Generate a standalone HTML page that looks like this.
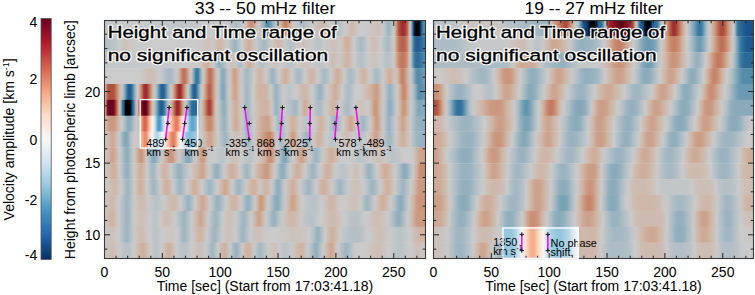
<!DOCTYPE html><html><head><meta charset="utf-8"><style>html,body{margin:0;padding:0;background:#fff;overflow:hidden}svg{display:block}</style></head><body><svg width="755" height="295" viewBox="0 0 755 295"><defs><linearGradient id="L0" gradientUnits="userSpaceOnUse" x1="104.5" y1="0" x2="425.5" y2="0"><stop offset="0.0000" stop-color="#bcc4c8"/><stop offset="0.0031" stop-color="#bdc4c8"/><stop offset="0.0078" stop-color="#bec4c8"/><stop offset="0.0125" stop-color="#bfc5c8"/><stop offset="0.0171" stop-color="#c0c5c9"/><stop offset="0.0218" stop-color="#c1c6c9"/><stop offset="0.0265" stop-color="#c2c6c9"/><stop offset="0.0312" stop-color="#c3c7c9"/><stop offset="0.0358" stop-color="#c4c7c9"/><stop offset="0.0405" stop-color="#c5c8c9"/><stop offset="0.0452" stop-color="#c6c8ca"/><stop offset="0.0499" stop-color="#c6c9ca"/><stop offset="0.0545" stop-color="#c7c9ca"/><stop offset="0.0592" stop-color="#c8c9ca"/><stop offset="0.0639" stop-color="#c8c9ca"/><stop offset="0.0686" stop-color="#c9caca"/><stop offset="0.0732" stop-color="#cacaca"/><stop offset="0.0779" stop-color="#cacaca"/><stop offset="0.0826" stop-color="#cacaca"/><stop offset="0.0873" stop-color="#cacaca"/><stop offset="0.0919" stop-color="#cacaca"/><stop offset="0.0966" stop-color="#c9caca"/><stop offset="0.1013" stop-color="#c9caca"/><stop offset="0.1060" stop-color="#c9caca"/><stop offset="0.1106" stop-color="#c8c9ca"/><stop offset="0.1153" stop-color="#c8c9ca"/><stop offset="0.1200" stop-color="#c8c9ca"/><stop offset="0.1246" stop-color="#c7c9ca"/><stop offset="0.1293" stop-color="#c7c9ca"/><stop offset="0.1340" stop-color="#c6c9ca"/><stop offset="0.1387" stop-color="#c6c8ca"/><stop offset="0.1433" stop-color="#c6c8ca"/><stop offset="0.1480" stop-color="#c5c8ca"/><stop offset="0.1527" stop-color="#c5c8ca"/><stop offset="0.1574" stop-color="#c5c8c9"/><stop offset="0.1620" stop-color="#c4c8c9"/><stop offset="0.1667" stop-color="#c4c7c9"/><stop offset="0.1714" stop-color="#c4c7c9"/><stop offset="0.1761" stop-color="#c3c7c9"/><stop offset="0.1807" stop-color="#c3c7c9"/><stop offset="0.1854" stop-color="#c3c7c9"/><stop offset="0.1901" stop-color="#c2c7c9"/><stop offset="0.1948" stop-color="#c2c6c9"/><stop offset="0.1994" stop-color="#c2c6c9"/><stop offset="0.2041" stop-color="#c1c6c9"/><stop offset="0.2088" stop-color="#c1c6c9"/><stop offset="0.2135" stop-color="#c1c6c9"/><stop offset="0.2181" stop-color="#c0c6c9"/><stop offset="0.2228" stop-color="#c0c6c9"/><stop offset="0.2275" stop-color="#c0c5c9"/><stop offset="0.2322" stop-color="#bfc5c8"/><stop offset="0.2368" stop-color="#bfc5c8"/><stop offset="0.2415" stop-color="#bfc5c8"/><stop offset="0.2462" stop-color="#bec5c8"/><stop offset="0.2509" stop-color="#bfc5c8"/><stop offset="0.2555" stop-color="#bfc5c9"/><stop offset="0.2602" stop-color="#c0c6c9"/><stop offset="0.2649" stop-color="#c1c6c9"/><stop offset="0.2696" stop-color="#c2c6c9"/><stop offset="0.2742" stop-color="#c3c7c9"/><stop offset="0.2789" stop-color="#c4c7c9"/><stop offset="0.2836" stop-color="#c4c8c9"/><stop offset="0.2883" stop-color="#c5c8ca"/><stop offset="0.2929" stop-color="#c6c8ca"/><stop offset="0.2976" stop-color="#c6c8ca"/><stop offset="0.3023" stop-color="#c6c8ca"/><stop offset="0.3069" stop-color="#c6c9ca"/><stop offset="0.3116" stop-color="#c7c9ca"/><stop offset="0.3163" stop-color="#c7c9ca"/><stop offset="0.3210" stop-color="#c7c9ca"/><stop offset="0.3256" stop-color="#c8c9ca"/><stop offset="0.3303" stop-color="#c8c9ca"/><stop offset="0.3350" stop-color="#c8c9ca"/><stop offset="0.3397" stop-color="#c8caca"/><stop offset="0.3443" stop-color="#c9caca"/><stop offset="0.3490" stop-color="#c9caca"/><stop offset="0.3537" stop-color="#c9caca"/><stop offset="0.3584" stop-color="#cacaca"/><stop offset="0.3630" stop-color="#cacaca"/><stop offset="0.3677" stop-color="#cacaca"/><stop offset="0.3724" stop-color="#cacaca"/><stop offset="0.3771" stop-color="#c9caca"/><stop offset="0.3817" stop-color="#c5c8ca"/><stop offset="0.3864" stop-color="#c2c6c9"/><stop offset="0.3911" stop-color="#bec4c8"/><stop offset="0.3958" stop-color="#bac3c7"/><stop offset="0.4004" stop-color="#b6c1c7"/><stop offset="0.4051" stop-color="#b2bfc6"/><stop offset="0.4098" stop-color="#afbdc5"/><stop offset="0.4145" stop-color="#afbec5"/><stop offset="0.4191" stop-color="#b5c0c7"/><stop offset="0.4238" stop-color="#bbc3c8"/><stop offset="0.4285" stop-color="#c2c6c9"/><stop offset="0.4332" stop-color="#c9caca"/><stop offset="0.4378" stop-color="#ccc3bd"/><stop offset="0.4425" stop-color="#cfb8ab"/><stop offset="0.4472" stop-color="#cda793"/><stop offset="0.4519" stop-color="#ca957c"/><stop offset="0.4565" stop-color="#c98f74"/><stop offset="0.4612" stop-color="#ca947b"/><stop offset="0.4659" stop-color="#cda490"/><stop offset="0.4706" stop-color="#cfb5a6"/><stop offset="0.4752" stop-color="#cdbeb6"/><stop offset="0.4799" stop-color="#cbc8c6"/><stop offset="0.4846" stop-color="#c0c5c9"/><stop offset="0.4892" stop-color="#b1bec6"/><stop offset="0.4939" stop-color="#9bb3c0"/><stop offset="0.4986" stop-color="#82a7b9"/><stop offset="0.5033" stop-color="#6696b0"/><stop offset="0.5079" stop-color="#5289a9"/><stop offset="0.5126" stop-color="#578dab"/><stop offset="0.5173" stop-color="#709cb3"/><stop offset="0.5220" stop-color="#89aabb"/><stop offset="0.5266" stop-color="#a1b6c2"/><stop offset="0.5313" stop-color="#b3bfc6"/><stop offset="0.5360" stop-color="#c2c6c9"/><stop offset="0.5407" stop-color="#cbc7c4"/><stop offset="0.5453" stop-color="#cebcb2"/><stop offset="0.5500" stop-color="#cfb1a0"/><stop offset="0.5547" stop-color="#cc9d86"/><stop offset="0.5594" stop-color="#c98a6e"/><stop offset="0.5640" stop-color="#c47f64"/><stop offset="0.5687" stop-color="#c8886b"/><stop offset="0.5734" stop-color="#cb9b83"/><stop offset="0.5781" stop-color="#cfb09e"/><stop offset="0.5827" stop-color="#cebcb2"/><stop offset="0.5874" stop-color="#cbc7c4"/><stop offset="0.5921" stop-color="#c7c9ca"/><stop offset="0.5968" stop-color="#c2c7c9"/><stop offset="0.6014" stop-color="#bdc4c8"/><stop offset="0.6061" stop-color="#b9c2c7"/><stop offset="0.6108" stop-color="#b4c0c6"/><stop offset="0.6155" stop-color="#afbec6"/><stop offset="0.6201" stop-color="#aebdc5"/><stop offset="0.6248" stop-color="#b2bfc6"/><stop offset="0.6295" stop-color="#b7c1c7"/><stop offset="0.6342" stop-color="#bbc3c8"/><stop offset="0.6388" stop-color="#c0c6c9"/><stop offset="0.6435" stop-color="#c5c8c9"/><stop offset="0.6482" stop-color="#c9caca"/><stop offset="0.6529" stop-color="#cbc8c7"/><stop offset="0.6575" stop-color="#ccc5c1"/><stop offset="0.6622" stop-color="#ccc2bb"/><stop offset="0.6669" stop-color="#cdbfb6"/><stop offset="0.6715" stop-color="#cebbb0"/><stop offset="0.6762" stop-color="#cebaad"/><stop offset="0.6809" stop-color="#cebcb1"/><stop offset="0.6856" stop-color="#cdbfb6"/><stop offset="0.6902" stop-color="#ccc2bc"/><stop offset="0.6949" stop-color="#ccc5c2"/><stop offset="0.6996" stop-color="#cbc9c7"/><stop offset="0.7043" stop-color="#c9caca"/><stop offset="0.7089" stop-color="#c4c8c9"/><stop offset="0.7136" stop-color="#c0c5c9"/><stop offset="0.7183" stop-color="#bbc3c8"/><stop offset="0.7230" stop-color="#b7c1c7"/><stop offset="0.7276" stop-color="#b5c0c6"/><stop offset="0.7323" stop-color="#b8c2c7"/><stop offset="0.7370" stop-color="#bdc4c8"/><stop offset="0.7417" stop-color="#c2c7c9"/><stop offset="0.7463" stop-color="#c7c9ca"/><stop offset="0.7510" stop-color="#cbc9c8"/><stop offset="0.7557" stop-color="#ccc5c1"/><stop offset="0.7604" stop-color="#cdc1ba"/><stop offset="0.7650" stop-color="#cdbdb4"/><stop offset="0.7697" stop-color="#cebaaf"/><stop offset="0.7744" stop-color="#cebcb1"/><stop offset="0.7791" stop-color="#cdc0b8"/><stop offset="0.7837" stop-color="#ccc3be"/><stop offset="0.7884" stop-color="#cbc7c4"/><stop offset="0.7931" stop-color="#cbcac9"/><stop offset="0.7978" stop-color="#cbcbcb"/><stop offset="0.8024" stop-color="#cbcbcb"/><stop offset="0.8071" stop-color="#cbcbcb"/><stop offset="0.8118" stop-color="#cbcbcb"/><stop offset="0.8165" stop-color="#cbcaca"/><stop offset="0.8211" stop-color="#cbc9c8"/><stop offset="0.8258" stop-color="#cbc8c6"/><stop offset="0.8305" stop-color="#cbc6c3"/><stop offset="0.8352" stop-color="#ccc4c0"/><stop offset="0.8398" stop-color="#ccc3bd"/><stop offset="0.8445" stop-color="#cdc1bb"/><stop offset="0.8492" stop-color="#cdc0b8"/><stop offset="0.8538" stop-color="#cdc0b9"/><stop offset="0.8585" stop-color="#ccc4bf"/><stop offset="0.8632" stop-color="#cbc7c5"/><stop offset="0.8679" stop-color="#c8caca"/><stop offset="0.8725" stop-color="#bec4c8"/><stop offset="0.8772" stop-color="#b1bfc6"/><stop offset="0.8819" stop-color="#a2b7c2"/><stop offset="0.8866" stop-color="#9cb4c0"/><stop offset="0.8912" stop-color="#adbcc5"/><stop offset="0.8959" stop-color="#bac3c7"/><stop offset="0.9006" stop-color="#c9caca"/><stop offset="0.9053" stop-color="#ceb9ad"/><stop offset="0.9099" stop-color="#ca9278"/><stop offset="0.9146" stop-color="#b9644f"/><stop offset="0.9193" stop-color="#ad4a3d"/><stop offset="0.9240" stop-color="#a43734"/><stop offset="0.9286" stop-color="#9e2b2e"/><stop offset="0.9333" stop-color="#a13131"/><stop offset="0.9380" stop-color="#a84139"/><stop offset="0.9427" stop-color="#b75f4c"/><stop offset="0.9473" stop-color="#cb9b84"/><stop offset="0.9520" stop-color="#cbc9c8"/><stop offset="0.9567" stop-color="#81a6b9"/><stop offset="0.9614" stop-color="#245f93"/><stop offset="0.9660" stop-color="#031b37"/><stop offset="0.9707" stop-color="#000000"/><stop offset="0.9754" stop-color="#000000"/><stop offset="0.9801" stop-color="#000000"/><stop offset="0.9847" stop-color="#0d3867"/><stop offset="0.9894" stop-color="#30709b"/><stop offset="0.9941" stop-color="#4c86a7"/><stop offset="0.9988" stop-color="#6696b0"/><stop offset="1.0000" stop-color="#6b9ab2"/></linearGradient><linearGradient id="L1" gradientUnits="userSpaceOnUse" x1="104.5" y1="0" x2="425.5" y2="0"><stop offset="0.0000" stop-color="#b3c0c6"/><stop offset="0.0031" stop-color="#b4c0c6"/><stop offset="0.0078" stop-color="#b5c0c7"/><stop offset="0.0125" stop-color="#b6c1c7"/><stop offset="0.0171" stop-color="#b7c1c7"/><stop offset="0.0218" stop-color="#b8c2c7"/><stop offset="0.0265" stop-color="#b9c2c7"/><stop offset="0.0312" stop-color="#bbc3c8"/><stop offset="0.0358" stop-color="#bec5c8"/><stop offset="0.0405" stop-color="#c3c7c9"/><stop offset="0.0452" stop-color="#c7c9ca"/><stop offset="0.0499" stop-color="#cbcac9"/><stop offset="0.0545" stop-color="#cbc6c3"/><stop offset="0.0592" stop-color="#ccc3be"/><stop offset="0.0639" stop-color="#cdc1bb"/><stop offset="0.0686" stop-color="#ccc2bb"/><stop offset="0.0732" stop-color="#ccc3be"/><stop offset="0.0779" stop-color="#ccc6c2"/><stop offset="0.0826" stop-color="#cbc8c5"/><stop offset="0.0873" stop-color="#cbc9c8"/><stop offset="0.0919" stop-color="#cbcaca"/><stop offset="0.0966" stop-color="#cbcbca"/><stop offset="0.1013" stop-color="#cbcbcb"/><stop offset="0.1060" stop-color="#cbcbcb"/><stop offset="0.1106" stop-color="#cbcbcb"/><stop offset="0.1153" stop-color="#cbcbcb"/><stop offset="0.1200" stop-color="#cbcbcb"/><stop offset="0.1246" stop-color="#cbcbcb"/><stop offset="0.1293" stop-color="#cbcbcb"/><stop offset="0.1340" stop-color="#cbcbcb"/><stop offset="0.1387" stop-color="#cbcbcb"/><stop offset="0.1433" stop-color="#cbcbcb"/><stop offset="0.1480" stop-color="#cbcbcb"/><stop offset="0.1527" stop-color="#cbcbcb"/><stop offset="0.1574" stop-color="#cbcbcb"/><stop offset="0.1620" stop-color="#cbcbcb"/><stop offset="0.1667" stop-color="#cbcbcb"/><stop offset="0.1714" stop-color="#cbcbcb"/><stop offset="0.1761" stop-color="#cbcbcb"/><stop offset="0.1807" stop-color="#cbcbcb"/><stop offset="0.1854" stop-color="#cbcbcb"/><stop offset="0.1901" stop-color="#cbcbcb"/><stop offset="0.1948" stop-color="#cbcbcb"/><stop offset="0.1994" stop-color="#cbcbcb"/><stop offset="0.2041" stop-color="#cbcbcb"/><stop offset="0.2088" stop-color="#cbcbcb"/><stop offset="0.2135" stop-color="#cbcbcb"/><stop offset="0.2181" stop-color="#cbcbcb"/><stop offset="0.2228" stop-color="#cbcbcb"/><stop offset="0.2275" stop-color="#cbcbcb"/><stop offset="0.2322" stop-color="#cbcbcb"/><stop offset="0.2368" stop-color="#cbcbcb"/><stop offset="0.2415" stop-color="#cbcbcb"/><stop offset="0.2462" stop-color="#cbcbcb"/><stop offset="0.2509" stop-color="#cbcbcb"/><stop offset="0.2555" stop-color="#cbcbcb"/><stop offset="0.2602" stop-color="#cbcbcb"/><stop offset="0.2649" stop-color="#cbcbcb"/><stop offset="0.2696" stop-color="#cbcbcb"/><stop offset="0.2742" stop-color="#cbcbcb"/><stop offset="0.2789" stop-color="#cbcbcb"/><stop offset="0.2836" stop-color="#cbcbcb"/><stop offset="0.2883" stop-color="#cbcbcb"/><stop offset="0.2929" stop-color="#cbcaca"/><stop offset="0.2976" stop-color="#cbc9c9"/><stop offset="0.3023" stop-color="#cbc8c6"/><stop offset="0.3069" stop-color="#ccc5c2"/><stop offset="0.3116" stop-color="#ccc3bd"/><stop offset="0.3163" stop-color="#cdc1ba"/><stop offset="0.3210" stop-color="#cdc1ba"/><stop offset="0.3256" stop-color="#ccc3bd"/><stop offset="0.3303" stop-color="#ccc5c2"/><stop offset="0.3350" stop-color="#cbc7c5"/><stop offset="0.3397" stop-color="#cbc6c3"/><stop offset="0.3443" stop-color="#ccc2bc"/><stop offset="0.3490" stop-color="#cebcb2"/><stop offset="0.3537" stop-color="#cfb7aa"/><stop offset="0.3584" stop-color="#cfb6a7"/><stop offset="0.3630" stop-color="#ceb8ac"/><stop offset="0.3677" stop-color="#cdbdb3"/><stop offset="0.3724" stop-color="#cdc1bb"/><stop offset="0.3771" stop-color="#cbc6c3"/><stop offset="0.3817" stop-color="#c9caca"/><stop offset="0.3864" stop-color="#c1c6c9"/><stop offset="0.3911" stop-color="#b8c2c7"/><stop offset="0.3958" stop-color="#afbec5"/><stop offset="0.4004" stop-color="#a4b8c3"/><stop offset="0.4051" stop-color="#9cb4c0"/><stop offset="0.4098" stop-color="#9fb6c1"/><stop offset="0.4145" stop-color="#acbcc5"/><stop offset="0.4191" stop-color="#b6c1c7"/><stop offset="0.4238" stop-color="#c0c6c9"/><stop offset="0.4285" stop-color="#cacacb"/><stop offset="0.4332" stop-color="#ccc4bf"/><stop offset="0.4378" stop-color="#cdbdb3"/><stop offset="0.4425" stop-color="#cfb6a8"/><stop offset="0.4472" stop-color="#cfaf9e"/><stop offset="0.4519" stop-color="#cfae9c"/><stop offset="0.4565" stop-color="#cfb5a5"/><stop offset="0.4612" stop-color="#cebbb0"/><stop offset="0.4659" stop-color="#ccc2bb"/><stop offset="0.4706" stop-color="#cbc8c7"/><stop offset="0.4752" stop-color="#c5c8ca"/><stop offset="0.4799" stop-color="#bdc4c8"/><stop offset="0.4846" stop-color="#b6c1c7"/><stop offset="0.4892" stop-color="#aebdc5"/><stop offset="0.4939" stop-color="#a7bac4"/><stop offset="0.4986" stop-color="#a7b9c3"/><stop offset="0.5033" stop-color="#aebdc5"/><stop offset="0.5079" stop-color="#b6c1c7"/><stop offset="0.5126" stop-color="#bfc5c8"/><stop offset="0.5173" stop-color="#c7c9ca"/><stop offset="0.5220" stop-color="#cbc7c5"/><stop offset="0.5266" stop-color="#ccc2bb"/><stop offset="0.5313" stop-color="#cebdb3"/><stop offset="0.5360" stop-color="#ceb8ab"/><stop offset="0.5407" stop-color="#cfb6a8"/><stop offset="0.5453" stop-color="#ceb9ac"/><stop offset="0.5500" stop-color="#cdbdb3"/><stop offset="0.5547" stop-color="#ccc2bc"/><stop offset="0.5594" stop-color="#cbc7c5"/><stop offset="0.5640" stop-color="#c8c9ca"/><stop offset="0.5687" stop-color="#c2c6c9"/><stop offset="0.5734" stop-color="#bbc3c8"/><stop offset="0.5781" stop-color="#b6c1c7"/><stop offset="0.5827" stop-color="#b5c1c7"/><stop offset="0.5874" stop-color="#b9c2c7"/><stop offset="0.5921" stop-color="#bec4c8"/><stop offset="0.5968" stop-color="#c3c7c9"/><stop offset="0.6014" stop-color="#c8caca"/><stop offset="0.6061" stop-color="#cbc9c7"/><stop offset="0.6108" stop-color="#ccc6c2"/><stop offset="0.6155" stop-color="#ccc3bd"/><stop offset="0.6201" stop-color="#cdc1ba"/><stop offset="0.6248" stop-color="#cdc1bb"/><stop offset="0.6295" stop-color="#ccc3be"/><stop offset="0.6342" stop-color="#ccc6c2"/><stop offset="0.6388" stop-color="#cbc8c6"/><stop offset="0.6435" stop-color="#cacaca"/><stop offset="0.6482" stop-color="#c6c8ca"/><stop offset="0.6529" stop-color="#c2c6c9"/><stop offset="0.6575" stop-color="#bec5c8"/><stop offset="0.6622" stop-color="#bbc3c8"/><stop offset="0.6669" stop-color="#bac3c8"/><stop offset="0.6715" stop-color="#bdc4c8"/><stop offset="0.6762" stop-color="#c1c6c9"/><stop offset="0.6809" stop-color="#c5c8ca"/><stop offset="0.6856" stop-color="#c9caca"/><stop offset="0.6902" stop-color="#cbc9c8"/><stop offset="0.6949" stop-color="#cbc7c4"/><stop offset="0.6996" stop-color="#ccc5c0"/><stop offset="0.7043" stop-color="#ccc2bd"/><stop offset="0.7089" stop-color="#cdc1ba"/><stop offset="0.7136" stop-color="#cdc1ba"/><stop offset="0.7183" stop-color="#ccc2bd"/><stop offset="0.7230" stop-color="#ccc5c1"/><stop offset="0.7276" stop-color="#cbc7c4"/><stop offset="0.7323" stop-color="#cbc7c5"/><stop offset="0.7370" stop-color="#ccc5c1"/><stop offset="0.7417" stop-color="#cdc0b8"/><stop offset="0.7463" stop-color="#ceb9ad"/><stop offset="0.7510" stop-color="#cfb4a3"/><stop offset="0.7557" stop-color="#ceae9c"/><stop offset="0.7604" stop-color="#cfb1a0"/><stop offset="0.7650" stop-color="#cfb8aa"/><stop offset="0.7697" stop-color="#cdbfb6"/><stop offset="0.7744" stop-color="#ccc6c3"/><stop offset="0.7791" stop-color="#c7c9ca"/><stop offset="0.7837" stop-color="#bec5c8"/><stop offset="0.7884" stop-color="#b6c1c7"/><stop offset="0.7931" stop-color="#adbdc5"/><stop offset="0.7978" stop-color="#a7b9c3"/><stop offset="0.8024" stop-color="#a9bbc4"/><stop offset="0.8071" stop-color="#b1bec6"/><stop offset="0.8118" stop-color="#b9c2c7"/><stop offset="0.8165" stop-color="#c2c6c9"/><stop offset="0.8211" stop-color="#cacaca"/><stop offset="0.8258" stop-color="#cbc6c4"/><stop offset="0.8305" stop-color="#ccc2bc"/><stop offset="0.8352" stop-color="#cdbfb7"/><stop offset="0.8398" stop-color="#cdbdb4"/><stop offset="0.8445" stop-color="#cdbfb6"/><stop offset="0.8492" stop-color="#ccc2bb"/><stop offset="0.8538" stop-color="#ccc5c1"/><stop offset="0.8585" stop-color="#cbc9c8"/><stop offset="0.8632" stop-color="#c6c8ca"/><stop offset="0.8679" stop-color="#bec5c8"/><stop offset="0.8725" stop-color="#b5c1c7"/><stop offset="0.8772" stop-color="#adbdc5"/><stop offset="0.8819" stop-color="#a7bac4"/><stop offset="0.8866" stop-color="#abbcc5"/><stop offset="0.8912" stop-color="#b3c0c6"/><stop offset="0.8959" stop-color="#bec5c8"/><stop offset="0.9006" stop-color="#cbc9c8"/><stop offset="0.9053" stop-color="#cebaad"/><stop offset="0.9099" stop-color="#cc9d86"/><stop offset="0.9146" stop-color="#c47f64"/><stop offset="0.9193" stop-color="#bc6d56"/><stop offset="0.9240" stop-color="#b96651"/><stop offset="0.9286" stop-color="#b8634f"/><stop offset="0.9333" stop-color="#b96551"/><stop offset="0.9380" stop-color="#bd6e57"/><stop offset="0.9427" stop-color="#c78569"/><stop offset="0.9473" stop-color="#cea996"/><stop offset="0.9520" stop-color="#cbc9c8"/><stop offset="0.9567" stop-color="#9bb3c0"/><stop offset="0.9614" stop-color="#558baa"/><stop offset="0.9660" stop-color="#2e6d9a"/><stop offset="0.9707" stop-color="#235f93"/><stop offset="0.9754" stop-color="#215b91"/><stop offset="0.9801" stop-color="#245f93"/><stop offset="0.9847" stop-color="#2a6797"/><stop offset="0.9894" stop-color="#306f9b"/><stop offset="0.9941" stop-color="#3678a0"/><stop offset="0.9988" stop-color="#427fa4"/><stop offset="1.0000" stop-color="#4481a5"/></linearGradient><linearGradient id="L2" gradientUnits="userSpaceOnUse" x1="104.5" y1="0" x2="425.5" y2="0"><stop offset="0.0000" stop-color="#c3c7c9"/><stop offset="0.0031" stop-color="#c4c7c9"/><stop offset="0.0078" stop-color="#c4c7c9"/><stop offset="0.0125" stop-color="#c4c7c9"/><stop offset="0.0171" stop-color="#c4c7c9"/><stop offset="0.0218" stop-color="#c4c7c9"/><stop offset="0.0265" stop-color="#c4c7c9"/><stop offset="0.0312" stop-color="#c4c8c9"/><stop offset="0.0358" stop-color="#c4c8c9"/><stop offset="0.0405" stop-color="#c4c8c9"/><stop offset="0.0452" stop-color="#c5c8c9"/><stop offset="0.0499" stop-color="#c5c8c9"/><stop offset="0.0545" stop-color="#c5c8c9"/><stop offset="0.0592" stop-color="#c5c8c9"/><stop offset="0.0639" stop-color="#c5c8ca"/><stop offset="0.0686" stop-color="#c5c8ca"/><stop offset="0.0732" stop-color="#c5c8ca"/><stop offset="0.0779" stop-color="#c5c8ca"/><stop offset="0.0826" stop-color="#c5c8ca"/><stop offset="0.0873" stop-color="#c6c8ca"/><stop offset="0.0919" stop-color="#c6c8ca"/><stop offset="0.0966" stop-color="#c6c8ca"/><stop offset="0.1013" stop-color="#c6c8ca"/><stop offset="0.1060" stop-color="#c6c8ca"/><stop offset="0.1106" stop-color="#c6c8ca"/><stop offset="0.1153" stop-color="#c6c8ca"/><stop offset="0.1200" stop-color="#c6c9ca"/><stop offset="0.1246" stop-color="#c6c9ca"/><stop offset="0.1293" stop-color="#c7c9ca"/><stop offset="0.1340" stop-color="#c7c9ca"/><stop offset="0.1387" stop-color="#c7c9ca"/><stop offset="0.1433" stop-color="#c7c9ca"/><stop offset="0.1480" stop-color="#c7c9ca"/><stop offset="0.1527" stop-color="#c7c9ca"/><stop offset="0.1574" stop-color="#c7c9ca"/><stop offset="0.1620" stop-color="#c7c9ca"/><stop offset="0.1667" stop-color="#c7c9ca"/><stop offset="0.1714" stop-color="#c8c9ca"/><stop offset="0.1761" stop-color="#c8c9ca"/><stop offset="0.1807" stop-color="#c8c9ca"/><stop offset="0.1854" stop-color="#c8c9ca"/><stop offset="0.1901" stop-color="#c8c9ca"/><stop offset="0.1948" stop-color="#c8c9ca"/><stop offset="0.1994" stop-color="#c8c9ca"/><stop offset="0.2041" stop-color="#c8c9ca"/><stop offset="0.2088" stop-color="#c8caca"/><stop offset="0.2135" stop-color="#c9caca"/><stop offset="0.2181" stop-color="#c9caca"/><stop offset="0.2228" stop-color="#c9caca"/><stop offset="0.2275" stop-color="#c9caca"/><stop offset="0.2322" stop-color="#c9caca"/><stop offset="0.2368" stop-color="#c9caca"/><stop offset="0.2415" stop-color="#c9caca"/><stop offset="0.2462" stop-color="#c9caca"/><stop offset="0.2509" stop-color="#c9caca"/><stop offset="0.2555" stop-color="#cacaca"/><stop offset="0.2602" stop-color="#cacaca"/><stop offset="0.2649" stop-color="#cacaca"/><stop offset="0.2696" stop-color="#cacaca"/><stop offset="0.2742" stop-color="#cacaca"/><stop offset="0.2789" stop-color="#cacaca"/><stop offset="0.2836" stop-color="#cacaca"/><stop offset="0.2883" stop-color="#cacacb"/><stop offset="0.2929" stop-color="#cbcaca"/><stop offset="0.2976" stop-color="#cbc8c6"/><stop offset="0.3023" stop-color="#ccc3bd"/><stop offset="0.3069" stop-color="#cebcb1"/><stop offset="0.3116" stop-color="#cfb5a6"/><stop offset="0.3163" stop-color="#cfaf9d"/><stop offset="0.3210" stop-color="#cfb1a0"/><stop offset="0.3256" stop-color="#cfb8aa"/><stop offset="0.3303" stop-color="#cdbfb6"/><stop offset="0.3350" stop-color="#cbc6c3"/><stop offset="0.3397" stop-color="#c6c8ca"/><stop offset="0.3443" stop-color="#bac3c8"/><stop offset="0.3490" stop-color="#aebdc5"/><stop offset="0.3537" stop-color="#9eb5c1"/><stop offset="0.3584" stop-color="#92afbe"/><stop offset="0.3630" stop-color="#93b0be"/><stop offset="0.3677" stop-color="#a0b6c2"/><stop offset="0.3724" stop-color="#afbdc5"/><stop offset="0.3771" stop-color="#b9c2c7"/><stop offset="0.3817" stop-color="#c3c7c9"/><stop offset="0.3864" stop-color="#cbcac9"/><stop offset="0.3911" stop-color="#ccc4c0"/><stop offset="0.3958" stop-color="#cdc0b9"/><stop offset="0.4004" stop-color="#cdc0b9"/><stop offset="0.4051" stop-color="#ccc6c2"/><stop offset="0.4098" stop-color="#c5c8c9"/><stop offset="0.4145" stop-color="#b8c2c7"/><stop offset="0.4191" stop-color="#aebdc5"/><stop offset="0.4238" stop-color="#aebdc5"/><stop offset="0.4285" stop-color="#b7c1c7"/><stop offset="0.4332" stop-color="#c5c8ca"/><stop offset="0.4378" stop-color="#ccc4bf"/><stop offset="0.4425" stop-color="#cebaae"/><stop offset="0.4472" stop-color="#cfb1a0"/><stop offset="0.4519" stop-color="#ceac9a"/><stop offset="0.4565" stop-color="#cfb3a3"/><stop offset="0.4612" stop-color="#cebaae"/><stop offset="0.4659" stop-color="#cdc1ba"/><stop offset="0.4706" stop-color="#cbc8c6"/><stop offset="0.4752" stop-color="#c6c9ca"/><stop offset="0.4799" stop-color="#c0c5c9"/><stop offset="0.4846" stop-color="#b9c2c7"/><stop offset="0.4892" stop-color="#b6c1c7"/><stop offset="0.4939" stop-color="#b6c1c7"/><stop offset="0.4986" stop-color="#bac3c8"/><stop offset="0.5033" stop-color="#c0c5c9"/><stop offset="0.5079" stop-color="#c5c8ca"/><stop offset="0.5126" stop-color="#cacaca"/><stop offset="0.5173" stop-color="#cbc8c5"/><stop offset="0.5220" stop-color="#ccc5c0"/><stop offset="0.5266" stop-color="#ccc2bc"/><stop offset="0.5313" stop-color="#cdc1ba"/><stop offset="0.5360" stop-color="#ccc2bc"/><stop offset="0.5407" stop-color="#ccc4bf"/><stop offset="0.5453" stop-color="#cbc6c3"/><stop offset="0.5500" stop-color="#cbc9c8"/><stop offset="0.5547" stop-color="#c9caca"/><stop offset="0.5594" stop-color="#c5c8ca"/><stop offset="0.5640" stop-color="#c2c6c9"/><stop offset="0.5687" stop-color="#bec5c8"/><stop offset="0.5734" stop-color="#bbc3c8"/><stop offset="0.5781" stop-color="#bac3c7"/><stop offset="0.5827" stop-color="#bcc4c8"/><stop offset="0.5874" stop-color="#bfc5c8"/><stop offset="0.5921" stop-color="#c4c7c9"/><stop offset="0.5968" stop-color="#c8c9ca"/><stop offset="0.6014" stop-color="#cbcac9"/><stop offset="0.6061" stop-color="#cbc8c5"/><stop offset="0.6108" stop-color="#ccc5c2"/><stop offset="0.6155" stop-color="#ccc3be"/><stop offset="0.6201" stop-color="#cdc1bb"/><stop offset="0.6248" stop-color="#cdc1ba"/><stop offset="0.6295" stop-color="#ccc2bb"/><stop offset="0.6342" stop-color="#ccc4bf"/><stop offset="0.6388" stop-color="#cbc6c4"/><stop offset="0.6435" stop-color="#cbc9c8"/><stop offset="0.6482" stop-color="#c9caca"/><stop offset="0.6529" stop-color="#c5c8ca"/><stop offset="0.6575" stop-color="#c2c6c9"/><stop offset="0.6622" stop-color="#bec5c8"/><stop offset="0.6669" stop-color="#bbc3c8"/><stop offset="0.6715" stop-color="#bac3c7"/><stop offset="0.6762" stop-color="#bcc4c8"/><stop offset="0.6809" stop-color="#bfc5c9"/><stop offset="0.6856" stop-color="#c4c7c9"/><stop offset="0.6902" stop-color="#c8c9ca"/><stop offset="0.6949" stop-color="#cbc9c8"/><stop offset="0.6996" stop-color="#ccc5c1"/><stop offset="0.7043" stop-color="#cdc1ba"/><stop offset="0.7089" stop-color="#cdbeb5"/><stop offset="0.7136" stop-color="#cdbdb4"/><stop offset="0.7183" stop-color="#cdbfb8"/><stop offset="0.7230" stop-color="#ccc3bd"/><stop offset="0.7276" stop-color="#ccc6c2"/><stop offset="0.7323" stop-color="#cbc7c5"/><stop offset="0.7370" stop-color="#ccc5c1"/><stop offset="0.7417" stop-color="#cdc0b9"/><stop offset="0.7463" stop-color="#cebbaf"/><stop offset="0.7510" stop-color="#cfb6a7"/><stop offset="0.7557" stop-color="#cfb4a4"/><stop offset="0.7604" stop-color="#cfb6a8"/><stop offset="0.7650" stop-color="#cebbb0"/><stop offset="0.7697" stop-color="#cdc1ba"/><stop offset="0.7744" stop-color="#cbc7c4"/><stop offset="0.7791" stop-color="#c9caca"/><stop offset="0.7837" stop-color="#c3c7c9"/><stop offset="0.7884" stop-color="#bdc4c8"/><stop offset="0.7931" stop-color="#b8c2c7"/><stop offset="0.7978" stop-color="#b5c0c7"/><stop offset="0.8024" stop-color="#b6c1c7"/><stop offset="0.8071" stop-color="#bac3c8"/><stop offset="0.8118" stop-color="#c0c5c9"/><stop offset="0.8165" stop-color="#c5c8ca"/><stop offset="0.8211" stop-color="#cacaca"/><stop offset="0.8258" stop-color="#cbc8c5"/><stop offset="0.8305" stop-color="#ccc5c0"/><stop offset="0.8352" stop-color="#ccc2bc"/><stop offset="0.8398" stop-color="#cdc1ba"/><stop offset="0.8445" stop-color="#ccc2bc"/><stop offset="0.8492" stop-color="#ccc4bf"/><stop offset="0.8538" stop-color="#cbc7c4"/><stop offset="0.8585" stop-color="#cbc9c8"/><stop offset="0.8632" stop-color="#c8c9ca"/><stop offset="0.8679" stop-color="#c3c7c9"/><stop offset="0.8725" stop-color="#bdc4c8"/><stop offset="0.8772" stop-color="#b8c2c7"/><stop offset="0.8819" stop-color="#b5c0c7"/><stop offset="0.8866" stop-color="#b7c1c7"/><stop offset="0.8912" stop-color="#bcc4c8"/><stop offset="0.8959" stop-color="#c3c7c9"/><stop offset="0.9006" stop-color="#cbc9c7"/><stop offset="0.9053" stop-color="#cebdb3"/><stop offset="0.9099" stop-color="#cea996"/><stop offset="0.9146" stop-color="#ca9278"/><stop offset="0.9193" stop-color="#c68367"/><stop offset="0.9240" stop-color="#c27a60"/><stop offset="0.9286" stop-color="#c1765e"/><stop offset="0.9333" stop-color="#c27a60"/><stop offset="0.9380" stop-color="#c78468"/><stop offset="0.9427" stop-color="#cb967e"/><stop offset="0.9473" stop-color="#cfb4a5"/><stop offset="0.9520" stop-color="#c9caca"/><stop offset="0.9567" stop-color="#9fb6c1"/><stop offset="0.9614" stop-color="#6596b0"/><stop offset="0.9660" stop-color="#3a7ba1"/><stop offset="0.9707" stop-color="#306f9b"/><stop offset="0.9754" stop-color="#2d6c99"/><stop offset="0.9801" stop-color="#306f9b"/><stop offset="0.9847" stop-color="#35769f"/><stop offset="0.9894" stop-color="#407ea3"/><stop offset="0.9941" stop-color="#4d87a8"/><stop offset="0.9988" stop-color="#598eac"/><stop offset="1.0000" stop-color="#5c90ad"/></linearGradient><linearGradient id="L3" gradientUnits="userSpaceOnUse" x1="104.5" y1="0" x2="425.5" y2="0"><stop offset="0.0000" stop-color="#cbcbcb"/><stop offset="0.0031" stop-color="#cbcbcb"/><stop offset="0.0078" stop-color="#cbcbcb"/><stop offset="0.0125" stop-color="#cbcbcb"/><stop offset="0.0171" stop-color="#cbcbcb"/><stop offset="0.0218" stop-color="#cbcbcb"/><stop offset="0.0265" stop-color="#cbcbcb"/><stop offset="0.0312" stop-color="#cbcbcb"/><stop offset="0.0358" stop-color="#cbcbcb"/><stop offset="0.0405" stop-color="#cbcbcb"/><stop offset="0.0452" stop-color="#cbcbcb"/><stop offset="0.0499" stop-color="#cbcbcb"/><stop offset="0.0545" stop-color="#cbcbcb"/><stop offset="0.0592" stop-color="#cbcbcb"/><stop offset="0.0639" stop-color="#cbcbcb"/><stop offset="0.0686" stop-color="#cbcbcb"/><stop offset="0.0732" stop-color="#cbcbcb"/><stop offset="0.0779" stop-color="#cbcbcb"/><stop offset="0.0826" stop-color="#cbcbcb"/><stop offset="0.0873" stop-color="#cbcbcb"/><stop offset="0.0919" stop-color="#cbcbcb"/><stop offset="0.0966" stop-color="#cbcbcb"/><stop offset="0.1013" stop-color="#cbcbcb"/><stop offset="0.1060" stop-color="#cbcaca"/><stop offset="0.1106" stop-color="#cbcac9"/><stop offset="0.1153" stop-color="#cbc8c7"/><stop offset="0.1200" stop-color="#cbc6c3"/><stop offset="0.1246" stop-color="#ccc4c0"/><stop offset="0.1293" stop-color="#ccc2bc"/><stop offset="0.1340" stop-color="#cdc0b8"/><stop offset="0.1387" stop-color="#cdbeb6"/><stop offset="0.1433" stop-color="#cdbeb5"/><stop offset="0.1480" stop-color="#cdbfb7"/><stop offset="0.1527" stop-color="#cdc1bb"/><stop offset="0.1574" stop-color="#ccc3be"/><stop offset="0.1620" stop-color="#ccc6c2"/><stop offset="0.1667" stop-color="#cbc8c6"/><stop offset="0.1714" stop-color="#cbcaca"/><stop offset="0.1761" stop-color="#c6c8ca"/><stop offset="0.1807" stop-color="#c0c6c9"/><stop offset="0.1854" stop-color="#bac3c7"/><stop offset="0.1901" stop-color="#b4c0c6"/><stop offset="0.1948" stop-color="#aebdc5"/><stop offset="0.1994" stop-color="#a7b9c4"/><stop offset="0.2041" stop-color="#a5b8c3"/><stop offset="0.2088" stop-color="#abbcc5"/><stop offset="0.2135" stop-color="#b3bfc6"/><stop offset="0.2181" stop-color="#bcc4c8"/><stop offset="0.2228" stop-color="#c6c9ca"/><stop offset="0.2275" stop-color="#ccc3be"/><stop offset="0.2322" stop-color="#cfb6a8"/><stop offset="0.2368" stop-color="#cc9d87"/><stop offset="0.2415" stop-color="#c68367"/><stop offset="0.2462" stop-color="#be7058"/><stop offset="0.2509" stop-color="#bf735b"/><stop offset="0.2555" stop-color="#c8896d"/><stop offset="0.2602" stop-color="#cda28d"/><stop offset="0.2649" stop-color="#cebaae"/><stop offset="0.2696" stop-color="#c8c9ca"/><stop offset="0.2742" stop-color="#aabbc4"/><stop offset="0.2789" stop-color="#79a2b6"/><stop offset="0.2836" stop-color="#4682a5"/><stop offset="0.2883" stop-color="#34759e"/><stop offset="0.2929" stop-color="#4783a6"/><stop offset="0.2976" stop-color="#7ba3b7"/><stop offset="0.3023" stop-color="#abbcc5"/><stop offset="0.3069" stop-color="#c7c9ca"/><stop offset="0.3116" stop-color="#cebcb2"/><stop offset="0.3163" stop-color="#cda793"/><stop offset="0.3210" stop-color="#c98c70"/><stop offset="0.3256" stop-color="#c0745c"/><stop offset="0.3303" stop-color="#be6f58"/><stop offset="0.3350" stop-color="#c58065"/><stop offset="0.3397" stop-color="#cb9880"/><stop offset="0.3443" stop-color="#cfb1a0"/><stop offset="0.3490" stop-color="#cdc0b8"/><stop offset="0.3537" stop-color="#c6c9ca"/><stop offset="0.3584" stop-color="#b3bfc6"/><stop offset="0.3630" stop-color="#9cb4c0"/><stop offset="0.3677" stop-color="#8bacbc"/><stop offset="0.3724" stop-color="#8eadbc"/><stop offset="0.3771" stop-color="#a1b6c2"/><stop offset="0.3817" stop-color="#b5c0c6"/><stop offset="0.3864" stop-color="#c5c8c9"/><stop offset="0.3911" stop-color="#ccc3be"/><stop offset="0.3958" stop-color="#ceb8ab"/><stop offset="0.4004" stop-color="#ceaa97"/><stop offset="0.4051" stop-color="#cc9f89"/><stop offset="0.4098" stop-color="#cda28d"/><stop offset="0.4145" stop-color="#cfb09f"/><stop offset="0.4191" stop-color="#cebcb2"/><stop offset="0.4238" stop-color="#cbc6c3"/><stop offset="0.4285" stop-color="#c4c7c9"/><stop offset="0.4332" stop-color="#b9c2c7"/><stop offset="0.4378" stop-color="#afbdc5"/><stop offset="0.4425" stop-color="#a7b9c4"/><stop offset="0.4472" stop-color="#a8bac4"/><stop offset="0.4519" stop-color="#b0bec6"/><stop offset="0.4565" stop-color="#b9c2c7"/><stop offset="0.4612" stop-color="#c2c6c9"/><stop offset="0.4659" stop-color="#cbcaca"/><stop offset="0.4706" stop-color="#ccc4bf"/><stop offset="0.4752" stop-color="#cdbdb3"/><stop offset="0.4799" stop-color="#cfb7a9"/><stop offset="0.4846" stop-color="#cfb5a5"/><stop offset="0.4892" stop-color="#cfb8aa"/><stop offset="0.4939" stop-color="#cdbdb4"/><stop offset="0.4986" stop-color="#ccc4c0"/><stop offset="0.5033" stop-color="#c9caca"/><stop offset="0.5079" stop-color="#bfc5c8"/><stop offset="0.5126" stop-color="#b4c0c6"/><stop offset="0.5173" stop-color="#a8bac4"/><stop offset="0.5220" stop-color="#9eb5c1"/><stop offset="0.5266" stop-color="#a1b6c2"/><stop offset="0.5313" stop-color="#aebdc5"/><stop offset="0.5360" stop-color="#b8c2c7"/><stop offset="0.5407" stop-color="#c3c7c9"/><stop offset="0.5453" stop-color="#cbc8c6"/><stop offset="0.5500" stop-color="#cdc1ba"/><stop offset="0.5547" stop-color="#ceb9ad"/><stop offset="0.5594" stop-color="#cfb3a2"/><stop offset="0.5640" stop-color="#cfae9c"/><stop offset="0.5687" stop-color="#cfb4a3"/><stop offset="0.5734" stop-color="#cebaae"/><stop offset="0.5781" stop-color="#cdc1ba"/><stop offset="0.5827" stop-color="#cbc8c7"/><stop offset="0.5874" stop-color="#c4c7c9"/><stop offset="0.5921" stop-color="#bac3c8"/><stop offset="0.5968" stop-color="#b1bfc6"/><stop offset="0.6014" stop-color="#aabbc4"/><stop offset="0.6061" stop-color="#a8bac4"/><stop offset="0.6108" stop-color="#afbec5"/><stop offset="0.6155" stop-color="#b8c2c7"/><stop offset="0.6201" stop-color="#c1c6c9"/><stop offset="0.6248" stop-color="#cbcbcb"/><stop offset="0.6295" stop-color="#ccc4bf"/><stop offset="0.6342" stop-color="#cdbeb5"/><stop offset="0.6388" stop-color="#cfb8ab"/><stop offset="0.6435" stop-color="#cfb4a5"/><stop offset="0.6482" stop-color="#cfb5a6"/><stop offset="0.6529" stop-color="#cebaaf"/><stop offset="0.6575" stop-color="#cdc0b9"/><stop offset="0.6622" stop-color="#cbc7c4"/><stop offset="0.6669" stop-color="#c7c9ca"/><stop offset="0.6715" stop-color="#bdc4c8"/><stop offset="0.6762" stop-color="#b4c0c6"/><stop offset="0.6809" stop-color="#acbcc5"/><stop offset="0.6856" stop-color="#a7bac4"/><stop offset="0.6902" stop-color="#adbcc5"/><stop offset="0.6949" stop-color="#b5c0c7"/><stop offset="0.6996" stop-color="#bec5c8"/><stop offset="0.7043" stop-color="#c8c9ca"/><stop offset="0.7089" stop-color="#ccc5c1"/><stop offset="0.7136" stop-color="#cdbeb5"/><stop offset="0.7183" stop-color="#cfb7a9"/><stop offset="0.7230" stop-color="#cfaf9d"/><stop offset="0.7276" stop-color="#cead9b"/><stop offset="0.7323" stop-color="#cfb5a5"/><stop offset="0.7370" stop-color="#cebcb1"/><stop offset="0.7417" stop-color="#ccc3be"/><stop offset="0.7463" stop-color="#cacacb"/><stop offset="0.7510" stop-color="#c1c6c9"/><stop offset="0.7557" stop-color="#b7c1c7"/><stop offset="0.7604" stop-color="#aebdc5"/><stop offset="0.7650" stop-color="#a8bac4"/><stop offset="0.7697" stop-color="#aabbc4"/><stop offset="0.7744" stop-color="#b2bfc6"/><stop offset="0.7791" stop-color="#bbc3c8"/><stop offset="0.7837" stop-color="#c5c8c9"/><stop offset="0.7884" stop-color="#cbc8c7"/><stop offset="0.7931" stop-color="#ccc2bc"/><stop offset="0.7978" stop-color="#cebcb1"/><stop offset="0.8024" stop-color="#cfb6a8"/><stop offset="0.8071" stop-color="#cfb4a4"/><stop offset="0.8118" stop-color="#cfb7a9"/><stop offset="0.8165" stop-color="#cebcb2"/><stop offset="0.8211" stop-color="#ccc3bd"/><stop offset="0.8258" stop-color="#cbc9c8"/><stop offset="0.8305" stop-color="#c4c7c9"/><stop offset="0.8352" stop-color="#bac3c8"/><stop offset="0.8398" stop-color="#b1bec6"/><stop offset="0.8445" stop-color="#a9bbc4"/><stop offset="0.8492" stop-color="#a8bac4"/><stop offset="0.8538" stop-color="#afbec6"/><stop offset="0.8585" stop-color="#b8c2c7"/><stop offset="0.8632" stop-color="#c2c6c9"/><stop offset="0.8679" stop-color="#cbcaca"/><stop offset="0.8725" stop-color="#ccc3bd"/><stop offset="0.8772" stop-color="#cebcb1"/><stop offset="0.8819" stop-color="#cfb5a6"/><stop offset="0.8866" stop-color="#cfaf9d"/><stop offset="0.8912" stop-color="#cfb1a0"/><stop offset="0.8959" stop-color="#cfb8aa"/><stop offset="0.9006" stop-color="#cdbeb6"/><stop offset="0.9053" stop-color="#ccc2bd"/><stop offset="0.9099" stop-color="#cdc0b8"/><stop offset="0.9146" stop-color="#cfb5a6"/><stop offset="0.9193" stop-color="#cc9e87"/><stop offset="0.9240" stop-color="#c98a6e"/><stop offset="0.9286" stop-color="#c68266"/><stop offset="0.9333" stop-color="#c8896d"/><stop offset="0.9380" stop-color="#cb9981"/><stop offset="0.9427" stop-color="#ceac9a"/><stop offset="0.9473" stop-color="#cebbaf"/><stop offset="0.9520" stop-color="#cbc7c5"/><stop offset="0.9567" stop-color="#bbc3c8"/><stop offset="0.9614" stop-color="#a2b7c2"/><stop offset="0.9660" stop-color="#80a6b8"/><stop offset="0.9707" stop-color="#6294ae"/><stop offset="0.9754" stop-color="#538baa"/><stop offset="0.9801" stop-color="#558baa"/><stop offset="0.9847" stop-color="#5c90ad"/><stop offset="0.9894" stop-color="#6596b0"/><stop offset="0.9941" stop-color="#6d9bb2"/><stop offset="0.9988" stop-color="#749fb5"/><stop offset="1.0000" stop-color="#76a0b5"/></linearGradient><linearGradient id="L4" gradientUnits="userSpaceOnUse" x1="104.5" y1="0" x2="425.5" y2="0"><stop offset="0.0000" stop-color="#ccc2bc"/><stop offset="0.0047" stop-color="#cb9981"/><stop offset="0.0093" stop-color="#b8634f"/><stop offset="0.0140" stop-color="#b05040"/><stop offset="0.0187" stop-color="#af4f3f"/><stop offset="0.0234" stop-color="#af4f3f"/><stop offset="0.0280" stop-color="#b15141"/><stop offset="0.0327" stop-color="#b9644f"/><stop offset="0.0374" stop-color="#c68267"/><stop offset="0.0421" stop-color="#cb9c85"/><stop offset="0.0467" stop-color="#cfb4a4"/><stop offset="0.0514" stop-color="#ccc2bc"/><stop offset="0.0561" stop-color="#bdc4c8"/><stop offset="0.0608" stop-color="#9bb4c0"/><stop offset="0.0654" stop-color="#6c9ab2"/><stop offset="0.0701" stop-color="#36779f"/><stop offset="0.0748" stop-color="#256093"/><stop offset="0.0795" stop-color="#225d92"/><stop offset="0.0841" stop-color="#2e6d9a"/><stop offset="0.0888" stop-color="#578dab"/><stop offset="0.0935" stop-color="#89aabb"/><stop offset="0.0982" stop-color="#b1bec6"/><stop offset="0.1028" stop-color="#cbcbcb"/><stop offset="0.1075" stop-color="#cfb8aa"/><stop offset="0.1122" stop-color="#cb9880"/><stop offset="0.1169" stop-color="#bd6f58"/><stop offset="0.1215" stop-color="#a94239"/><stop offset="0.1262" stop-color="#9d2a2e"/><stop offset="0.1309" stop-color="#9f2e30"/><stop offset="0.1356" stop-color="#ae4b3d"/><stop offset="0.1402" stop-color="#be715a"/><stop offset="0.1449" stop-color="#ca947b"/><stop offset="0.1496" stop-color="#cfb2a2"/><stop offset="0.1543" stop-color="#ccc3be"/><stop offset="0.1589" stop-color="#bbc3c8"/><stop offset="0.1636" stop-color="#9ab3c0"/><stop offset="0.1683" stop-color="#6c9ab2"/><stop offset="0.1730" stop-color="#3778a0"/><stop offset="0.1776" stop-color="#266294"/><stop offset="0.1823" stop-color="#245f93"/><stop offset="0.1870" stop-color="#2f6e9a"/><stop offset="0.1916" stop-color="#548baa"/><stop offset="0.1963" stop-color="#83a7b9"/><stop offset="0.2010" stop-color="#abbbc5"/><stop offset="0.2057" stop-color="#c3c7c9"/><stop offset="0.2103" stop-color="#cdbfb6"/><stop offset="0.2150" stop-color="#cda894"/><stop offset="0.2197" stop-color="#c8866a"/><stop offset="0.2244" stop-color="#b55b49"/><stop offset="0.2290" stop-color="#a33633"/><stop offset="0.2337" stop-color="#9d292d"/><stop offset="0.2384" stop-color="#a33633"/><stop offset="0.2431" stop-color="#b55b49"/><stop offset="0.2477" stop-color="#c78569"/><stop offset="0.2524" stop-color="#cda691"/><stop offset="0.2571" stop-color="#cdbeb5"/><stop offset="0.2618" stop-color="#bfc5c8"/><stop offset="0.2664" stop-color="#96b1bf"/><stop offset="0.2711" stop-color="#5a8fac"/><stop offset="0.2758" stop-color="#2c6a98"/><stop offset="0.2805" stop-color="#225d92"/><stop offset="0.2851" stop-color="#2b6998"/><stop offset="0.2898" stop-color="#5189a9"/><stop offset="0.2945" stop-color="#87aabb"/><stop offset="0.2992" stop-color="#b2bfc6"/><stop offset="0.3038" stop-color="#cbc9c8"/><stop offset="0.3085" stop-color="#cebaae"/><stop offset="0.3132" stop-color="#cda490"/><stop offset="0.3179" stop-color="#c8896d"/><stop offset="0.3225" stop-color="#bc6b55"/><stop offset="0.3272" stop-color="#b75f4c"/><stop offset="0.3319" stop-color="#bc6b55"/><stop offset="0.3366" stop-color="#c8896d"/><stop offset="0.3412" stop-color="#cda38e"/><stop offset="0.3459" stop-color="#ceb8ab"/><stop offset="0.3506" stop-color="#cbc6c3"/><stop offset="0.3553" stop-color="#bdc4c8"/><stop offset="0.3599" stop-color="#a8bac4"/><stop offset="0.3646" stop-color="#8bacbc"/><stop offset="0.3693" stop-color="#82a7b9"/><stop offset="0.3739" stop-color="#8babbc"/><stop offset="0.3786" stop-color="#a4b8c3"/><stop offset="0.3833" stop-color="#b8c2c7"/><stop offset="0.3880" stop-color="#c9caca"/><stop offset="0.3926" stop-color="#cdc0b9"/><stop offset="0.3973" stop-color="#cfb6a8"/><stop offset="0.4020" stop-color="#cea895"/><stop offset="0.4067" stop-color="#cda38e"/><stop offset="0.4113" stop-color="#cea895"/><stop offset="0.4160" stop-color="#cfb6a7"/><stop offset="0.4207" stop-color="#cdbeb6"/><stop offset="0.4254" stop-color="#cbc7c5"/><stop offset="0.4300" stop-color="#c2c6c9"/><stop offset="0.4347" stop-color="#b5c0c7"/><stop offset="0.4394" stop-color="#a9bbc4"/><stop offset="0.4441" stop-color="#a3b8c2"/><stop offset="0.4487" stop-color="#a9bac4"/><stop offset="0.4534" stop-color="#b3bfc6"/><stop offset="0.4581" stop-color="#bec5c8"/><stop offset="0.4628" stop-color="#c8caca"/><stop offset="0.4674" stop-color="#ccc5c1"/><stop offset="0.4721" stop-color="#cdbeb6"/><stop offset="0.4768" stop-color="#ceb8ab"/><stop offset="0.4815" stop-color="#cfb4a3"/><stop offset="0.4861" stop-color="#cfb2a1"/><stop offset="0.4908" stop-color="#cfb2a2"/><stop offset="0.4955" stop-color="#cfb3a3"/><stop offset="0.5002" stop-color="#cfb4a4"/><stop offset="0.5048" stop-color="#cfb7a9"/><stop offset="0.5095" stop-color="#cdbdb4"/><stop offset="0.5142" stop-color="#ccc4bf"/><stop offset="0.5189" stop-color="#c8caca"/><stop offset="0.5235" stop-color="#b9c2c7"/><stop offset="0.5282" stop-color="#a8bac4"/><stop offset="0.5329" stop-color="#9ab3c0"/><stop offset="0.5376" stop-color="#9bb4c0"/><stop offset="0.5422" stop-color="#a9bbc4"/><stop offset="0.5469" stop-color="#b5c0c7"/><stop offset="0.5516" stop-color="#c0c5c9"/><stop offset="0.5562" stop-color="#c8c9ca"/><stop offset="0.5609" stop-color="#c7c9ca"/><stop offset="0.5656" stop-color="#c3c7c9"/><stop offset="0.5703" stop-color="#bfc5c8"/><stop offset="0.5749" stop-color="#bdc4c8"/><stop offset="0.5796" stop-color="#bfc5c8"/><stop offset="0.5843" stop-color="#c2c7c9"/><stop offset="0.5890" stop-color="#c5c8ca"/><stop offset="0.5936" stop-color="#c9caca"/><stop offset="0.5983" stop-color="#cbc9c8"/><stop offset="0.6030" stop-color="#ccc5c1"/><stop offset="0.6077" stop-color="#cdc1bb"/><stop offset="0.6123" stop-color="#cdbdb4"/><stop offset="0.6170" stop-color="#cebaad"/><stop offset="0.6217" stop-color="#cfb7a9"/><stop offset="0.6264" stop-color="#cfb7a9"/><stop offset="0.6310" stop-color="#cebaad"/><stop offset="0.6357" stop-color="#cdbfb6"/><stop offset="0.6404" stop-color="#ccc4bf"/><stop offset="0.6451" stop-color="#cbc9c8"/><stop offset="0.6497" stop-color="#c4c7c9"/><stop offset="0.6544" stop-color="#bac3c8"/><stop offset="0.6591" stop-color="#b1bec6"/><stop offset="0.6638" stop-color="#a5b9c3"/><stop offset="0.6684" stop-color="#9ab3c0"/><stop offset="0.6731" stop-color="#9ab3c0"/><stop offset="0.6778" stop-color="#a4b8c3"/><stop offset="0.6825" stop-color="#b1bfc6"/><stop offset="0.6871" stop-color="#bcc4c8"/><stop offset="0.6918" stop-color="#c7c9ca"/><stop offset="0.6965" stop-color="#cbc7c4"/><stop offset="0.7012" stop-color="#cdc1ba"/><stop offset="0.7058" stop-color="#cebcb1"/><stop offset="0.7105" stop-color="#cfb6a7"/><stop offset="0.7152" stop-color="#cfaf9d"/><stop offset="0.7199" stop-color="#ceac99"/><stop offset="0.7245" stop-color="#cfb09f"/><stop offset="0.7292" stop-color="#ceb9ac"/><stop offset="0.7339" stop-color="#cdc0b9"/><stop offset="0.7385" stop-color="#cbc8c6"/><stop offset="0.7432" stop-color="#c5c8c9"/><stop offset="0.7479" stop-color="#bcc4c8"/><stop offset="0.7526" stop-color="#b4c0c6"/><stop offset="0.7572" stop-color="#adbdc5"/><stop offset="0.7619" stop-color="#adbcc5"/><stop offset="0.7666" stop-color="#b1bec6"/><stop offset="0.7713" stop-color="#b9c2c7"/><stop offset="0.7759" stop-color="#c2c7c9"/><stop offset="0.7806" stop-color="#c9caca"/><stop offset="0.7853" stop-color="#cbcbcb"/><stop offset="0.7900" stop-color="#cbcbcb"/><stop offset="0.7946" stop-color="#cbcaca"/><stop offset="0.7993" stop-color="#cbc8c7"/><stop offset="0.8040" stop-color="#ccc5c2"/><stop offset="0.8087" stop-color="#ccc2bd"/><stop offset="0.8133" stop-color="#cdbfb7"/><stop offset="0.8180" stop-color="#cebcb2"/><stop offset="0.8227" stop-color="#ceb8ac"/><stop offset="0.8274" stop-color="#cfb5a6"/><stop offset="0.8320" stop-color="#cfaf9e"/><stop offset="0.8367" stop-color="#cea895"/><stop offset="0.8414" stop-color="#cca28c"/><stop offset="0.8461" stop-color="#cc9e87"/><stop offset="0.8507" stop-color="#cc9f89"/><stop offset="0.8554" stop-color="#ceac99"/><stop offset="0.8601" stop-color="#cebaae"/><stop offset="0.8648" stop-color="#ccc4c0"/><stop offset="0.8694" stop-color="#c6c9ca"/><stop offset="0.8741" stop-color="#bbc3c8"/><stop offset="0.8788" stop-color="#afbec6"/><stop offset="0.8835" stop-color="#a0b6c2"/><stop offset="0.8881" stop-color="#99b2c0"/><stop offset="0.8928" stop-color="#9db4c1"/><stop offset="0.8975" stop-color="#abbcc5"/><stop offset="0.9022" stop-color="#b6c1c7"/><stop offset="0.9068" stop-color="#c1c6c9"/><stop offset="0.9115" stop-color="#cbc9c8"/><stop offset="0.9162" stop-color="#cdbeb5"/><stop offset="0.9208" stop-color="#cfb09f"/><stop offset="0.9255" stop-color="#cb9a82"/><stop offset="0.9302" stop-color="#c98b6f"/><stop offset="0.9349" stop-color="#c98a6e"/><stop offset="0.9395" stop-color="#cb977f"/><stop offset="0.9442" stop-color="#cead9b"/><stop offset="0.9489" stop-color="#cebcb1"/><stop offset="0.9536" stop-color="#cbc7c5"/><stop offset="0.9582" stop-color="#bfc5c8"/><stop offset="0.9629" stop-color="#aebdc5"/><stop offset="0.9676" stop-color="#95b0be"/><stop offset="0.9723" stop-color="#7aa3b7"/><stop offset="0.9769" stop-color="#5e91ad"/><stop offset="0.9816" stop-color="#568caa"/><stop offset="0.9863" stop-color="#5b8fac"/><stop offset="0.9910" stop-color="#6294af"/><stop offset="0.9956" stop-color="#6a99b1"/><stop offset="1.0000" stop-color="#709cb3"/></linearGradient><linearGradient id="L5" gradientUnits="userSpaceOnUse" x1="104.5" y1="0" x2="425.5" y2="0"><stop offset="0.0000" stop-color="#ccc4bf"/><stop offset="0.0047" stop-color="#c58065"/><stop offset="0.0094" stop-color="#840f21"/><stop offset="0.0140" stop-color="#67061c"/><stop offset="0.0187" stop-color="#67061c"/><stop offset="0.0234" stop-color="#67061c"/><stop offset="0.0281" stop-color="#6d081d"/><stop offset="0.0327" stop-color="#971e28"/><stop offset="0.0374" stop-color="#b55a48"/><stop offset="0.0421" stop-color="#ca9278"/><stop offset="0.0468" stop-color="#cebbb1"/><stop offset="0.0515" stop-color="#9bb3c0"/><stop offset="0.0561" stop-color="#35769f"/><stop offset="0.0608" stop-color="#205b91"/><stop offset="0.0655" stop-color="#000000"/><stop offset="0.0702" stop-color="#000000"/><stop offset="0.0748" stop-color="#000000"/><stop offset="0.0795" stop-color="#000000"/><stop offset="0.0842" stop-color="#0c3765"/><stop offset="0.0889" stop-color="#2e6d9a"/><stop offset="0.0935" stop-color="#6395af"/><stop offset="0.0982" stop-color="#b8c2c7"/><stop offset="0.1029" stop-color="#cfb4a3"/><stop offset="0.1076" stop-color="#be7059"/><stop offset="0.1123" stop-color="#a43734"/><stop offset="0.1169" stop-color="#8a1122"/><stop offset="0.1216" stop-color="#62041c"/><stop offset="0.1263" stop-color="#57011a"/><stop offset="0.1310" stop-color="#69071d"/><stop offset="0.1356" stop-color="#9c272c"/><stop offset="0.1403" stop-color="#b96651"/><stop offset="0.1450" stop-color="#cc9d86"/><stop offset="0.1497" stop-color="#cdc0b8"/><stop offset="0.1544" stop-color="#bdc4c8"/><stop offset="0.1590" stop-color="#9fb6c1"/><stop offset="0.1637" stop-color="#76a0b5"/><stop offset="0.1684" stop-color="#4280a4"/><stop offset="0.1731" stop-color="#286596"/><stop offset="0.1777" stop-color="#225d92"/><stop offset="0.1824" stop-color="#296697"/><stop offset="0.1871" stop-color="#4883a6"/><stop offset="0.1918" stop-color="#7ca4b7"/><stop offset="0.1965" stop-color="#a6b9c3"/><stop offset="0.2011" stop-color="#c2c6c9"/><stop offset="0.2058" stop-color="#cdbfb6"/><stop offset="0.2105" stop-color="#cda591"/><stop offset="0.2152" stop-color="#c58065"/><stop offset="0.2198" stop-color="#b15342"/><stop offset="0.2245" stop-color="#9e2d2f"/><stop offset="0.2292" stop-color="#9c272d"/><stop offset="0.2339" stop-color="#a73e37"/><stop offset="0.2385" stop-color="#be6f58"/><stop offset="0.2432" stop-color="#cb9c85"/><stop offset="0.2479" stop-color="#cebbb0"/><stop offset="0.2526" stop-color="#c5c8ca"/><stop offset="0.2573" stop-color="#adbdc5"/><stop offset="0.2619" stop-color="#87a9ba"/><stop offset="0.2666" stop-color="#598eac"/><stop offset="0.2713" stop-color="#32729c"/><stop offset="0.2760" stop-color="#2b6998"/><stop offset="0.2806" stop-color="#2b6998"/><stop offset="0.2853" stop-color="#2b6998"/><stop offset="0.2900" stop-color="#2b6998"/><stop offset="0.2901" stop-color="#6f9cb3"/><stop offset="0.2947" stop-color="#a8bac4"/><stop offset="0.2994" stop-color="#cbc9c8"/><stop offset="0.3041" stop-color="#ceb9ad"/><stop offset="0.3088" stop-color="#cda48f"/><stop offset="0.3134" stop-color="#c8896d"/><stop offset="0.3181" stop-color="#ba6752"/><stop offset="0.3228" stop-color="#ac473c"/><stop offset="0.3274" stop-color="#a73d37"/><stop offset="0.3321" stop-color="#b05141"/><stop offset="0.3368" stop-color="#c57f64"/><stop offset="0.3415" stop-color="#cda793"/><stop offset="0.3461" stop-color="#cdc0b8"/><stop offset="0.3508" stop-color="#c9caca"/><stop offset="0.3555" stop-color="#bdc4c8"/><stop offset="0.3602" stop-color="#b1bfc6"/><stop offset="0.3648" stop-color="#a2b7c2"/><stop offset="0.3695" stop-color="#94b0be"/><stop offset="0.3742" stop-color="#93afbe"/><stop offset="0.3788" stop-color="#a2b7c2"/><stop offset="0.3835" stop-color="#b6c1c7"/><stop offset="0.3882" stop-color="#c5c8ca"/><stop offset="0.3929" stop-color="#ccc5c0"/><stop offset="0.3975" stop-color="#cdbdb4"/><stop offset="0.4022" stop-color="#cfb6a7"/><stop offset="0.4069" stop-color="#cfaf9d"/><stop offset="0.4116" stop-color="#cfae9c"/><stop offset="0.4162" stop-color="#cfb6a7"/><stop offset="0.4209" stop-color="#cdbfb6"/><stop offset="0.4256" stop-color="#cbc8c6"/><stop offset="0.4302" stop-color="#c1c6c9"/><stop offset="0.4349" stop-color="#b5c0c6"/><stop offset="0.4396" stop-color="#a8bac4"/><stop offset="0.4443" stop-color="#a3b7c2"/><stop offset="0.4489" stop-color="#a8bac4"/><stop offset="0.4536" stop-color="#b4c0c6"/><stop offset="0.4583" stop-color="#bec5c8"/><stop offset="0.4630" stop-color="#c9caca"/><stop offset="0.4676" stop-color="#ccc6c2"/><stop offset="0.4723" stop-color="#cdc1bb"/><stop offset="0.4770" stop-color="#cdbdb4"/><stop offset="0.4816" stop-color="#ceb9ad"/><stop offset="0.4863" stop-color="#cfb6a8"/><stop offset="0.4910" stop-color="#cfb5a6"/><stop offset="0.4957" stop-color="#cfb4a4"/><stop offset="0.5003" stop-color="#cfb3a2"/><stop offset="0.5050" stop-color="#cfb2a1"/><stop offset="0.5097" stop-color="#cfb4a4"/><stop offset="0.5144" stop-color="#cebcb1"/><stop offset="0.5190" stop-color="#ccc5c1"/><stop offset="0.5237" stop-color="#c2c6c9"/><stop offset="0.5284" stop-color="#aebdc5"/><stop offset="0.5330" stop-color="#9ab3c0"/><stop offset="0.5377" stop-color="#9cb4c0"/><stop offset="0.5424" stop-color="#a9bbc4"/><stop offset="0.5471" stop-color="#b3bfc6"/><stop offset="0.5517" stop-color="#bcc4c8"/><stop offset="0.5564" stop-color="#c5c8ca"/><stop offset="0.5611" stop-color="#c8c9ca"/><stop offset="0.5658" stop-color="#c3c7c9"/><stop offset="0.5704" stop-color="#bec4c8"/><stop offset="0.5751" stop-color="#b8c2c7"/><stop offset="0.5798" stop-color="#b3bfc6"/><stop offset="0.5844" stop-color="#aebdc5"/><stop offset="0.5891" stop-color="#a7bac4"/><stop offset="0.5938" stop-color="#a3b7c2"/><stop offset="0.5985" stop-color="#a6b9c3"/><stop offset="0.6031" stop-color="#b5c0c7"/><stop offset="0.6078" stop-color="#c4c8c9"/><stop offset="0.6125" stop-color="#ccc4bf"/><stop offset="0.6172" stop-color="#ceb8ab"/><stop offset="0.6218" stop-color="#cead9b"/><stop offset="0.6265" stop-color="#ceac99"/><stop offset="0.6312" stop-color="#cfb4a3"/><stop offset="0.6358" stop-color="#cebbaf"/><stop offset="0.6405" stop-color="#ccc2bb"/><stop offset="0.6452" stop-color="#cbc9c7"/><stop offset="0.6499" stop-color="#c5c8c9"/><stop offset="0.6545" stop-color="#bdc4c8"/><stop offset="0.6592" stop-color="#b5c0c7"/><stop offset="0.6639" stop-color="#aebdc5"/><stop offset="0.6686" stop-color="#acbcc5"/><stop offset="0.6732" stop-color="#afbdc5"/><stop offset="0.6779" stop-color="#b6c1c7"/><stop offset="0.6826" stop-color="#bec5c8"/><stop offset="0.6872" stop-color="#c6c8ca"/><stop offset="0.6919" stop-color="#cbc8c6"/><stop offset="0.6966" stop-color="#ccc2bc"/><stop offset="0.7013" stop-color="#cebcb1"/><stop offset="0.7059" stop-color="#cfb6a7"/><stop offset="0.7106" stop-color="#cfb2a1"/><stop offset="0.7153" stop-color="#cfb3a3"/><stop offset="0.7199" stop-color="#ceb8ac"/><stop offset="0.7246" stop-color="#cdbfb6"/><stop offset="0.7293" stop-color="#ccc5c1"/><stop offset="0.7340" stop-color="#cacaca"/><stop offset="0.7386" stop-color="#c3c7c9"/><stop offset="0.7433" stop-color="#bbc3c8"/><stop offset="0.7480" stop-color="#b4c0c6"/><stop offset="0.7527" stop-color="#aebdc5"/><stop offset="0.7573" stop-color="#acbcc5"/><stop offset="0.7620" stop-color="#afbdc5"/><stop offset="0.7667" stop-color="#b7c1c7"/><stop offset="0.7713" stop-color="#c0c5c9"/><stop offset="0.7760" stop-color="#c8c9ca"/><stop offset="0.7807" stop-color="#cbc9c8"/><stop offset="0.7854" stop-color="#cbc7c4"/><stop offset="0.7900" stop-color="#ccc5c1"/><stop offset="0.7947" stop-color="#ccc3bd"/><stop offset="0.7994" stop-color="#ccc2bb"/><stop offset="0.8041" stop-color="#ccc3be"/><stop offset="0.8087" stop-color="#ccc5c1"/><stop offset="0.8134" stop-color="#cbc7c5"/><stop offset="0.8181" stop-color="#cbc9c8"/><stop offset="0.8227" stop-color="#cbc7c4"/><stop offset="0.8274" stop-color="#cdbeb5"/><stop offset="0.8321" stop-color="#cfb5a6"/><stop offset="0.8368" stop-color="#cda692"/><stop offset="0.8414" stop-color="#cb9880"/><stop offset="0.8461" stop-color="#cb967e"/><stop offset="0.8508" stop-color="#cc9f89"/><stop offset="0.8555" stop-color="#cfb19f"/><stop offset="0.8601" stop-color="#cebbb1"/><stop offset="0.8648" stop-color="#ccc5c1"/><stop offset="0.8695" stop-color="#c5c8ca"/><stop offset="0.8741" stop-color="#b8c2c7"/><stop offset="0.8788" stop-color="#abbcc5"/><stop offset="0.8835" stop-color="#96b1bf"/><stop offset="0.8882" stop-color="#8eadbc"/><stop offset="0.8928" stop-color="#92afbe"/><stop offset="0.8975" stop-color="#a4b8c3"/><stop offset="0.9022" stop-color="#b3bfc6"/><stop offset="0.9069" stop-color="#bfc5c8"/><stop offset="0.9115" stop-color="#cbcac9"/><stop offset="0.9162" stop-color="#cdc0b8"/><stop offset="0.9209" stop-color="#cfb6a7"/><stop offset="0.9255" stop-color="#cda591"/><stop offset="0.9302" stop-color="#cb977f"/><stop offset="0.9349" stop-color="#cb977e"/><stop offset="0.9396" stop-color="#cca28c"/><stop offset="0.9442" stop-color="#cfb4a4"/><stop offset="0.9489" stop-color="#cdbeb5"/><stop offset="0.9536" stop-color="#cbc8c6"/><stop offset="0.9583" stop-color="#c1c6c9"/><stop offset="0.9629" stop-color="#b5c0c7"/><stop offset="0.9676" stop-color="#a6b9c3"/><stop offset="0.9723" stop-color="#92afbd"/><stop offset="0.9769" stop-color="#83a7b9"/><stop offset="0.9816" stop-color="#81a6b9"/><stop offset="0.9863" stop-color="#83a7b9"/><stop offset="0.9910" stop-color="#87a9ba"/><stop offset="0.9956" stop-color="#8aabbb"/><stop offset="1.0000" stop-color="#8dadbc"/></linearGradient><linearGradient id="L6" gradientUnits="userSpaceOnUse" x1="104.5" y1="0" x2="425.5" y2="0"><stop offset="0.0009" stop-color="#ccc2bc"/><stop offset="0.0056" stop-color="#cfb6a8"/><stop offset="0.0103" stop-color="#cda692"/><stop offset="0.0149" stop-color="#cc9d87"/><stop offset="0.0196" stop-color="#cb9a83"/><stop offset="0.0242" stop-color="#cb9981"/><stop offset="0.0289" stop-color="#cb9982"/><stop offset="0.0335" stop-color="#cc9f88"/><stop offset="0.0382" stop-color="#ceaa97"/><stop offset="0.0429" stop-color="#cfb7a9"/><stop offset="0.0475" stop-color="#cdbfb8"/><stop offset="0.0522" stop-color="#cbc9c7"/><stop offset="0.0568" stop-color="#c0c6c9"/><stop offset="0.0615" stop-color="#b3bfc6"/><stop offset="0.0662" stop-color="#a2b7c2"/><stop offset="0.0708" stop-color="#90aebd"/><stop offset="0.0755" stop-color="#87aabb"/><stop offset="0.0801" stop-color="#8babbc"/><stop offset="0.0848" stop-color="#9ab3c0"/><stop offset="0.0894" stop-color="#adbdc5"/><stop offset="0.0941" stop-color="#bac3c8"/><stop offset="0.0988" stop-color="#c7c9ca"/><stop offset="0.1034" stop-color="#ccc4bf"/><stop offset="0.1081" stop-color="#cebcb2"/><stop offset="0.1112" stop-color="#ceb8ab"/><stop offset="0.1112" stop-color="#f8bb9e"/><stop offset="0.1159" stop-color="#f19f7e"/><stop offset="0.1206" stop-color="#e0775f"/><stop offset="0.1252" stop-color="#d7624f"/><stop offset="0.1299" stop-color="#db6b56"/><stop offset="0.1346" stop-color="#eb9173"/><stop offset="0.1392" stop-color="#f7b89b"/><stop offset="0.1439" stop-color="#fddbc7"/><stop offset="0.1486" stop-color="#f9ede7"/><stop offset="0.1532" stop-color="#e7eff4"/><stop offset="0.1579" stop-color="#bedbeb"/><stop offset="0.1625" stop-color="#83bcd9"/><stop offset="0.1672" stop-color="#509bc7"/><stop offset="0.1719" stop-color="#4c98c6"/><stop offset="0.1765" stop-color="#6fafd2"/><stop offset="0.1812" stop-color="#a1cde2"/><stop offset="0.1859" stop-color="#cce3ef"/><stop offset="0.1905" stop-color="#e8f0f4"/><stop offset="0.1952" stop-color="#f8f2ee"/><stop offset="0.1998" stop-color="#fbe5d8"/><stop offset="0.2045" stop-color="#fcd6c0"/><stop offset="0.2092" stop-color="#f8bda1"/><stop offset="0.2138" stop-color="#f4a582"/><stop offset="0.2185" stop-color="#e7876b"/><stop offset="0.2232" stop-color="#e17860"/><stop offset="0.2278" stop-color="#e37d63"/><stop offset="0.2325" stop-color="#f19e7d"/><stop offset="0.2372" stop-color="#f9c2a7"/><stop offset="0.2418" stop-color="#fce0d0"/><stop offset="0.2465" stop-color="#f8f2ef"/><stop offset="0.2511" stop-color="#e7eff4"/><stop offset="0.2558" stop-color="#d1e5f0"/><stop offset="0.2605" stop-color="#acd2e5"/><stop offset="0.2651" stop-color="#86bdda"/><stop offset="0.2698" stop-color="#63a7ce"/><stop offset="0.2745" stop-color="#5ea4cc"/><stop offset="0.2791" stop-color="#6aabd0"/><stop offset="0.2838" stop-color="#7cb7d6"/><stop offset="0.2884" stop-color="#8dc2dc"/><stop offset="0.2900" stop-color="#91c4de"/><stop offset="0.2901" stop-color="#b6c1c7"/><stop offset="0.2947" stop-color="#c0c5c9"/><stop offset="0.2994" stop-color="#cbc9c8"/><stop offset="0.3041" stop-color="#cdbfb8"/><stop offset="0.3088" stop-color="#cfb6a7"/><stop offset="0.3134" stop-color="#cda691"/><stop offset="0.3181" stop-color="#ca957c"/><stop offset="0.3228" stop-color="#c98b6f"/><stop offset="0.3274" stop-color="#c8886b"/><stop offset="0.3321" stop-color="#c98d72"/><stop offset="0.3368" stop-color="#cb9a83"/><stop offset="0.3415" stop-color="#cfae9c"/><stop offset="0.3461" stop-color="#cebcb1"/><stop offset="0.3508" stop-color="#cbc6c3"/><stop offset="0.3555" stop-color="#c2c7c9"/><stop offset="0.3602" stop-color="#b5c1c7"/><stop offset="0.3648" stop-color="#a8bac4"/><stop offset="0.3695" stop-color="#9cb4c0"/><stop offset="0.3742" stop-color="#9bb3c0"/><stop offset="0.3788" stop-color="#a7b9c3"/><stop offset="0.3835" stop-color="#b4c0c6"/><stop offset="0.3882" stop-color="#c2c6c9"/><stop offset="0.3929" stop-color="#cbc7c5"/><stop offset="0.3975" stop-color="#cdbeb5"/><stop offset="0.4022" stop-color="#cfb6a7"/><stop offset="0.4069" stop-color="#cead9b"/><stop offset="0.4116" stop-color="#ceac99"/><stop offset="0.4162" stop-color="#cfb4a5"/><stop offset="0.4209" stop-color="#cebcb2"/><stop offset="0.4256" stop-color="#ccc6c2"/><stop offset="0.4302" stop-color="#c3c7c9"/><stop offset="0.4349" stop-color="#b5c0c6"/><stop offset="0.4396" stop-color="#a8bac4"/><stop offset="0.4443" stop-color="#a0b6c2"/><stop offset="0.4489" stop-color="#a5b8c3"/><stop offset="0.4536" stop-color="#afbec6"/><stop offset="0.4583" stop-color="#bac2c7"/><stop offset="0.4630" stop-color="#c4c7c9"/><stop offset="0.4676" stop-color="#cbc8c6"/><stop offset="0.4723" stop-color="#cdc1ba"/><stop offset="0.4770" stop-color="#cebaaf"/><stop offset="0.4816" stop-color="#cfb4a5"/><stop offset="0.4863" stop-color="#cead9b"/><stop offset="0.4910" stop-color="#cea895"/><stop offset="0.4957" stop-color="#cda591"/><stop offset="0.5003" stop-color="#cda38d"/><stop offset="0.5050" stop-color="#cca18b"/><stop offset="0.5097" stop-color="#cda28d"/><stop offset="0.5144" stop-color="#ceaa97"/><stop offset="0.5190" stop-color="#cfb7a9"/><stop offset="0.5237" stop-color="#cdc1ba"/><stop offset="0.5284" stop-color="#cacacb"/><stop offset="0.5330" stop-color="#bec4c8"/><stop offset="0.5377" stop-color="#b2bfc6"/><stop offset="0.5424" stop-color="#a7b9c4"/><stop offset="0.5471" stop-color="#a1b7c2"/><stop offset="0.5517" stop-color="#a7bac4"/><stop offset="0.5564" stop-color="#b2bfc6"/><stop offset="0.5611" stop-color="#bdc4c8"/><stop offset="0.5658" stop-color="#c7c9ca"/><stop offset="0.5704" stop-color="#ccc5c1"/><stop offset="0.5751" stop-color="#cdbeb5"/><stop offset="0.5798" stop-color="#cfb7a9"/><stop offset="0.5844" stop-color="#cfb1a1"/><stop offset="0.5891" stop-color="#cfb09f"/><stop offset="0.5938" stop-color="#cfb6a6"/><stop offset="0.5985" stop-color="#cebbb1"/><stop offset="0.6031" stop-color="#ccc2bc"/><stop offset="0.6078" stop-color="#cbc8c6"/><stop offset="0.6125" stop-color="#c8c9ca"/><stop offset="0.6172" stop-color="#c3c7c9"/><stop offset="0.6218" stop-color="#bfc5c8"/><stop offset="0.6265" stop-color="#bcc3c8"/><stop offset="0.6312" stop-color="#bac3c8"/><stop offset="0.6358" stop-color="#bcc4c8"/><stop offset="0.6405" stop-color="#c0c5c9"/><stop offset="0.6452" stop-color="#c4c7c9"/><stop offset="0.6499" stop-color="#c9caca"/><stop offset="0.6545" stop-color="#cbc8c5"/><stop offset="0.6592" stop-color="#ccc2bc"/><stop offset="0.6639" stop-color="#cebcb2"/><stop offset="0.6686" stop-color="#cfb7a9"/><stop offset="0.6732" stop-color="#cfb4a5"/><stop offset="0.6779" stop-color="#cfb5a6"/><stop offset="0.6826" stop-color="#cebaad"/><stop offset="0.6872" stop-color="#cdbfb7"/><stop offset="0.6919" stop-color="#ccc5c1"/><stop offset="0.6966" stop-color="#c9caca"/><stop offset="0.7013" stop-color="#bfc5c8"/><stop offset="0.7059" stop-color="#b5c0c6"/><stop offset="0.7106" stop-color="#abbcc5"/><stop offset="0.7153" stop-color="#a1b6c2"/><stop offset="0.7199" stop-color="#9fb6c1"/><stop offset="0.7246" stop-color="#a6b9c3"/><stop offset="0.7293" stop-color="#b0bec6"/><stop offset="0.7340" stop-color="#b9c2c7"/><stop offset="0.7386" stop-color="#c2c7c9"/><stop offset="0.7433" stop-color="#cbcac9"/><stop offset="0.7480" stop-color="#ccc3bd"/><stop offset="0.7527" stop-color="#cebcb1"/><stop offset="0.7573" stop-color="#cfb5a5"/><stop offset="0.7620" stop-color="#ceab98"/><stop offset="0.7667" stop-color="#cda793"/><stop offset="0.7713" stop-color="#ceac99"/><stop offset="0.7760" stop-color="#cfb6a8"/><stop offset="0.7807" stop-color="#cdbfb7"/><stop offset="0.7854" stop-color="#cbc8c6"/><stop offset="0.7900" stop-color="#c2c6c9"/><stop offset="0.7947" stop-color="#b6c1c7"/><stop offset="0.7994" stop-color="#abbcc5"/><stop offset="0.8041" stop-color="#a1b7c2"/><stop offset="0.8087" stop-color="#a3b8c3"/><stop offset="0.8134" stop-color="#adbdc5"/><stop offset="0.8181" stop-color="#b7c1c7"/><stop offset="0.8227" stop-color="#c1c6c9"/><stop offset="0.8274" stop-color="#cbc9c8"/><stop offset="0.8321" stop-color="#cdc0b8"/><stop offset="0.8368" stop-color="#cfb6a7"/><stop offset="0.8414" stop-color="#cda794"/><stop offset="0.8461" stop-color="#cc9d87"/><stop offset="0.8508" stop-color="#cc9e88"/><stop offset="0.8555" stop-color="#ceaa98"/><stop offset="0.8601" stop-color="#ceb9ac"/><stop offset="0.8648" stop-color="#ccc4bf"/><stop offset="0.8695" stop-color="#c5c8c9"/><stop offset="0.8741" stop-color="#b6c1c7"/><stop offset="0.8788" stop-color="#a8bac4"/><stop offset="0.8835" stop-color="#9bb4c0"/><stop offset="0.8882" stop-color="#9bb3c0"/><stop offset="0.8928" stop-color="#a5b9c3"/><stop offset="0.8975" stop-color="#b2bfc6"/><stop offset="0.9022" stop-color="#bdc4c8"/><stop offset="0.9069" stop-color="#c8c9ca"/><stop offset="0.9115" stop-color="#ccc4bf"/><stop offset="0.9162" stop-color="#cebbb0"/><stop offset="0.9209" stop-color="#cfb2a1"/><stop offset="0.9255" stop-color="#cda692"/><stop offset="0.9302" stop-color="#cda38e"/><stop offset="0.9349" stop-color="#cea996"/><stop offset="0.9396" stop-color="#cfb5a6"/><stop offset="0.9442" stop-color="#cdbdb4"/><stop offset="0.9489" stop-color="#ccc5c2"/><stop offset="0.9536" stop-color="#c6c9ca"/><stop offset="0.9583" stop-color="#bbc3c8"/><stop offset="0.9629" stop-color="#b1bec6"/><stop offset="0.9676" stop-color="#a4b8c3"/><stop offset="0.9723" stop-color="#99b3c0"/><stop offset="0.9769" stop-color="#95b1be"/><stop offset="0.9816" stop-color="#95b0be"/><stop offset="0.9863" stop-color="#94b0be"/><stop offset="0.9910" stop-color="#94b0be"/><stop offset="0.9956" stop-color="#94b0be"/><stop offset="1.0000" stop-color="#94b0be"/></linearGradient><linearGradient id="L7" gradientUnits="userSpaceOnUse" x1="104.5" y1="0" x2="425.5" y2="0"><stop offset="0.0009" stop-color="#cbc8c6"/><stop offset="0.0056" stop-color="#ccc3be"/><stop offset="0.0103" stop-color="#cebcb2"/><stop offset="0.0149" stop-color="#cfb6a7"/><stop offset="0.0196" stop-color="#ceac9a"/><stop offset="0.0242" stop-color="#cda793"/><stop offset="0.0289" stop-color="#ceaa97"/><stop offset="0.0335" stop-color="#cfb4a5"/><stop offset="0.0382" stop-color="#cdbdb3"/><stop offset="0.0429" stop-color="#cbc7c4"/><stop offset="0.0475" stop-color="#c1c6c9"/><stop offset="0.0522" stop-color="#b0bec6"/><stop offset="0.0568" stop-color="#99b3c0"/><stop offset="0.0615" stop-color="#86a9ba"/><stop offset="0.0662" stop-color="#7fa5b8"/><stop offset="0.0708" stop-color="#85a9ba"/><stop offset="0.0755" stop-color="#97b2bf"/><stop offset="0.0801" stop-color="#aebdc5"/><stop offset="0.0848" stop-color="#bcc3c8"/><stop offset="0.0894" stop-color="#c6c8ca"/><stop offset="0.0941" stop-color="#cbcaca"/><stop offset="0.0988" stop-color="#cbc9c7"/><stop offset="0.1034" stop-color="#cbc8c5"/><stop offset="0.1081" stop-color="#cbc7c4"/><stop offset="0.1112" stop-color="#cbc6c3"/><stop offset="0.1112" stop-color="#fac6ad"/><stop offset="0.1159" stop-color="#f7b597"/><stop offset="0.1206" stop-color="#f2a07e"/><stop offset="0.1252" stop-color="#ea8d70"/><stop offset="0.1299" stop-color="#ea8e71"/><stop offset="0.1346" stop-color="#f5ac8b"/><stop offset="0.1392" stop-color="#fbd1ba"/><stop offset="0.1439" stop-color="#fae9df"/><stop offset="0.1486" stop-color="#f3f5f6"/><stop offset="0.1532" stop-color="#deebf2"/><stop offset="0.1579" stop-color="#c3deec"/><stop offset="0.1625" stop-color="#aed3e6"/><stop offset="0.1672" stop-color="#b5d7e8"/><stop offset="0.1719" stop-color="#cfe4ef"/><stop offset="0.1765" stop-color="#e1edf3"/><stop offset="0.1812" stop-color="#f3f5f6"/><stop offset="0.1859" stop-color="#f9eee7"/><stop offset="0.1905" stop-color="#fce2d2"/><stop offset="0.1952" stop-color="#fbd0ba"/><stop offset="0.1998" stop-color="#f7b99c"/><stop offset="0.2045" stop-color="#f2a17f"/><stop offset="0.2092" stop-color="#e6856a"/><stop offset="0.2138" stop-color="#e17a61"/><stop offset="0.2185" stop-color="#e58267"/><stop offset="0.2232" stop-color="#f4a785"/><stop offset="0.2278" stop-color="#facbb3"/><stop offset="0.2325" stop-color="#fbe6d9"/><stop offset="0.2372" stop-color="#f7f7f7"/><stop offset="0.2418" stop-color="#e3eef3"/><stop offset="0.2465" stop-color="#d0e5f0"/><stop offset="0.2511" stop-color="#b2d5e7"/><stop offset="0.2558" stop-color="#95c6df"/><stop offset="0.2605" stop-color="#84bcd9"/><stop offset="0.2651" stop-color="#83bcd9"/><stop offset="0.2698" stop-color="#88bfdb"/><stop offset="0.2745" stop-color="#8fc3dd"/><stop offset="0.2791" stop-color="#95c7df"/><stop offset="0.2838" stop-color="#9bc9e0"/><stop offset="0.2884" stop-color="#a0cce2"/><stop offset="0.2900" stop-color="#a1cce2"/><stop offset="0.2901" stop-color="#c4c7c9"/><stop offset="0.2947" stop-color="#c6c9ca"/><stop offset="0.2994" stop-color="#cbcaca"/><stop offset="0.3041" stop-color="#ccc5c2"/><stop offset="0.3088" stop-color="#cdbfb7"/><stop offset="0.3134" stop-color="#ceb9ac"/><stop offset="0.3181" stop-color="#cfb2a1"/><stop offset="0.3228" stop-color="#cda894"/><stop offset="0.3274" stop-color="#cda38d"/><stop offset="0.3321" stop-color="#cda590"/><stop offset="0.3368" stop-color="#cfae9c"/><stop offset="0.3415" stop-color="#cfb7aa"/><stop offset="0.3461" stop-color="#cdbfb6"/><stop offset="0.3508" stop-color="#cbc6c3"/><stop offset="0.3555" stop-color="#c7c9ca"/><stop offset="0.3602" stop-color="#bdc4c8"/><stop offset="0.3648" stop-color="#b3bfc6"/><stop offset="0.3695" stop-color="#a9bbc4"/><stop offset="0.3742" stop-color="#a0b6c2"/><stop offset="0.3788" stop-color="#a1b7c2"/><stop offset="0.3835" stop-color="#adbcc5"/><stop offset="0.3882" stop-color="#b9c2c7"/><stop offset="0.3929" stop-color="#c4c8c9"/><stop offset="0.3975" stop-color="#cbc9c7"/><stop offset="0.4022" stop-color="#ccc4bf"/><stop offset="0.4069" stop-color="#cdc1ba"/><stop offset="0.4116" stop-color="#cdbfb7"/><stop offset="0.4162" stop-color="#cdc0b8"/><stop offset="0.4209" stop-color="#ccc3be"/><stop offset="0.4256" stop-color="#cbc8c7"/><stop offset="0.4302" stop-color="#c4c8c9"/><stop offset="0.4349" stop-color="#b9c2c7"/><stop offset="0.4396" stop-color="#aebdc5"/><stop offset="0.4443" stop-color="#a4b8c3"/><stop offset="0.4489" stop-color="#a2b7c2"/><stop offset="0.4536" stop-color="#adbcc5"/><stop offset="0.4583" stop-color="#b7c1c7"/><stop offset="0.4630" stop-color="#c3c7c9"/><stop offset="0.4676" stop-color="#cbc7c5"/><stop offset="0.4723" stop-color="#cdbfb7"/><stop offset="0.4770" stop-color="#cfb8ab"/><stop offset="0.4816" stop-color="#cfb1a0"/><stop offset="0.4863" stop-color="#ceaa97"/><stop offset="0.4910" stop-color="#cda48f"/><stop offset="0.4957" stop-color="#cc9c85"/><stop offset="0.5003" stop-color="#ca947a"/><stop offset="0.5050" stop-color="#c98c71"/><stop offset="0.5097" stop-color="#c8886b"/><stop offset="0.5144" stop-color="#c8876b"/><stop offset="0.5190" stop-color="#c98e73"/><stop offset="0.5237" stop-color="#cc9d87"/><stop offset="0.5284" stop-color="#cfb3a2"/><stop offset="0.5330" stop-color="#cdbfb7"/><stop offset="0.5377" stop-color="#cacaca"/><stop offset="0.5424" stop-color="#bbc3c8"/><stop offset="0.5471" stop-color="#afbdc5"/><stop offset="0.5517" stop-color="#abbcc5"/><stop offset="0.5564" stop-color="#b1bec6"/><stop offset="0.5611" stop-color="#bac3c8"/><stop offset="0.5658" stop-color="#c5c8ca"/><stop offset="0.5704" stop-color="#ccc5c1"/><stop offset="0.5751" stop-color="#cebaae"/><stop offset="0.5798" stop-color="#ceac9a"/><stop offset="0.5844" stop-color="#cc9f89"/><stop offset="0.5891" stop-color="#cc9e88"/><stop offset="0.5938" stop-color="#cea996"/><stop offset="0.5985" stop-color="#cfb8ab"/><stop offset="0.6031" stop-color="#ccc3bd"/><stop offset="0.6078" stop-color="#c8caca"/><stop offset="0.6125" stop-color="#bec5c8"/><stop offset="0.6172" stop-color="#b5c0c7"/><stop offset="0.6218" stop-color="#acbcc5"/><stop offset="0.6265" stop-color="#a2b7c2"/><stop offset="0.6312" stop-color="#9fb6c1"/><stop offset="0.6358" stop-color="#a7b9c3"/><stop offset="0.6405" stop-color="#b2bfc6"/><stop offset="0.6452" stop-color="#bec5c8"/><stop offset="0.6499" stop-color="#cacaca"/><stop offset="0.6545" stop-color="#ccc3bd"/><stop offset="0.6592" stop-color="#cebbb1"/><stop offset="0.6639" stop-color="#cfb6a7"/><stop offset="0.6686" stop-color="#cfb4a4"/><stop offset="0.6732" stop-color="#cfb6a7"/><stop offset="0.6779" stop-color="#cebbaf"/><stop offset="0.6826" stop-color="#cdc1b9"/><stop offset="0.6872" stop-color="#cbc6c3"/><stop offset="0.6919" stop-color="#cacaca"/><stop offset="0.6966" stop-color="#c5c8c9"/><stop offset="0.7013" stop-color="#c0c6c9"/><stop offset="0.7059" stop-color="#bdc4c8"/><stop offset="0.7106" stop-color="#bac3c8"/><stop offset="0.7153" stop-color="#bbc3c8"/><stop offset="0.7199" stop-color="#bec5c8"/><stop offset="0.7246" stop-color="#c2c7c9"/><stop offset="0.7293" stop-color="#c7c9ca"/><stop offset="0.7340" stop-color="#cbcaca"/><stop offset="0.7386" stop-color="#cbc8c5"/><stop offset="0.7433" stop-color="#ccc5c1"/><stop offset="0.7480" stop-color="#ccc2bc"/><stop offset="0.7527" stop-color="#cdc0b9"/><stop offset="0.7573" stop-color="#cdc0b8"/><stop offset="0.7620" stop-color="#ccc2bb"/><stop offset="0.7667" stop-color="#ccc4c0"/><stop offset="0.7713" stop-color="#cbc7c5"/><stop offset="0.7760" stop-color="#cbcac9"/><stop offset="0.7807" stop-color="#c7c9ca"/><stop offset="0.7854" stop-color="#c3c7c9"/><stop offset="0.7900" stop-color="#bfc5c8"/><stop offset="0.7947" stop-color="#bcc3c8"/><stop offset="0.7994" stop-color="#bac3c8"/><stop offset="0.8041" stop-color="#bcc4c8"/><stop offset="0.8087" stop-color="#c0c5c9"/><stop offset="0.8134" stop-color="#c4c7c9"/><stop offset="0.8181" stop-color="#c9caca"/><stop offset="0.8227" stop-color="#cbc7c4"/><stop offset="0.8274" stop-color="#cdc0b9"/><stop offset="0.8321" stop-color="#ceb9ac"/><stop offset="0.8368" stop-color="#cfb09f"/><stop offset="0.8414" stop-color="#cda692"/><stop offset="0.8461" stop-color="#cda38e"/><stop offset="0.8508" stop-color="#cea895"/><stop offset="0.8555" stop-color="#cfb4a5"/><stop offset="0.8601" stop-color="#cebdb3"/><stop offset="0.8648" stop-color="#ccc5c2"/><stop offset="0.8695" stop-color="#c5c8ca"/><stop offset="0.8741" stop-color="#b9c2c7"/><stop offset="0.8788" stop-color="#adbdc5"/><stop offset="0.8835" stop-color="#a2b7c2"/><stop offset="0.8882" stop-color="#a0b6c2"/><stop offset="0.8928" stop-color="#a8bac4"/><stop offset="0.8975" stop-color="#b3bfc6"/><stop offset="0.9022" stop-color="#bdc4c8"/><stop offset="0.9069" stop-color="#c7c9ca"/><stop offset="0.9115" stop-color="#ccc5c2"/><stop offset="0.9162" stop-color="#cdbeb6"/><stop offset="0.9209" stop-color="#cfb8aa"/><stop offset="0.9255" stop-color="#cfb2a1"/><stop offset="0.9302" stop-color="#cfaf9d"/><stop offset="0.9349" stop-color="#cfb3a2"/><stop offset="0.9396" stop-color="#ceb9ac"/><stop offset="0.9442" stop-color="#cdbfb7"/><stop offset="0.9489" stop-color="#cbc6c3"/><stop offset="0.9536" stop-color="#c6c9ca"/><stop offset="0.9583" stop-color="#bdc4c8"/><stop offset="0.9629" stop-color="#b3bfc6"/><stop offset="0.9676" stop-color="#a9bbc4"/><stop offset="0.9723" stop-color="#9fb6c1"/><stop offset="0.9769" stop-color="#9bb4c0"/><stop offset="0.9816" stop-color="#9bb3c0"/><stop offset="0.9863" stop-color="#9bb3c0"/><stop offset="0.9910" stop-color="#9bb3c0"/><stop offset="0.9956" stop-color="#9bb3c0"/><stop offset="1.0000" stop-color="#9bb3c0"/></linearGradient><linearGradient id="L8" gradientUnits="userSpaceOnUse" x1="104.5" y1="0" x2="425.5" y2="0"><stop offset="0.0009" stop-color="#cbc8c5"/><stop offset="0.0056" stop-color="#ccc2bd"/><stop offset="0.0103" stop-color="#cebbb1"/><stop offset="0.0149" stop-color="#cfb4a4"/><stop offset="0.0196" stop-color="#cea996"/><stop offset="0.0243" stop-color="#cda38e"/><stop offset="0.0290" stop-color="#cda591"/><stop offset="0.0336" stop-color="#cfaf9e"/><stop offset="0.0383" stop-color="#ceb9ac"/><stop offset="0.0430" stop-color="#cdc1bb"/><stop offset="0.0476" stop-color="#cbcaca"/><stop offset="0.0523" stop-color="#bec5c8"/><stop offset="0.0570" stop-color="#b1bec6"/><stop offset="0.0616" stop-color="#a0b6c1"/><stop offset="0.0663" stop-color="#92afbd"/><stop offset="0.0710" stop-color="#8fadbd"/><stop offset="0.0757" stop-color="#99b2bf"/><stop offset="0.0803" stop-color="#aabbc5"/><stop offset="0.0850" stop-color="#b7c1c7"/><stop offset="0.0897" stop-color="#c5c8c9"/><stop offset="0.0943" stop-color="#ccc5c0"/><stop offset="0.0990" stop-color="#cebaae"/><stop offset="0.1037" stop-color="#ceac9a"/><stop offset="0.1083" stop-color="#cc9c85"/><stop offset="0.1130" stop-color="#ca957c"/><stop offset="0.1177" stop-color="#cb9a83"/><stop offset="0.1224" stop-color="#ceac99"/><stop offset="0.1270" stop-color="#cebcb1"/><stop offset="0.1317" stop-color="#cbc8c6"/><stop offset="0.1364" stop-color="#bec5c8"/><stop offset="0.1410" stop-color="#afbdc5"/><stop offset="0.1457" stop-color="#9ab3c0"/><stop offset="0.1504" stop-color="#89aabb"/><stop offset="0.1550" stop-color="#85a8ba"/><stop offset="0.1597" stop-color="#8eadbc"/><stop offset="0.1644" stop-color="#a2b7c2"/><stop offset="0.1691" stop-color="#b4c0c6"/><stop offset="0.1737" stop-color="#c2c7c9"/><stop offset="0.1784" stop-color="#cbc8c6"/><stop offset="0.1831" stop-color="#cdc0b8"/><stop offset="0.1877" stop-color="#ceb8ac"/><stop offset="0.1924" stop-color="#cfaf9e"/><stop offset="0.1971" stop-color="#cda28d"/><stop offset="0.2017" stop-color="#cb9981"/><stop offset="0.2064" stop-color="#ca957d"/><stop offset="0.2111" stop-color="#cb9880"/><stop offset="0.2158" stop-color="#cda28d"/><stop offset="0.2204" stop-color="#cfb2a1"/><stop offset="0.2251" stop-color="#cebcb2"/><stop offset="0.2298" stop-color="#ccc5c2"/><stop offset="0.2344" stop-color="#c6c8ca"/><stop offset="0.2391" stop-color="#bbc3c8"/><stop offset="0.2438" stop-color="#b1bec6"/><stop offset="0.2484" stop-color="#a3b8c2"/><stop offset="0.2531" stop-color="#93afbe"/><stop offset="0.2578" stop-color="#88aabb"/><stop offset="0.2625" stop-color="#86a9ba"/><stop offset="0.2671" stop-color="#90aebd"/><stop offset="0.2718" stop-color="#a6b9c3"/><stop offset="0.2765" stop-color="#b7c1c7"/><stop offset="0.2811" stop-color="#c6c9ca"/><stop offset="0.2858" stop-color="#ccc4bf"/><stop offset="0.2905" stop-color="#cebbaf"/><stop offset="0.2951" stop-color="#cfb19f"/><stop offset="0.2998" stop-color="#cda28d"/><stop offset="0.3045" stop-color="#cb9a82"/><stop offset="0.3092" stop-color="#cc9c85"/><stop offset="0.3138" stop-color="#ceac9a"/><stop offset="0.3185" stop-color="#cebcb2"/><stop offset="0.3232" stop-color="#ccc5c2"/><stop offset="0.3278" stop-color="#cbcac9"/><stop offset="0.3325" stop-color="#cbcaca"/><stop offset="0.3372" stop-color="#cacacb"/><stop offset="0.3418" stop-color="#cacaca"/><stop offset="0.3465" stop-color="#c8c9ca"/><stop offset="0.3512" stop-color="#c4c7c9"/><stop offset="0.3559" stop-color="#c0c6c9"/><stop offset="0.3605" stop-color="#bcc4c8"/><stop offset="0.3652" stop-color="#bac3c8"/><stop offset="0.3699" stop-color="#bcc4c8"/><stop offset="0.3745" stop-color="#c0c5c9"/><stop offset="0.3792" stop-color="#c5c8c9"/><stop offset="0.3839" stop-color="#c9caca"/><stop offset="0.3885" stop-color="#cbc8c6"/><stop offset="0.3932" stop-color="#ccc5c0"/><stop offset="0.3979" stop-color="#ccc2bb"/><stop offset="0.4026" stop-color="#cdc0b8"/><stop offset="0.4072" stop-color="#cdc0b9"/><stop offset="0.4119" stop-color="#ccc3bd"/><stop offset="0.4166" stop-color="#ccc5c2"/><stop offset="0.4212" stop-color="#cbc8c6"/><stop offset="0.4259" stop-color="#cacaca"/><stop offset="0.4306" stop-color="#c7c9ca"/><stop offset="0.4352" stop-color="#c3c7c9"/><stop offset="0.4399" stop-color="#c0c5c9"/><stop offset="0.4446" stop-color="#bcc4c8"/><stop offset="0.4493" stop-color="#bac3c8"/><stop offset="0.4539" stop-color="#bbc3c8"/><stop offset="0.4586" stop-color="#bec4c8"/><stop offset="0.4633" stop-color="#c2c7c9"/><stop offset="0.4679" stop-color="#c7c9ca"/><stop offset="0.4726" stop-color="#cbcaca"/><stop offset="0.4773" stop-color="#cbc7c4"/><stop offset="0.4819" stop-color="#ccc4bf"/><stop offset="0.4866" stop-color="#cdc0b8"/><stop offset="0.4913" stop-color="#cebcb1"/><stop offset="0.4960" stop-color="#cfb6a7"/><stop offset="0.5006" stop-color="#cead9a"/><stop offset="0.5053" stop-color="#cca18b"/><stop offset="0.5100" stop-color="#cb977f"/><stop offset="0.5146" stop-color="#ca9278"/><stop offset="0.5193" stop-color="#ca937a"/><stop offset="0.5240" stop-color="#cc9c86"/><stop offset="0.5286" stop-color="#cfae9c"/><stop offset="0.5333" stop-color="#cebcb2"/><stop offset="0.5380" stop-color="#cbc8c6"/><stop offset="0.5427" stop-color="#bec5c8"/><stop offset="0.5473" stop-color="#afbdc5"/><stop offset="0.5520" stop-color="#99b3c0"/><stop offset="0.5567" stop-color="#88aabb"/><stop offset="0.5613" stop-color="#82a7b9"/><stop offset="0.5660" stop-color="#88aabb"/><stop offset="0.5707" stop-color="#96b1bf"/><stop offset="0.5753" stop-color="#aabbc4"/><stop offset="0.5800" stop-color="#b7c1c7"/><stop offset="0.5847" stop-color="#c3c7c9"/><stop offset="0.5894" stop-color="#cbc8c6"/><stop offset="0.5940" stop-color="#cdc1ba"/><stop offset="0.5987" stop-color="#cebaae"/><stop offset="0.6034" stop-color="#cfb4a3"/><stop offset="0.6080" stop-color="#cea995"/><stop offset="0.6127" stop-color="#cda28d"/><stop offset="0.6174" stop-color="#cda38e"/><stop offset="0.6220" stop-color="#ceab98"/><stop offset="0.6267" stop-color="#cfb7a8"/><stop offset="0.6314" stop-color="#cdbfb7"/><stop offset="0.6361" stop-color="#cbc8c6"/><stop offset="0.6407" stop-color="#c2c7c9"/><stop offset="0.6454" stop-color="#b8c2c7"/><stop offset="0.6501" stop-color="#aebdc5"/><stop offset="0.6547" stop-color="#a3b7c2"/><stop offset="0.6594" stop-color="#9fb5c1"/><stop offset="0.6641" stop-color="#a5b9c3"/><stop offset="0.6687" stop-color="#b0bec6"/><stop offset="0.6734" stop-color="#bac3c7"/><stop offset="0.6781" stop-color="#c4c8c9"/><stop offset="0.6828" stop-color="#cbc8c7"/><stop offset="0.6874" stop-color="#ccc2bc"/><stop offset="0.6921" stop-color="#cebcb1"/><stop offset="0.6968" stop-color="#cfb6a8"/><stop offset="0.7014" stop-color="#cfb19f"/><stop offset="0.7061" stop-color="#ceae9c"/><stop offset="0.7108" stop-color="#cfb1a0"/><stop offset="0.7154" stop-color="#cfb6a8"/><stop offset="0.7201" stop-color="#cebbb1"/><stop offset="0.7248" stop-color="#cdc1b9"/><stop offset="0.7295" stop-color="#ccc5c2"/><stop offset="0.7341" stop-color="#cbc9c7"/><stop offset="0.7388" stop-color="#cbcaca"/><stop offset="0.7435" stop-color="#cbcbca"/><stop offset="0.7481" stop-color="#cbcbcb"/><stop offset="0.7528" stop-color="#cbcbcb"/><stop offset="0.7575" stop-color="#cbcbcb"/><stop offset="0.7621" stop-color="#cbcbcb"/><stop offset="0.7668" stop-color="#cacaca"/><stop offset="0.7715" stop-color="#c9caca"/><stop offset="0.7762" stop-color="#c6c8ca"/><stop offset="0.7808" stop-color="#c3c7c9"/><stop offset="0.7855" stop-color="#bfc5c8"/><stop offset="0.7902" stop-color="#bcc4c8"/><stop offset="0.7948" stop-color="#bac3c7"/><stop offset="0.7995" stop-color="#bac3c7"/><stop offset="0.8042" stop-color="#bcc4c8"/><stop offset="0.8088" stop-color="#bfc5c8"/><stop offset="0.8135" stop-color="#c2c6c9"/><stop offset="0.8182" stop-color="#c5c8c9"/><stop offset="0.8229" stop-color="#c8c9ca"/><stop offset="0.8275" stop-color="#cbcaca"/><stop offset="0.8322" stop-color="#cbc8c7"/><stop offset="0.8369" stop-color="#cbc6c4"/><stop offset="0.8415" stop-color="#ccc5c0"/><stop offset="0.8462" stop-color="#ccc3bd"/><stop offset="0.8509" stop-color="#cdc1ba"/><stop offset="0.8555" stop-color="#cdc0b8"/><stop offset="0.8602" stop-color="#cdc0b9"/><stop offset="0.8649" stop-color="#ccc3bd"/><stop offset="0.8696" stop-color="#ccc6c3"/><stop offset="0.8742" stop-color="#cbc9c8"/><stop offset="0.8789" stop-color="#c8c9ca"/><stop offset="0.8836" stop-color="#c3c7c9"/><stop offset="0.8882" stop-color="#bec5c8"/><stop offset="0.8929" stop-color="#bbc3c8"/><stop offset="0.8976" stop-color="#b9c2c7"/><stop offset="0.9022" stop-color="#bbc3c8"/><stop offset="0.9069" stop-color="#bdc4c8"/><stop offset="0.9116" stop-color="#bfc5c8"/><stop offset="0.9163" stop-color="#c2c6c9"/><stop offset="0.9209" stop-color="#c4c8c9"/><stop offset="0.9256" stop-color="#c7c9ca"/><stop offset="0.9303" stop-color="#c9caca"/><stop offset="0.9349" stop-color="#cacaca"/><stop offset="0.9396" stop-color="#cacacb"/><stop offset="0.9443" stop-color="#cbcbcb"/><stop offset="0.9489" stop-color="#cbcbcb"/><stop offset="0.9536" stop-color="#cbcaca"/><stop offset="0.9583" stop-color="#cbc9c8"/><stop offset="0.9630" stop-color="#ccc5c1"/><stop offset="0.9676" stop-color="#cdbeb4"/><stop offset="0.9723" stop-color="#cfb5a6"/><stop offset="0.9770" stop-color="#ceab98"/><stop offset="0.9816" stop-color="#cda590"/><stop offset="0.9863" stop-color="#cda38e"/><stop offset="0.9910" stop-color="#cda38e"/><stop offset="0.9956" stop-color="#cda38e"/><stop offset="1.0000" stop-color="#cda38e"/></linearGradient><linearGradient id="L9" gradientUnits="userSpaceOnUse" x1="104.5" y1="0" x2="425.5" y2="0"><stop offset="0.0009" stop-color="#cbc8c7"/><stop offset="0.0056" stop-color="#ccc5c1"/><stop offset="0.0103" stop-color="#cdc0b9"/><stop offset="0.0149" stop-color="#cebbb0"/><stop offset="0.0196" stop-color="#cfb6a7"/><stop offset="0.0243" stop-color="#cfb19f"/><stop offset="0.0290" stop-color="#cfae9c"/><stop offset="0.0336" stop-color="#cfb3a3"/><stop offset="0.0383" stop-color="#cebaad"/><stop offset="0.0430" stop-color="#cdc1bb"/><stop offset="0.0476" stop-color="#cbcac9"/><stop offset="0.0523" stop-color="#bfc5c8"/><stop offset="0.0570" stop-color="#b3bfc6"/><stop offset="0.0616" stop-color="#a4b8c3"/><stop offset="0.0663" stop-color="#97b1bf"/><stop offset="0.0710" stop-color="#94b0be"/><stop offset="0.0757" stop-color="#9db5c1"/><stop offset="0.0803" stop-color="#adbcc5"/><stop offset="0.0850" stop-color="#b9c2c7"/><stop offset="0.0897" stop-color="#c4c8c9"/><stop offset="0.0943" stop-color="#cbc7c5"/><stop offset="0.0990" stop-color="#cdc0b8"/><stop offset="0.1037" stop-color="#ceb9ac"/><stop offset="0.1083" stop-color="#cfb3a3"/><stop offset="0.1130" stop-color="#cfaf9d"/><stop offset="0.1177" stop-color="#cfb3a2"/><stop offset="0.1224" stop-color="#ceb9ad"/><stop offset="0.1270" stop-color="#cdc1ba"/><stop offset="0.1317" stop-color="#cbcac9"/><stop offset="0.1364" stop-color="#c0c5c9"/><stop offset="0.1410" stop-color="#b4c0c6"/><stop offset="0.1457" stop-color="#a9bac4"/><stop offset="0.1504" stop-color="#a2b7c2"/><stop offset="0.1550" stop-color="#a8bac4"/><stop offset="0.1597" stop-color="#b4c0c6"/><stop offset="0.1644" stop-color="#c0c5c9"/><stop offset="0.1691" stop-color="#cbcaca"/><stop offset="0.1737" stop-color="#ccc3bd"/><stop offset="0.1784" stop-color="#cebcb1"/><stop offset="0.1831" stop-color="#cfb7a8"/><stop offset="0.1877" stop-color="#cfb5a5"/><stop offset="0.1924" stop-color="#cfb7a9"/><stop offset="0.1971" stop-color="#cebcb2"/><stop offset="0.2017" stop-color="#ccc3bd"/><stop offset="0.2064" stop-color="#cbcac9"/><stop offset="0.2111" stop-color="#c2c6c9"/><stop offset="0.2158" stop-color="#b7c1c7"/><stop offset="0.2204" stop-color="#adbdc5"/><stop offset="0.2251" stop-color="#9fb6c1"/><stop offset="0.2298" stop-color="#97b1bf"/><stop offset="0.2344" stop-color="#97b1bf"/><stop offset="0.2391" stop-color="#9db5c1"/><stop offset="0.2438" stop-color="#a8bac4"/><stop offset="0.2484" stop-color="#b0bec6"/><stop offset="0.2531" stop-color="#b7c1c7"/><stop offset="0.2578" stop-color="#bec5c8"/><stop offset="0.2625" stop-color="#c5c8c9"/><stop offset="0.2671" stop-color="#cbcaca"/><stop offset="0.2718" stop-color="#ccc6c2"/><stop offset="0.2765" stop-color="#cdc1bb"/><stop offset="0.2811" stop-color="#cdbdb3"/><stop offset="0.2858" stop-color="#ceb9ac"/><stop offset="0.2905" stop-color="#cfb4a5"/><stop offset="0.2951" stop-color="#cead9b"/><stop offset="0.2998" stop-color="#cda793"/><stop offset="0.3045" stop-color="#cda48f"/><stop offset="0.3092" stop-color="#cea895"/><stop offset="0.3138" stop-color="#cfb4a4"/><stop offset="0.3185" stop-color="#cebcb2"/><stop offset="0.3232" stop-color="#ccc6c2"/><stop offset="0.3278" stop-color="#c5c8ca"/><stop offset="0.3325" stop-color="#bac3c7"/><stop offset="0.3372" stop-color="#afbdc5"/><stop offset="0.3418" stop-color="#a1b6c2"/><stop offset="0.3465" stop-color="#95b1bf"/><stop offset="0.3512" stop-color="#94b0be"/><stop offset="0.3559" stop-color="#9db5c1"/><stop offset="0.3605" stop-color="#adbdc5"/><stop offset="0.3652" stop-color="#b8c2c7"/><stop offset="0.3699" stop-color="#c4c7c9"/><stop offset="0.3745" stop-color="#cbc8c7"/><stop offset="0.3792" stop-color="#ccc2bb"/><stop offset="0.3839" stop-color="#cebcb1"/><stop offset="0.3885" stop-color="#cfb6a7"/><stop offset="0.3932" stop-color="#cfb09f"/><stop offset="0.3979" stop-color="#cfae9c"/><stop offset="0.4026" stop-color="#cfb2a1"/><stop offset="0.4072" stop-color="#cfb8aa"/><stop offset="0.4119" stop-color="#cdbdb4"/><stop offset="0.4166" stop-color="#ccc3be"/><stop offset="0.4212" stop-color="#cbcac9"/><stop offset="0.4259" stop-color="#c2c7c9"/><stop offset="0.4306" stop-color="#b8c2c7"/><stop offset="0.4352" stop-color="#afbdc5"/><stop offset="0.4399" stop-color="#a4b8c3"/><stop offset="0.4446" stop-color="#a1b7c2"/><stop offset="0.4493" stop-color="#aabbc4"/><stop offset="0.4539" stop-color="#b4c0c6"/><stop offset="0.4586" stop-color="#c0c5c9"/><stop offset="0.4633" stop-color="#cbcaca"/><stop offset="0.4679" stop-color="#ccc3be"/><stop offset="0.4726" stop-color="#cebcb2"/><stop offset="0.4773" stop-color="#cfb6a8"/><stop offset="0.4819" stop-color="#cfb09e"/><stop offset="0.4866" stop-color="#ceaa97"/><stop offset="0.4913" stop-color="#cda691"/><stop offset="0.4960" stop-color="#cca08a"/><stop offset="0.5006" stop-color="#cb9c84"/><stop offset="0.5053" stop-color="#cb9a82"/><stop offset="0.5100" stop-color="#cc9e88"/><stop offset="0.5146" stop-color="#cea995"/><stop offset="0.5193" stop-color="#cfb6a7"/><stop offset="0.5240" stop-color="#cdbeb5"/><stop offset="0.5286" stop-color="#cbc6c3"/><stop offset="0.5333" stop-color="#c4c7c9"/><stop offset="0.5380" stop-color="#b7c1c7"/><stop offset="0.5427" stop-color="#aabbc4"/><stop offset="0.5473" stop-color="#98b2bf"/><stop offset="0.5520" stop-color="#8eadbc"/><stop offset="0.5567" stop-color="#8eadbc"/><stop offset="0.5613" stop-color="#98b2bf"/><stop offset="0.5660" stop-color="#aabbc4"/><stop offset="0.5707" stop-color="#b7c1c7"/><stop offset="0.5753" stop-color="#c3c7c9"/><stop offset="0.5800" stop-color="#cbc8c7"/><stop offset="0.5847" stop-color="#cdc1bb"/><stop offset="0.5894" stop-color="#cebbb0"/><stop offset="0.5940" stop-color="#cfb5a6"/><stop offset="0.5987" stop-color="#cfb09e"/><stop offset="0.6034" stop-color="#cfaf9d"/><stop offset="0.6080" stop-color="#cfb4a4"/><stop offset="0.6127" stop-color="#cebaae"/><stop offset="0.6174" stop-color="#cdc0b9"/><stop offset="0.6220" stop-color="#cbc7c4"/><stop offset="0.6267" stop-color="#c6c9ca"/><stop offset="0.6314" stop-color="#bdc4c8"/><stop offset="0.6361" stop-color="#b4c0c6"/><stop offset="0.6407" stop-color="#abbcc5"/><stop offset="0.6454" stop-color="#a1b6c2"/><stop offset="0.6501" stop-color="#9fb5c1"/><stop offset="0.6547" stop-color="#a6b9c3"/><stop offset="0.6594" stop-color="#b1bec6"/><stop offset="0.6641" stop-color="#bac3c8"/><stop offset="0.6687" stop-color="#c4c8c9"/><stop offset="0.6734" stop-color="#cbc8c7"/><stop offset="0.6781" stop-color="#ccc2bc"/><stop offset="0.6828" stop-color="#cebcb2"/><stop offset="0.6874" stop-color="#cfb6a8"/><stop offset="0.6921" stop-color="#cfb1a0"/><stop offset="0.6968" stop-color="#cfaf9d"/><stop offset="0.7014" stop-color="#cfb4a3"/><stop offset="0.7061" stop-color="#ceb9ac"/><stop offset="0.7108" stop-color="#cdc0b8"/><stop offset="0.7154" stop-color="#ccc6c3"/><stop offset="0.7201" stop-color="#cacaca"/><stop offset="0.7248" stop-color="#c5c8ca"/><stop offset="0.7295" stop-color="#c2c6c9"/><stop offset="0.7341" stop-color="#bec5c8"/><stop offset="0.7388" stop-color="#bbc3c8"/><stop offset="0.7435" stop-color="#bac3c7"/><stop offset="0.7481" stop-color="#bcc4c8"/><stop offset="0.7528" stop-color="#c0c5c9"/><stop offset="0.7575" stop-color="#c4c7c9"/><stop offset="0.7621" stop-color="#c8c9ca"/><stop offset="0.7668" stop-color="#cbc9c8"/><stop offset="0.7715" stop-color="#ccc6c3"/><stop offset="0.7762" stop-color="#ccc3bd"/><stop offset="0.7808" stop-color="#cdc1b9"/><stop offset="0.7855" stop-color="#cdc0b9"/><stop offset="0.7902" stop-color="#ccc2bd"/><stop offset="0.7948" stop-color="#ccc6c2"/><stop offset="0.7995" stop-color="#cbcac9"/><stop offset="0.8042" stop-color="#c4c7c9"/><stop offset="0.8088" stop-color="#bac3c7"/><stop offset="0.8135" stop-color="#afbdc5"/><stop offset="0.8182" stop-color="#a1b7c2"/><stop offset="0.8229" stop-color="#99b3c0"/><stop offset="0.8275" stop-color="#9bb4c0"/><stop offset="0.8322" stop-color="#a6b9c3"/><stop offset="0.8369" stop-color="#b1bec6"/><stop offset="0.8415" stop-color="#bbc3c8"/><stop offset="0.8462" stop-color="#c5c8c9"/><stop offset="0.8509" stop-color="#cbc8c7"/><stop offset="0.8555" stop-color="#ccc2bc"/><stop offset="0.8602" stop-color="#cebcb1"/><stop offset="0.8649" stop-color="#cfb6a7"/><stop offset="0.8696" stop-color="#cfb09e"/><stop offset="0.8742" stop-color="#cead9a"/><stop offset="0.8789" stop-color="#ceae9c"/><stop offset="0.8836" stop-color="#cfb3a3"/><stop offset="0.8882" stop-color="#cfb8aa"/><stop offset="0.8929" stop-color="#cdbdb3"/><stop offset="0.8976" stop-color="#ccc2bc"/><stop offset="0.9022" stop-color="#cbc8c6"/><stop offset="0.9069" stop-color="#c6c8ca"/><stop offset="0.9116" stop-color="#bdc4c8"/><stop offset="0.9163" stop-color="#b4c0c6"/><stop offset="0.9209" stop-color="#aabbc4"/><stop offset="0.9256" stop-color="#9bb3c0"/><stop offset="0.9303" stop-color="#90aebd"/><stop offset="0.9349" stop-color="#8babbc"/><stop offset="0.9396" stop-color="#8eadbc"/><stop offset="0.9443" stop-color="#98b2bf"/><stop offset="0.9489" stop-color="#aabbc4"/><stop offset="0.9536" stop-color="#b7c1c7"/><stop offset="0.9583" stop-color="#c3c7c9"/><stop offset="0.9630" stop-color="#ccc6c3"/><stop offset="0.9676" stop-color="#cebcb1"/><stop offset="0.9723" stop-color="#cfb09e"/><stop offset="0.9770" stop-color="#cc9e87"/><stop offset="0.9816" stop-color="#ca9278"/><stop offset="0.9863" stop-color="#c98d72"/><stop offset="0.9910" stop-color="#c98c71"/><stop offset="0.9956" stop-color="#c98c71"/><stop offset="1.0000" stop-color="#c98c71"/></linearGradient><linearGradient id="L10" gradientUnits="userSpaceOnUse" x1="104.5" y1="0" x2="425.5" y2="0"><stop offset="0.0009" stop-color="#cbc9c8"/><stop offset="0.0056" stop-color="#cbc7c5"/><stop offset="0.0103" stop-color="#ccc4bf"/><stop offset="0.0149" stop-color="#cdc1ba"/><stop offset="0.0196" stop-color="#cdbeb5"/><stop offset="0.0243" stop-color="#cebbb0"/><stop offset="0.0290" stop-color="#ceb9ac"/><stop offset="0.0336" stop-color="#ceb9ac"/><stop offset="0.0383" stop-color="#cebcb1"/><stop offset="0.0430" stop-color="#cdc0b9"/><stop offset="0.0476" stop-color="#cbc6c3"/><stop offset="0.0523" stop-color="#c7c9ca"/><stop offset="0.0570" stop-color="#bdc4c8"/><stop offset="0.0616" stop-color="#b3bfc6"/><stop offset="0.0663" stop-color="#a8bac4"/><stop offset="0.0710" stop-color="#a0b6c1"/><stop offset="0.0757" stop-color="#a2b7c2"/><stop offset="0.0803" stop-color="#adbdc5"/><stop offset="0.0850" stop-color="#b8c2c7"/><stop offset="0.0897" stop-color="#c4c7c9"/><stop offset="0.0943" stop-color="#cbc7c5"/><stop offset="0.0990" stop-color="#cdc0b8"/><stop offset="0.1037" stop-color="#ceb9ac"/><stop offset="0.1083" stop-color="#cfb3a3"/><stop offset="0.1130" stop-color="#cfaf9d"/><stop offset="0.1177" stop-color="#cfb3a2"/><stop offset="0.1224" stop-color="#ceb9ad"/><stop offset="0.1270" stop-color="#cdc1ba"/><stop offset="0.1317" stop-color="#cbc9c8"/><stop offset="0.1364" stop-color="#c1c6c9"/><stop offset="0.1410" stop-color="#b7c1c7"/><stop offset="0.1457" stop-color="#adbcc5"/><stop offset="0.1504" stop-color="#a2b7c2"/><stop offset="0.1550" stop-color="#a0b6c1"/><stop offset="0.1597" stop-color="#a9bac4"/><stop offset="0.1644" stop-color="#b4c0c6"/><stop offset="0.1691" stop-color="#c0c5c9"/><stop offset="0.1737" stop-color="#cbcaca"/><stop offset="0.1784" stop-color="#ccc2bc"/><stop offset="0.1831" stop-color="#cebbb0"/><stop offset="0.1877" stop-color="#cfb5a5"/><stop offset="0.1924" stop-color="#cfaf9e"/><stop offset="0.1971" stop-color="#cfb19f"/><stop offset="0.2017" stop-color="#cfb7a9"/><stop offset="0.2064" stop-color="#cdbeb5"/><stop offset="0.2111" stop-color="#cbc6c3"/><stop offset="0.2158" stop-color="#c5c8ca"/><stop offset="0.2204" stop-color="#bac3c8"/><stop offset="0.2251" stop-color="#b0bec6"/><stop offset="0.2298" stop-color="#a5b9c3"/><stop offset="0.2344" stop-color="#9fb5c1"/><stop offset="0.2391" stop-color="#a3b7c2"/><stop offset="0.2438" stop-color="#aebdc5"/><stop offset="0.2484" stop-color="#b7c1c7"/><stop offset="0.2531" stop-color="#c2c6c9"/><stop offset="0.2578" stop-color="#cbcaca"/><stop offset="0.2625" stop-color="#ccc4bf"/><stop offset="0.2671" stop-color="#cdbeb4"/><stop offset="0.2718" stop-color="#cfb8aa"/><stop offset="0.2765" stop-color="#cfb2a2"/><stop offset="0.2811" stop-color="#cfae9c"/><stop offset="0.2858" stop-color="#cfb1a0"/><stop offset="0.2905" stop-color="#cfb7a9"/><stop offset="0.2951" stop-color="#cdbeb4"/><stop offset="0.2998" stop-color="#ccc5c0"/><stop offset="0.3045" stop-color="#c9caca"/><stop offset="0.3092" stop-color="#c0c6c9"/><stop offset="0.3138" stop-color="#b7c1c7"/><stop offset="0.3185" stop-color="#aebdc5"/><stop offset="0.3232" stop-color="#a4b8c3"/><stop offset="0.3278" stop-color="#9fb5c1"/><stop offset="0.3325" stop-color="#a2b7c2"/><stop offset="0.3372" stop-color="#adbdc5"/><stop offset="0.3418" stop-color="#b7c1c7"/><stop offset="0.3465" stop-color="#c1c6c9"/><stop offset="0.3512" stop-color="#cbcaca"/><stop offset="0.3559" stop-color="#ccc3be"/><stop offset="0.3605" stop-color="#cebcb2"/><stop offset="0.3652" stop-color="#cfb6a7"/><stop offset="0.3699" stop-color="#cead9b"/><stop offset="0.3745" stop-color="#cda793"/><stop offset="0.3792" stop-color="#cea895"/><stop offset="0.3839" stop-color="#cfb2a1"/><stop offset="0.3885" stop-color="#cebaaf"/><stop offset="0.3932" stop-color="#ccc3be"/><stop offset="0.3979" stop-color="#c9caca"/><stop offset="0.4026" stop-color="#bdc4c8"/><stop offset="0.4072" stop-color="#b2bfc6"/><stop offset="0.4119" stop-color="#a6b9c3"/><stop offset="0.4166" stop-color="#9fb6c1"/><stop offset="0.4212" stop-color="#a2b7c2"/><stop offset="0.4259" stop-color="#acbcc5"/><stop offset="0.4306" stop-color="#b5c1c7"/><stop offset="0.4352" stop-color="#bfc5c8"/><stop offset="0.4399" stop-color="#c8caca"/><stop offset="0.4446" stop-color="#ccc5c2"/><stop offset="0.4493" stop-color="#cdbfb7"/><stop offset="0.4539" stop-color="#ceb9ac"/><stop offset="0.4586" stop-color="#cfb4a3"/><stop offset="0.4633" stop-color="#cfaf9d"/><stop offset="0.4679" stop-color="#cfb1a0"/><stop offset="0.4726" stop-color="#cfb7aa"/><stop offset="0.4773" stop-color="#cdbeb5"/><stop offset="0.4819" stop-color="#ccc4bf"/><stop offset="0.4866" stop-color="#ccc4c0"/><stop offset="0.4913" stop-color="#cdc0b9"/><stop offset="0.4960" stop-color="#cebaae"/><stop offset="0.5006" stop-color="#cfb5a6"/><stop offset="0.5053" stop-color="#cfb5a6"/><stop offset="0.5100" stop-color="#cebaae"/><stop offset="0.5146" stop-color="#cdc0b9"/><stop offset="0.5193" stop-color="#cbc8c6"/><stop offset="0.5240" stop-color="#c2c6c9"/><stop offset="0.5286" stop-color="#b3bfc6"/><stop offset="0.5333" stop-color="#a0b6c2"/><stop offset="0.5380" stop-color="#91afbd"/><stop offset="0.5427" stop-color="#90aebd"/><stop offset="0.5473" stop-color="#9bb4c0"/><stop offset="0.5520" stop-color="#adbdc5"/><stop offset="0.5567" stop-color="#bac3c8"/><stop offset="0.5613" stop-color="#c6c8ca"/><stop offset="0.5660" stop-color="#cbc6c3"/><stop offset="0.5707" stop-color="#cdc0b8"/><stop offset="0.5753" stop-color="#cebaae"/><stop offset="0.5800" stop-color="#cfb5a5"/><stop offset="0.5847" stop-color="#cfaf9d"/><stop offset="0.5894" stop-color="#cfaf9e"/><stop offset="0.5940" stop-color="#cfb5a6"/><stop offset="0.5987" stop-color="#cebbb0"/><stop offset="0.6034" stop-color="#ccc2bc"/><stop offset="0.6080" stop-color="#cbc9c8"/><stop offset="0.6127" stop-color="#c4c7c9"/><stop offset="0.6174" stop-color="#bbc3c8"/><stop offset="0.6220" stop-color="#b3bfc6"/><stop offset="0.6267" stop-color="#abbcc5"/><stop offset="0.6314" stop-color="#a1b7c2"/><stop offset="0.6361" stop-color="#9eb5c1"/><stop offset="0.6407" stop-color="#a4b8c3"/><stop offset="0.6454" stop-color="#afbdc5"/><stop offset="0.6501" stop-color="#b8c2c7"/><stop offset="0.6547" stop-color="#c2c6c9"/><stop offset="0.6594" stop-color="#cbcaca"/><stop offset="0.6641" stop-color="#ccc3be"/><stop offset="0.6687" stop-color="#cdbdb3"/><stop offset="0.6734" stop-color="#cfb7a9"/><stop offset="0.6781" stop-color="#cfb1a0"/><stop offset="0.6828" stop-color="#cfae9c"/><stop offset="0.6874" stop-color="#cfb1a0"/><stop offset="0.6921" stop-color="#cfb7a8"/><stop offset="0.6968" stop-color="#cebcb2"/><stop offset="0.7014" stop-color="#ccc2bb"/><stop offset="0.7061" stop-color="#cbc8c5"/><stop offset="0.7108" stop-color="#c6c9ca"/><stop offset="0.7154" stop-color="#bdc4c8"/><stop offset="0.7201" stop-color="#b4c0c6"/><stop offset="0.7248" stop-color="#acbcc5"/><stop offset="0.7295" stop-color="#a2b7c2"/><stop offset="0.7341" stop-color="#9eb5c1"/><stop offset="0.7388" stop-color="#a3b8c3"/><stop offset="0.7435" stop-color="#aebdc5"/><stop offset="0.7481" stop-color="#b6c1c7"/><stop offset="0.7528" stop-color="#bfc5c8"/><stop offset="0.7575" stop-color="#c7c9ca"/><stop offset="0.7621" stop-color="#cbc9c8"/><stop offset="0.7668" stop-color="#cbc6c3"/><stop offset="0.7715" stop-color="#ccc4bf"/><stop offset="0.7762" stop-color="#ccc1bb"/><stop offset="0.7808" stop-color="#cdc0b8"/><stop offset="0.7855" stop-color="#cdc0b8"/><stop offset="0.7902" stop-color="#cdc1ba"/><stop offset="0.7948" stop-color="#ccc3be"/><stop offset="0.7995" stop-color="#ccc6c3"/><stop offset="0.8042" stop-color="#cbc9c7"/><stop offset="0.8088" stop-color="#c8c9ca"/><stop offset="0.8135" stop-color="#c1c6c9"/><stop offset="0.8182" stop-color="#b9c2c7"/><stop offset="0.8229" stop-color="#b0bec6"/><stop offset="0.8275" stop-color="#a7b9c3"/><stop offset="0.8322" stop-color="#9fb6c1"/><stop offset="0.8369" stop-color="#9fb6c1"/><stop offset="0.8415" stop-color="#a8bac4"/><stop offset="0.8462" stop-color="#b2bfc6"/><stop offset="0.8509" stop-color="#bbc3c8"/><stop offset="0.8555" stop-color="#c5c8c9"/><stop offset="0.8602" stop-color="#cbc8c6"/><stop offset="0.8649" stop-color="#ccc2bb"/><stop offset="0.8696" stop-color="#cebbb0"/><stop offset="0.8742" stop-color="#cfb5a6"/><stop offset="0.8789" stop-color="#cfb09e"/><stop offset="0.8836" stop-color="#cfaf9d"/><stop offset="0.8882" stop-color="#cfb4a4"/><stop offset="0.8929" stop-color="#cebaae"/><stop offset="0.8976" stop-color="#cdc0b9"/><stop offset="0.9022" stop-color="#cbc7c4"/><stop offset="0.9069" stop-color="#c7c9ca"/><stop offset="0.9116" stop-color="#bdc4c8"/><stop offset="0.9163" stop-color="#b4c0c6"/><stop offset="0.9209" stop-color="#abbcc5"/><stop offset="0.9256" stop-color="#a1b7c2"/><stop offset="0.9303" stop-color="#9eb5c1"/><stop offset="0.9349" stop-color="#a4b8c3"/><stop offset="0.9396" stop-color="#aebdc5"/><stop offset="0.9443" stop-color="#b7c1c7"/><stop offset="0.9489" stop-color="#bfc5c9"/><stop offset="0.9536" stop-color="#c9caca"/><stop offset="0.9583" stop-color="#ccc5c0"/><stop offset="0.9630" stop-color="#cdbdb3"/><stop offset="0.9676" stop-color="#cfb5a6"/><stop offset="0.9723" stop-color="#cea995"/><stop offset="0.9770" stop-color="#cc9e88"/><stop offset="0.9816" stop-color="#cb9981"/><stop offset="0.9863" stop-color="#cb9880"/><stop offset="0.9910" stop-color="#cb9880"/><stop offset="0.9956" stop-color="#cb9880"/><stop offset="1.0000" stop-color="#cb9880"/></linearGradient><linearGradient id="L11" gradientUnits="userSpaceOnUse" x1="104.5" y1="0" x2="425.5" y2="0"><stop offset="0.0009" stop-color="#cbc9c7"/><stop offset="0.0056" stop-color="#ccc5c1"/><stop offset="0.0103" stop-color="#cdc0b9"/><stop offset="0.0149" stop-color="#cebcb2"/><stop offset="0.0196" stop-color="#ceb9ad"/><stop offset="0.0243" stop-color="#ceb9ac"/><stop offset="0.0290" stop-color="#cebbb1"/><stop offset="0.0336" stop-color="#cdbfb7"/><stop offset="0.0383" stop-color="#ccc4bf"/><stop offset="0.0430" stop-color="#cbc9c8"/><stop offset="0.0476" stop-color="#c5c8ca"/><stop offset="0.0523" stop-color="#bcc4c8"/><stop offset="0.0570" stop-color="#b3bfc6"/><stop offset="0.0616" stop-color="#aabbc4"/><stop offset="0.0663" stop-color="#a0b6c2"/><stop offset="0.0710" stop-color="#9fb6c1"/><stop offset="0.0757" stop-color="#a7bac4"/><stop offset="0.0803" stop-color="#b1bfc6"/><stop offset="0.0850" stop-color="#bbc3c8"/><stop offset="0.0897" stop-color="#c4c8c9"/><stop offset="0.0943" stop-color="#cbc9c9"/><stop offset="0.0990" stop-color="#ccc5c1"/><stop offset="0.1037" stop-color="#ccc2bb"/><stop offset="0.1083" stop-color="#cdbeb6"/><stop offset="0.1130" stop-color="#cebcb2"/><stop offset="0.1177" stop-color="#cebbb1"/><stop offset="0.1224" stop-color="#cdbdb3"/><stop offset="0.1270" stop-color="#cdc0b9"/><stop offset="0.1317" stop-color="#ccc4c0"/><stop offset="0.1364" stop-color="#cbc8c7"/><stop offset="0.1410" stop-color="#c8c9ca"/><stop offset="0.1457" stop-color="#c3c7c9"/><stop offset="0.1504" stop-color="#bec5c8"/><stop offset="0.1550" stop-color="#bac3c7"/><stop offset="0.1597" stop-color="#b8c2c7"/><stop offset="0.1644" stop-color="#b9c2c7"/><stop offset="0.1691" stop-color="#bcc3c8"/><stop offset="0.1737" stop-color="#c0c5c9"/><stop offset="0.1784" stop-color="#c4c7c9"/><stop offset="0.1831" stop-color="#c8caca"/><stop offset="0.1877" stop-color="#cbc9c8"/><stop offset="0.1924" stop-color="#ccc5c2"/><stop offset="0.1971" stop-color="#ccc2bc"/><stop offset="0.2017" stop-color="#cdbfb6"/><stop offset="0.2064" stop-color="#cebcb1"/><stop offset="0.2111" stop-color="#ceb9ad"/><stop offset="0.2158" stop-color="#ceb9ac"/><stop offset="0.2204" stop-color="#cebbb0"/><stop offset="0.2251" stop-color="#cdbeb6"/><stop offset="0.2298" stop-color="#ccc3bd"/><stop offset="0.2344" stop-color="#cbc7c5"/><stop offset="0.2391" stop-color="#c7c9ca"/><stop offset="0.2438" stop-color="#bec4c8"/><stop offset="0.2484" stop-color="#b3c0c6"/><stop offset="0.2531" stop-color="#a8bac4"/><stop offset="0.2578" stop-color="#9cb4c0"/><stop offset="0.2625" stop-color="#99b3c0"/><stop offset="0.2671" stop-color="#a1b7c2"/><stop offset="0.2718" stop-color="#afbec6"/><stop offset="0.2765" stop-color="#bcc3c8"/><stop offset="0.2811" stop-color="#c8c9ca"/><stop offset="0.2858" stop-color="#ccc5c0"/><stop offset="0.2905" stop-color="#cdbdb3"/><stop offset="0.2951" stop-color="#cfb6a7"/><stop offset="0.2998" stop-color="#cead9a"/><stop offset="0.3045" stop-color="#cda793"/><stop offset="0.3092" stop-color="#cea996"/><stop offset="0.3138" stop-color="#cfb2a2"/><stop offset="0.3185" stop-color="#cebaae"/><stop offset="0.3232" stop-color="#ccc2bb"/><stop offset="0.3278" stop-color="#cbc9c8"/><stop offset="0.3325" stop-color="#c2c7c9"/><stop offset="0.3372" stop-color="#b8c2c7"/><stop offset="0.3418" stop-color="#aebdc5"/><stop offset="0.3465" stop-color="#a1b7c2"/><stop offset="0.3512" stop-color="#99b3c0"/><stop offset="0.3559" stop-color="#9ab3c0"/><stop offset="0.3605" stop-color="#a3b8c3"/><stop offset="0.3652" stop-color="#afbec6"/><stop offset="0.3699" stop-color="#b9c2c7"/><stop offset="0.3745" stop-color="#c2c7c9"/><stop offset="0.3792" stop-color="#cbcaca"/><stop offset="0.3839" stop-color="#ccc5c0"/><stop offset="0.3885" stop-color="#cdbfb7"/><stop offset="0.3932" stop-color="#cebaae"/><stop offset="0.3979" stop-color="#cfb6a7"/><stop offset="0.4026" stop-color="#cfb4a3"/><stop offset="0.4072" stop-color="#cfb5a6"/><stop offset="0.4119" stop-color="#ceb9ad"/><stop offset="0.4166" stop-color="#cdbfb7"/><stop offset="0.4212" stop-color="#ccc6c2"/><stop offset="0.4259" stop-color="#c7c9ca"/><stop offset="0.4306" stop-color="#bcc4c8"/><stop offset="0.4352" stop-color="#b0bec6"/><stop offset="0.4399" stop-color="#a1b6c2"/><stop offset="0.4446" stop-color="#95b1be"/><stop offset="0.4493" stop-color="#95b0be"/><stop offset="0.4539" stop-color="#a0b6c1"/><stop offset="0.4586" stop-color="#afbec6"/><stop offset="0.4633" stop-color="#bcc4c8"/><stop offset="0.4679" stop-color="#c9caca"/><stop offset="0.4726" stop-color="#cdc0b9"/><stop offset="0.4773" stop-color="#cfb5a5"/><stop offset="0.4819" stop-color="#cda38e"/><stop offset="0.4866" stop-color="#cb9982"/><stop offset="0.4913" stop-color="#cc9c85"/><stop offset="0.4960" stop-color="#cea996"/><stop offset="0.5006" stop-color="#cfb8aa"/><stop offset="0.5053" stop-color="#ccc1bb"/><stop offset="0.5100" stop-color="#cacaca"/><stop offset="0.5146" stop-color="#bfc5c8"/><stop offset="0.5193" stop-color="#b4c0c6"/><stop offset="0.5240" stop-color="#a7bac4"/><stop offset="0.5286" stop-color="#97b1bf"/><stop offset="0.5333" stop-color="#8cacbc"/><stop offset="0.5380" stop-color="#89aabb"/><stop offset="0.5427" stop-color="#8faebd"/><stop offset="0.5473" stop-color="#9eb5c1"/><stop offset="0.5520" stop-color="#afbec5"/><stop offset="0.5567" stop-color="#bbc3c8"/><stop offset="0.5613" stop-color="#c7c9ca"/><stop offset="0.5660" stop-color="#ccc5c0"/><stop offset="0.5707" stop-color="#cebdb3"/><stop offset="0.5753" stop-color="#cfb5a6"/><stop offset="0.5800" stop-color="#ceaa97"/><stop offset="0.5847" stop-color="#cda38e"/><stop offset="0.5894" stop-color="#cda28d"/><stop offset="0.5940" stop-color="#cea996"/><stop offset="0.5987" stop-color="#cfb5a5"/><stop offset="0.6034" stop-color="#cebcb2"/><stop offset="0.6080" stop-color="#ccc3be"/><stop offset="0.6127" stop-color="#cbc9c8"/><stop offset="0.6174" stop-color="#c8c9ca"/><stop offset="0.6220" stop-color="#c5c8c9"/><stop offset="0.6267" stop-color="#c2c6c9"/><stop offset="0.6314" stop-color="#bfc5c8"/><stop offset="0.6361" stop-color="#bdc4c8"/><stop offset="0.6407" stop-color="#bac3c7"/><stop offset="0.6454" stop-color="#b8c2c7"/><stop offset="0.6501" stop-color="#b8c2c7"/><stop offset="0.6547" stop-color="#b9c2c7"/><stop offset="0.6594" stop-color="#bcc4c8"/><stop offset="0.6641" stop-color="#c0c5c9"/><stop offset="0.6687" stop-color="#c3c7c9"/><stop offset="0.6734" stop-color="#c7c9ca"/><stop offset="0.6781" stop-color="#cbcac9"/><stop offset="0.6828" stop-color="#cbc6c4"/><stop offset="0.6874" stop-color="#ccc3bd"/><stop offset="0.6921" stop-color="#cdbfb7"/><stop offset="0.6968" stop-color="#cebcb1"/><stop offset="0.7014" stop-color="#ceb8ab"/><stop offset="0.7061" stop-color="#cfb6a8"/><stop offset="0.7108" stop-color="#cfb6a8"/><stop offset="0.7154" stop-color="#ceb9ac"/><stop offset="0.7201" stop-color="#cdbdb3"/><stop offset="0.7248" stop-color="#ccc2bb"/><stop offset="0.7295" stop-color="#ccc6c2"/><stop offset="0.7341" stop-color="#cbc9c8"/><stop offset="0.7388" stop-color="#cbcaca"/><stop offset="0.7435" stop-color="#cbcaca"/><stop offset="0.7481" stop-color="#cbcaca"/><stop offset="0.7528" stop-color="#cbc9c8"/><stop offset="0.7575" stop-color="#cbc7c5"/><stop offset="0.7621" stop-color="#ccc5c1"/><stop offset="0.7668" stop-color="#ccc3be"/><stop offset="0.7715" stop-color="#cdc1bb"/><stop offset="0.7762" stop-color="#cdc0b8"/><stop offset="0.7808" stop-color="#cdc0b8"/><stop offset="0.7855" stop-color="#ccc1bb"/><stop offset="0.7902" stop-color="#ccc4c0"/><stop offset="0.7948" stop-color="#cbc8c7"/><stop offset="0.7995" stop-color="#c6c9ca"/><stop offset="0.8042" stop-color="#bcc4c8"/><stop offset="0.8088" stop-color="#b0bec6"/><stop offset="0.8135" stop-color="#a5b8c3"/><stop offset="0.8182" stop-color="#9fb5c1"/><stop offset="0.8229" stop-color="#a3b8c2"/><stop offset="0.8275" stop-color="#adbdc5"/><stop offset="0.8322" stop-color="#b6c1c7"/><stop offset="0.8369" stop-color="#bfc5c8"/><stop offset="0.8415" stop-color="#c8c9ca"/><stop offset="0.8462" stop-color="#cbc6c3"/><stop offset="0.8509" stop-color="#cdc0b8"/><stop offset="0.8555" stop-color="#cebaae"/><stop offset="0.8602" stop-color="#cfb5a5"/><stop offset="0.8649" stop-color="#cfaf9e"/><stop offset="0.8696" stop-color="#cfaf9d"/><stop offset="0.8742" stop-color="#cfb4a4"/><stop offset="0.8789" stop-color="#ceb9ad"/><stop offset="0.8836" stop-color="#cdbfb7"/><stop offset="0.8882" stop-color="#ccc5c1"/><stop offset="0.8929" stop-color="#c9caca"/><stop offset="0.8976" stop-color="#c0c5c9"/><stop offset="0.9022" stop-color="#b6c1c7"/><stop offset="0.9069" stop-color="#acbcc5"/><stop offset="0.9116" stop-color="#9db4c1"/><stop offset="0.9163" stop-color="#91aebd"/><stop offset="0.9209" stop-color="#8bacbc"/><stop offset="0.9256" stop-color="#8dacbc"/><stop offset="0.9303" stop-color="#96b1bf"/><stop offset="0.9349" stop-color="#a7b9c3"/><stop offset="0.9396" stop-color="#b4c0c6"/><stop offset="0.9443" stop-color="#bfc5c8"/><stop offset="0.9489" stop-color="#cbcbcb"/><stop offset="0.9536" stop-color="#ccc3bd"/><stop offset="0.9583" stop-color="#cebcb1"/><stop offset="0.9630" stop-color="#cfb4a5"/><stop offset="0.9676" stop-color="#cda894"/><stop offset="0.9723" stop-color="#cc9c86"/><stop offset="0.9770" stop-color="#cb967d"/><stop offset="0.9816" stop-color="#ca947b"/><stop offset="0.9863" stop-color="#ca947b"/><stop offset="0.9910" stop-color="#ca947b"/><stop offset="0.9956" stop-color="#ca947b"/><stop offset="1.0000" stop-color="#ca947b"/></linearGradient><linearGradient id="L12" gradientUnits="userSpaceOnUse" x1="104.5" y1="0" x2="425.5" y2="0"><stop offset="0.0009" stop-color="#cbc8c6"/><stop offset="0.0056" stop-color="#ccc4bf"/><stop offset="0.0103" stop-color="#cdbeb4"/><stop offset="0.0149" stop-color="#cfb8ab"/><stop offset="0.0196" stop-color="#cfb4a5"/><stop offset="0.0243" stop-color="#cfb4a4"/><stop offset="0.0290" stop-color="#cfb7a9"/><stop offset="0.0336" stop-color="#cebcb2"/><stop offset="0.0383" stop-color="#ccc2bc"/><stop offset="0.0430" stop-color="#cbc8c6"/><stop offset="0.0476" stop-color="#c5c8ca"/><stop offset="0.0523" stop-color="#bcc4c8"/><stop offset="0.0570" stop-color="#b3bfc6"/><stop offset="0.0616" stop-color="#aabbc4"/><stop offset="0.0663" stop-color="#a0b6c2"/><stop offset="0.0710" stop-color="#9fb6c1"/><stop offset="0.0757" stop-color="#a7bac4"/><stop offset="0.0803" stop-color="#b1bfc6"/><stop offset="0.0850" stop-color="#bbc3c8"/><stop offset="0.0897" stop-color="#c4c8c9"/><stop offset="0.0943" stop-color="#cbcaca"/><stop offset="0.0990" stop-color="#cbc7c4"/><stop offset="0.1037" stop-color="#ccc4c0"/><stop offset="0.1083" stop-color="#ccc2bc"/><stop offset="0.1130" stop-color="#cdc0b9"/><stop offset="0.1177" stop-color="#cdc0b8"/><stop offset="0.1224" stop-color="#cdc1ba"/><stop offset="0.1270" stop-color="#ccc3bd"/><stop offset="0.1317" stop-color="#ccc5c2"/><stop offset="0.1364" stop-color="#cbc8c6"/><stop offset="0.1410" stop-color="#cbcbcb"/><stop offset="0.1457" stop-color="#c6c8ca"/><stop offset="0.1504" stop-color="#c1c6c9"/><stop offset="0.1550" stop-color="#bdc4c8"/><stop offset="0.1597" stop-color="#bcc3c8"/><stop offset="0.1644" stop-color="#bec5c8"/><stop offset="0.1691" stop-color="#c5c8c9"/><stop offset="0.1737" stop-color="#cbcac9"/><stop offset="0.1784" stop-color="#ccc5c0"/><stop offset="0.1831" stop-color="#cdc0b8"/><stop offset="0.1877" stop-color="#cebdb3"/><stop offset="0.1924" stop-color="#cebcb1"/><stop offset="0.1971" stop-color="#cdbdb3"/><stop offset="0.2017" stop-color="#cdbfb7"/><stop offset="0.2064" stop-color="#ccc2bc"/><stop offset="0.2111" stop-color="#ccc5c1"/><stop offset="0.2158" stop-color="#cbc8c7"/><stop offset="0.2204" stop-color="#c8c9ca"/><stop offset="0.2251" stop-color="#c1c6c9"/><stop offset="0.2298" stop-color="#b9c2c7"/><stop offset="0.2344" stop-color="#b1bfc6"/><stop offset="0.2391" stop-color="#a9bbc4"/><stop offset="0.2438" stop-color="#a0b6c2"/><stop offset="0.2484" stop-color="#9eb5c1"/><stop offset="0.2531" stop-color="#a4b8c3"/><stop offset="0.2578" stop-color="#aebdc5"/><stop offset="0.2625" stop-color="#b7c1c7"/><stop offset="0.2671" stop-color="#c0c5c9"/><stop offset="0.2718" stop-color="#c9caca"/><stop offset="0.2765" stop-color="#ccc5c1"/><stop offset="0.2811" stop-color="#cdbfb6"/><stop offset="0.2858" stop-color="#ceb8ab"/><stop offset="0.2905" stop-color="#cfb1a0"/><stop offset="0.2951" stop-color="#cea995"/><stop offset="0.2998" stop-color="#cda692"/><stop offset="0.3045" stop-color="#ceac99"/><stop offset="0.3092" stop-color="#cfb6a6"/><stop offset="0.3138" stop-color="#cdbdb3"/><stop offset="0.3185" stop-color="#ccc4c0"/><stop offset="0.3232" stop-color="#c9caca"/><stop offset="0.3278" stop-color="#c0c5c9"/><stop offset="0.3325" stop-color="#b6c1c7"/><stop offset="0.3372" stop-color="#adbdc5"/><stop offset="0.3418" stop-color="#a3b7c2"/><stop offset="0.3465" stop-color="#9fb5c1"/><stop offset="0.3512" stop-color="#a4b8c3"/><stop offset="0.3559" stop-color="#aebdc5"/><stop offset="0.3605" stop-color="#b8c2c7"/><stop offset="0.3652" stop-color="#c1c6c9"/><stop offset="0.3699" stop-color="#c9caca"/><stop offset="0.3745" stop-color="#cbc7c4"/><stop offset="0.3792" stop-color="#ccc3be"/><stop offset="0.3839" stop-color="#cdc0b9"/><stop offset="0.3885" stop-color="#cdbfb6"/><stop offset="0.3932" stop-color="#cdbfb7"/><stop offset="0.3979" stop-color="#ccc2bb"/><stop offset="0.4026" stop-color="#ccc5c1"/><stop offset="0.4072" stop-color="#cbc9c8"/><stop offset="0.4119" stop-color="#c5c8ca"/><stop offset="0.4166" stop-color="#bdc4c8"/><stop offset="0.4212" stop-color="#b3c0c6"/><stop offset="0.4259" stop-color="#abbbc5"/><stop offset="0.4306" stop-color="#a1b6c2"/><stop offset="0.4352" stop-color="#9fb6c1"/><stop offset="0.4399" stop-color="#a6b9c3"/><stop offset="0.4446" stop-color="#b1bec6"/><stop offset="0.4493" stop-color="#bbc3c8"/><stop offset="0.4539" stop-color="#c5c8ca"/><stop offset="0.4586" stop-color="#cbc7c5"/><stop offset="0.4633" stop-color="#cdc0b8"/><stop offset="0.4679" stop-color="#ceb8ab"/><stop offset="0.4726" stop-color="#cfaf9e"/><stop offset="0.4773" stop-color="#cda691"/><stop offset="0.4819" stop-color="#cda38e"/><stop offset="0.4866" stop-color="#cea996"/><stop offset="0.4913" stop-color="#cfb5a5"/><stop offset="0.4960" stop-color="#cdbdb4"/><stop offset="0.5006" stop-color="#ccc6c2"/><stop offset="0.5053" stop-color="#c6c8ca"/><stop offset="0.5100" stop-color="#bcc3c8"/><stop offset="0.5146" stop-color="#b1bfc6"/><stop offset="0.5193" stop-color="#a6b9c3"/><stop offset="0.5240" stop-color="#9bb4c0"/><stop offset="0.5286" stop-color="#99b2bf"/><stop offset="0.5333" stop-color="#9fb6c1"/><stop offset="0.5380" stop-color="#acbcc5"/><stop offset="0.5427" stop-color="#b5c0c7"/><stop offset="0.5473" stop-color="#bfc5c8"/><stop offset="0.5520" stop-color="#c7c9ca"/><stop offset="0.5567" stop-color="#cbc8c6"/><stop offset="0.5613" stop-color="#ccc4bf"/><stop offset="0.5660" stop-color="#cdc0b8"/><stop offset="0.5707" stop-color="#cebcb1"/><stop offset="0.5753" stop-color="#ceb8ab"/><stop offset="0.5800" stop-color="#cfb6a8"/><stop offset="0.5847" stop-color="#cfb6a7"/><stop offset="0.5894" stop-color="#cfb7a9"/><stop offset="0.5940" stop-color="#cebaae"/><stop offset="0.5987" stop-color="#cdbeb5"/><stop offset="0.6034" stop-color="#ccc2bc"/><stop offset="0.6080" stop-color="#cbc6c4"/><stop offset="0.6127" stop-color="#cbcaca"/><stop offset="0.6174" stop-color="#c6c8ca"/><stop offset="0.6220" stop-color="#c2c6c9"/><stop offset="0.6267" stop-color="#bec4c8"/><stop offset="0.6314" stop-color="#bac3c8"/><stop offset="0.6361" stop-color="#b8c2c7"/><stop offset="0.6407" stop-color="#b7c1c7"/><stop offset="0.6454" stop-color="#b8c2c7"/><stop offset="0.6501" stop-color="#bac3c7"/><stop offset="0.6547" stop-color="#bdc4c8"/><stop offset="0.6594" stop-color="#c0c6c9"/><stop offset="0.6641" stop-color="#c3c7c9"/><stop offset="0.6687" stop-color="#c7c9ca"/><stop offset="0.6734" stop-color="#cacaca"/><stop offset="0.6781" stop-color="#cbc9c7"/><stop offset="0.6828" stop-color="#cbc6c3"/><stop offset="0.6874" stop-color="#ccc4bf"/><stop offset="0.6921" stop-color="#ccc2bb"/><stop offset="0.6968" stop-color="#cdbfb8"/><stop offset="0.7014" stop-color="#cdbdb4"/><stop offset="0.7061" stop-color="#cebcb1"/><stop offset="0.7108" stop-color="#cebbb0"/><stop offset="0.7154" stop-color="#cebbb0"/><stop offset="0.7201" stop-color="#cebdb3"/><stop offset="0.7248" stop-color="#cdbfb6"/><stop offset="0.7295" stop-color="#cdc1bb"/><stop offset="0.7341" stop-color="#ccc4bf"/><stop offset="0.7388" stop-color="#cbc7c4"/><stop offset="0.7435" stop-color="#cbc9c8"/><stop offset="0.7481" stop-color="#c9caca"/><stop offset="0.7528" stop-color="#c6c8ca"/><stop offset="0.7575" stop-color="#c3c7c9"/><stop offset="0.7621" stop-color="#bfc5c9"/><stop offset="0.7668" stop-color="#bcc4c8"/><stop offset="0.7715" stop-color="#b9c2c7"/><stop offset="0.7762" stop-color="#b8c2c7"/><stop offset="0.7808" stop-color="#b7c1c7"/><stop offset="0.7855" stop-color="#b8c2c7"/><stop offset="0.7902" stop-color="#bac3c7"/><stop offset="0.7948" stop-color="#bdc4c8"/><stop offset="0.7995" stop-color="#c0c6c9"/><stop offset="0.8042" stop-color="#c3c7c9"/><stop offset="0.8088" stop-color="#c7c9ca"/><stop offset="0.8135" stop-color="#cacaca"/><stop offset="0.8182" stop-color="#cbc9c8"/><stop offset="0.8229" stop-color="#cbc7c4"/><stop offset="0.8275" stop-color="#ccc5c0"/><stop offset="0.8322" stop-color="#ccc2bd"/><stop offset="0.8369" stop-color="#cdc0b9"/><stop offset="0.8415" stop-color="#cdbfb6"/><stop offset="0.8462" stop-color="#cdbeb5"/><stop offset="0.8509" stop-color="#cdbeb5"/><stop offset="0.8555" stop-color="#cdbfb6"/><stop offset="0.8602" stop-color="#cdc0b9"/><stop offset="0.8649" stop-color="#ccc2bd"/><stop offset="0.8696" stop-color="#ccc4c0"/><stop offset="0.8742" stop-color="#cbc7c4"/><stop offset="0.8789" stop-color="#cbc9c8"/><stop offset="0.8836" stop-color="#c8c9ca"/><stop offset="0.8882" stop-color="#c1c6c9"/><stop offset="0.8929" stop-color="#b9c2c7"/><stop offset="0.8976" stop-color="#b1bec6"/><stop offset="0.9022" stop-color="#a7b9c3"/><stop offset="0.9069" stop-color="#9bb3c0"/><stop offset="0.9116" stop-color="#93afbe"/><stop offset="0.9163" stop-color="#90aebd"/><stop offset="0.9209" stop-color="#94b0be"/><stop offset="0.9256" stop-color="#9eb5c1"/><stop offset="0.9303" stop-color="#acbcc5"/><stop offset="0.9349" stop-color="#b5c0c7"/><stop offset="0.9396" stop-color="#bfc5c8"/><stop offset="0.9443" stop-color="#c8c9ca"/><stop offset="0.9489" stop-color="#ccc5c2"/><stop offset="0.9536" stop-color="#cdbfb6"/><stop offset="0.9583" stop-color="#cfb8aa"/><stop offset="0.9630" stop-color="#cfaf9d"/><stop offset="0.9676" stop-color="#cda38e"/><stop offset="0.9723" stop-color="#cb9b84"/><stop offset="0.9770" stop-color="#cb9880"/><stop offset="0.9816" stop-color="#cb9880"/><stop offset="0.9863" stop-color="#cb9880"/><stop offset="0.9910" stop-color="#cb9880"/><stop offset="0.9956" stop-color="#cb9880"/><stop offset="1.0000" stop-color="#cb9880"/></linearGradient><linearGradient id="L13" gradientUnits="userSpaceOnUse" x1="104.5" y1="0" x2="425.5" y2="0"><stop offset="0.0009" stop-color="#cbc9c9"/><stop offset="0.0056" stop-color="#cbc7c5"/><stop offset="0.0103" stop-color="#ccc5c1"/><stop offset="0.0149" stop-color="#ccc2bd"/><stop offset="0.0196" stop-color="#cdc1ba"/><stop offset="0.0243" stop-color="#cdc1ba"/><stop offset="0.0290" stop-color="#ccc2bc"/><stop offset="0.0336" stop-color="#ccc4c0"/><stop offset="0.0383" stop-color="#cbc7c4"/><stop offset="0.0430" stop-color="#cbcaca"/><stop offset="0.0476" stop-color="#c4c8c9"/><stop offset="0.0523" stop-color="#bcc4c8"/><stop offset="0.0570" stop-color="#b3bfc6"/><stop offset="0.0616" stop-color="#aabbc4"/><stop offset="0.0663" stop-color="#a0b6c2"/><stop offset="0.0710" stop-color="#9fb6c1"/><stop offset="0.0757" stop-color="#a7bac4"/><stop offset="0.0803" stop-color="#b1bfc6"/><stop offset="0.0850" stop-color="#bbc3c8"/><stop offset="0.0897" stop-color="#c5c8c9"/><stop offset="0.0943" stop-color="#cbc9c8"/><stop offset="0.0990" stop-color="#ccc4c0"/><stop offset="0.1037" stop-color="#cdc0b9"/><stop offset="0.1083" stop-color="#cdbdb4"/><stop offset="0.1130" stop-color="#cebcb1"/><stop offset="0.1177" stop-color="#cebcb2"/><stop offset="0.1224" stop-color="#cdbfb6"/><stop offset="0.1270" stop-color="#ccc2bc"/><stop offset="0.1317" stop-color="#ccc5c2"/><stop offset="0.1364" stop-color="#cbc9c8"/><stop offset="0.1410" stop-color="#c8caca"/><stop offset="0.1457" stop-color="#c4c8c9"/><stop offset="0.1504" stop-color="#c0c6c9"/><stop offset="0.1550" stop-color="#bcc4c8"/><stop offset="0.1597" stop-color="#bac3c8"/><stop offset="0.1644" stop-color="#bcc4c8"/><stop offset="0.1691" stop-color="#c0c6c9"/><stop offset="0.1737" stop-color="#c5c8c9"/><stop offset="0.1784" stop-color="#c9caca"/><stop offset="0.1831" stop-color="#cbcac9"/><stop offset="0.1877" stop-color="#cbc8c6"/><stop offset="0.1924" stop-color="#cbc7c4"/><stop offset="0.1971" stop-color="#ccc5c2"/><stop offset="0.2017" stop-color="#ccc5c0"/><stop offset="0.2064" stop-color="#ccc5c0"/><stop offset="0.2111" stop-color="#ccc5c2"/><stop offset="0.2158" stop-color="#cbc7c4"/><stop offset="0.2204" stop-color="#cbc8c7"/><stop offset="0.2251" stop-color="#cbcaca"/><stop offset="0.2298" stop-color="#c5c8c9"/><stop offset="0.2344" stop-color="#bbc3c8"/><stop offset="0.2391" stop-color="#b0bec6"/><stop offset="0.2438" stop-color="#a4b8c3"/><stop offset="0.2484" stop-color="#9fb5c1"/><stop offset="0.2531" stop-color="#a4b8c3"/><stop offset="0.2578" stop-color="#aebdc5"/><stop offset="0.2625" stop-color="#b7c1c7"/><stop offset="0.2671" stop-color="#c0c5c9"/><stop offset="0.2718" stop-color="#c8c9ca"/><stop offset="0.2765" stop-color="#cbc7c4"/><stop offset="0.2811" stop-color="#ccc1bb"/><stop offset="0.2858" stop-color="#cebdb3"/><stop offset="0.2905" stop-color="#cfb8ab"/><stop offset="0.2951" stop-color="#cfb5a5"/><stop offset="0.2998" stop-color="#cfb4a4"/><stop offset="0.3045" stop-color="#cfb7a8"/><stop offset="0.3092" stop-color="#cebcb1"/><stop offset="0.3138" stop-color="#ccc3bd"/><stop offset="0.3185" stop-color="#cbc9c9"/><stop offset="0.3232" stop-color="#c3c7c9"/><stop offset="0.3278" stop-color="#b9c2c7"/><stop offset="0.3325" stop-color="#b0bec6"/><stop offset="0.3372" stop-color="#a5b9c3"/><stop offset="0.3418" stop-color="#9fb5c1"/><stop offset="0.3465" stop-color="#a1b7c2"/><stop offset="0.3512" stop-color="#acbcc5"/><stop offset="0.3559" stop-color="#b5c0c7"/><stop offset="0.3605" stop-color="#bec5c8"/><stop offset="0.3652" stop-color="#c7c9ca"/><stop offset="0.3699" stop-color="#cbc9c8"/><stop offset="0.3745" stop-color="#ccc6c3"/><stop offset="0.3792" stop-color="#ccc3be"/><stop offset="0.3839" stop-color="#cdc1ba"/><stop offset="0.3885" stop-color="#cdc0b8"/><stop offset="0.3932" stop-color="#cdc0b9"/><stop offset="0.3979" stop-color="#ccc3bd"/><stop offset="0.4026" stop-color="#ccc6c3"/><stop offset="0.4072" stop-color="#cbcac9"/><stop offset="0.4119" stop-color="#c4c7c9"/><stop offset="0.4166" stop-color="#bac3c8"/><stop offset="0.4212" stop-color="#b0bec6"/><stop offset="0.4259" stop-color="#a5b8c3"/><stop offset="0.4306" stop-color="#9fb5c1"/><stop offset="0.4352" stop-color="#a3b8c2"/><stop offset="0.4399" stop-color="#aebdc5"/><stop offset="0.4446" stop-color="#b7c1c7"/><stop offset="0.4493" stop-color="#c1c6c9"/><stop offset="0.4539" stop-color="#c9caca"/><stop offset="0.4586" stop-color="#cbc8c5"/><stop offset="0.4633" stop-color="#ccc4c0"/><stop offset="0.4679" stop-color="#ccc2bb"/><stop offset="0.4726" stop-color="#cdc0b8"/><stop offset="0.4773" stop-color="#cdc0b8"/><stop offset="0.4819" stop-color="#cdc1ba"/><stop offset="0.4866" stop-color="#ccc3be"/><stop offset="0.4913" stop-color="#ccc5c1"/><stop offset="0.4960" stop-color="#cbc7c5"/><stop offset="0.5006" stop-color="#cbc9c8"/><stop offset="0.5053" stop-color="#cbcaca"/><stop offset="0.5100" stop-color="#cbcaca"/><stop offset="0.5146" stop-color="#cbcbcb"/><stop offset="0.5193" stop-color="#cbcbcb"/><stop offset="0.5240" stop-color="#cbcbcb"/><stop offset="0.5286" stop-color="#cbcbcb"/><stop offset="0.5333" stop-color="#cbcbcb"/><stop offset="0.5380" stop-color="#cbcbcb"/><stop offset="0.5427" stop-color="#cbcaca"/><stop offset="0.5473" stop-color="#cbcaca"/><stop offset="0.5520" stop-color="#cbc9c8"/><stop offset="0.5567" stop-color="#cbc8c6"/><stop offset="0.5613" stop-color="#cbc7c4"/><stop offset="0.5660" stop-color="#ccc6c2"/><stop offset="0.5707" stop-color="#ccc5c0"/><stop offset="0.5753" stop-color="#ccc4bf"/><stop offset="0.5800" stop-color="#ccc3be"/><stop offset="0.5847" stop-color="#ccc3bd"/><stop offset="0.5894" stop-color="#ccc3bd"/><stop offset="0.5940" stop-color="#ccc3bd"/><stop offset="0.5987" stop-color="#ccc3bd"/><stop offset="0.6034" stop-color="#ccc3bd"/><stop offset="0.6080" stop-color="#ccc3be"/><stop offset="0.6127" stop-color="#ccc4bf"/><stop offset="0.6174" stop-color="#ccc5c1"/><stop offset="0.6220" stop-color="#ccc6c3"/><stop offset="0.6267" stop-color="#cbc7c5"/><stop offset="0.6314" stop-color="#cbc8c7"/><stop offset="0.6361" stop-color="#cbcaca"/><stop offset="0.6407" stop-color="#c7c9ca"/><stop offset="0.6454" stop-color="#bfc5c8"/><stop offset="0.6501" stop-color="#b6c1c7"/><stop offset="0.6547" stop-color="#acbcc5"/><stop offset="0.6594" stop-color="#9fb6c1"/><stop offset="0.6641" stop-color="#99b2bf"/><stop offset="0.6687" stop-color="#9cb4c0"/><stop offset="0.6734" stop-color="#a9bbc4"/><stop offset="0.6781" stop-color="#b5c0c7"/><stop offset="0.6828" stop-color="#c0c6c9"/><stop offset="0.6874" stop-color="#cbcaca"/><stop offset="0.6921" stop-color="#ccc3bd"/><stop offset="0.6968" stop-color="#cebcb1"/><stop offset="0.7014" stop-color="#cfb6a7"/><stop offset="0.7061" stop-color="#cfb09e"/><stop offset="0.7108" stop-color="#cfaf9d"/><stop offset="0.7154" stop-color="#cfb4a4"/><stop offset="0.7201" stop-color="#ceb9ad"/><stop offset="0.7248" stop-color="#cdbfb7"/><stop offset="0.7295" stop-color="#ccc5c1"/><stop offset="0.7341" stop-color="#cbcac9"/><stop offset="0.7388" stop-color="#c7c9ca"/><stop offset="0.7435" stop-color="#c4c7c9"/><stop offset="0.7481" stop-color="#c0c6c9"/><stop offset="0.7528" stop-color="#bdc4c8"/><stop offset="0.7575" stop-color="#bac3c7"/><stop offset="0.7621" stop-color="#b7c1c7"/><stop offset="0.7668" stop-color="#b5c0c7"/><stop offset="0.7715" stop-color="#b4c0c6"/><stop offset="0.7762" stop-color="#b4c0c6"/><stop offset="0.7808" stop-color="#b4c0c6"/><stop offset="0.7855" stop-color="#b4c0c6"/><stop offset="0.7902" stop-color="#b4c0c6"/><stop offset="0.7948" stop-color="#b5c1c7"/><stop offset="0.7995" stop-color="#b8c2c7"/><stop offset="0.8042" stop-color="#bcc3c8"/><stop offset="0.8088" stop-color="#c0c5c9"/><stop offset="0.8135" stop-color="#c4c7c9"/><stop offset="0.8182" stop-color="#c8c9ca"/><stop offset="0.8229" stop-color="#cbcaca"/><stop offset="0.8275" stop-color="#cbc8c7"/><stop offset="0.8322" stop-color="#cbc7c4"/><stop offset="0.8369" stop-color="#ccc5c1"/><stop offset="0.8415" stop-color="#ccc3be"/><stop offset="0.8462" stop-color="#ccc2bb"/><stop offset="0.8509" stop-color="#cdc0b8"/><stop offset="0.8555" stop-color="#cdbfb6"/><stop offset="0.8602" stop-color="#cdbfb7"/><stop offset="0.8649" stop-color="#cdc0b9"/><stop offset="0.8696" stop-color="#ccc2bc"/><stop offset="0.8742" stop-color="#ccc4bf"/><stop offset="0.8789" stop-color="#ccc6c3"/><stop offset="0.8836" stop-color="#cbc8c6"/><stop offset="0.8882" stop-color="#cbcaca"/><stop offset="0.8929" stop-color="#c8c9ca"/><stop offset="0.8976" stop-color="#c5c8ca"/><stop offset="0.9022" stop-color="#c2c7c9"/><stop offset="0.9069" stop-color="#bfc5c8"/><stop offset="0.9116" stop-color="#bdc4c8"/><stop offset="0.9163" stop-color="#bac3c8"/><stop offset="0.9209" stop-color="#b9c2c7"/><stop offset="0.9256" stop-color="#bac3c8"/><stop offset="0.9303" stop-color="#bdc4c8"/><stop offset="0.9349" stop-color="#c0c5c9"/><stop offset="0.9396" stop-color="#c3c7c9"/><stop offset="0.9443" stop-color="#c6c8ca"/><stop offset="0.9489" stop-color="#c9caca"/><stop offset="0.9536" stop-color="#cbc9c7"/><stop offset="0.9583" stop-color="#ccc5c1"/><stop offset="0.9630" stop-color="#cdc1ba"/><stop offset="0.9676" stop-color="#cdbdb4"/><stop offset="0.9723" stop-color="#cebaad"/><stop offset="0.9770" stop-color="#cfb7a9"/><stop offset="0.9816" stop-color="#cfb6a6"/><stop offset="0.9863" stop-color="#cfb5a6"/><stop offset="0.9910" stop-color="#cfb5a6"/><stop offset="0.9956" stop-color="#cfb5a6"/><stop offset="1.0000" stop-color="#cfb5a6"/></linearGradient><linearGradient id="L14" gradientUnits="userSpaceOnUse" x1="104.5" y1="0" x2="425.5" y2="0"><stop offset="0.0009" stop-color="#cbc9c8"/><stop offset="0.0056" stop-color="#cbc7c4"/><stop offset="0.0103" stop-color="#ccc4bf"/><stop offset="0.0149" stop-color="#cdc1b9"/><stop offset="0.0196" stop-color="#cdbfb6"/><stop offset="0.0243" stop-color="#cdbeb6"/><stop offset="0.0290" stop-color="#cdc0b9"/><stop offset="0.0336" stop-color="#ccc3bd"/><stop offset="0.0383" stop-color="#ccc6c3"/><stop offset="0.0430" stop-color="#cbc9c8"/><stop offset="0.0476" stop-color="#c8c9ca"/><stop offset="0.0523" stop-color="#c4c7c9"/><stop offset="0.0570" stop-color="#bfc5c8"/><stop offset="0.0616" stop-color="#bbc3c8"/><stop offset="0.0663" stop-color="#b8c2c7"/><stop offset="0.0710" stop-color="#b8c2c7"/><stop offset="0.0757" stop-color="#bac3c8"/><stop offset="0.0803" stop-color="#bec5c8"/><stop offset="0.0850" stop-color="#c3c7c9"/><stop offset="0.0897" stop-color="#c9caca"/><stop offset="0.0943" stop-color="#cbc8c5"/><stop offset="0.0990" stop-color="#ccc3bd"/><stop offset="0.1037" stop-color="#cdbdb4"/><stop offset="0.1083" stop-color="#ceb8ab"/><stop offset="0.1130" stop-color="#cfb4a3"/><stop offset="0.1177" stop-color="#cfae9d"/><stop offset="0.1224" stop-color="#cfaf9e"/><stop offset="0.1270" stop-color="#cfb5a6"/><stop offset="0.1317" stop-color="#cebbb1"/><stop offset="0.1364" stop-color="#ccc2bc"/><stop offset="0.1410" stop-color="#cbc8c7"/><stop offset="0.1457" stop-color="#c7c9ca"/><stop offset="0.1504" stop-color="#c2c6c9"/><stop offset="0.1550" stop-color="#bdc4c8"/><stop offset="0.1597" stop-color="#bbc3c8"/><stop offset="0.1644" stop-color="#bcc4c8"/><stop offset="0.1691" stop-color="#c0c6c9"/><stop offset="0.1737" stop-color="#c5c8ca"/><stop offset="0.1784" stop-color="#cbcaca"/><stop offset="0.1831" stop-color="#ccc4c0"/><stop offset="0.1877" stop-color="#cdbeb4"/><stop offset="0.1924" stop-color="#cfb7a9"/><stop offset="0.1971" stop-color="#cfb1a0"/><stop offset="0.2017" stop-color="#cfaf9d"/><stop offset="0.2064" stop-color="#cfb4a3"/><stop offset="0.2111" stop-color="#ceb9ad"/><stop offset="0.2158" stop-color="#cdc0b8"/><stop offset="0.2204" stop-color="#cbc6c3"/><stop offset="0.2251" stop-color="#c9caca"/><stop offset="0.2298" stop-color="#c4c8c9"/><stop offset="0.2344" stop-color="#c0c5c9"/><stop offset="0.2391" stop-color="#bcc3c8"/><stop offset="0.2438" stop-color="#b9c2c7"/><stop offset="0.2484" stop-color="#b8c2c7"/><stop offset="0.2531" stop-color="#b9c2c7"/><stop offset="0.2578" stop-color="#bdc4c8"/><stop offset="0.2625" stop-color="#c1c6c9"/><stop offset="0.2671" stop-color="#c5c8ca"/><stop offset="0.2718" stop-color="#c9caca"/><stop offset="0.2765" stop-color="#cbc9c7"/><stop offset="0.2811" stop-color="#cbc6c3"/><stop offset="0.2858" stop-color="#ccc4bf"/><stop offset="0.2905" stop-color="#ccc2bc"/><stop offset="0.2951" stop-color="#cdc0b9"/><stop offset="0.2998" stop-color="#cdc0b8"/><stop offset="0.3045" stop-color="#ccc2bc"/><stop offset="0.3092" stop-color="#ccc5c2"/><stop offset="0.3138" stop-color="#cbcac9"/><stop offset="0.3185" stop-color="#c4c7c9"/><stop offset="0.3232" stop-color="#bac3c7"/><stop offset="0.3278" stop-color="#afbec6"/><stop offset="0.3325" stop-color="#a5b8c3"/><stop offset="0.3372" stop-color="#a2b7c2"/><stop offset="0.3418" stop-color="#acbcc5"/><stop offset="0.3465" stop-color="#b7c1c7"/><stop offset="0.3512" stop-color="#c3c7c9"/><stop offset="0.3559" stop-color="#cbc7c5"/><stop offset="0.3605" stop-color="#cdbfb7"/><stop offset="0.3652" stop-color="#ceb8ab"/><stop offset="0.3699" stop-color="#cfb3a2"/><stop offset="0.3745" stop-color="#cfb1a0"/><stop offset="0.3792" stop-color="#cfb6a8"/><stop offset="0.3839" stop-color="#cdbeb5"/><stop offset="0.3885" stop-color="#cbc6c3"/><stop offset="0.3932" stop-color="#c4c7c9"/><stop offset="0.3979" stop-color="#b6c1c7"/><stop offset="0.4026" stop-color="#a8bac4"/><stop offset="0.4072" stop-color="#9ab3c0"/><stop offset="0.4119" stop-color="#98b2bf"/><stop offset="0.4166" stop-color="#a4b8c3"/><stop offset="0.4212" stop-color="#b4c0c6"/><stop offset="0.4259" stop-color="#c2c7c9"/><stop offset="0.4306" stop-color="#cbc7c5"/><stop offset="0.4352" stop-color="#cdbfb7"/><stop offset="0.4399" stop-color="#cfb7aa"/><stop offset="0.4446" stop-color="#cfb2a1"/><stop offset="0.4493" stop-color="#cfb2a1"/><stop offset="0.4539" stop-color="#cfb7a9"/><stop offset="0.4586" stop-color="#cdbeb6"/><stop offset="0.4633" stop-color="#cbc6c3"/><stop offset="0.4679" stop-color="#c6c8ca"/><stop offset="0.4726" stop-color="#bbc3c8"/><stop offset="0.4773" stop-color="#b2bfc6"/><stop offset="0.4819" stop-color="#a9bbc4"/><stop offset="0.4866" stop-color="#a7b9c4"/><stop offset="0.4913" stop-color="#adbdc5"/><stop offset="0.4960" stop-color="#b4c0c6"/><stop offset="0.5006" stop-color="#bcc4c8"/><stop offset="0.5053" stop-color="#c3c7c9"/><stop offset="0.5100" stop-color="#cacaca"/><stop offset="0.5146" stop-color="#cbc8c5"/><stop offset="0.5193" stop-color="#ccc5c0"/><stop offset="0.5240" stop-color="#ccc2bc"/><stop offset="0.5286" stop-color="#cdc0b9"/><stop offset="0.5333" stop-color="#cdc1ba"/><stop offset="0.5380" stop-color="#ccc3be"/><stop offset="0.5427" stop-color="#cbc7c5"/><stop offset="0.5473" stop-color="#c9caca"/><stop offset="0.5520" stop-color="#c3c7c9"/><stop offset="0.5567" stop-color="#bec4c8"/><stop offset="0.5613" stop-color="#bbc3c8"/><stop offset="0.5660" stop-color="#bcc4c8"/><stop offset="0.5707" stop-color="#bfc5c8"/><stop offset="0.5753" stop-color="#c3c7c9"/><stop offset="0.5800" stop-color="#c7c9ca"/><stop offset="0.5847" stop-color="#cbc9c9"/><stop offset="0.5894" stop-color="#ccc5c1"/><stop offset="0.5940" stop-color="#cdc1ba"/><stop offset="0.5987" stop-color="#cebcb2"/><stop offset="0.6034" stop-color="#cfb8aa"/><stop offset="0.6080" stop-color="#cfb5a5"/><stop offset="0.6127" stop-color="#cfb4a3"/><stop offset="0.6174" stop-color="#cfb6a7"/><stop offset="0.6220" stop-color="#cebbb0"/><stop offset="0.6267" stop-color="#cdc1ba"/><stop offset="0.6314" stop-color="#cbc7c5"/><stop offset="0.6361" stop-color="#c5c8ca"/><stop offset="0.6407" stop-color="#bbc3c8"/><stop offset="0.6454" stop-color="#b0bec6"/><stop offset="0.6501" stop-color="#a3b8c2"/><stop offset="0.6547" stop-color="#97b1bf"/><stop offset="0.6594" stop-color="#93b0be"/><stop offset="0.6641" stop-color="#9bb3c0"/><stop offset="0.6687" stop-color="#abbcc5"/><stop offset="0.6734" stop-color="#b7c1c7"/><stop offset="0.6781" stop-color="#c3c7c9"/><stop offset="0.6828" stop-color="#cbc8c6"/><stop offset="0.6874" stop-color="#cdc1b9"/><stop offset="0.6921" stop-color="#cebaae"/><stop offset="0.6968" stop-color="#cfb3a2"/><stop offset="0.7014" stop-color="#cea996"/><stop offset="0.7061" stop-color="#cda793"/><stop offset="0.7108" stop-color="#ceac9a"/><stop offset="0.7154" stop-color="#cfb6a7"/><stop offset="0.7201" stop-color="#cdbeb5"/><stop offset="0.7248" stop-color="#ccc6c2"/><stop offset="0.7295" stop-color="#c7c9ca"/><stop offset="0.7341" stop-color="#bec4c8"/><stop offset="0.7388" stop-color="#b4c0c6"/><stop offset="0.7435" stop-color="#acbcc5"/><stop offset="0.7481" stop-color="#a2b7c2"/><stop offset="0.7528" stop-color="#9eb5c1"/><stop offset="0.7575" stop-color="#a2b7c2"/><stop offset="0.7621" stop-color="#acbcc5"/><stop offset="0.7668" stop-color="#b4c0c6"/><stop offset="0.7715" stop-color="#bbc3c8"/><stop offset="0.7762" stop-color="#c3c7c9"/><stop offset="0.7808" stop-color="#c8c9ca"/><stop offset="0.7855" stop-color="#cacaca"/><stop offset="0.7902" stop-color="#cacbcb"/><stop offset="0.7948" stop-color="#cbcbcb"/><stop offset="0.7995" stop-color="#cbcbcb"/><stop offset="0.8042" stop-color="#cbcbca"/><stop offset="0.8088" stop-color="#cbcaca"/><stop offset="0.8135" stop-color="#cbcac9"/><stop offset="0.8182" stop-color="#cbc8c7"/><stop offset="0.8229" stop-color="#cbc7c4"/><stop offset="0.8275" stop-color="#ccc5c2"/><stop offset="0.8322" stop-color="#ccc4bf"/><stop offset="0.8369" stop-color="#ccc2bd"/><stop offset="0.8415" stop-color="#cdc1ba"/><stop offset="0.8462" stop-color="#cdc0b8"/><stop offset="0.8509" stop-color="#cdbfb6"/><stop offset="0.8555" stop-color="#cdbfb7"/><stop offset="0.8602" stop-color="#cdc0b9"/><stop offset="0.8649" stop-color="#ccc2bc"/><stop offset="0.8696" stop-color="#ccc4bf"/><stop offset="0.8742" stop-color="#ccc5c1"/><stop offset="0.8789" stop-color="#cbc7c4"/><stop offset="0.8836" stop-color="#cbc9c7"/><stop offset="0.8882" stop-color="#cbcaca"/><stop offset="0.8929" stop-color="#c8c9ca"/><stop offset="0.8976" stop-color="#c5c8ca"/><stop offset="0.9022" stop-color="#c2c7c9"/><stop offset="0.9069" stop-color="#bfc5c8"/><stop offset="0.9116" stop-color="#bdc4c8"/><stop offset="0.9163" stop-color="#bac3c8"/><stop offset="0.9209" stop-color="#b9c2c7"/><stop offset="0.9256" stop-color="#bac3c8"/><stop offset="0.9303" stop-color="#bdc4c8"/><stop offset="0.9349" stop-color="#c0c5c9"/><stop offset="0.9396" stop-color="#c3c7c9"/><stop offset="0.9443" stop-color="#c6c8ca"/><stop offset="0.9489" stop-color="#c9caca"/><stop offset="0.9536" stop-color="#cbc9c9"/><stop offset="0.9583" stop-color="#cbc7c5"/><stop offset="0.9630" stop-color="#ccc5c0"/><stop offset="0.9676" stop-color="#ccc2bc"/><stop offset="0.9723" stop-color="#cdc0b9"/><stop offset="0.9770" stop-color="#cdc0b8"/><stop offset="0.9816" stop-color="#cdc1ba"/><stop offset="0.9863" stop-color="#ccc3bd"/><stop offset="0.9910" stop-color="#ccc5c2"/><stop offset="0.9956" stop-color="#cbc8c6"/><stop offset="1.0000" stop-color="#cbcac9"/></linearGradient><linearGradient id="R0" gradientUnits="userSpaceOnUse" x1="433.5" y1="0" x2="753.5" y2="0"><stop offset="0.0003" stop-color="#bac3c8"/><stop offset="0.0050" stop-color="#bac3c8"/><stop offset="0.0097" stop-color="#bbc3c8"/><stop offset="0.0144" stop-color="#bbc3c8"/><stop offset="0.0191" stop-color="#bbc3c8"/><stop offset="0.0237" stop-color="#bbc3c8"/><stop offset="0.0284" stop-color="#bcc3c8"/><stop offset="0.0331" stop-color="#bcc4c8"/><stop offset="0.0378" stop-color="#bcc4c8"/><stop offset="0.0425" stop-color="#bcc4c8"/><stop offset="0.0472" stop-color="#bdc4c8"/><stop offset="0.0519" stop-color="#bdc4c8"/><stop offset="0.0566" stop-color="#bdc4c8"/><stop offset="0.0612" stop-color="#bec4c8"/><stop offset="0.0659" stop-color="#bec5c8"/><stop offset="0.0706" stop-color="#bfc5c8"/><stop offset="0.0753" stop-color="#c4c7c9"/><stop offset="0.0800" stop-color="#c9caca"/><stop offset="0.0847" stop-color="#cbc8c6"/><stop offset="0.0894" stop-color="#ccc5c1"/><stop offset="0.0940" stop-color="#ccc5c0"/><stop offset="0.0987" stop-color="#ccc5c0"/><stop offset="0.1034" stop-color="#ccc5c0"/><stop offset="0.1081" stop-color="#ccc5c0"/><stop offset="0.1128" stop-color="#ccc5c0"/><stop offset="0.1175" stop-color="#ccc5c0"/><stop offset="0.1222" stop-color="#ccc5c0"/><stop offset="0.1269" stop-color="#ccc5c0"/><stop offset="0.1315" stop-color="#ccc5c0"/><stop offset="0.1362" stop-color="#ccc5c0"/><stop offset="0.1409" stop-color="#ccc5c0"/><stop offset="0.1456" stop-color="#ccc5c0"/><stop offset="0.1503" stop-color="#ccc5c0"/><stop offset="0.1550" stop-color="#ccc5c0"/><stop offset="0.1597" stop-color="#ccc5c0"/><stop offset="0.1643" stop-color="#ccc5c0"/><stop offset="0.1690" stop-color="#ccc5c0"/><stop offset="0.1737" stop-color="#ccc5c0"/><stop offset="0.1784" stop-color="#ccc5c0"/><stop offset="0.1831" stop-color="#ccc5c0"/><stop offset="0.1878" stop-color="#ccc5c0"/><stop offset="0.1925" stop-color="#ccc5c0"/><stop offset="0.1972" stop-color="#ccc5c0"/><stop offset="0.2018" stop-color="#ccc6c2"/><stop offset="0.2065" stop-color="#cbc9c7"/><stop offset="0.2112" stop-color="#c8c9ca"/><stop offset="0.2159" stop-color="#c3c7c9"/><stop offset="0.2206" stop-color="#bdc4c8"/><stop offset="0.2253" stop-color="#bac3c7"/><stop offset="0.2300" stop-color="#b9c2c7"/><stop offset="0.2347" stop-color="#b7c2c7"/><stop offset="0.2393" stop-color="#b6c1c7"/><stop offset="0.2440" stop-color="#b5c0c7"/><stop offset="0.2487" stop-color="#b4c0c6"/><stop offset="0.2534" stop-color="#b3bfc6"/><stop offset="0.2581" stop-color="#b2bfc6"/><stop offset="0.2628" stop-color="#b1bec6"/><stop offset="0.2675" stop-color="#b0bec6"/><stop offset="0.2721" stop-color="#afbdc5"/><stop offset="0.2768" stop-color="#aebdc5"/><stop offset="0.2815" stop-color="#adbcc5"/><stop offset="0.2862" stop-color="#acbcc5"/><stop offset="0.2909" stop-color="#aabbc4"/><stop offset="0.2956" stop-color="#a8bac4"/><stop offset="0.3003" stop-color="#a7b9c3"/><stop offset="0.3050" stop-color="#a5b8c3"/><stop offset="0.3096" stop-color="#a3b8c2"/><stop offset="0.3143" stop-color="#a3b7c2"/><stop offset="0.3190" stop-color="#a3b7c2"/><stop offset="0.3237" stop-color="#a3b7c2"/><stop offset="0.3284" stop-color="#a3b7c2"/><stop offset="0.3331" stop-color="#a3b7c2"/><stop offset="0.3378" stop-color="#a3b7c2"/><stop offset="0.3424" stop-color="#a3b7c2"/><stop offset="0.3471" stop-color="#a3b7c2"/><stop offset="0.3518" stop-color="#a3b7c2"/><stop offset="0.3565" stop-color="#a3b8c2"/><stop offset="0.3612" stop-color="#adbcc5"/><stop offset="0.3659" stop-color="#c3c7c9"/><stop offset="0.3706" stop-color="#cebcb2"/><stop offset="0.3753" stop-color="#cea995"/><stop offset="0.3799" stop-color="#cc9c85"/><stop offset="0.3846" stop-color="#ca9177"/><stop offset="0.3893" stop-color="#c8876a"/><stop offset="0.3940" stop-color="#c27960"/><stop offset="0.3987" stop-color="#bc6b55"/><stop offset="0.4034" stop-color="#b65e4b"/><stop offset="0.4081" stop-color="#b05141"/><stop offset="0.4127" stop-color="#ad493d"/><stop offset="0.4174" stop-color="#b04f40"/><stop offset="0.4221" stop-color="#bb6853"/><stop offset="0.4268" stop-color="#c8886b"/><stop offset="0.4315" stop-color="#cca08a"/><stop offset="0.4362" stop-color="#cfb6a7"/><stop offset="0.4409" stop-color="#ccc3bd"/><stop offset="0.4456" stop-color="#c4c8c9"/><stop offset="0.4502" stop-color="#b4c0c6"/><stop offset="0.4549" stop-color="#98b2bf"/><stop offset="0.4596" stop-color="#6797b0"/><stop offset="0.4643" stop-color="#33739d"/><stop offset="0.4690" stop-color="#1f5990"/><stop offset="0.4737" stop-color="#15487d"/><stop offset="0.4784" stop-color="#0f3d6d"/><stop offset="0.4830" stop-color="#082e59"/><stop offset="0.4877" stop-color="#021121"/><stop offset="0.4924" stop-color="#000000"/><stop offset="0.4971" stop-color="#000000"/><stop offset="0.5018" stop-color="#000000"/><stop offset="0.5065" stop-color="#000000"/><stop offset="0.5112" stop-color="#072c56"/><stop offset="0.5159" stop-color="#225d92"/><stop offset="0.5205" stop-color="#2b6998"/><stop offset="0.5252" stop-color="#32729d"/><stop offset="0.5299" stop-color="#528aa9"/><stop offset="0.5346" stop-color="#a7bac4"/><stop offset="0.5393" stop-color="#cfb7a9"/><stop offset="0.5440" stop-color="#b55c49"/><stop offset="0.5487" stop-color="#9d2a2e"/><stop offset="0.5533" stop-color="#981f29"/><stop offset="0.5580" stop-color="#931725"/><stop offset="0.5627" stop-color="#8c1222"/><stop offset="0.5674" stop-color="#840f21"/><stop offset="0.5721" stop-color="#7b0c20"/><stop offset="0.5768" stop-color="#720a1e"/><stop offset="0.5815" stop-color="#6a071d"/><stop offset="0.5862" stop-color="#65051c"/><stop offset="0.5908" stop-color="#64051c"/><stop offset="0.5955" stop-color="#6b071d"/><stop offset="0.6002" stop-color="#790c1f"/><stop offset="0.6049" stop-color="#871022"/><stop offset="0.6096" stop-color="#941725"/><stop offset="0.6143" stop-color="#9b252b"/><stop offset="0.6190" stop-color="#a23332"/><stop offset="0.6237" stop-color="#b05041"/><stop offset="0.6283" stop-color="#ca9177"/><stop offset="0.6330" stop-color="#ccc3bd"/><stop offset="0.6377" stop-color="#98b2bf"/><stop offset="0.6424" stop-color="#3c7ca2"/><stop offset="0.6471" stop-color="#296596"/><stop offset="0.6518" stop-color="#205a90"/><stop offset="0.6565" stop-color="#14467a"/><stop offset="0.6611" stop-color="#021427"/><stop offset="0.6658" stop-color="#000000"/><stop offset="0.6705" stop-color="#000000"/><stop offset="0.6752" stop-color="#000000"/><stop offset="0.6799" stop-color="#032042"/><stop offset="0.6846" stop-color="#205b91"/><stop offset="0.6893" stop-color="#2a6897"/><stop offset="0.6940" stop-color="#2f6f9b"/><stop offset="0.6986" stop-color="#36779f"/><stop offset="0.7033" stop-color="#598eac"/><stop offset="0.7080" stop-color="#95b0be"/><stop offset="0.7127" stop-color="#bfc5c8"/><stop offset="0.7174" stop-color="#ccc3bd"/><stop offset="0.7221" stop-color="#cfb7a9"/><stop offset="0.7268" stop-color="#cda48f"/><stop offset="0.7314" stop-color="#c98e73"/><stop offset="0.7361" stop-color="#bf735b"/><stop offset="0.7408" stop-color="#b35745"/><stop offset="0.7455" stop-color="#a63c36"/><stop offset="0.7502" stop-color="#a03030"/><stop offset="0.7549" stop-color="#a13232"/><stop offset="0.7596" stop-color="#aa443a"/><stop offset="0.7643" stop-color="#b65e4b"/><stop offset="0.7689" stop-color="#c1785f"/><stop offset="0.7736" stop-color="#c99075"/><stop offset="0.7783" stop-color="#cda48f"/><stop offset="0.7830" stop-color="#cfb6a7"/><stop offset="0.7877" stop-color="#cdc0b9"/><stop offset="0.7924" stop-color="#cacaca"/><stop offset="0.7971" stop-color="#bbc3c8"/><stop offset="0.8017" stop-color="#adbdc5"/><stop offset="0.8064" stop-color="#98b2bf"/><stop offset="0.8111" stop-color="#86a9ba"/><stop offset="0.8158" stop-color="#729eb4"/><stop offset="0.8205" stop-color="#5b8fac"/><stop offset="0.8252" stop-color="#4581a5"/><stop offset="0.8299" stop-color="#3a7aa1"/><stop offset="0.8346" stop-color="#3a7aa1"/><stop offset="0.8392" stop-color="#4682a5"/><stop offset="0.8439" stop-color="#6998b1"/><stop offset="0.8486" stop-color="#8cacbc"/><stop offset="0.8533" stop-color="#abbcc5"/><stop offset="0.8580" stop-color="#bec5c8"/><stop offset="0.8627" stop-color="#cbc7c5"/><stop offset="0.8674" stop-color="#cdbeb4"/><stop offset="0.8720" stop-color="#cfb4a4"/><stop offset="0.8767" stop-color="#cda38e"/><stop offset="0.8814" stop-color="#ca9177"/><stop offset="0.8861" stop-color="#c37c62"/><stop offset="0.8908" stop-color="#b96550"/><stop offset="0.8955" stop-color="#b15141"/><stop offset="0.9002" stop-color="#ae4b3d"/><stop offset="0.9049" stop-color="#ae4c3e"/><stop offset="0.9095" stop-color="#b45a47"/><stop offset="0.9142" stop-color="#bf725a"/><stop offset="0.9189" stop-color="#c98a6f"/><stop offset="0.9236" stop-color="#cc9e88"/><stop offset="0.9283" stop-color="#cfb2a1"/><stop offset="0.9330" stop-color="#cdbdb4"/><stop offset="0.9377" stop-color="#cbcac9"/><stop offset="0.9423" stop-color="#a8bac4"/><stop offset="0.9470" stop-color="#5e91ad"/><stop offset="0.9517" stop-color="#35769f"/><stop offset="0.9564" stop-color="#2f6e9b"/><stop offset="0.9611" stop-color="#2a6897"/><stop offset="0.9658" stop-color="#256194"/><stop offset="0.9705" stop-color="#205a90"/><stop offset="0.9752" stop-color="#1c558e"/><stop offset="0.9798" stop-color="#1b548d"/><stop offset="0.9814" stop-color="#1b548d"/></linearGradient><linearGradient id="R1" gradientUnits="userSpaceOnUse" x1="433.5" y1="0" x2="753.5" y2="0"><stop offset="0.0003" stop-color="#adbcc5"/><stop offset="0.0050" stop-color="#adbcc5"/><stop offset="0.0097" stop-color="#adbcc5"/><stop offset="0.0144" stop-color="#adbcc5"/><stop offset="0.0191" stop-color="#adbcc5"/><stop offset="0.0237" stop-color="#adbcc5"/><stop offset="0.0284" stop-color="#adbcc5"/><stop offset="0.0331" stop-color="#adbcc5"/><stop offset="0.0378" stop-color="#adbcc5"/><stop offset="0.0425" stop-color="#adbcc5"/><stop offset="0.0472" stop-color="#adbcc5"/><stop offset="0.0519" stop-color="#adbcc5"/><stop offset="0.0566" stop-color="#adbcc5"/><stop offset="0.0612" stop-color="#adbdc5"/><stop offset="0.0659" stop-color="#adbdc5"/><stop offset="0.0706" stop-color="#aebdc5"/><stop offset="0.0753" stop-color="#afbdc5"/><stop offset="0.0800" stop-color="#b1bec6"/><stop offset="0.0847" stop-color="#b3bfc6"/><stop offset="0.0894" stop-color="#b5c1c7"/><stop offset="0.0940" stop-color="#b8c2c7"/><stop offset="0.0987" stop-color="#bbc3c8"/><stop offset="0.1034" stop-color="#bec5c8"/><stop offset="0.1081" stop-color="#c1c6c9"/><stop offset="0.1128" stop-color="#c3c7c9"/><stop offset="0.1175" stop-color="#c4c7c9"/><stop offset="0.1222" stop-color="#c5c8c9"/><stop offset="0.1269" stop-color="#c5c8ca"/><stop offset="0.1315" stop-color="#c5c8ca"/><stop offset="0.1362" stop-color="#c6c8ca"/><stop offset="0.1409" stop-color="#c6c8ca"/><stop offset="0.1456" stop-color="#c6c8ca"/><stop offset="0.1503" stop-color="#c6c8ca"/><stop offset="0.1550" stop-color="#c6c8ca"/><stop offset="0.1597" stop-color="#c6c8ca"/><stop offset="0.1643" stop-color="#c6c8ca"/><stop offset="0.1690" stop-color="#c6c8ca"/><stop offset="0.1737" stop-color="#c6c8ca"/><stop offset="0.1784" stop-color="#c6c8ca"/><stop offset="0.1831" stop-color="#c6c8ca"/><stop offset="0.1878" stop-color="#c6c8ca"/><stop offset="0.1925" stop-color="#c6c8ca"/><stop offset="0.1972" stop-color="#c6c8ca"/><stop offset="0.2018" stop-color="#c6c8ca"/><stop offset="0.2065" stop-color="#c6c8ca"/><stop offset="0.2112" stop-color="#c6c8ca"/><stop offset="0.2159" stop-color="#c6c8ca"/><stop offset="0.2206" stop-color="#c7c9ca"/><stop offset="0.2253" stop-color="#c8c9ca"/><stop offset="0.2300" stop-color="#cacaca"/><stop offset="0.2347" stop-color="#cbc9c8"/><stop offset="0.2393" stop-color="#cbc7c5"/><stop offset="0.2440" stop-color="#ccc6c2"/><stop offset="0.2487" stop-color="#ccc4bf"/><stop offset="0.2534" stop-color="#ccc2bb"/><stop offset="0.2581" stop-color="#cdc0b8"/><stop offset="0.2628" stop-color="#cdbeb6"/><stop offset="0.2675" stop-color="#cdbeb4"/><stop offset="0.2721" stop-color="#cdbdb4"/><stop offset="0.2768" stop-color="#cdbeb5"/><stop offset="0.2815" stop-color="#cdbfb7"/><stop offset="0.2862" stop-color="#cdc1b9"/><stop offset="0.2909" stop-color="#ccc2bd"/><stop offset="0.2956" stop-color="#ccc5c0"/><stop offset="0.3003" stop-color="#cbc7c5"/><stop offset="0.3050" stop-color="#cbcaca"/><stop offset="0.3096" stop-color="#c6c9ca"/><stop offset="0.3143" stop-color="#c2c6c9"/><stop offset="0.3190" stop-color="#bec5c8"/><stop offset="0.3237" stop-color="#bdc4c8"/><stop offset="0.3284" stop-color="#bdc4c8"/><stop offset="0.3331" stop-color="#c1c6c9"/><stop offset="0.3378" stop-color="#c6c8ca"/><stop offset="0.3424" stop-color="#cbc9c8"/><stop offset="0.3471" stop-color="#ccc3be"/><stop offset="0.3518" stop-color="#cdbeb5"/><stop offset="0.3565" stop-color="#ceb9ac"/><stop offset="0.3612" stop-color="#cfb4a4"/><stop offset="0.3659" stop-color="#cead9b"/><stop offset="0.3706" stop-color="#cea895"/><stop offset="0.3753" stop-color="#cda692"/><stop offset="0.3799" stop-color="#cda591"/><stop offset="0.3846" stop-color="#cda793"/><stop offset="0.3893" stop-color="#cea996"/><stop offset="0.3940" stop-color="#cead9b"/><stop offset="0.3987" stop-color="#cfb2a1"/><stop offset="0.4034" stop-color="#cfb5a6"/><stop offset="0.4081" stop-color="#ceb9ac"/><stop offset="0.4127" stop-color="#cebcb2"/><stop offset="0.4174" stop-color="#cdc1ba"/><stop offset="0.4221" stop-color="#cbc7c4"/><stop offset="0.4268" stop-color="#c8c9ca"/><stop offset="0.4315" stop-color="#bfc5c8"/><stop offset="0.4362" stop-color="#b6c1c7"/><stop offset="0.4409" stop-color="#aebdc5"/><stop offset="0.4456" stop-color="#a5b9c3"/><stop offset="0.4502" stop-color="#9eb5c1"/><stop offset="0.4549" stop-color="#99b3c0"/><stop offset="0.4596" stop-color="#97b2bf"/><stop offset="0.4643" stop-color="#97b1bf"/><stop offset="0.4690" stop-color="#97b2bf"/><stop offset="0.4737" stop-color="#98b2bf"/><stop offset="0.4784" stop-color="#9ab3c0"/><stop offset="0.4830" stop-color="#9bb3c0"/><stop offset="0.4877" stop-color="#9db4c1"/><stop offset="0.4924" stop-color="#9eb5c1"/><stop offset="0.4971" stop-color="#a1b6c2"/><stop offset="0.5018" stop-color="#a3b8c2"/><stop offset="0.5065" stop-color="#a7bac4"/><stop offset="0.5112" stop-color="#acbcc5"/><stop offset="0.5159" stop-color="#b1bfc6"/><stop offset="0.5205" stop-color="#b7c1c7"/><stop offset="0.5252" stop-color="#bec5c8"/><stop offset="0.5299" stop-color="#c6c8ca"/><stop offset="0.5346" stop-color="#cbc8c6"/><stop offset="0.5393" stop-color="#ccc2bc"/><stop offset="0.5440" stop-color="#cebbb1"/><stop offset="0.5487" stop-color="#cfb5a6"/><stop offset="0.5533" stop-color="#ceaa97"/><stop offset="0.5580" stop-color="#cc9e88"/><stop offset="0.5627" stop-color="#ca947a"/><stop offset="0.5674" stop-color="#c98b6f"/><stop offset="0.5721" stop-color="#c78468"/><stop offset="0.5768" stop-color="#c57f65"/><stop offset="0.5815" stop-color="#c47f64"/><stop offset="0.5862" stop-color="#c68267"/><stop offset="0.5908" stop-color="#c8896d"/><stop offset="0.5955" stop-color="#ca9177"/><stop offset="0.6002" stop-color="#cb9c85"/><stop offset="0.6049" stop-color="#cda793"/><stop offset="0.6096" stop-color="#cfb4a3"/><stop offset="0.6143" stop-color="#cebaaf"/><stop offset="0.6190" stop-color="#cdc1bb"/><stop offset="0.6237" stop-color="#cbc8c7"/><stop offset="0.6283" stop-color="#c3c7c9"/><stop offset="0.6330" stop-color="#b9c2c7"/><stop offset="0.6377" stop-color="#aebdc5"/><stop offset="0.6424" stop-color="#9fb6c1"/><stop offset="0.6471" stop-color="#90aebd"/><stop offset="0.6518" stop-color="#82a7b9"/><stop offset="0.6565" stop-color="#79a2b6"/><stop offset="0.6611" stop-color="#719db4"/><stop offset="0.6658" stop-color="#6c9ab2"/><stop offset="0.6705" stop-color="#6b99b2"/><stop offset="0.6752" stop-color="#6a99b1"/><stop offset="0.6799" stop-color="#6b9ab2"/><stop offset="0.6846" stop-color="#6f9cb3"/><stop offset="0.6893" stop-color="#77a1b6"/><stop offset="0.6940" stop-color="#83a7b9"/><stop offset="0.6986" stop-color="#94b0be"/><stop offset="0.7033" stop-color="#abbbc5"/><stop offset="0.7080" stop-color="#bac3c7"/><stop offset="0.7127" stop-color="#c9caca"/><stop offset="0.7174" stop-color="#ccc2bc"/><stop offset="0.7221" stop-color="#ceb9ad"/><stop offset="0.7268" stop-color="#cfaf9d"/><stop offset="0.7314" stop-color="#cca18b"/><stop offset="0.7361" stop-color="#ca947b"/><stop offset="0.7408" stop-color="#c98b6f"/><stop offset="0.7455" stop-color="#c68468"/><stop offset="0.7502" stop-color="#c58065"/><stop offset="0.7549" stop-color="#c58166"/><stop offset="0.7596" stop-color="#c8866a"/><stop offset="0.7643" stop-color="#c98e74"/><stop offset="0.7689" stop-color="#cb9981"/><stop offset="0.7736" stop-color="#cda692"/><stop offset="0.7783" stop-color="#cfb4a4"/><stop offset="0.7830" stop-color="#cebbb1"/><stop offset="0.7877" stop-color="#ccc3be"/><stop offset="0.7924" stop-color="#cacacb"/><stop offset="0.7971" stop-color="#c0c6c9"/><stop offset="0.8017" stop-color="#b6c1c7"/><stop offset="0.8064" stop-color="#acbcc5"/><stop offset="0.8111" stop-color="#9bb4c0"/><stop offset="0.8158" stop-color="#8cacbc"/><stop offset="0.8205" stop-color="#7ea5b8"/><stop offset="0.8252" stop-color="#739fb4"/><stop offset="0.8299" stop-color="#6d9bb2"/><stop offset="0.8346" stop-color="#6f9cb3"/><stop offset="0.8392" stop-color="#7aa3b7"/><stop offset="0.8439" stop-color="#89aabb"/><stop offset="0.8486" stop-color="#9db5c1"/><stop offset="0.8533" stop-color="#b0bec6"/><stop offset="0.8580" stop-color="#bec5c8"/><stop offset="0.8627" stop-color="#cbcac9"/><stop offset="0.8674" stop-color="#cdc0b9"/><stop offset="0.8720" stop-color="#cfb7aa"/><stop offset="0.8767" stop-color="#ceab98"/><stop offset="0.8814" stop-color="#cb9b84"/><stop offset="0.8861" stop-color="#c98d72"/><stop offset="0.8908" stop-color="#c57f64"/><stop offset="0.8955" stop-color="#c0745c"/><stop offset="0.9002" stop-color="#be6f58"/><stop offset="0.9049" stop-color="#bf715a"/><stop offset="0.9095" stop-color="#c27a60"/><stop offset="0.9142" stop-color="#c8886c"/><stop offset="0.9189" stop-color="#cb977f"/><stop offset="0.9236" stop-color="#cea895"/><stop offset="0.9283" stop-color="#cfb8ab"/><stop offset="0.9330" stop-color="#ccc4bf"/><stop offset="0.9377" stop-color="#c1c6c9"/><stop offset="0.9424" stop-color="#acbcc5"/><stop offset="0.9470" stop-color="#8babbc"/><stop offset="0.9517" stop-color="#6a99b1"/><stop offset="0.9564" stop-color="#4c86a7"/><stop offset="0.9611" stop-color="#36779f"/><stop offset="0.9658" stop-color="#2e6d9a"/><stop offset="0.9705" stop-color="#286596"/><stop offset="0.9752" stop-color="#235f93"/><stop offset="0.9798" stop-color="#205b91"/><stop offset="0.9830" stop-color="#1f5990"/></linearGradient><linearGradient id="R2" gradientUnits="userSpaceOnUse" x1="433.5" y1="0" x2="753.5" y2="0"><stop offset="0.0003" stop-color="#adbcc5"/><stop offset="0.0050" stop-color="#adbcc5"/><stop offset="0.0097" stop-color="#adbcc5"/><stop offset="0.0144" stop-color="#adbcc5"/><stop offset="0.0191" stop-color="#adbcc5"/><stop offset="0.0238" stop-color="#adbcc5"/><stop offset="0.0284" stop-color="#adbcc5"/><stop offset="0.0331" stop-color="#adbcc5"/><stop offset="0.0378" stop-color="#adbcc5"/><stop offset="0.0425" stop-color="#adbcc5"/><stop offset="0.0472" stop-color="#adbcc5"/><stop offset="0.0519" stop-color="#adbcc5"/><stop offset="0.0566" stop-color="#adbcc5"/><stop offset="0.0613" stop-color="#adbcc5"/><stop offset="0.0659" stop-color="#adbcc5"/><stop offset="0.0706" stop-color="#adbcc5"/><stop offset="0.0753" stop-color="#adbcc5"/><stop offset="0.0800" stop-color="#adbcc5"/><stop offset="0.0847" stop-color="#adbcc5"/><stop offset="0.0894" stop-color="#adbcc5"/><stop offset="0.0941" stop-color="#adbcc5"/><stop offset="0.0988" stop-color="#adbcc5"/><stop offset="0.1034" stop-color="#adbcc5"/><stop offset="0.1081" stop-color="#adbcc5"/><stop offset="0.1128" stop-color="#adbcc5"/><stop offset="0.1175" stop-color="#adbcc5"/><stop offset="0.1222" stop-color="#adbcc5"/><stop offset="0.1269" stop-color="#adbcc5"/><stop offset="0.1316" stop-color="#adbcc5"/><stop offset="0.1363" stop-color="#adbcc5"/><stop offset="0.1409" stop-color="#adbcc5"/><stop offset="0.1456" stop-color="#adbcc5"/><stop offset="0.1503" stop-color="#adbcc5"/><stop offset="0.1550" stop-color="#adbcc5"/><stop offset="0.1597" stop-color="#adbcc5"/><stop offset="0.1644" stop-color="#adbcc5"/><stop offset="0.1691" stop-color="#adbcc5"/><stop offset="0.1738" stop-color="#adbcc5"/><stop offset="0.1784" stop-color="#adbcc5"/><stop offset="0.1831" stop-color="#adbcc5"/><stop offset="0.1878" stop-color="#adbcc5"/><stop offset="0.1925" stop-color="#adbcc5"/><stop offset="0.1972" stop-color="#adbcc5"/><stop offset="0.2019" stop-color="#adbcc5"/><stop offset="0.2066" stop-color="#adbcc5"/><stop offset="0.2113" stop-color="#adbcc5"/><stop offset="0.2159" stop-color="#adbcc5"/><stop offset="0.2206" stop-color="#adbdc5"/><stop offset="0.2253" stop-color="#aebdc5"/><stop offset="0.2300" stop-color="#afbec6"/><stop offset="0.2347" stop-color="#b3bfc6"/><stop offset="0.2394" stop-color="#b9c2c7"/><stop offset="0.2441" stop-color="#c2c6c9"/><stop offset="0.2488" stop-color="#cbc9c8"/><stop offset="0.2534" stop-color="#cdc1ba"/><stop offset="0.2581" stop-color="#cebaae"/><stop offset="0.2628" stop-color="#cfb4a5"/><stop offset="0.2675" stop-color="#cfaf9d"/><stop offset="0.2722" stop-color="#ceac99"/><stop offset="0.2769" stop-color="#ceab98"/><stop offset="0.2816" stop-color="#ceab98"/><stop offset="0.2863" stop-color="#ceac99"/><stop offset="0.2909" stop-color="#ceac9a"/><stop offset="0.2956" stop-color="#ceac9a"/><stop offset="0.3003" stop-color="#ceab99"/><stop offset="0.3050" stop-color="#ceab98"/><stop offset="0.3097" stop-color="#ceab98"/><stop offset="0.3144" stop-color="#cead9a"/><stop offset="0.3191" stop-color="#cfb3a3"/><stop offset="0.3238" stop-color="#ceb9ad"/><stop offset="0.3284" stop-color="#cdc1ba"/><stop offset="0.3331" stop-color="#cbcac9"/><stop offset="0.3378" stop-color="#c1c6c9"/><stop offset="0.3425" stop-color="#b8c2c7"/><stop offset="0.3472" stop-color="#b2bfc6"/><stop offset="0.3519" stop-color="#aebdc5"/><stop offset="0.3566" stop-color="#acbcc5"/><stop offset="0.3613" stop-color="#a9bac4"/><stop offset="0.3659" stop-color="#a6b9c3"/><stop offset="0.3706" stop-color="#a3b7c2"/><stop offset="0.3753" stop-color="#a0b6c1"/><stop offset="0.3800" stop-color="#9db4c1"/><stop offset="0.3847" stop-color="#9bb3c0"/><stop offset="0.3894" stop-color="#99b2bf"/><stop offset="0.3941" stop-color="#97b2bf"/><stop offset="0.3988" stop-color="#97b1bf"/><stop offset="0.4034" stop-color="#97b2bf"/><stop offset="0.4081" stop-color="#99b2bf"/><stop offset="0.4128" stop-color="#9bb4c0"/><stop offset="0.4175" stop-color="#9fb6c1"/><stop offset="0.4222" stop-color="#a5b8c3"/><stop offset="0.4269" stop-color="#abbbc5"/><stop offset="0.4316" stop-color="#afbdc5"/><stop offset="0.4363" stop-color="#b3bfc6"/><stop offset="0.4409" stop-color="#b7c1c7"/><stop offset="0.4456" stop-color="#bbc3c8"/><stop offset="0.4503" stop-color="#bec5c8"/><stop offset="0.4550" stop-color="#c1c6c9"/><stop offset="0.4597" stop-color="#c3c7c9"/><stop offset="0.4644" stop-color="#c4c8c9"/><stop offset="0.4691" stop-color="#c5c8ca"/><stop offset="0.4738" stop-color="#c5c8ca"/><stop offset="0.4784" stop-color="#c5c8ca"/><stop offset="0.4831" stop-color="#c6c8ca"/><stop offset="0.4878" stop-color="#c6c8ca"/><stop offset="0.4925" stop-color="#c6c8ca"/><stop offset="0.4972" stop-color="#c6c9ca"/><stop offset="0.5019" stop-color="#c7c9ca"/><stop offset="0.5066" stop-color="#c9caca"/><stop offset="0.5113" stop-color="#cbcaca"/><stop offset="0.5159" stop-color="#cbc8c7"/><stop offset="0.5206" stop-color="#cbc6c3"/><stop offset="0.5253" stop-color="#ccc4bf"/><stop offset="0.5300" stop-color="#cdc1ba"/><stop offset="0.5347" stop-color="#cdbeb5"/><stop offset="0.5394" stop-color="#cebbaf"/><stop offset="0.5441" stop-color="#cfb7a9"/><stop offset="0.5488" stop-color="#cfb4a3"/><stop offset="0.5534" stop-color="#cead9b"/><stop offset="0.5581" stop-color="#cda692"/><stop offset="0.5628" stop-color="#cca08b"/><stop offset="0.5675" stop-color="#cb9b84"/><stop offset="0.5722" stop-color="#cb977f"/><stop offset="0.5769" stop-color="#ca957c"/><stop offset="0.5816" stop-color="#ca947b"/><stop offset="0.5863" stop-color="#ca957c"/><stop offset="0.5909" stop-color="#cb987f"/><stop offset="0.5956" stop-color="#cc9c85"/><stop offset="0.6003" stop-color="#cda38e"/><stop offset="0.6050" stop-color="#ceab99"/><stop offset="0.6097" stop-color="#cfb4a4"/><stop offset="0.6144" stop-color="#ceb9ad"/><stop offset="0.6191" stop-color="#cdbfb7"/><stop offset="0.6238" stop-color="#ccc5c1"/><stop offset="0.6284" stop-color="#cacaca"/><stop offset="0.6331" stop-color="#c1c6c9"/><stop offset="0.6378" stop-color="#b7c1c7"/><stop offset="0.6425" stop-color="#adbcc5"/><stop offset="0.6472" stop-color="#9db4c1"/><stop offset="0.6519" stop-color="#8dadbc"/><stop offset="0.6566" stop-color="#81a6b9"/><stop offset="0.6613" stop-color="#78a2b6"/><stop offset="0.6659" stop-color="#719db4"/><stop offset="0.6706" stop-color="#6f9cb3"/><stop offset="0.6753" stop-color="#729eb4"/><stop offset="0.6800" stop-color="#79a2b6"/><stop offset="0.6847" stop-color="#83a7b9"/><stop offset="0.6894" stop-color="#91aebd"/><stop offset="0.6941" stop-color="#a2b7c2"/><stop offset="0.6988" stop-color="#b0bec6"/><stop offset="0.7034" stop-color="#bbc3c8"/><stop offset="0.7081" stop-color="#c5c8ca"/><stop offset="0.7128" stop-color="#cbc7c5"/><stop offset="0.7175" stop-color="#cdc0b9"/><stop offset="0.7222" stop-color="#cebaae"/><stop offset="0.7269" stop-color="#cfb4a4"/><stop offset="0.7316" stop-color="#ceaa97"/><stop offset="0.7363" stop-color="#cca18b"/><stop offset="0.7409" stop-color="#cb9a82"/><stop offset="0.7456" stop-color="#ca957c"/><stop offset="0.7503" stop-color="#ca947a"/><stop offset="0.7550" stop-color="#ca957c"/><stop offset="0.7597" stop-color="#cb9981"/><stop offset="0.7644" stop-color="#cc9f89"/><stop offset="0.7691" stop-color="#cda793"/><stop offset="0.7738" stop-color="#cfb09f"/><stop offset="0.7784" stop-color="#cfb7a9"/><stop offset="0.7831" stop-color="#cebdb3"/><stop offset="0.7878" stop-color="#ccc2bc"/><stop offset="0.7925" stop-color="#cbc8c7"/><stop offset="0.7972" stop-color="#c5c8c9"/><stop offset="0.8019" stop-color="#bcc4c8"/><stop offset="0.8066" stop-color="#b3bfc6"/><stop offset="0.8113" stop-color="#abbbc5"/><stop offset="0.8159" stop-color="#a0b6c2"/><stop offset="0.8206" stop-color="#99b2c0"/><stop offset="0.8253" stop-color="#97b1bf"/><stop offset="0.8300" stop-color="#9ab3c0"/><stop offset="0.8347" stop-color="#a3b8c2"/><stop offset="0.8394" stop-color="#afbec5"/><stop offset="0.8441" stop-color="#bac3c8"/><stop offset="0.8488" stop-color="#c6c9ca"/><stop offset="0.8534" stop-color="#ccc5c1"/><stop offset="0.8581" stop-color="#cebdb3"/><stop offset="0.8628" stop-color="#cfb5a5"/><stop offset="0.8675" stop-color="#cea894"/><stop offset="0.8722" stop-color="#cb9b84"/><stop offset="0.8769" stop-color="#c98f74"/><stop offset="0.8816" stop-color="#c78468"/><stop offset="0.8863" stop-color="#c37c62"/><stop offset="0.8909" stop-color="#c2795f"/><stop offset="0.8956" stop-color="#c37b61"/><stop offset="0.9003" stop-color="#c68367"/><stop offset="0.9050" stop-color="#c98d72"/><stop offset="0.9097" stop-color="#cb9982"/><stop offset="0.9144" stop-color="#cda793"/><stop offset="0.9191" stop-color="#cfb5a5"/><stop offset="0.9238" stop-color="#cdbdb3"/><stop offset="0.9284" stop-color="#ccc6c2"/><stop offset="0.9331" stop-color="#c4c7c9"/><stop offset="0.9378" stop-color="#b6c1c7"/><stop offset="0.9425" stop-color="#a3b7c2"/><stop offset="0.9472" stop-color="#88aabb"/><stop offset="0.9519" stop-color="#6c9ab2"/><stop offset="0.9566" stop-color="#5088a8"/><stop offset="0.9613" stop-color="#397aa1"/><stop offset="0.9659" stop-color="#31719c"/><stop offset="0.9706" stop-color="#2d6b99"/><stop offset="0.9753" stop-color="#2b6998"/></linearGradient><linearGradient id="R3" gradientUnits="userSpaceOnUse" x1="433.5" y1="0" x2="753.5" y2="0"><stop offset="0.0003" stop-color="#cbc8c7"/><stop offset="0.0050" stop-color="#cbc8c7"/><stop offset="0.0097" stop-color="#cbc8c7"/><stop offset="0.0144" stop-color="#cbc8c7"/><stop offset="0.0191" stop-color="#cbc8c6"/><stop offset="0.0237" stop-color="#cbc8c5"/><stop offset="0.0284" stop-color="#cbc7c4"/><stop offset="0.0331" stop-color="#ccc5c2"/><stop offset="0.0378" stop-color="#ccc4bf"/><stop offset="0.0425" stop-color="#ccc2bd"/><stop offset="0.0472" stop-color="#cdc1ba"/><stop offset="0.0519" stop-color="#cdc0b8"/><stop offset="0.0566" stop-color="#cdbfb6"/><stop offset="0.0612" stop-color="#cdbeb5"/><stop offset="0.0659" stop-color="#cdbeb5"/><stop offset="0.0706" stop-color="#cdbeb5"/><stop offset="0.0753" stop-color="#cdbfb7"/><stop offset="0.0800" stop-color="#cdc0b9"/><stop offset="0.0847" stop-color="#ccc2bc"/><stop offset="0.0894" stop-color="#ccc4c0"/><stop offset="0.0940" stop-color="#cbc7c4"/><stop offset="0.0987" stop-color="#cbcac9"/><stop offset="0.1034" stop-color="#c8c9ca"/><stop offset="0.1081" stop-color="#c4c7c9"/><stop offset="0.1128" stop-color="#bfc5c8"/><stop offset="0.1175" stop-color="#bbc3c8"/><stop offset="0.1222" stop-color="#b6c1c7"/><stop offset="0.1269" stop-color="#b2bfc6"/><stop offset="0.1315" stop-color="#aebdc5"/><stop offset="0.1362" stop-color="#aabbc4"/><stop offset="0.1409" stop-color="#a5b8c3"/><stop offset="0.1456" stop-color="#a2b7c2"/><stop offset="0.1503" stop-color="#a0b6c2"/><stop offset="0.1550" stop-color="#a0b6c2"/><stop offset="0.1597" stop-color="#a1b7c2"/><stop offset="0.1643" stop-color="#a5b9c3"/><stop offset="0.1690" stop-color="#acbcc5"/><stop offset="0.1737" stop-color="#b1bec6"/><stop offset="0.1784" stop-color="#b8c2c7"/><stop offset="0.1831" stop-color="#c0c5c9"/><stop offset="0.1878" stop-color="#c8c9ca"/><stop offset="0.1925" stop-color="#cbc6c3"/><stop offset="0.1972" stop-color="#cdc0b9"/><stop offset="0.2018" stop-color="#cebaae"/><stop offset="0.2065" stop-color="#cfb4a4"/><stop offset="0.2112" stop-color="#ceaa97"/><stop offset="0.2159" stop-color="#cca18b"/><stop offset="0.2206" stop-color="#cb9a82"/><stop offset="0.2253" stop-color="#ca957c"/><stop offset="0.2300" stop-color="#ca937a"/><stop offset="0.2346" stop-color="#ca937a"/><stop offset="0.2393" stop-color="#cb967e"/><stop offset="0.2440" stop-color="#cc9c85"/><stop offset="0.2487" stop-color="#cda490"/><stop offset="0.2534" stop-color="#cfaf9e"/><stop offset="0.2581" stop-color="#cfb8aa"/><stop offset="0.2628" stop-color="#cdbeb6"/><stop offset="0.2675" stop-color="#ccc5c1"/><stop offset="0.2721" stop-color="#c9caca"/><stop offset="0.2768" stop-color="#c0c6c9"/><stop offset="0.2815" stop-color="#b8c2c7"/><stop offset="0.2862" stop-color="#b0bec6"/><stop offset="0.2909" stop-color="#a8bac4"/><stop offset="0.2956" stop-color="#9eb5c1"/><stop offset="0.3003" stop-color="#97b1bf"/><stop offset="0.3050" stop-color="#93afbe"/><stop offset="0.3096" stop-color="#91aebd"/><stop offset="0.3143" stop-color="#91afbd"/><stop offset="0.3190" stop-color="#94b0be"/><stop offset="0.3237" stop-color="#99b3c0"/><stop offset="0.3284" stop-color="#a1b6c2"/><stop offset="0.3331" stop-color="#a9bbc4"/><stop offset="0.3378" stop-color="#b0bec6"/><stop offset="0.3424" stop-color="#b6c1c7"/><stop offset="0.3471" stop-color="#bdc4c8"/><stop offset="0.3518" stop-color="#c3c7c9"/><stop offset="0.3565" stop-color="#cbcbcb"/><stop offset="0.3612" stop-color="#ccc5c1"/><stop offset="0.3659" stop-color="#cdbfb7"/><stop offset="0.3706" stop-color="#ceb9ad"/><stop offset="0.3753" stop-color="#cfb4a4"/><stop offset="0.3799" stop-color="#ceac9a"/><stop offset="0.3846" stop-color="#cda692"/><stop offset="0.3893" stop-color="#cda38e"/><stop offset="0.3940" stop-color="#cda38e"/><stop offset="0.3987" stop-color="#cda591"/><stop offset="0.4034" stop-color="#ceaa97"/><stop offset="0.4081" stop-color="#cfb19f"/><stop offset="0.4127" stop-color="#cfb6a8"/><stop offset="0.4174" stop-color="#cebbaf"/><stop offset="0.4221" stop-color="#cdc0b8"/><stop offset="0.4268" stop-color="#ccc4c0"/><stop offset="0.4315" stop-color="#cbc9c9"/><stop offset="0.4362" stop-color="#c5c8ca"/><stop offset="0.4409" stop-color="#bec5c8"/><stop offset="0.4456" stop-color="#b7c1c7"/><stop offset="0.4502" stop-color="#b1bec6"/><stop offset="0.4549" stop-color="#aabbc4"/><stop offset="0.4596" stop-color="#a1b6c2"/><stop offset="0.4643" stop-color="#9ab3c0"/><stop offset="0.4690" stop-color="#96b1bf"/><stop offset="0.4737" stop-color="#94b0be"/><stop offset="0.4784" stop-color="#93afbe"/><stop offset="0.4830" stop-color="#94b0be"/><stop offset="0.4877" stop-color="#94b0be"/><stop offset="0.4924" stop-color="#96b1bf"/><stop offset="0.4971" stop-color="#97b2bf"/><stop offset="0.5018" stop-color="#99b3c0"/><stop offset="0.5065" stop-color="#9cb4c0"/><stop offset="0.5112" stop-color="#a0b6c2"/><stop offset="0.5159" stop-color="#a8bac4"/><stop offset="0.5205" stop-color="#afbec6"/><stop offset="0.5252" stop-color="#b7c1c7"/><stop offset="0.5299" stop-color="#c0c6c9"/><stop offset="0.5346" stop-color="#c9caca"/><stop offset="0.5393" stop-color="#ccc5c2"/><stop offset="0.5440" stop-color="#cdc0b9"/><stop offset="0.5487" stop-color="#cebbb0"/><stop offset="0.5533" stop-color="#cfb7a8"/><stop offset="0.5580" stop-color="#cfb1a0"/><stop offset="0.5627" stop-color="#ceab98"/><stop offset="0.5674" stop-color="#cda691"/><stop offset="0.5721" stop-color="#cda28d"/><stop offset="0.5768" stop-color="#cca18b"/><stop offset="0.5815" stop-color="#cca18b"/><stop offset="0.5862" stop-color="#cda28d"/><stop offset="0.5908" stop-color="#cda590"/><stop offset="0.5955" stop-color="#cea996"/><stop offset="0.6002" stop-color="#cfb09e"/><stop offset="0.6049" stop-color="#cfb6a6"/><stop offset="0.6096" stop-color="#cebaae"/><stop offset="0.6143" stop-color="#cdbfb6"/><stop offset="0.6190" stop-color="#ccc4bf"/><stop offset="0.6236" stop-color="#cbc9c8"/><stop offset="0.6283" stop-color="#c4c8c9"/><stop offset="0.6330" stop-color="#bcc4c8"/><stop offset="0.6377" stop-color="#b3bfc6"/><stop offset="0.6424" stop-color="#aabbc4"/><stop offset="0.6471" stop-color="#9db5c1"/><stop offset="0.6518" stop-color="#94b0be"/><stop offset="0.6565" stop-color="#8eadbc"/><stop offset="0.6611" stop-color="#8babbb"/><stop offset="0.6658" stop-color="#8aabbb"/><stop offset="0.6705" stop-color="#8cacbc"/><stop offset="0.6752" stop-color="#90aebd"/><stop offset="0.6799" stop-color="#97b1bf"/><stop offset="0.6846" stop-color="#a0b6c2"/><stop offset="0.6893" stop-color="#abbcc5"/><stop offset="0.6940" stop-color="#b3bfc6"/><stop offset="0.6986" stop-color="#bbc3c8"/><stop offset="0.7033" stop-color="#c3c7c9"/><stop offset="0.7080" stop-color="#cbcac9"/><stop offset="0.7127" stop-color="#ccc3be"/><stop offset="0.7174" stop-color="#cdbdb3"/><stop offset="0.7221" stop-color="#cfb7a9"/><stop offset="0.7268" stop-color="#cfb19f"/><stop offset="0.7314" stop-color="#cea996"/><stop offset="0.7361" stop-color="#cda490"/><stop offset="0.7408" stop-color="#cda28d"/><stop offset="0.7455" stop-color="#cda38e"/><stop offset="0.7502" stop-color="#cda692"/><stop offset="0.7549" stop-color="#ceac99"/><stop offset="0.7596" stop-color="#cfb4a4"/><stop offset="0.7643" stop-color="#cebaae"/><stop offset="0.7689" stop-color="#cdc0b8"/><stop offset="0.7736" stop-color="#cbc7c4"/><stop offset="0.7783" stop-color="#c6c8ca"/><stop offset="0.7830" stop-color="#bcc4c8"/><stop offset="0.7877" stop-color="#b3bfc6"/><stop offset="0.7924" stop-color="#a9bbc4"/><stop offset="0.7971" stop-color="#9db4c1"/><stop offset="0.8017" stop-color="#94b0be"/><stop offset="0.8064" stop-color="#8fadbd"/><stop offset="0.8111" stop-color="#8eadbc"/><stop offset="0.8158" stop-color="#91aebd"/><stop offset="0.8205" stop-color="#97b2bf"/><stop offset="0.8252" stop-color="#a2b7c2"/><stop offset="0.8299" stop-color="#aebdc5"/><stop offset="0.8346" stop-color="#b7c1c7"/><stop offset="0.8392" stop-color="#c1c6c9"/><stop offset="0.8439" stop-color="#cbcac9"/><stop offset="0.8486" stop-color="#ccc2bc"/><stop offset="0.8533" stop-color="#cebaae"/><stop offset="0.8580" stop-color="#cfb09e"/><stop offset="0.8627" stop-color="#cca18b"/><stop offset="0.8674" stop-color="#ca947b"/><stop offset="0.8720" stop-color="#c98a6e"/><stop offset="0.8767" stop-color="#c78468"/><stop offset="0.8814" stop-color="#c78569"/><stop offset="0.8861" stop-color="#c98b70"/><stop offset="0.8908" stop-color="#ca957c"/><stop offset="0.8955" stop-color="#cca18c"/><stop offset="0.9002" stop-color="#cfae9c"/><stop offset="0.9049" stop-color="#cfb8aa"/><stop offset="0.9095" stop-color="#cdbfb6"/><stop offset="0.9142" stop-color="#ccc6c2"/><stop offset="0.9189" stop-color="#c8c9ca"/><stop offset="0.9236" stop-color="#bfc5c8"/><stop offset="0.9283" stop-color="#b6c1c7"/><stop offset="0.9330" stop-color="#adbdc5"/><stop offset="0.9377" stop-color="#a0b6c1"/><stop offset="0.9423" stop-color="#91afbd"/><stop offset="0.9470" stop-color="#84a8b9"/><stop offset="0.9517" stop-color="#76a1b6"/><stop offset="0.9564" stop-color="#6998b1"/><stop offset="0.9611" stop-color="#5e91ad"/><stop offset="0.9658" stop-color="#578dab"/><stop offset="0.9673" stop-color="#558caa"/></linearGradient><linearGradient id="R4" gradientUnits="userSpaceOnUse" x1="433.5" y1="0" x2="753.5" y2="0"><stop offset="0.0003" stop-color="#ca9176"/><stop offset="0.0050" stop-color="#ca9177"/><stop offset="0.0097" stop-color="#ca9379"/><stop offset="0.0144" stop-color="#cb967d"/><stop offset="0.0191" stop-color="#cb9c85"/><stop offset="0.0238" stop-color="#cda590"/><stop offset="0.0285" stop-color="#cfb1a0"/><stop offset="0.0331" stop-color="#cebaae"/><stop offset="0.0378" stop-color="#ccc3bd"/><stop offset="0.0425" stop-color="#cbcbca"/><stop offset="0.0472" stop-color="#c1c6c9"/><stop offset="0.0519" stop-color="#b9c2c7"/><stop offset="0.0566" stop-color="#b1bfc6"/><stop offset="0.0613" stop-color="#abbcc5"/><stop offset="0.0660" stop-color="#a3b7c2"/><stop offset="0.0707" stop-color="#9db4c1"/><stop offset="0.0754" stop-color="#99b3c0"/><stop offset="0.0801" stop-color="#98b2bf"/><stop offset="0.0847" stop-color="#99b2c0"/><stop offset="0.0894" stop-color="#9bb4c0"/><stop offset="0.0941" stop-color="#a0b6c2"/><stop offset="0.0988" stop-color="#a6b9c3"/><stop offset="0.1035" stop-color="#adbcc5"/><stop offset="0.1082" stop-color="#b2bfc6"/><stop offset="0.1129" stop-color="#b7c2c7"/><stop offset="0.1176" stop-color="#bdc4c8"/><stop offset="0.1223" stop-color="#c3c7c9"/><stop offset="0.1270" stop-color="#c8c9ca"/><stop offset="0.1316" stop-color="#cbcaca"/><stop offset="0.1363" stop-color="#cbc9c8"/><stop offset="0.1410" stop-color="#cbc9c9"/><stop offset="0.1457" stop-color="#cacaca"/><stop offset="0.1504" stop-color="#c6c8ca"/><stop offset="0.1551" stop-color="#c2c6c9"/><stop offset="0.1598" stop-color="#bdc4c8"/><stop offset="0.1645" stop-color="#b9c2c7"/><stop offset="0.1692" stop-color="#b6c1c7"/><stop offset="0.1739" stop-color="#b6c1c7"/><stop offset="0.1786" stop-color="#b7c1c7"/><stop offset="0.1832" stop-color="#bac3c8"/><stop offset="0.1879" stop-color="#c0c5c9"/><stop offset="0.1926" stop-color="#c7c9ca"/><stop offset="0.1973" stop-color="#cbc8c5"/><stop offset="0.2020" stop-color="#cdc1bb"/><stop offset="0.2067" stop-color="#cebbb0"/><stop offset="0.2114" stop-color="#cfb6a7"/><stop offset="0.2161" stop-color="#cfae9d"/><stop offset="0.2208" stop-color="#cda894"/><stop offset="0.2255" stop-color="#cda48f"/><stop offset="0.2301" stop-color="#cda38e"/><stop offset="0.2348" stop-color="#cda490"/><stop offset="0.2395" stop-color="#cea895"/><stop offset="0.2442" stop-color="#cfae9d"/><stop offset="0.2489" stop-color="#cfb5a5"/><stop offset="0.2536" stop-color="#ceb9ad"/><stop offset="0.2583" stop-color="#cdbeb6"/><stop offset="0.2630" stop-color="#ccc4bf"/><stop offset="0.2677" stop-color="#cbcaca"/><stop offset="0.2724" stop-color="#c2c7c9"/><stop offset="0.2771" stop-color="#b8c2c7"/><stop offset="0.2817" stop-color="#aebdc5"/><stop offset="0.2864" stop-color="#a1b6c2"/><stop offset="0.2911" stop-color="#95b0be"/><stop offset="0.2958" stop-color="#8cacbc"/><stop offset="0.3005" stop-color="#87a9ba"/><stop offset="0.3052" stop-color="#86a9ba"/><stop offset="0.3099" stop-color="#88aabb"/><stop offset="0.3146" stop-color="#8eadbc"/><stop offset="0.3193" stop-color="#96b1bf"/><stop offset="0.3240" stop-color="#a1b6c2"/><stop offset="0.3287" stop-color="#adbcc5"/><stop offset="0.3333" stop-color="#b5c0c7"/><stop offset="0.3380" stop-color="#bdc4c8"/><stop offset="0.3427" stop-color="#c6c8ca"/><stop offset="0.3474" stop-color="#cbc7c5"/><stop offset="0.3521" stop-color="#cdc1ba"/><stop offset="0.3568" stop-color="#cebbaf"/><stop offset="0.3615" stop-color="#cfb5a5"/><stop offset="0.3662" stop-color="#cead9b"/><stop offset="0.3709" stop-color="#cda793"/><stop offset="0.3756" stop-color="#cda48f"/><stop offset="0.3802" stop-color="#cda38e"/><stop offset="0.3849" stop-color="#cda691"/><stop offset="0.3896" stop-color="#ceaa97"/><stop offset="0.3943" stop-color="#cfb1a0"/><stop offset="0.3990" stop-color="#cfb7a9"/><stop offset="0.4037" stop-color="#cebcb1"/><stop offset="0.4084" stop-color="#cdc1ba"/><stop offset="0.4131" stop-color="#ccc6c3"/><stop offset="0.4178" stop-color="#cacaca"/><stop offset="0.4225" stop-color="#c3c7c9"/><stop offset="0.4272" stop-color="#bcc4c8"/><stop offset="0.4318" stop-color="#b5c0c7"/><stop offset="0.4365" stop-color="#afbdc5"/><stop offset="0.4412" stop-color="#a8bac4"/><stop offset="0.4459" stop-color="#a1b7c2"/><stop offset="0.4506" stop-color="#9db4c1"/><stop offset="0.4553" stop-color="#9ab3c0"/><stop offset="0.4600" stop-color="#9ab3c0"/><stop offset="0.4647" stop-color="#9bb3c0"/><stop offset="0.4694" stop-color="#9eb5c1"/><stop offset="0.4741" stop-color="#a3b7c2"/><stop offset="0.4787" stop-color="#aabbc4"/><stop offset="0.4834" stop-color="#b0bec6"/><stop offset="0.4881" stop-color="#b6c1c7"/><stop offset="0.4928" stop-color="#bcc4c8"/><stop offset="0.4975" stop-color="#c3c7c9"/><stop offset="0.5022" stop-color="#c9caca"/><stop offset="0.5069" stop-color="#cbc7c4"/><stop offset="0.5116" stop-color="#ccc2bc"/><stop offset="0.5163" stop-color="#cdbeb4"/><stop offset="0.5210" stop-color="#ceb9ad"/><stop offset="0.5257" stop-color="#cfb5a6"/><stop offset="0.5303" stop-color="#cfb1a0"/><stop offset="0.5350" stop-color="#ceac9a"/><stop offset="0.5397" stop-color="#ceaa97"/><stop offset="0.5444" stop-color="#cea995"/><stop offset="0.5491" stop-color="#cea996"/><stop offset="0.5538" stop-color="#ceaa97"/><stop offset="0.5585" stop-color="#cead9b"/><stop offset="0.5632" stop-color="#cfb1a0"/><stop offset="0.5679" stop-color="#cfb5a5"/><stop offset="0.5726" stop-color="#cfb8ab"/><stop offset="0.5773" stop-color="#cebbb0"/><stop offset="0.5819" stop-color="#cdbfb6"/><stop offset="0.5866" stop-color="#ccc2bc"/><stop offset="0.5913" stop-color="#cbc6c3"/><stop offset="0.5960" stop-color="#cbcaca"/><stop offset="0.6007" stop-color="#c4c8c9"/><stop offset="0.6054" stop-color="#bdc4c8"/><stop offset="0.6101" stop-color="#b6c1c7"/><stop offset="0.6148" stop-color="#b0bec6"/><stop offset="0.6195" stop-color="#aabbc4"/><stop offset="0.6242" stop-color="#a4b8c3"/><stop offset="0.6288" stop-color="#a1b6c2"/><stop offset="0.6335" stop-color="#a0b6c2"/><stop offset="0.6382" stop-color="#a0b6c2"/><stop offset="0.6429" stop-color="#a3b7c2"/><stop offset="0.6476" stop-color="#a6b9c3"/><stop offset="0.6523" stop-color="#acbcc5"/><stop offset="0.6570" stop-color="#b0bec6"/><stop offset="0.6617" stop-color="#b4c0c6"/><stop offset="0.6664" stop-color="#b9c2c7"/><stop offset="0.6711" stop-color="#bfc5c8"/><stop offset="0.6758" stop-color="#c4c8c9"/><stop offset="0.6804" stop-color="#cbcaca"/><stop offset="0.6851" stop-color="#ccc5c1"/><stop offset="0.6898" stop-color="#cdbfb7"/><stop offset="0.6945" stop-color="#ceb9ac"/><stop offset="0.6992" stop-color="#cfb3a3"/><stop offset="0.7039" stop-color="#ceab98"/><stop offset="0.7086" stop-color="#cda591"/><stop offset="0.7133" stop-color="#cda28d"/><stop offset="0.7180" stop-color="#cda28d"/><stop offset="0.7227" stop-color="#cda48f"/><stop offset="0.7273" stop-color="#cea894"/><stop offset="0.7320" stop-color="#cfae9c"/><stop offset="0.7367" stop-color="#cfb5a5"/><stop offset="0.7414" stop-color="#ceb9ad"/><stop offset="0.7461" stop-color="#cdbeb6"/><stop offset="0.7508" stop-color="#ccc4bf"/><stop offset="0.7555" stop-color="#cbcaca"/><stop offset="0.7602" stop-color="#c1c6c9"/><stop offset="0.7649" stop-color="#b8c2c7"/><stop offset="0.7696" stop-color="#aebdc5"/><stop offset="0.7743" stop-color="#a1b6c2"/><stop offset="0.7789" stop-color="#96b1bf"/><stop offset="0.7836" stop-color="#8fadbd"/><stop offset="0.7883" stop-color="#8cacbc"/><stop offset="0.7930" stop-color="#8cacbc"/><stop offset="0.7977" stop-color="#8fadbd"/><stop offset="0.8024" stop-color="#95b0be"/><stop offset="0.8071" stop-color="#9eb5c1"/><stop offset="0.8118" stop-color="#a8bac4"/><stop offset="0.8165" stop-color="#b0bec6"/><stop offset="0.8212" stop-color="#b8c2c7"/><stop offset="0.8258" stop-color="#c0c6c9"/><stop offset="0.8305" stop-color="#c8c9ca"/><stop offset="0.8352" stop-color="#ccc6c2"/><stop offset="0.8399" stop-color="#cdbfb7"/><stop offset="0.8446" stop-color="#cfb8ab"/><stop offset="0.8493" stop-color="#cfaf9d"/><stop offset="0.8540" stop-color="#cda28d"/><stop offset="0.8587" stop-color="#cb9880"/><stop offset="0.8634" stop-color="#ca9177"/><stop offset="0.8681" stop-color="#c98e73"/><stop offset="0.8728" stop-color="#ca9076"/><stop offset="0.8774" stop-color="#cb967d"/><stop offset="0.8821" stop-color="#cc9e88"/><stop offset="0.8868" stop-color="#cea895"/><stop offset="0.8915" stop-color="#cfb3a2"/><stop offset="0.8962" stop-color="#ceb9ac"/><stop offset="0.9009" stop-color="#cdbfb6"/><stop offset="0.9056" stop-color="#ccc4c0"/><stop offset="0.9103" stop-color="#cbcaca"/><stop offset="0.9150" stop-color="#c3c7c9"/><stop offset="0.9197" stop-color="#bbc3c8"/><stop offset="0.9244" stop-color="#b2bfc6"/><stop offset="0.9290" stop-color="#a9bac4"/><stop offset="0.9337" stop-color="#9bb4c0"/><stop offset="0.9384" stop-color="#8eadbc"/><stop offset="0.9431" stop-color="#83a7b9"/><stop offset="0.9478" stop-color="#7aa3b7"/><stop offset="0.9525" stop-color="#729eb4"/><stop offset="0.9572" stop-color="#6d9bb2"/><stop offset="0.9603" stop-color="#6c9ab2"/></linearGradient><linearGradient id="R5" gradientUnits="userSpaceOnUse" x1="433.5" y1="0" x2="753.5" y2="0"><stop offset="0.0088" stop-color="#b25443"/><stop offset="0.0134" stop-color="#b8614d"/><stop offset="0.0181" stop-color="#c0755c"/><stop offset="0.0228" stop-color="#c98c71"/><stop offset="0.0275" stop-color="#cda38e"/><stop offset="0.0322" stop-color="#cfb7a9"/><stop offset="0.0369" stop-color="#ccc3be"/><stop offset="0.0416" stop-color="#c4c7c9"/><stop offset="0.0463" stop-color="#b4c0c6"/><stop offset="0.0509" stop-color="#a0b6c1"/><stop offset="0.0556" stop-color="#87a9ba"/><stop offset="0.0603" stop-color="#6c9ab2"/><stop offset="0.0650" stop-color="#5189a9"/><stop offset="0.0697" stop-color="#3b7ba1"/><stop offset="0.0744" stop-color="#32729d"/><stop offset="0.0791" stop-color="#2f6f9b"/><stop offset="0.0838" stop-color="#31719c"/><stop offset="0.0884" stop-color="#3678a0"/><stop offset="0.0931" stop-color="#4b85a7"/><stop offset="0.0978" stop-color="#6595b0"/><stop offset="0.1025" stop-color="#80a6b8"/><stop offset="0.1072" stop-color="#97b2bf"/><stop offset="0.1119" stop-color="#adbdc5"/><stop offset="0.1166" stop-color="#b9c2c7"/><stop offset="0.1213" stop-color="#c4c7c9"/><stop offset="0.1259" stop-color="#cbc9c9"/><stop offset="0.1306" stop-color="#ccc5c0"/><stop offset="0.1353" stop-color="#cdc1ba"/><stop offset="0.1400" stop-color="#cdbdb4"/><stop offset="0.1447" stop-color="#cebaae"/><stop offset="0.1494" stop-color="#cfb7a9"/><stop offset="0.1541" stop-color="#cfb4a4"/><stop offset="0.1588" stop-color="#cfae9c"/><stop offset="0.1634" stop-color="#cea895"/><stop offset="0.1681" stop-color="#cda38e"/><stop offset="0.1728" stop-color="#cc9f88"/><stop offset="0.1775" stop-color="#cb9b84"/><stop offset="0.1822" stop-color="#cb9981"/><stop offset="0.1869" stop-color="#cb9880"/><stop offset="0.1916" stop-color="#cb977f"/><stop offset="0.1963" stop-color="#cb977f"/><stop offset="0.2009" stop-color="#cb977f"/><stop offset="0.2056" stop-color="#cb9981"/><stop offset="0.2103" stop-color="#cb9b83"/><stop offset="0.2150" stop-color="#cc9e88"/><stop offset="0.2197" stop-color="#cda48f"/><stop offset="0.2244" stop-color="#ceab98"/><stop offset="0.2291" stop-color="#cfb2a1"/><stop offset="0.2338" stop-color="#cfb7a9"/><stop offset="0.2384" stop-color="#cebcb1"/><stop offset="0.2431" stop-color="#cdc0b9"/><stop offset="0.2478" stop-color="#ccc6c2"/><stop offset="0.2525" stop-color="#c9caca"/><stop offset="0.2572" stop-color="#bfc5c8"/><stop offset="0.2619" stop-color="#b4c0c6"/><stop offset="0.2666" stop-color="#a6b9c3"/><stop offset="0.2712" stop-color="#92afbe"/><stop offset="0.2759" stop-color="#80a6b8"/><stop offset="0.2806" stop-color="#709db4"/><stop offset="0.2853" stop-color="#6596b0"/><stop offset="0.2900" stop-color="#6193ae"/><stop offset="0.2947" stop-color="#6596b0"/><stop offset="0.2994" stop-color="#719db4"/><stop offset="0.3041" stop-color="#7fa5b8"/><stop offset="0.3087" stop-color="#8fadbd"/><stop offset="0.3134" stop-color="#a0b6c2"/><stop offset="0.3181" stop-color="#afbec6"/><stop offset="0.3228" stop-color="#bbc3c8"/><stop offset="0.3275" stop-color="#c6c8ca"/><stop offset="0.3322" stop-color="#ccc6c3"/><stop offset="0.3369" stop-color="#cdbeb4"/><stop offset="0.3416" stop-color="#cfb5a6"/><stop offset="0.3462" stop-color="#cda793"/><stop offset="0.3509" stop-color="#cb9880"/><stop offset="0.3556" stop-color="#c98b70"/><stop offset="0.3603" stop-color="#c58065"/><stop offset="0.3650" stop-color="#c27a60"/><stop offset="0.3697" stop-color="#c27a60"/><stop offset="0.3744" stop-color="#c58166"/><stop offset="0.3791" stop-color="#c98c71"/><stop offset="0.3837" stop-color="#cb9981"/><stop offset="0.3884" stop-color="#cea894"/><stop offset="0.3931" stop-color="#cfb6a6"/><stop offset="0.3978" stop-color="#cdbdb4"/><stop offset="0.4025" stop-color="#ccc5c1"/><stop offset="0.4072" stop-color="#c9caca"/><stop offset="0.4119" stop-color="#c1c6c9"/><stop offset="0.4166" stop-color="#b9c2c7"/><stop offset="0.4212" stop-color="#b2bfc6"/><stop offset="0.4259" stop-color="#abbcc5"/><stop offset="0.4306" stop-color="#a0b6c2"/><stop offset="0.4353" stop-color="#96b1bf"/><stop offset="0.4400" stop-color="#8fadbd"/><stop offset="0.4447" stop-color="#89aabb"/><stop offset="0.4494" stop-color="#85a8ba"/><stop offset="0.4541" stop-color="#84a8b9"/><stop offset="0.4587" stop-color="#83a7b9"/><stop offset="0.4634" stop-color="#84a8ba"/><stop offset="0.4681" stop-color="#88aabb"/><stop offset="0.4728" stop-color="#8eadbc"/><stop offset="0.4775" stop-color="#99b2c0"/><stop offset="0.4822" stop-color="#a8bac4"/><stop offset="0.4869" stop-color="#b5c0c7"/><stop offset="0.4916" stop-color="#c2c6c9"/><stop offset="0.4962" stop-color="#cbc7c5"/><stop offset="0.5009" stop-color="#cdbeb5"/><stop offset="0.5056" stop-color="#cfb6a7"/><stop offset="0.5103" stop-color="#ceac99"/><stop offset="0.5150" stop-color="#cda38e"/><stop offset="0.5197" stop-color="#cc9f88"/><stop offset="0.5244" stop-color="#cc9d86"/><stop offset="0.5291" stop-color="#cc9c86"/><stop offset="0.5337" stop-color="#cc9e87"/><stop offset="0.5384" stop-color="#cca08b"/><stop offset="0.5431" stop-color="#cda590"/><stop offset="0.5478" stop-color="#ceab98"/><stop offset="0.5525" stop-color="#cfb3a2"/><stop offset="0.5572" stop-color="#cfb7aa"/><stop offset="0.5619" stop-color="#cebcb2"/><stop offset="0.5666" stop-color="#cdc1ba"/><stop offset="0.5712" stop-color="#ccc5c2"/><stop offset="0.5759" stop-color="#cbcaca"/><stop offset="0.5806" stop-color="#c4c7c9"/><stop offset="0.5853" stop-color="#bdc4c8"/><stop offset="0.5900" stop-color="#b6c1c7"/><stop offset="0.5947" stop-color="#b0bec6"/><stop offset="0.5994" stop-color="#a8bac4"/><stop offset="0.6041" stop-color="#a0b6c1"/><stop offset="0.6087" stop-color="#99b3c0"/><stop offset="0.6134" stop-color="#96b1bf"/><stop offset="0.6181" stop-color="#94b0be"/><stop offset="0.6228" stop-color="#94b0be"/><stop offset="0.6275" stop-color="#96b1bf"/><stop offset="0.6322" stop-color="#9ab3c0"/><stop offset="0.6369" stop-color="#a0b6c2"/><stop offset="0.6416" stop-color="#a9bbc4"/><stop offset="0.6462" stop-color="#b0bec6"/><stop offset="0.6509" stop-color="#b7c1c7"/><stop offset="0.6556" stop-color="#bfc5c8"/><stop offset="0.6603" stop-color="#c7c9ca"/><stop offset="0.6650" stop-color="#cbc7c4"/><stop offset="0.6697" stop-color="#cdc0b8"/><stop offset="0.6744" stop-color="#ceb9ac"/><stop offset="0.6791" stop-color="#cfb2a1"/><stop offset="0.6837" stop-color="#ceaa96"/><stop offset="0.6884" stop-color="#cda490"/><stop offset="0.6931" stop-color="#cca28c"/><stop offset="0.6978" stop-color="#cca18c"/><stop offset="0.7025" stop-color="#cda28d"/><stop offset="0.7072" stop-color="#cda691"/><stop offset="0.7119" stop-color="#ceab98"/><stop offset="0.7166" stop-color="#cfb1a0"/><stop offset="0.7212" stop-color="#cfb6a8"/><stop offset="0.7259" stop-color="#cebbaf"/><stop offset="0.7306" stop-color="#cdbfb7"/><stop offset="0.7353" stop-color="#ccc4c0"/><stop offset="0.7400" stop-color="#cbcac9"/><stop offset="0.7447" stop-color="#c4c8c9"/><stop offset="0.7494" stop-color="#bcc4c8"/><stop offset="0.7541" stop-color="#b4c0c6"/><stop offset="0.7587" stop-color="#acbcc5"/><stop offset="0.7634" stop-color="#a0b6c2"/><stop offset="0.7681" stop-color="#96b1bf"/><stop offset="0.7728" stop-color="#90aebd"/><stop offset="0.7775" stop-color="#8cacbc"/><stop offset="0.7822" stop-color="#8aabbb"/><stop offset="0.7869" stop-color="#8babbb"/><stop offset="0.7916" stop-color="#8eadbc"/><stop offset="0.7962" stop-color="#93afbe"/><stop offset="0.8009" stop-color="#9bb4c0"/><stop offset="0.8056" stop-color="#a6b9c3"/><stop offset="0.8103" stop-color="#afbec6"/><stop offset="0.8150" stop-color="#b7c1c7"/><stop offset="0.8197" stop-color="#c0c6c9"/><stop offset="0.8244" stop-color="#cacaca"/><stop offset="0.8291" stop-color="#ccc3be"/><stop offset="0.8337" stop-color="#cebbb0"/><stop offset="0.8384" stop-color="#cfb3a2"/><stop offset="0.8431" stop-color="#cda692"/><stop offset="0.8478" stop-color="#cc9d86"/><stop offset="0.8525" stop-color="#cb977f"/><stop offset="0.8572" stop-color="#ca957c"/><stop offset="0.8619" stop-color="#ca957d"/><stop offset="0.8666" stop-color="#cb9880"/><stop offset="0.8712" stop-color="#cc9d86"/><stop offset="0.8759" stop-color="#cda48f"/><stop offset="0.8806" stop-color="#cead9b"/><stop offset="0.8853" stop-color="#cfb6a7"/><stop offset="0.8900" stop-color="#cebcb1"/><stop offset="0.8947" stop-color="#ccc2bb"/><stop offset="0.8994" stop-color="#cbc8c6"/><stop offset="0.9041" stop-color="#c6c8ca"/><stop offset="0.9087" stop-color="#bdc4c8"/><stop offset="0.9134" stop-color="#b5c0c7"/><stop offset="0.9181" stop-color="#adbdc5"/><stop offset="0.9228" stop-color="#a2b7c2"/><stop offset="0.9275" stop-color="#98b2bf"/><stop offset="0.9322" stop-color="#91aebd"/><stop offset="0.9369" stop-color="#8cacbc"/><stop offset="0.9416" stop-color="#8aabbb"/><stop offset="0.9462" stop-color="#89aabb"/><stop offset="0.9509" stop-color="#88aabb"/><stop offset="0.9556" stop-color="#88aabb"/><stop offset="0.9603" stop-color="#88aabb"/></linearGradient><linearGradient id="R6" gradientUnits="userSpaceOnUse" x1="433.5" y1="0" x2="753.5" y2="0"><stop offset="0.0003" stop-color="#cfb6a7"/><stop offset="0.0050" stop-color="#cfb6a7"/><stop offset="0.0097" stop-color="#cfb6a8"/><stop offset="0.0144" stop-color="#cfb7a9"/><stop offset="0.0191" stop-color="#ceb8ac"/><stop offset="0.0237" stop-color="#cebbb0"/><stop offset="0.0284" stop-color="#cdbeb6"/><stop offset="0.0331" stop-color="#ccc3bd"/><stop offset="0.0378" stop-color="#cbc7c5"/><stop offset="0.0425" stop-color="#c9caca"/><stop offset="0.0472" stop-color="#c4c7c9"/><stop offset="0.0519" stop-color="#bfc5c8"/><stop offset="0.0565" stop-color="#bac3c7"/><stop offset="0.0612" stop-color="#b5c1c7"/><stop offset="0.0659" stop-color="#b1bec6"/><stop offset="0.0706" stop-color="#adbdc5"/><stop offset="0.0753" stop-color="#a8bac4"/><stop offset="0.0800" stop-color="#a3b8c2"/><stop offset="0.0847" stop-color="#a0b6c1"/><stop offset="0.0893" stop-color="#9eb5c1"/><stop offset="0.0940" stop-color="#9db4c1"/><stop offset="0.0987" stop-color="#9cb4c1"/><stop offset="0.1034" stop-color="#9db4c1"/><stop offset="0.1081" stop-color="#9db5c1"/><stop offset="0.1128" stop-color="#9fb5c1"/><stop offset="0.1175" stop-color="#a1b7c2"/><stop offset="0.1221" stop-color="#a5b9c3"/><stop offset="0.1268" stop-color="#abbbc5"/><stop offset="0.1315" stop-color="#afbdc5"/><stop offset="0.1362" stop-color="#b3bfc6"/><stop offset="0.1409" stop-color="#b7c1c7"/><stop offset="0.1456" stop-color="#bcc4c8"/><stop offset="0.1503" stop-color="#c1c6c9"/><stop offset="0.1550" stop-color="#c5c8ca"/><stop offset="0.1596" stop-color="#cbcbcb"/><stop offset="0.1643" stop-color="#cbc6c4"/><stop offset="0.1690" stop-color="#ccc2bc"/><stop offset="0.1737" stop-color="#cdbeb5"/><stop offset="0.1784" stop-color="#ceb9ad"/><stop offset="0.1831" stop-color="#cfb5a5"/><stop offset="0.1878" stop-color="#ceae9c"/><stop offset="0.1924" stop-color="#cda793"/><stop offset="0.1971" stop-color="#cca28c"/><stop offset="0.2018" stop-color="#cc9f88"/><stop offset="0.2065" stop-color="#cc9d87"/><stop offset="0.2112" stop-color="#cc9e87"/><stop offset="0.2159" stop-color="#cca08a"/><stop offset="0.2206" stop-color="#cda48f"/><stop offset="0.2252" stop-color="#ceaa97"/><stop offset="0.2299" stop-color="#cfb1a0"/><stop offset="0.2346" stop-color="#cfb7a8"/><stop offset="0.2393" stop-color="#cebbb1"/><stop offset="0.2440" stop-color="#cdc0b9"/><stop offset="0.2487" stop-color="#ccc6c3"/><stop offset="0.2534" stop-color="#c8c9ca"/><stop offset="0.2580" stop-color="#bec5c8"/><stop offset="0.2627" stop-color="#b3bfc6"/><stop offset="0.2674" stop-color="#a6b9c3"/><stop offset="0.2721" stop-color="#95b1be"/><stop offset="0.2768" stop-color="#88aabb"/><stop offset="0.2815" stop-color="#7ea5b8"/><stop offset="0.2862" stop-color="#79a2b6"/><stop offset="0.2908" stop-color="#78a2b6"/><stop offset="0.2955" stop-color="#7ba3b7"/><stop offset="0.3002" stop-color="#81a6b9"/><stop offset="0.3049" stop-color="#8bacbc"/><stop offset="0.3096" stop-color="#99b2bf"/><stop offset="0.3143" stop-color="#a8bac4"/><stop offset="0.3190" stop-color="#b3bfc6"/><stop offset="0.3236" stop-color="#bec4c8"/><stop offset="0.3283" stop-color="#c8c9ca"/><stop offset="0.3330" stop-color="#ccc5c0"/><stop offset="0.3377" stop-color="#cdbdb3"/><stop offset="0.3424" stop-color="#cfb6a8"/><stop offset="0.3471" stop-color="#cfaf9d"/><stop offset="0.3518" stop-color="#cda894"/><stop offset="0.3565" stop-color="#cda48f"/><stop offset="0.3611" stop-color="#cda48f"/><stop offset="0.3658" stop-color="#cda793"/><stop offset="0.3705" stop-color="#ceac9a"/><stop offset="0.3752" stop-color="#cfb4a4"/><stop offset="0.3799" stop-color="#ceb9ac"/><stop offset="0.3846" stop-color="#cdbeb5"/><stop offset="0.3893" stop-color="#ccc3be"/><stop offset="0.3939" stop-color="#cbc9c7"/><stop offset="0.3986" stop-color="#c6c8ca"/><stop offset="0.4033" stop-color="#bfc5c8"/><stop offset="0.4080" stop-color="#b8c2c7"/><stop offset="0.4127" stop-color="#b1bec6"/><stop offset="0.4174" stop-color="#a9bbc4"/><stop offset="0.4221" stop-color="#9fb5c1"/><stop offset="0.4267" stop-color="#96b1bf"/><stop offset="0.4314" stop-color="#90aebd"/><stop offset="0.4361" stop-color="#8cacbc"/><stop offset="0.4408" stop-color="#8aabbb"/><stop offset="0.4455" stop-color="#89aabb"/><stop offset="0.4502" stop-color="#8aabbb"/><stop offset="0.4549" stop-color="#8eadbc"/><stop offset="0.4595" stop-color="#94b0be"/><stop offset="0.4642" stop-color="#9db5c1"/><stop offset="0.4689" stop-color="#aabbc4"/><stop offset="0.4736" stop-color="#b3bfc6"/><stop offset="0.4783" stop-color="#bdc4c8"/><stop offset="0.4830" stop-color="#c7c9ca"/><stop offset="0.4877" stop-color="#cbc6c3"/><stop offset="0.4923" stop-color="#cdbfb7"/><stop offset="0.4970" stop-color="#ceb8ab"/><stop offset="0.5017" stop-color="#cfb1a0"/><stop offset="0.5064" stop-color="#cea895"/><stop offset="0.5111" stop-color="#cda28d"/><stop offset="0.5158" stop-color="#cc9f88"/><stop offset="0.5205" stop-color="#cc9e87"/><stop offset="0.5251" stop-color="#cc9f89"/><stop offset="0.5298" stop-color="#cda38d"/><stop offset="0.5345" stop-color="#cea894"/><stop offset="0.5392" stop-color="#cfaf9e"/><stop offset="0.5439" stop-color="#cfb6a7"/><stop offset="0.5486" stop-color="#cebaaf"/><stop offset="0.5533" stop-color="#cdbfb7"/><stop offset="0.5580" stop-color="#ccc4c0"/><stop offset="0.5626" stop-color="#cbc9c9"/><stop offset="0.5673" stop-color="#c5c8ca"/><stop offset="0.5720" stop-color="#bec5c8"/><stop offset="0.5767" stop-color="#b7c1c7"/><stop offset="0.5814" stop-color="#b0bec6"/><stop offset="0.5861" stop-color="#a9bac4"/><stop offset="0.5908" stop-color="#a0b6c2"/><stop offset="0.5954" stop-color="#9ab3c0"/><stop offset="0.6001" stop-color="#96b1bf"/><stop offset="0.6048" stop-color="#94b0be"/><stop offset="0.6095" stop-color="#94b0be"/><stop offset="0.6142" stop-color="#96b1bf"/><stop offset="0.6189" stop-color="#9bb3c0"/><stop offset="0.6236" stop-color="#a2b7c2"/><stop offset="0.6282" stop-color="#abbcc5"/><stop offset="0.6329" stop-color="#b2bfc6"/><stop offset="0.6376" stop-color="#b9c2c7"/><stop offset="0.6423" stop-color="#c1c6c9"/><stop offset="0.6470" stop-color="#cacaca"/><stop offset="0.6517" stop-color="#ccc5c1"/><stop offset="0.6564" stop-color="#cdbeb6"/><stop offset="0.6610" stop-color="#ceb8ab"/><stop offset="0.6657" stop-color="#cfb2a1"/><stop offset="0.6704" stop-color="#ceaa97"/><stop offset="0.6751" stop-color="#cda590"/><stop offset="0.6798" stop-color="#cda28d"/><stop offset="0.6845" stop-color="#cda28d"/><stop offset="0.6892" stop-color="#cda48f"/><stop offset="0.6938" stop-color="#cda894"/><stop offset="0.6985" stop-color="#ceae9b"/><stop offset="0.7032" stop-color="#cfb4a4"/><stop offset="0.7079" stop-color="#ceb8ab"/><stop offset="0.7126" stop-color="#cdbdb3"/><stop offset="0.7173" stop-color="#ccc2bb"/><stop offset="0.7220" stop-color="#cbc7c4"/><stop offset="0.7266" stop-color="#c8caca"/><stop offset="0.7313" stop-color="#c1c6c9"/><stop offset="0.7360" stop-color="#b8c2c7"/><stop offset="0.7407" stop-color="#b0bec6"/><stop offset="0.7454" stop-color="#a7b9c3"/><stop offset="0.7501" stop-color="#9cb4c0"/><stop offset="0.7548" stop-color="#93afbe"/><stop offset="0.7594" stop-color="#8dadbc"/><stop offset="0.7641" stop-color="#8aabbb"/><stop offset="0.7688" stop-color="#89aabb"/><stop offset="0.7735" stop-color="#8aabbb"/><stop offset="0.7782" stop-color="#8cacbc"/><stop offset="0.7829" stop-color="#90aebd"/><stop offset="0.7876" stop-color="#97b1bf"/><stop offset="0.7923" stop-color="#a0b6c1"/><stop offset="0.7969" stop-color="#aabbc5"/><stop offset="0.8016" stop-color="#b2bfc6"/><stop offset="0.8063" stop-color="#b9c2c7"/><stop offset="0.8110" stop-color="#c1c6c9"/><stop offset="0.8157" stop-color="#cacaca"/><stop offset="0.8204" stop-color="#ccc5c0"/><stop offset="0.8251" stop-color="#cdbeb5"/><stop offset="0.8297" stop-color="#cfb7aa"/><stop offset="0.8344" stop-color="#cfb09e"/><stop offset="0.8391" stop-color="#cda793"/><stop offset="0.8438" stop-color="#cca18c"/><stop offset="0.8485" stop-color="#cc9e88"/><stop offset="0.8532" stop-color="#cc9e87"/><stop offset="0.8579" stop-color="#cca08a"/><stop offset="0.8625" stop-color="#cda48f"/><stop offset="0.8672" stop-color="#ceaa96"/><stop offset="0.8719" stop-color="#cfb1a0"/><stop offset="0.8766" stop-color="#cfb7a9"/><stop offset="0.8813" stop-color="#cebcb1"/><stop offset="0.8860" stop-color="#cdc1ba"/><stop offset="0.8907" stop-color="#cbc6c3"/><stop offset="0.8953" stop-color="#c9caca"/><stop offset="0.9000" stop-color="#c1c6c9"/><stop offset="0.9047" stop-color="#b9c2c7"/><stop offset="0.9094" stop-color="#b1bfc6"/><stop offset="0.9141" stop-color="#a8bac4"/><stop offset="0.9188" stop-color="#9db4c1"/><stop offset="0.9235" stop-color="#94b0be"/><stop offset="0.9281" stop-color="#8eadbc"/><stop offset="0.9328" stop-color="#8babbb"/><stop offset="0.9375" stop-color="#89aabb"/><stop offset="0.9422" stop-color="#89aabb"/><stop offset="0.9469" stop-color="#8babbc"/><stop offset="0.9516" stop-color="#8eadbd"/><stop offset="0.9563" stop-color="#94b0be"/><stop offset="0.9609" stop-color="#9cb4c0"/><stop offset="0.9656" stop-color="#a5b9c3"/><stop offset="0.9703" stop-color="#aebdc5"/><stop offset="0.9750" stop-color="#b5c0c7"/><stop offset="0.9797" stop-color="#bbc3c8"/><stop offset="0.9844" stop-color="#c2c6c9"/><stop offset="0.9891" stop-color="#c8c9ca"/><stop offset="0.9938" stop-color="#cbc9c7"/><stop offset="0.9984" stop-color="#ccc6c2"/></linearGradient><linearGradient id="R7" gradientUnits="userSpaceOnUse" x1="433.5" y1="0" x2="753.5" y2="0"><stop offset="0.0094" stop-color="#ceaa97"/><stop offset="0.0141" stop-color="#ceaa97"/><stop offset="0.0187" stop-color="#ceac99"/><stop offset="0.0234" stop-color="#cfaf9d"/><stop offset="0.0281" stop-color="#cfb4a3"/><stop offset="0.0328" stop-color="#cfb7aa"/><stop offset="0.0375" stop-color="#cebcb2"/><stop offset="0.0422" stop-color="#ccc1bb"/><stop offset="0.0469" stop-color="#cbc7c4"/><stop offset="0.0516" stop-color="#c9caca"/><stop offset="0.0563" stop-color="#c3c7c9"/><stop offset="0.0609" stop-color="#bdc4c8"/><stop offset="0.0656" stop-color="#b8c2c7"/><stop offset="0.0703" stop-color="#b3bfc6"/><stop offset="0.0750" stop-color="#aebdc5"/><stop offset="0.0797" stop-color="#a9bbc4"/><stop offset="0.0844" stop-color="#a3b7c2"/><stop offset="0.0891" stop-color="#9eb5c1"/><stop offset="0.0938" stop-color="#9bb3c0"/><stop offset="0.0984" stop-color="#99b3c0"/><stop offset="0.1031" stop-color="#99b2bf"/><stop offset="0.1078" stop-color="#98b2bf"/><stop offset="0.1125" stop-color="#99b2c0"/><stop offset="0.1172" stop-color="#9ab3c0"/><stop offset="0.1219" stop-color="#9db4c1"/><stop offset="0.1266" stop-color="#a1b7c2"/><stop offset="0.1313" stop-color="#a8bac4"/><stop offset="0.1359" stop-color="#aebdc5"/><stop offset="0.1406" stop-color="#b4c0c6"/><stop offset="0.1453" stop-color="#bac3c8"/><stop offset="0.1500" stop-color="#c1c6c9"/><stop offset="0.1547" stop-color="#c7c9ca"/><stop offset="0.1594" stop-color="#cbc8c5"/><stop offset="0.1641" stop-color="#ccc2bc"/><stop offset="0.1688" stop-color="#cebcb2"/><stop offset="0.1734" stop-color="#cfb6a8"/><stop offset="0.1781" stop-color="#cfae9d"/><stop offset="0.1828" stop-color="#cda590"/><stop offset="0.1875" stop-color="#cc9d87"/><stop offset="0.1922" stop-color="#cb9880"/><stop offset="0.1969" stop-color="#ca957d"/><stop offset="0.2016" stop-color="#ca957c"/><stop offset="0.2062" stop-color="#ca957d"/><stop offset="0.2109" stop-color="#cb9880"/><stop offset="0.2156" stop-color="#cc9d87"/><stop offset="0.2203" stop-color="#cda591"/><stop offset="0.2250" stop-color="#cfae9d"/><stop offset="0.2297" stop-color="#cfb6a8"/><stop offset="0.2344" stop-color="#cebcb2"/><stop offset="0.2391" stop-color="#ccc3bd"/><stop offset="0.2437" stop-color="#cbc9c8"/><stop offset="0.2484" stop-color="#c3c7c9"/><stop offset="0.2531" stop-color="#bac3c7"/><stop offset="0.2578" stop-color="#b0bec6"/><stop offset="0.2625" stop-color="#a5b9c3"/><stop offset="0.2672" stop-color="#99b2bf"/><stop offset="0.2719" stop-color="#8fadbd"/><stop offset="0.2766" stop-color="#89aabb"/><stop offset="0.2812" stop-color="#86a9ba"/><stop offset="0.2859" stop-color="#87a9ba"/><stop offset="0.2906" stop-color="#8babbb"/><stop offset="0.2953" stop-color="#92afbe"/><stop offset="0.3000" stop-color="#9db4c1"/><stop offset="0.3047" stop-color="#aabbc4"/><stop offset="0.3094" stop-color="#b3c0c6"/><stop offset="0.3141" stop-color="#bdc4c8"/><stop offset="0.3187" stop-color="#c6c8ca"/><stop offset="0.3234" stop-color="#cbc8c6"/><stop offset="0.3281" stop-color="#ccc2bb"/><stop offset="0.3328" stop-color="#cebcb2"/><stop offset="0.3375" stop-color="#cfb7a9"/><stop offset="0.3422" stop-color="#cfb1a0"/><stop offset="0.3469" stop-color="#ceaa97"/><stop offset="0.3516" stop-color="#cda591"/><stop offset="0.3563" stop-color="#cda38e"/><stop offset="0.3609" stop-color="#cda38f"/><stop offset="0.3656" stop-color="#cda692"/><stop offset="0.3703" stop-color="#ceac99"/><stop offset="0.3750" stop-color="#cfb4a3"/><stop offset="0.3797" stop-color="#ceb8ac"/><stop offset="0.3844" stop-color="#cdbeb5"/><stop offset="0.3891" stop-color="#ccc4bf"/><stop offset="0.3937" stop-color="#cbcac9"/><stop offset="0.3984" stop-color="#c3c7c9"/><stop offset="0.4031" stop-color="#bac3c8"/><stop offset="0.4078" stop-color="#b2bfc6"/><stop offset="0.4125" stop-color="#abbbc5"/><stop offset="0.4172" stop-color="#a2b7c2"/><stop offset="0.4219" stop-color="#9db4c1"/><stop offset="0.4266" stop-color="#9ab3c0"/><stop offset="0.4313" stop-color="#99b2c0"/><stop offset="0.4359" stop-color="#99b2c0"/><stop offset="0.4406" stop-color="#9ab3c0"/><stop offset="0.4453" stop-color="#9cb4c0"/><stop offset="0.4500" stop-color="#a0b6c2"/><stop offset="0.4547" stop-color="#a6b9c3"/><stop offset="0.4594" stop-color="#acbcc5"/><stop offset="0.4641" stop-color="#b1bfc6"/><stop offset="0.4688" stop-color="#b7c1c7"/><stop offset="0.4734" stop-color="#bdc4c8"/><stop offset="0.4781" stop-color="#c3c7c9"/><stop offset="0.4828" stop-color="#cacaca"/><stop offset="0.4875" stop-color="#ccc5c1"/><stop offset="0.4922" stop-color="#cdbeb6"/><stop offset="0.4969" stop-color="#cfb8aa"/><stop offset="0.5016" stop-color="#cfb09f"/><stop offset="0.5062" stop-color="#cda793"/><stop offset="0.5109" stop-color="#cca18b"/><stop offset="0.5156" stop-color="#cc9e87"/><stop offset="0.5203" stop-color="#cc9d86"/><stop offset="0.5250" stop-color="#cc9e88"/><stop offset="0.5297" stop-color="#cca18b"/><stop offset="0.5344" stop-color="#cda692"/><stop offset="0.5391" stop-color="#cead9b"/><stop offset="0.5437" stop-color="#cfb5a5"/><stop offset="0.5484" stop-color="#ceb9ad"/><stop offset="0.5531" stop-color="#cdbfb6"/><stop offset="0.5578" stop-color="#ccc4c0"/><stop offset="0.5625" stop-color="#cbcaca"/><stop offset="0.5672" stop-color="#c3c7c9"/><stop offset="0.5719" stop-color="#bac3c8"/><stop offset="0.5766" stop-color="#b2bfc6"/><stop offset="0.5813" stop-color="#aabbc4"/><stop offset="0.5859" stop-color="#a0b6c2"/><stop offset="0.5906" stop-color="#99b3c0"/><stop offset="0.5953" stop-color="#95b1be"/><stop offset="0.6000" stop-color="#94b0be"/><stop offset="0.6047" stop-color="#95b0be"/><stop offset="0.6094" stop-color="#98b2bf"/><stop offset="0.6141" stop-color="#9db5c1"/><stop offset="0.6188" stop-color="#a5b9c3"/><stop offset="0.6234" stop-color="#aebdc5"/><stop offset="0.6281" stop-color="#b5c0c6"/><stop offset="0.6328" stop-color="#bcc4c8"/><stop offset="0.6375" stop-color="#c4c8c9"/><stop offset="0.6422" stop-color="#cbc9c7"/><stop offset="0.6469" stop-color="#ccc2bc"/><stop offset="0.6516" stop-color="#cebbb0"/><stop offset="0.6562" stop-color="#cfb5a6"/><stop offset="0.6609" stop-color="#cead9a"/><stop offset="0.6656" stop-color="#cda692"/><stop offset="0.6703" stop-color="#cda28d"/><stop offset="0.6750" stop-color="#cca18c"/><stop offset="0.6797" stop-color="#cca28c"/><stop offset="0.6844" stop-color="#cda490"/><stop offset="0.6891" stop-color="#cea996"/><stop offset="0.6937" stop-color="#cfb09e"/><stop offset="0.6984" stop-color="#cfb6a7"/><stop offset="0.7031" stop-color="#cebbb0"/><stop offset="0.7078" stop-color="#cdc1b9"/><stop offset="0.7125" stop-color="#cbc7c4"/><stop offset="0.7172" stop-color="#c7c9ca"/><stop offset="0.7219" stop-color="#bdc4c8"/><stop offset="0.7266" stop-color="#b3bfc6"/><stop offset="0.7312" stop-color="#a9bbc4"/><stop offset="0.7359" stop-color="#9db5c1"/><stop offset="0.7406" stop-color="#96b1bf"/><stop offset="0.7453" stop-color="#92afbd"/><stop offset="0.7500" stop-color="#90aebd"/><stop offset="0.7547" stop-color="#92afbd"/><stop offset="0.7594" stop-color="#95b1bf"/><stop offset="0.7641" stop-color="#9cb4c0"/><stop offset="0.7688" stop-color="#a4b8c3"/><stop offset="0.7734" stop-color="#adbdc5"/><stop offset="0.7781" stop-color="#b4c0c6"/><stop offset="0.7828" stop-color="#bcc4c8"/><stop offset="0.7875" stop-color="#c4c7c9"/><stop offset="0.7922" stop-color="#cbc9c9"/><stop offset="0.7969" stop-color="#ccc3be"/><stop offset="0.8016" stop-color="#cdbdb3"/><stop offset="0.8063" stop-color="#cfb7a9"/><stop offset="0.8109" stop-color="#cfaf9e"/><stop offset="0.8156" stop-color="#cda793"/><stop offset="0.8203" stop-color="#cca18c"/><stop offset="0.8250" stop-color="#cc9e88"/><stop offset="0.8297" stop-color="#cc9d86"/><stop offset="0.8344" stop-color="#cc9d87"/><stop offset="0.8391" stop-color="#cca08a"/><stop offset="0.8438" stop-color="#cda48f"/><stop offset="0.8484" stop-color="#ceaa97"/><stop offset="0.8531" stop-color="#cfb1a0"/><stop offset="0.8578" stop-color="#cfb7a9"/><stop offset="0.8625" stop-color="#cebcb1"/><stop offset="0.8672" stop-color="#cdc1ba"/><stop offset="0.8719" stop-color="#cbc6c3"/><stop offset="0.8766" stop-color="#c9caca"/><stop offset="0.8812" stop-color="#c1c6c9"/><stop offset="0.8859" stop-color="#bac3c7"/><stop offset="0.8906" stop-color="#b3bfc6"/><stop offset="0.8953" stop-color="#adbcc5"/><stop offset="0.9000" stop-color="#a7b9c3"/><stop offset="0.9047" stop-color="#a2b7c2"/><stop offset="0.9094" stop-color="#a0b6c1"/><stop offset="0.9141" stop-color="#9fb5c1"/><stop offset="0.9187" stop-color="#9fb5c1"/><stop offset="0.9234" stop-color="#9fb5c1"/><stop offset="0.9281" stop-color="#9fb6c1"/><stop offset="0.9328" stop-color="#a1b6c2"/><stop offset="0.9375" stop-color="#a3b8c2"/><stop offset="0.9422" stop-color="#a7bac4"/><stop offset="0.9469" stop-color="#acbcc5"/><stop offset="0.9516" stop-color="#b0bec6"/><stop offset="0.9563" stop-color="#b4c0c6"/><stop offset="0.9609" stop-color="#b9c2c7"/><stop offset="0.9656" stop-color="#bdc4c8"/><stop offset="0.9703" stop-color="#c1c6c9"/><stop offset="0.9750" stop-color="#c5c8ca"/><stop offset="0.9797" stop-color="#c9caca"/><stop offset="0.9844" stop-color="#cbcac9"/><stop offset="0.9891" stop-color="#cbc8c6"/><stop offset="0.9938" stop-color="#cbc6c3"/><stop offset="0.9984" stop-color="#ccc5c2"/></linearGradient><linearGradient id="R8" gradientUnits="userSpaceOnUse" x1="433.5" y1="0" x2="753.5" y2="0"><stop offset="0.0053" stop-color="#cca18b"/><stop offset="0.0100" stop-color="#cda38e"/><stop offset="0.0147" stop-color="#cda894"/><stop offset="0.0194" stop-color="#cfae9d"/><stop offset="0.0241" stop-color="#cfb6a7"/><stop offset="0.0287" stop-color="#cebbb1"/><stop offset="0.0334" stop-color="#cdc1bb"/><stop offset="0.0381" stop-color="#cbc7c4"/><stop offset="0.0428" stop-color="#c8caca"/><stop offset="0.0475" stop-color="#c2c7c9"/><stop offset="0.0522" stop-color="#bcc4c8"/><stop offset="0.0568" stop-color="#b7c1c7"/><stop offset="0.0615" stop-color="#b2bfc6"/><stop offset="0.0662" stop-color="#adbcc5"/><stop offset="0.0709" stop-color="#a5b9c3"/><stop offset="0.0756" stop-color="#9eb5c1"/><stop offset="0.0803" stop-color="#98b2bf"/><stop offset="0.0849" stop-color="#94b0be"/><stop offset="0.0896" stop-color="#91aebd"/><stop offset="0.0943" stop-color="#8fadbd"/><stop offset="0.0990" stop-color="#8fadbd"/><stop offset="0.1037" stop-color="#8fadbd"/><stop offset="0.1084" stop-color="#90aebd"/><stop offset="0.1131" stop-color="#93afbe"/><stop offset="0.1177" stop-color="#98b2bf"/><stop offset="0.1224" stop-color="#9fb5c1"/><stop offset="0.1271" stop-color="#a8bac4"/><stop offset="0.1318" stop-color="#afbec5"/><stop offset="0.1365" stop-color="#b6c1c7"/><stop offset="0.1412" stop-color="#bcc4c8"/><stop offset="0.1458" stop-color="#c4c7c9"/><stop offset="0.1505" stop-color="#cbcac9"/><stop offset="0.1552" stop-color="#ccc3be"/><stop offset="0.1599" stop-color="#cdbdb3"/><stop offset="0.1646" stop-color="#cfb6a8"/><stop offset="0.1693" stop-color="#cead9b"/><stop offset="0.1740" stop-color="#cda48f"/><stop offset="0.1786" stop-color="#cc9e87"/><stop offset="0.1833" stop-color="#cb9a83"/><stop offset="0.1880" stop-color="#cb9981"/><stop offset="0.1927" stop-color="#cb9982"/><stop offset="0.1974" stop-color="#cb9c85"/><stop offset="0.2021" stop-color="#cca08b"/><stop offset="0.2067" stop-color="#cda793"/><stop offset="0.2114" stop-color="#cfb09e"/><stop offset="0.2161" stop-color="#cfb7a9"/><stop offset="0.2208" stop-color="#cebcb2"/><stop offset="0.2255" stop-color="#ccc2bb"/><stop offset="0.2302" stop-color="#cbc7c4"/><stop offset="0.2349" stop-color="#c9caca"/><stop offset="0.2395" stop-color="#c2c6c9"/><stop offset="0.2442" stop-color="#bbc3c8"/><stop offset="0.2489" stop-color="#b5c0c7"/><stop offset="0.2536" stop-color="#afbdc5"/><stop offset="0.2583" stop-color="#a9bac4"/><stop offset="0.2630" stop-color="#a1b7c2"/><stop offset="0.2676" stop-color="#9cb4c0"/><stop offset="0.2723" stop-color="#99b3c0"/><stop offset="0.2770" stop-color="#98b2bf"/><stop offset="0.2817" stop-color="#9ab3c0"/><stop offset="0.2864" stop-color="#9eb5c1"/><stop offset="0.2911" stop-color="#a4b8c3"/><stop offset="0.2958" stop-color="#acbcc5"/><stop offset="0.3004" stop-color="#b2bfc6"/><stop offset="0.3051" stop-color="#b9c2c7"/><stop offset="0.3098" stop-color="#bfc5c8"/><stop offset="0.3145" stop-color="#c6c8ca"/><stop offset="0.3192" stop-color="#cbc9c8"/><stop offset="0.3239" stop-color="#ccc4c0"/><stop offset="0.3285" stop-color="#cdc0b8"/><stop offset="0.3332" stop-color="#cebcb2"/><stop offset="0.3379" stop-color="#ceb9ac"/><stop offset="0.3426" stop-color="#cfb6a8"/><stop offset="0.3473" stop-color="#cfb5a6"/><stop offset="0.3520" stop-color="#cfb5a5"/><stop offset="0.3567" stop-color="#cfb6a6"/><stop offset="0.3613" stop-color="#cfb7aa"/><stop offset="0.3660" stop-color="#cebaae"/><stop offset="0.3707" stop-color="#cdbdb4"/><stop offset="0.3754" stop-color="#cdc1bb"/><stop offset="0.3801" stop-color="#ccc6c2"/><stop offset="0.3848" stop-color="#cbcac9"/><stop offset="0.3894" stop-color="#c5c8ca"/><stop offset="0.3941" stop-color="#bfc5c8"/><stop offset="0.3988" stop-color="#b9c2c7"/><stop offset="0.4035" stop-color="#b3bfc6"/><stop offset="0.4082" stop-color="#aebdc5"/><stop offset="0.4129" stop-color="#a8bac4"/><stop offset="0.4176" stop-color="#a4b8c3"/><stop offset="0.4222" stop-color="#a1b7c2"/><stop offset="0.4269" stop-color="#a1b6c2"/><stop offset="0.4316" stop-color="#a2b7c2"/><stop offset="0.4363" stop-color="#a6b9c3"/><stop offset="0.4410" stop-color="#acbcc5"/><stop offset="0.4457" stop-color="#b0bec6"/><stop offset="0.4503" stop-color="#b5c1c7"/><stop offset="0.4550" stop-color="#bbc3c8"/><stop offset="0.4597" stop-color="#c1c6c9"/><stop offset="0.4644" stop-color="#c7c9ca"/><stop offset="0.4691" stop-color="#cbc9c7"/><stop offset="0.4738" stop-color="#ccc4c0"/><stop offset="0.4785" stop-color="#cdc0b8"/><stop offset="0.4831" stop-color="#cebbb0"/><stop offset="0.4878" stop-color="#cfb7a9"/><stop offset="0.4925" stop-color="#cfb4a4"/><stop offset="0.4972" stop-color="#cfaf9e"/><stop offset="0.5019" stop-color="#cead9b"/><stop offset="0.5066" stop-color="#cfae9c"/><stop offset="0.5112" stop-color="#cfb2a2"/><stop offset="0.5159" stop-color="#cfb7a9"/><stop offset="0.5206" stop-color="#cebcb2"/><stop offset="0.5253" stop-color="#ccc2bc"/><stop offset="0.5300" stop-color="#cbc8c6"/><stop offset="0.5347" stop-color="#c7c9ca"/><stop offset="0.5394" stop-color="#c0c6c9"/><stop offset="0.5440" stop-color="#bac3c8"/><stop offset="0.5487" stop-color="#b5c0c7"/><stop offset="0.5534" stop-color="#afbec6"/><stop offset="0.5581" stop-color="#aabbc4"/><stop offset="0.5628" stop-color="#a4b8c3"/><stop offset="0.5675" stop-color="#9eb5c1"/><stop offset="0.5721" stop-color="#9bb4c0"/><stop offset="0.5768" stop-color="#9ab3c0"/><stop offset="0.5815" stop-color="#9ab3c0"/><stop offset="0.5862" stop-color="#9bb3c0"/><stop offset="0.5909" stop-color="#9eb5c1"/><stop offset="0.5956" stop-color="#a3b8c2"/><stop offset="0.6003" stop-color="#aabbc4"/><stop offset="0.6049" stop-color="#b0bec6"/><stop offset="0.6096" stop-color="#b5c0c7"/><stop offset="0.6143" stop-color="#bbc3c8"/><stop offset="0.6190" stop-color="#c1c6c9"/><stop offset="0.6237" stop-color="#c8c9ca"/><stop offset="0.6284" stop-color="#cbc7c5"/><stop offset="0.6330" stop-color="#ccc2bc"/><stop offset="0.6377" stop-color="#cdbdb3"/><stop offset="0.6424" stop-color="#cfb8ab"/><stop offset="0.6471" stop-color="#cfb4a4"/><stop offset="0.6518" stop-color="#cfae9d"/><stop offset="0.6565" stop-color="#ceab98"/><stop offset="0.6611" stop-color="#ceaa97"/><stop offset="0.6658" stop-color="#ceab98"/><stop offset="0.6705" stop-color="#cead9b"/><stop offset="0.6752" stop-color="#cfb2a1"/><stop offset="0.6799" stop-color="#cfb6a7"/><stop offset="0.6846" stop-color="#cebaae"/><stop offset="0.6893" stop-color="#cdbfb6"/><stop offset="0.6939" stop-color="#ccc3be"/><stop offset="0.6986" stop-color="#cbc8c7"/><stop offset="0.7033" stop-color="#c6c8ca"/><stop offset="0.7080" stop-color="#bec5c8"/><stop offset="0.7127" stop-color="#b7c1c7"/><stop offset="0.7174" stop-color="#b0bec6"/><stop offset="0.7220" stop-color="#abbcc5"/><stop offset="0.7267" stop-color="#a5b8c3"/><stop offset="0.7314" stop-color="#a1b7c2"/><stop offset="0.7361" stop-color="#a0b6c2"/><stop offset="0.7408" stop-color="#a0b6c2"/><stop offset="0.7455" stop-color="#a3b7c2"/><stop offset="0.7502" stop-color="#a7b9c3"/><stop offset="0.7548" stop-color="#acbcc5"/><stop offset="0.7595" stop-color="#b0bec6"/><stop offset="0.7642" stop-color="#b5c0c7"/><stop offset="0.7689" stop-color="#bbc3c8"/><stop offset="0.7736" stop-color="#c0c6c9"/><stop offset="0.7783" stop-color="#c7c9ca"/><stop offset="0.7829" stop-color="#cbc8c7"/><stop offset="0.7876" stop-color="#ccc3be"/><stop offset="0.7923" stop-color="#cdbeb5"/><stop offset="0.7970" stop-color="#ceb9ac"/><stop offset="0.8017" stop-color="#cfb4a4"/><stop offset="0.8064" stop-color="#cfaf9d"/><stop offset="0.8111" stop-color="#ceab98"/><stop offset="0.8157" stop-color="#cea996"/><stop offset="0.8204" stop-color="#cea996"/><stop offset="0.8251" stop-color="#ceaa98"/><stop offset="0.8298" stop-color="#cead9b"/><stop offset="0.8345" stop-color="#cfb2a1"/><stop offset="0.8392" stop-color="#cfb6a7"/><stop offset="0.8438" stop-color="#ceb9ad"/><stop offset="0.8485" stop-color="#cdbdb4"/><stop offset="0.8532" stop-color="#cdc1bb"/><stop offset="0.8579" stop-color="#ccc6c2"/><stop offset="0.8626" stop-color="#cbcaca"/><stop offset="0.8673" stop-color="#c4c7c9"/><stop offset="0.8720" stop-color="#bdc4c8"/><stop offset="0.8766" stop-color="#b6c1c7"/><stop offset="0.8813" stop-color="#afbec6"/><stop offset="0.8860" stop-color="#a8bac4"/><stop offset="0.8907" stop-color="#a1b7c2"/><stop offset="0.8954" stop-color="#9cb4c1"/><stop offset="0.9001" stop-color="#9ab3c0"/><stop offset="0.9047" stop-color="#99b2c0"/><stop offset="0.9094" stop-color="#99b3c0"/><stop offset="0.9141" stop-color="#9bb4c0"/><stop offset="0.9188" stop-color="#9eb5c1"/><stop offset="0.9235" stop-color="#a3b8c2"/><stop offset="0.9282" stop-color="#aabbc4"/><stop offset="0.9329" stop-color="#afbdc5"/><stop offset="0.9375" stop-color="#b4c0c6"/><stop offset="0.9422" stop-color="#b9c2c7"/><stop offset="0.9469" stop-color="#bfc5c8"/><stop offset="0.9516" stop-color="#c5c8ca"/><stop offset="0.9563" stop-color="#cbc9c8"/><stop offset="0.9610" stop-color="#ccc4bf"/><stop offset="0.9656" stop-color="#cdbeb5"/><stop offset="0.9703" stop-color="#ceb9ac"/><stop offset="0.9750" stop-color="#cfb5a5"/><stop offset="0.9797" stop-color="#cfb09f"/><stop offset="0.9844" stop-color="#ceae9c"/><stop offset="0.9891" stop-color="#ceac9a"/><stop offset="0.9938" stop-color="#ceac99"/><stop offset="0.9984" stop-color="#ceac99"/></linearGradient><linearGradient id="R9" gradientUnits="userSpaceOnUse" x1="433.5" y1="0" x2="753.5" y2="0"><stop offset="0.0094" stop-color="#cda894"/><stop offset="0.0141" stop-color="#cea895"/><stop offset="0.0188" stop-color="#ceaa97"/><stop offset="0.0234" stop-color="#cead9a"/><stop offset="0.0281" stop-color="#cfb2a1"/><stop offset="0.0328" stop-color="#cfb7a8"/><stop offset="0.0375" stop-color="#cebcb1"/><stop offset="0.0422" stop-color="#cdc1bb"/><stop offset="0.0469" stop-color="#cbc7c4"/><stop offset="0.0516" stop-color="#c8c9ca"/><stop offset="0.0563" stop-color="#c1c6c9"/><stop offset="0.0610" stop-color="#bbc3c8"/><stop offset="0.0656" stop-color="#b4c0c6"/><stop offset="0.0703" stop-color="#afbdc5"/><stop offset="0.0750" stop-color="#a9bac4"/><stop offset="0.0797" stop-color="#a2b7c2"/><stop offset="0.0844" stop-color="#9db5c1"/><stop offset="0.0891" stop-color="#9ab3c0"/><stop offset="0.0938" stop-color="#99b2c0"/><stop offset="0.0985" stop-color="#98b2bf"/><stop offset="0.1032" stop-color="#99b2bf"/><stop offset="0.1078" stop-color="#99b3c0"/><stop offset="0.1125" stop-color="#9bb3c0"/><stop offset="0.1172" stop-color="#9eb5c1"/><stop offset="0.1219" stop-color="#a2b7c2"/><stop offset="0.1266" stop-color="#a8bac4"/><stop offset="0.1313" stop-color="#aebdc5"/><stop offset="0.1360" stop-color="#b3bfc6"/><stop offset="0.1407" stop-color="#b8c2c7"/><stop offset="0.1454" stop-color="#bdc4c8"/><stop offset="0.1500" stop-color="#c3c7c9"/><stop offset="0.1547" stop-color="#cacaca"/><stop offset="0.1594" stop-color="#ccc5c1"/><stop offset="0.1641" stop-color="#cdbfb6"/><stop offset="0.1688" stop-color="#ceb8ac"/><stop offset="0.1735" stop-color="#cfb2a1"/><stop offset="0.1782" stop-color="#ceaa97"/><stop offset="0.1829" stop-color="#cda590"/><stop offset="0.1876" stop-color="#cda28d"/><stop offset="0.1922" stop-color="#cda28d"/><stop offset="0.1969" stop-color="#cda590"/><stop offset="0.2016" stop-color="#cea996"/><stop offset="0.2063" stop-color="#cfaf9e"/><stop offset="0.2110" stop-color="#cfb5a6"/><stop offset="0.2157" stop-color="#cebaae"/><stop offset="0.2204" stop-color="#cdbeb6"/><stop offset="0.2251" stop-color="#ccc3be"/><stop offset="0.2298" stop-color="#cbc9c8"/><stop offset="0.2344" stop-color="#c5c8ca"/><stop offset="0.2391" stop-color="#bdc4c8"/><stop offset="0.2438" stop-color="#b5c0c7"/><stop offset="0.2485" stop-color="#afbdc5"/><stop offset="0.2532" stop-color="#a8bac4"/><stop offset="0.2579" stop-color="#a3b8c2"/><stop offset="0.2626" stop-color="#a1b7c2"/><stop offset="0.2673" stop-color="#a2b7c2"/><stop offset="0.2720" stop-color="#a5b8c3"/><stop offset="0.2766" stop-color="#aabbc4"/><stop offset="0.2813" stop-color="#aebdc5"/><stop offset="0.2860" stop-color="#b4c0c6"/><stop offset="0.2907" stop-color="#b9c2c7"/><stop offset="0.2954" stop-color="#bfc5c8"/><stop offset="0.3001" stop-color="#c5c8c9"/><stop offset="0.3048" stop-color="#cacacb"/><stop offset="0.3095" stop-color="#cbc6c3"/><stop offset="0.3142" stop-color="#ccc2bd"/><stop offset="0.3188" stop-color="#cdbfb6"/><stop offset="0.3235" stop-color="#cebcb1"/><stop offset="0.3282" stop-color="#ceb9ad"/><stop offset="0.3329" stop-color="#cfb8aa"/><stop offset="0.3376" stop-color="#cfb7aa"/><stop offset="0.3423" stop-color="#cfb8ab"/><stop offset="0.3470" stop-color="#ceb9ad"/><stop offset="0.3517" stop-color="#cebcb1"/><stop offset="0.3564" stop-color="#cdbfb7"/><stop offset="0.3610" stop-color="#ccc3be"/><stop offset="0.3657" stop-color="#cbc8c6"/><stop offset="0.3704" stop-color="#c7c9ca"/><stop offset="0.3751" stop-color="#c0c5c9"/><stop offset="0.3798" stop-color="#b8c2c7"/><stop offset="0.3845" stop-color="#b0bec6"/><stop offset="0.3892" stop-color="#a9bac4"/><stop offset="0.3939" stop-color="#a1b7c2"/><stop offset="0.3986" stop-color="#9cb4c1"/><stop offset="0.4033" stop-color="#9ab3c0"/><stop offset="0.4079" stop-color="#9ab3c0"/><stop offset="0.4126" stop-color="#9cb4c0"/><stop offset="0.4173" stop-color="#a0b6c2"/><stop offset="0.4220" stop-color="#a6b9c3"/><stop offset="0.4267" stop-color="#adbdc5"/><stop offset="0.4314" stop-color="#b3bfc6"/><stop offset="0.4361" stop-color="#b9c2c7"/><stop offset="0.4408" stop-color="#c0c6c9"/><stop offset="0.4455" stop-color="#c7c9ca"/><stop offset="0.4501" stop-color="#cbc8c6"/><stop offset="0.4548" stop-color="#ccc3bd"/><stop offset="0.4595" stop-color="#cdbdb4"/><stop offset="0.4642" stop-color="#ceb8ab"/><stop offset="0.4689" stop-color="#cfb3a2"/><stop offset="0.4736" stop-color="#ceaa97"/><stop offset="0.4783" stop-color="#cda48f"/><stop offset="0.4830" stop-color="#cc9f89"/><stop offset="0.4877" stop-color="#cc9c85"/><stop offset="0.4923" stop-color="#cb9b83"/><stop offset="0.4970" stop-color="#cb9a83"/><stop offset="0.5017" stop-color="#cc9c85"/><stop offset="0.5064" stop-color="#cca18b"/><stop offset="0.5111" stop-color="#ceab98"/><stop offset="0.5158" stop-color="#cfb6a8"/><stop offset="0.5205" stop-color="#cdbfb7"/><stop offset="0.5252" stop-color="#cbc9c7"/><stop offset="0.5299" stop-color="#c1c6c9"/><stop offset="0.5345" stop-color="#b7c1c7"/><stop offset="0.5392" stop-color="#aebdc5"/><stop offset="0.5439" stop-color="#a3b7c2"/><stop offset="0.5486" stop-color="#98b2bf"/><stop offset="0.5533" stop-color="#91aebd"/><stop offset="0.5580" stop-color="#8cacbc"/><stop offset="0.5627" stop-color="#8aabbb"/><stop offset="0.5674" stop-color="#89aabb"/><stop offset="0.5721" stop-color="#8aabbb"/><stop offset="0.5767" stop-color="#8dacbc"/><stop offset="0.5814" stop-color="#91afbd"/><stop offset="0.5861" stop-color="#98b2bf"/><stop offset="0.5908" stop-color="#a1b6c2"/><stop offset="0.5955" stop-color="#abbcc5"/><stop offset="0.6002" stop-color="#b2bfc6"/><stop offset="0.6049" stop-color="#b9c2c7"/><stop offset="0.6096" stop-color="#c0c5c9"/><stop offset="0.6143" stop-color="#c7c9ca"/><stop offset="0.6189" stop-color="#cbc8c6"/><stop offset="0.6236" stop-color="#ccc3bd"/><stop offset="0.6283" stop-color="#cdbeb5"/><stop offset="0.6330" stop-color="#ceb9ad"/><stop offset="0.6377" stop-color="#cfb5a6"/><stop offset="0.6424" stop-color="#cfb2a1"/><stop offset="0.6471" stop-color="#cfaf9d"/><stop offset="0.6518" stop-color="#cead9b"/><stop offset="0.6565" stop-color="#cead9a"/><stop offset="0.6611" stop-color="#ceae9c"/><stop offset="0.6658" stop-color="#cfb09e"/><stop offset="0.6705" stop-color="#cfb3a3"/><stop offset="0.6752" stop-color="#cfb6a8"/><stop offset="0.6799" stop-color="#cebaae"/><stop offset="0.6846" stop-color="#cdbeb5"/><stop offset="0.6893" stop-color="#ccc2bc"/><stop offset="0.6940" stop-color="#cbc6c4"/><stop offset="0.6987" stop-color="#cacaca"/><stop offset="0.7033" stop-color="#c4c7c9"/><stop offset="0.7080" stop-color="#bec4c8"/><stop offset="0.7127" stop-color="#b8c2c7"/><stop offset="0.7174" stop-color="#b2bfc6"/><stop offset="0.7221" stop-color="#aebdc5"/><stop offset="0.7268" stop-color="#abbbc5"/><stop offset="0.7315" stop-color="#a7bac4"/><stop offset="0.7362" stop-color="#a6b9c3"/><stop offset="0.7409" stop-color="#a6b9c3"/><stop offset="0.7455" stop-color="#a7bac4"/><stop offset="0.7502" stop-color="#aabbc4"/><stop offset="0.7549" stop-color="#aebdc5"/><stop offset="0.7596" stop-color="#b2bfc6"/><stop offset="0.7643" stop-color="#b8c2c7"/><stop offset="0.7690" stop-color="#bec5c8"/><stop offset="0.7737" stop-color="#c5c8c9"/><stop offset="0.7784" stop-color="#cbcaca"/><stop offset="0.7831" stop-color="#cbc6c3"/><stop offset="0.7877" stop-color="#ccc3bd"/><stop offset="0.7924" stop-color="#cdc0b9"/><stop offset="0.7971" stop-color="#cdbeb5"/><stop offset="0.8018" stop-color="#cebdb2"/><stop offset="0.8065" stop-color="#cebcb1"/><stop offset="0.8112" stop-color="#cebbb0"/><stop offset="0.8159" stop-color="#cebbb0"/><stop offset="0.8206" stop-color="#cebbaf"/><stop offset="0.8253" stop-color="#cebbb0"/><stop offset="0.8299" stop-color="#cebbb0"/><stop offset="0.8346" stop-color="#cebcb1"/><stop offset="0.8393" stop-color="#cebcb2"/><stop offset="0.8440" stop-color="#cdbeb4"/><stop offset="0.8487" stop-color="#cdbfb7"/><stop offset="0.8534" stop-color="#ccc2bc"/><stop offset="0.8581" stop-color="#ccc5c1"/><stop offset="0.8628" stop-color="#cbc9c7"/><stop offset="0.8675" stop-color="#c7c9ca"/><stop offset="0.8721" stop-color="#c0c6c9"/><stop offset="0.8768" stop-color="#b9c2c7"/><stop offset="0.8815" stop-color="#b2bfc6"/><stop offset="0.8862" stop-color="#adbcc5"/><stop offset="0.8909" stop-color="#a6b9c3"/><stop offset="0.8956" stop-color="#a2b7c2"/><stop offset="0.9003" stop-color="#a0b6c1"/><stop offset="0.9050" stop-color="#9fb5c1"/><stop offset="0.9097" stop-color="#9fb5c1"/><stop offset="0.9144" stop-color="#9fb6c1"/><stop offset="0.9190" stop-color="#a1b7c2"/><stop offset="0.9237" stop-color="#a5b8c3"/><stop offset="0.9284" stop-color="#aabbc5"/><stop offset="0.9331" stop-color="#b0bec6"/><stop offset="0.9378" stop-color="#b6c1c7"/><stop offset="0.9425" stop-color="#bcc4c8"/><stop offset="0.9472" stop-color="#c3c7c9"/><stop offset="0.9519" stop-color="#cbcbcb"/><stop offset="0.9566" stop-color="#ccc5c2"/><stop offset="0.9612" stop-color="#cdc1b9"/><stop offset="0.9659" stop-color="#cebcb2"/><stop offset="0.9706" stop-color="#ceb9ad"/><stop offset="0.9753" stop-color="#cfb8aa"/><stop offset="0.9800" stop-color="#cfb7a8"/><stop offset="0.9847" stop-color="#cfb6a8"/><stop offset="0.9894" stop-color="#cfb6a7"/><stop offset="0.9909" stop-color="#cfb6a7"/></linearGradient><linearGradient id="R10" gradientUnits="userSpaceOnUse" x1="433.5" y1="0" x2="753.5" y2="0"><stop offset="0.0094" stop-color="#cda894"/><stop offset="0.0141" stop-color="#cea895"/><stop offset="0.0187" stop-color="#ceaa97"/><stop offset="0.0234" stop-color="#cead9a"/><stop offset="0.0281" stop-color="#cfb2a1"/><stop offset="0.0328" stop-color="#cfb7a8"/><stop offset="0.0375" stop-color="#cebcb1"/><stop offset="0.0422" stop-color="#cdc1bb"/><stop offset="0.0469" stop-color="#cbc7c5"/><stop offset="0.0516" stop-color="#c8c9ca"/><stop offset="0.0563" stop-color="#c1c6c9"/><stop offset="0.0609" stop-color="#bac3c8"/><stop offset="0.0656" stop-color="#b4c0c6"/><stop offset="0.0703" stop-color="#aebdc5"/><stop offset="0.0750" stop-color="#a6b9c3"/><stop offset="0.0797" stop-color="#9fb5c1"/><stop offset="0.0844" stop-color="#99b2c0"/><stop offset="0.0891" stop-color="#95b1be"/><stop offset="0.0938" stop-color="#93b0be"/><stop offset="0.0984" stop-color="#93afbe"/><stop offset="0.1031" stop-color="#93afbe"/><stop offset="0.1078" stop-color="#94b0be"/><stop offset="0.1125" stop-color="#96b1bf"/><stop offset="0.1172" stop-color="#9bb3c0"/><stop offset="0.1219" stop-color="#a1b6c2"/><stop offset="0.1266" stop-color="#a9bbc4"/><stop offset="0.1313" stop-color="#b0bec6"/><stop offset="0.1359" stop-color="#b6c1c7"/><stop offset="0.1406" stop-color="#bcc3c8"/><stop offset="0.1453" stop-color="#c1c6c9"/><stop offset="0.1500" stop-color="#c7c9ca"/><stop offset="0.1547" stop-color="#cbc9c9"/><stop offset="0.1594" stop-color="#ccc6c3"/><stop offset="0.1641" stop-color="#ccc3bd"/><stop offset="0.1688" stop-color="#cdc0b8"/><stop offset="0.1734" stop-color="#cdbdb3"/><stop offset="0.1781" stop-color="#cebbaf"/><stop offset="0.1828" stop-color="#ceb9ac"/><stop offset="0.1875" stop-color="#cfb7aa"/><stop offset="0.1922" stop-color="#cfb7a9"/><stop offset="0.1969" stop-color="#cfb7a9"/><stop offset="0.2016" stop-color="#cfb7aa"/><stop offset="0.2062" stop-color="#ceb9ac"/><stop offset="0.2109" stop-color="#cebbb0"/><stop offset="0.2156" stop-color="#cdbeb5"/><stop offset="0.2203" stop-color="#ccc1bb"/><stop offset="0.2250" stop-color="#ccc6c2"/><stop offset="0.2297" stop-color="#cacaca"/><stop offset="0.2344" stop-color="#c2c6c9"/><stop offset="0.2391" stop-color="#b9c2c7"/><stop offset="0.2437" stop-color="#b2bfc6"/><stop offset="0.2484" stop-color="#abbcc5"/><stop offset="0.2531" stop-color="#a5b9c3"/><stop offset="0.2578" stop-color="#a3b8c3"/><stop offset="0.2625" stop-color="#a5b9c3"/><stop offset="0.2672" stop-color="#aabbc4"/><stop offset="0.2719" stop-color="#afbec5"/><stop offset="0.2766" stop-color="#b5c0c7"/><stop offset="0.2812" stop-color="#bbc3c8"/><stop offset="0.2859" stop-color="#c3c7c9"/><stop offset="0.2906" stop-color="#cbcaca"/><stop offset="0.2953" stop-color="#ccc3be"/><stop offset="0.3000" stop-color="#cebcb2"/><stop offset="0.3047" stop-color="#cfb6a7"/><stop offset="0.3094" stop-color="#cfae9c"/><stop offset="0.3141" stop-color="#cda793"/><stop offset="0.3187" stop-color="#cda38e"/><stop offset="0.3234" stop-color="#cca18c"/><stop offset="0.3281" stop-color="#cca28c"/><stop offset="0.3328" stop-color="#cda48f"/><stop offset="0.3375" stop-color="#cea895"/><stop offset="0.3422" stop-color="#cfaf9d"/><stop offset="0.3469" stop-color="#cfb5a6"/><stop offset="0.3516" stop-color="#cebaae"/><stop offset="0.3563" stop-color="#cdbfb7"/><stop offset="0.3609" stop-color="#ccc4c0"/><stop offset="0.3656" stop-color="#cbcaca"/><stop offset="0.3703" stop-color="#c2c7c9"/><stop offset="0.3750" stop-color="#b9c2c7"/><stop offset="0.3797" stop-color="#b0bec6"/><stop offset="0.3844" stop-color="#a6b9c3"/><stop offset="0.3891" stop-color="#9ab3c0"/><stop offset="0.3937" stop-color="#92afbd"/><stop offset="0.3984" stop-color="#8dacbc"/><stop offset="0.4031" stop-color="#8aabbb"/><stop offset="0.4078" stop-color="#8aabbb"/><stop offset="0.4125" stop-color="#8dacbc"/><stop offset="0.4172" stop-color="#92afbd"/><stop offset="0.4219" stop-color="#99b3c0"/><stop offset="0.4266" stop-color="#a3b8c3"/><stop offset="0.4313" stop-color="#aebdc5"/><stop offset="0.4359" stop-color="#b5c0c7"/><stop offset="0.4406" stop-color="#bdc4c8"/><stop offset="0.4453" stop-color="#c5c8ca"/><stop offset="0.4500" stop-color="#cbc8c7"/><stop offset="0.4547" stop-color="#ccc2bc"/><stop offset="0.4594" stop-color="#cebcb2"/><stop offset="0.4641" stop-color="#cfb6a7"/><stop offset="0.4688" stop-color="#cead9b"/><stop offset="0.4734" stop-color="#cda48f"/><stop offset="0.4781" stop-color="#cb9c85"/><stop offset="0.4828" stop-color="#cb977e"/><stop offset="0.4875" stop-color="#ca947b"/><stop offset="0.4922" stop-color="#ca957c"/><stop offset="0.4969" stop-color="#cb9981"/><stop offset="0.5016" stop-color="#cca08a"/><stop offset="0.5062" stop-color="#cea996"/><stop offset="0.5109" stop-color="#cfb4a4"/><stop offset="0.5156" stop-color="#cebbb0"/><stop offset="0.5203" stop-color="#ccc2bc"/><stop offset="0.5250" stop-color="#cbcac9"/><stop offset="0.5297" stop-color="#c1c6c9"/><stop offset="0.5344" stop-color="#b6c1c7"/><stop offset="0.5391" stop-color="#acbcc5"/><stop offset="0.5437" stop-color="#9eb5c1"/><stop offset="0.5484" stop-color="#94b0be"/><stop offset="0.5531" stop-color="#8eadbc"/><stop offset="0.5578" stop-color="#8babbb"/><stop offset="0.5625" stop-color="#8aabbb"/><stop offset="0.5672" stop-color="#8cacbc"/><stop offset="0.5719" stop-color="#90aebd"/><stop offset="0.5766" stop-color="#97b1bf"/><stop offset="0.5813" stop-color="#a0b6c1"/><stop offset="0.5859" stop-color="#aabbc4"/><stop offset="0.5906" stop-color="#b1bec6"/><stop offset="0.5953" stop-color="#b8c2c7"/><stop offset="0.6000" stop-color="#bfc5c8"/><stop offset="0.6047" stop-color="#c6c8ca"/><stop offset="0.6094" stop-color="#cbc9c9"/><stop offset="0.6141" stop-color="#ccc5c1"/><stop offset="0.6188" stop-color="#ccc1bb"/><stop offset="0.6234" stop-color="#cdbfb6"/><stop offset="0.6281" stop-color="#cdbdb3"/><stop offset="0.6328" stop-color="#cebcb1"/><stop offset="0.6375" stop-color="#cebbb0"/><stop offset="0.6422" stop-color="#cebbb0"/><stop offset="0.6469" stop-color="#cebbaf"/><stop offset="0.6516" stop-color="#cebbaf"/><stop offset="0.6562" stop-color="#cebbb0"/><stop offset="0.6609" stop-color="#cebbb0"/><stop offset="0.6656" stop-color="#cebcb1"/><stop offset="0.6703" stop-color="#cebdb3"/><stop offset="0.6750" stop-color="#cdbeb5"/><stop offset="0.6797" stop-color="#cdc0b8"/><stop offset="0.6844" stop-color="#ccc2bc"/><stop offset="0.6891" stop-color="#ccc5c1"/><stop offset="0.6937" stop-color="#cbc8c5"/><stop offset="0.6984" stop-color="#cbcaca"/><stop offset="0.7031" stop-color="#c7c9ca"/><stop offset="0.7078" stop-color="#c5c8c9"/><stop offset="0.7125" stop-color="#c3c7c9"/><stop offset="0.7172" stop-color="#c2c6c9"/><stop offset="0.7219" stop-color="#c1c6c9"/><stop offset="0.7266" stop-color="#c1c6c9"/><stop offset="0.7312" stop-color="#c1c6c9"/><stop offset="0.7359" stop-color="#c1c6c9"/><stop offset="0.7406" stop-color="#c1c6c9"/><stop offset="0.7453" stop-color="#c1c6c9"/><stop offset="0.7500" stop-color="#c1c6c9"/><stop offset="0.7547" stop-color="#c1c6c9"/><stop offset="0.7594" stop-color="#c1c6c9"/><stop offset="0.7641" stop-color="#c1c6c9"/><stop offset="0.7688" stop-color="#c1c6c9"/><stop offset="0.7734" stop-color="#c1c6c9"/><stop offset="0.7781" stop-color="#c1c6c9"/><stop offset="0.7828" stop-color="#c1c6c9"/><stop offset="0.7875" stop-color="#c2c6c9"/><stop offset="0.7922" stop-color="#c2c7c9"/><stop offset="0.7969" stop-color="#c4c7c9"/><stop offset="0.8016" stop-color="#c6c8ca"/><stop offset="0.8063" stop-color="#cacaca"/><stop offset="0.8109" stop-color="#cbc8c6"/><stop offset="0.8156" stop-color="#ccc5c1"/><stop offset="0.8203" stop-color="#ccc2bc"/><stop offset="0.8250" stop-color="#cdc0b8"/><stop offset="0.8297" stop-color="#cdbeb6"/><stop offset="0.8344" stop-color="#cdbeb4"/><stop offset="0.8391" stop-color="#cdbdb4"/><stop offset="0.8438" stop-color="#cdbdb3"/><stop offset="0.8484" stop-color="#cdbdb3"/><stop offset="0.8531" stop-color="#cdbdb3"/><stop offset="0.8578" stop-color="#cdbeb4"/><stop offset="0.8625" stop-color="#cdbeb6"/><stop offset="0.8672" stop-color="#cdc0b8"/><stop offset="0.8719" stop-color="#ccc2bc"/><stop offset="0.8766" stop-color="#ccc6c2"/><stop offset="0.8812" stop-color="#cbcaca"/><stop offset="0.8859" stop-color="#c5c8ca"/><stop offset="0.8906" stop-color="#bfc5c8"/><stop offset="0.8953" stop-color="#bbc3c8"/><stop offset="0.9000" stop-color="#b8c2c7"/><stop offset="0.9047" stop-color="#b6c1c7"/><stop offset="0.9094" stop-color="#b5c0c7"/><stop offset="0.9141" stop-color="#b5c0c6"/><stop offset="0.9187" stop-color="#b5c0c7"/><stop offset="0.9234" stop-color="#b5c0c7"/><stop offset="0.9281" stop-color="#b6c1c7"/><stop offset="0.9328" stop-color="#b8c2c7"/><stop offset="0.9375" stop-color="#bac3c8"/><stop offset="0.9422" stop-color="#bec5c8"/><stop offset="0.9469" stop-color="#c2c7c9"/><stop offset="0.9516" stop-color="#c8c9ca"/><stop offset="0.9563" stop-color="#cbc9c7"/><stop offset="0.9609" stop-color="#ccc5c1"/><stop offset="0.9656" stop-color="#ccc2bc"/><stop offset="0.9703" stop-color="#cdc0b8"/><stop offset="0.9750" stop-color="#cdbeb6"/><stop offset="0.9797" stop-color="#cdbdb4"/><stop offset="0.9844" stop-color="#cebdb3"/><stop offset="0.9891" stop-color="#cebcb2"/><stop offset="0.9938" stop-color="#cebcb1"/><stop offset="0.9984" stop-color="#cebbb0"/></linearGradient><linearGradient id="R11" gradientUnits="userSpaceOnUse" x1="433.5" y1="0" x2="753.5" y2="0"><stop offset="0.0075" stop-color="#cc9f89"/><stop offset="0.0122" stop-color="#cca08a"/><stop offset="0.0169" stop-color="#cca08b"/><stop offset="0.0216" stop-color="#cda28d"/><stop offset="0.0263" stop-color="#cda692"/><stop offset="0.0309" stop-color="#ceac99"/><stop offset="0.0356" stop-color="#cfb4a4"/><stop offset="0.0403" stop-color="#cebaae"/><stop offset="0.0450" stop-color="#cdc1b9"/><stop offset="0.0497" stop-color="#cbc7c5"/><stop offset="0.0544" stop-color="#c5c8ca"/><stop offset="0.0591" stop-color="#bcc4c8"/><stop offset="0.0638" stop-color="#b3bfc6"/><stop offset="0.0685" stop-color="#abbbc5"/><stop offset="0.0731" stop-color="#9fb5c1"/><stop offset="0.0778" stop-color="#95b0be"/><stop offset="0.0825" stop-color="#8fadbd"/><stop offset="0.0872" stop-color="#8babbc"/><stop offset="0.0919" stop-color="#89abbb"/><stop offset="0.0966" stop-color="#8aabbb"/><stop offset="0.1013" stop-color="#8cacbc"/><stop offset="0.1060" stop-color="#90aebd"/><stop offset="0.1107" stop-color="#98b2bf"/><stop offset="0.1153" stop-color="#a2b7c2"/><stop offset="0.1200" stop-color="#adbdc5"/><stop offset="0.1247" stop-color="#b5c1c7"/><stop offset="0.1294" stop-color="#bec5c8"/><stop offset="0.1341" stop-color="#c7c9ca"/><stop offset="0.1388" stop-color="#cbc7c4"/><stop offset="0.1435" stop-color="#cdc0b9"/><stop offset="0.1482" stop-color="#cebbb0"/><stop offset="0.1529" stop-color="#cfb6a8"/><stop offset="0.1575" stop-color="#cfb3a2"/><stop offset="0.1622" stop-color="#cfaf9d"/><stop offset="0.1669" stop-color="#cead9b"/><stop offset="0.1716" stop-color="#ceae9b"/><stop offset="0.1763" stop-color="#cfaf9d"/><stop offset="0.1810" stop-color="#cfb2a2"/><stop offset="0.1857" stop-color="#cfb5a6"/><stop offset="0.1904" stop-color="#ceb9ac"/><stop offset="0.1951" stop-color="#cebdb3"/><stop offset="0.1997" stop-color="#cdc1ba"/><stop offset="0.2044" stop-color="#ccc5c1"/><stop offset="0.2091" stop-color="#cbcaca"/><stop offset="0.2138" stop-color="#c4c8c9"/><stop offset="0.2185" stop-color="#bdc4c8"/><stop offset="0.2232" stop-color="#b6c1c7"/><stop offset="0.2279" stop-color="#b0bec6"/><stop offset="0.2326" stop-color="#aabbc4"/><stop offset="0.2373" stop-color="#a4b8c3"/><stop offset="0.2419" stop-color="#a1b7c2"/><stop offset="0.2466" stop-color="#a0b6c1"/><stop offset="0.2513" stop-color="#a0b6c1"/><stop offset="0.2560" stop-color="#a1b6c2"/><stop offset="0.2607" stop-color="#a4b8c3"/><stop offset="0.2654" stop-color="#a9bbc4"/><stop offset="0.2701" stop-color="#aebdc5"/><stop offset="0.2748" stop-color="#b4c0c6"/><stop offset="0.2795" stop-color="#bac3c7"/><stop offset="0.2841" stop-color="#c1c6c9"/><stop offset="0.2888" stop-color="#c9caca"/><stop offset="0.2935" stop-color="#ccc6c2"/><stop offset="0.2982" stop-color="#cdbfb7"/><stop offset="0.3029" stop-color="#ceb8ab"/><stop offset="0.3076" stop-color="#cfb2a1"/><stop offset="0.3123" stop-color="#cea996"/><stop offset="0.3170" stop-color="#cda48f"/><stop offset="0.3217" stop-color="#cca28c"/><stop offset="0.3264" stop-color="#cca18c"/><stop offset="0.3310" stop-color="#cda38e"/><stop offset="0.3357" stop-color="#cda692"/><stop offset="0.3404" stop-color="#ceac99"/><stop offset="0.3451" stop-color="#cfb3a3"/><stop offset="0.3498" stop-color="#cfb8ab"/><stop offset="0.3545" stop-color="#cdbdb3"/><stop offset="0.3592" stop-color="#ccc3bd"/><stop offset="0.3639" stop-color="#cbc9c8"/><stop offset="0.3686" stop-color="#c3c7c9"/><stop offset="0.3732" stop-color="#b9c2c7"/><stop offset="0.3779" stop-color="#aebdc5"/><stop offset="0.3826" stop-color="#9fb5c1"/><stop offset="0.3873" stop-color="#8fadbd"/><stop offset="0.3920" stop-color="#83a7b9"/><stop offset="0.3967" stop-color="#7ca3b7"/><stop offset="0.4014" stop-color="#77a1b6"/><stop offset="0.4061" stop-color="#76a1b6"/><stop offset="0.4108" stop-color="#79a2b6"/><stop offset="0.4154" stop-color="#7ea5b8"/><stop offset="0.4201" stop-color="#87aabb"/><stop offset="0.4248" stop-color="#94b0be"/><stop offset="0.4295" stop-color="#a3b8c2"/><stop offset="0.4342" stop-color="#b1bec6"/><stop offset="0.4389" stop-color="#bbc3c8"/><stop offset="0.4436" stop-color="#c6c8ca"/><stop offset="0.4483" stop-color="#ccc6c3"/><stop offset="0.4530" stop-color="#cdbeb5"/><stop offset="0.4576" stop-color="#cfb7a8"/><stop offset="0.4623" stop-color="#ceab99"/><stop offset="0.4670" stop-color="#cc9f88"/><stop offset="0.4717" stop-color="#ca947b"/><stop offset="0.4764" stop-color="#c98c71"/><stop offset="0.4811" stop-color="#c8886b"/><stop offset="0.4858" stop-color="#c8866a"/><stop offset="0.4905" stop-color="#c8886b"/><stop offset="0.4952" stop-color="#c98d72"/><stop offset="0.4998" stop-color="#ca957d"/><stop offset="0.5045" stop-color="#cca18b"/><stop offset="0.5092" stop-color="#cfaf9d"/><stop offset="0.5139" stop-color="#ceb9ad"/><stop offset="0.5186" stop-color="#ccc2bb"/><stop offset="0.5233" stop-color="#cbcaca"/><stop offset="0.5280" stop-color="#c0c5c9"/><stop offset="0.5327" stop-color="#b5c0c7"/><stop offset="0.5374" stop-color="#aabbc4"/><stop offset="0.5420" stop-color="#9cb4c0"/><stop offset="0.5467" stop-color="#91aebd"/><stop offset="0.5514" stop-color="#89abbb"/><stop offset="0.5561" stop-color="#86a9ba"/><stop offset="0.5608" stop-color="#85a8ba"/><stop offset="0.5655" stop-color="#87a9ba"/><stop offset="0.5702" stop-color="#8babbc"/><stop offset="0.5749" stop-color="#92afbe"/><stop offset="0.5796" stop-color="#9db4c1"/><stop offset="0.5842" stop-color="#a9bbc4"/><stop offset="0.5889" stop-color="#b2bfc6"/><stop offset="0.5936" stop-color="#bac3c8"/><stop offset="0.5983" stop-color="#c1c6c9"/><stop offset="0.6030" stop-color="#c8c9ca"/><stop offset="0.6077" stop-color="#cbc9c7"/><stop offset="0.6124" stop-color="#ccc5c2"/><stop offset="0.6171" stop-color="#ccc3bd"/><stop offset="0.6218" stop-color="#cdc0b9"/><stop offset="0.6264" stop-color="#cdbeb4"/><stop offset="0.6311" stop-color="#cebbb1"/><stop offset="0.6358" stop-color="#cebaad"/><stop offset="0.6405" stop-color="#cfb8ab"/><stop offset="0.6452" stop-color="#cfb7a9"/><stop offset="0.6499" stop-color="#cfb6a8"/><stop offset="0.6546" stop-color="#cfb6a7"/><stop offset="0.6593" stop-color="#cfb6a7"/><stop offset="0.6640" stop-color="#cfb6a7"/><stop offset="0.6686" stop-color="#cfb6a7"/><stop offset="0.6733" stop-color="#cfb6a7"/><stop offset="0.6780" stop-color="#cfb6a7"/><stop offset="0.6827" stop-color="#cfb6a8"/><stop offset="0.6874" stop-color="#cfb7a9"/><stop offset="0.6921" stop-color="#cfb8aa"/><stop offset="0.6968" stop-color="#ceb9ad"/><stop offset="0.7015" stop-color="#cebbb0"/><stop offset="0.7062" stop-color="#cdbdb4"/><stop offset="0.7108" stop-color="#cdc0b8"/><stop offset="0.7155" stop-color="#ccc3bd"/><stop offset="0.7202" stop-color="#ccc6c2"/><stop offset="0.7249" stop-color="#cbc9c8"/><stop offset="0.7296" stop-color="#c8c9ca"/><stop offset="0.7343" stop-color="#c2c7c9"/><stop offset="0.7390" stop-color="#bcc4c8"/><stop offset="0.7437" stop-color="#b6c1c7"/><stop offset="0.7484" stop-color="#b1bec6"/><stop offset="0.7530" stop-color="#adbcc5"/><stop offset="0.7577" stop-color="#a9bbc4"/><stop offset="0.7624" stop-color="#a7b9c3"/><stop offset="0.7671" stop-color="#a6b9c3"/><stop offset="0.7718" stop-color="#a5b9c3"/><stop offset="0.7765" stop-color="#a6b9c3"/><stop offset="0.7812" stop-color="#a8bac4"/><stop offset="0.7859" stop-color="#abbcc5"/><stop offset="0.7906" stop-color="#afbdc5"/><stop offset="0.7952" stop-color="#b3bfc6"/><stop offset="0.7999" stop-color="#b7c1c7"/><stop offset="0.8046" stop-color="#bcc4c8"/><stop offset="0.8093" stop-color="#c2c6c9"/><stop offset="0.8140" stop-color="#c7c9ca"/><stop offset="0.8187" stop-color="#cbc9c8"/><stop offset="0.8234" stop-color="#ccc5c1"/><stop offset="0.8281" stop-color="#cdc1ba"/><stop offset="0.8328" stop-color="#cdbdb4"/><stop offset="0.8374" stop-color="#cebaaf"/><stop offset="0.8421" stop-color="#ceb8ab"/><stop offset="0.8468" stop-color="#cfb7a9"/><stop offset="0.8515" stop-color="#cfb7a9"/><stop offset="0.8562" stop-color="#cfb7a9"/><stop offset="0.8609" stop-color="#ceb8ab"/><stop offset="0.8656" stop-color="#cebaaf"/><stop offset="0.8703" stop-color="#cdbdb3"/><stop offset="0.8750" stop-color="#cdc0b9"/><stop offset="0.8797" stop-color="#ccc4c0"/><stop offset="0.8843" stop-color="#cbc9c7"/><stop offset="0.8890" stop-color="#c6c8ca"/><stop offset="0.8937" stop-color="#bec5c8"/><stop offset="0.8984" stop-color="#b6c1c7"/><stop offset="0.9031" stop-color="#afbec5"/><stop offset="0.9078" stop-color="#a9bac4"/><stop offset="0.9125" stop-color="#a3b8c2"/><stop offset="0.9172" stop-color="#a1b6c2"/><stop offset="0.9219" stop-color="#a1b6c2"/><stop offset="0.9265" stop-color="#a3b7c2"/><stop offset="0.9312" stop-color="#a7bac4"/><stop offset="0.9359" stop-color="#adbcc5"/><stop offset="0.9406" stop-color="#b2bfc6"/><stop offset="0.9453" stop-color="#b9c2c7"/><stop offset="0.9500" stop-color="#c0c5c9"/><stop offset="0.9547" stop-color="#c7c9ca"/><stop offset="0.9594" stop-color="#cbc7c5"/><stop offset="0.9641" stop-color="#ccc2bc"/><stop offset="0.9687" stop-color="#cdbdb3"/><stop offset="0.9734" stop-color="#ceb9ac"/><stop offset="0.9781" stop-color="#cfb6a7"/><stop offset="0.9828" stop-color="#cfb4a5"/><stop offset="0.9875" stop-color="#cfb4a3"/><stop offset="0.9922" stop-color="#cfb3a3"/><stop offset="0.9969" stop-color="#cfb3a3"/><stop offset="0.9984" stop-color="#cfb3a3"/></linearGradient><linearGradient id="R12" gradientUnits="userSpaceOnUse" x1="433.5" y1="0" x2="753.5" y2="0"><stop offset="0.0075" stop-color="#cda894"/><stop offset="0.0122" stop-color="#cea894"/><stop offset="0.0169" stop-color="#cea995"/><stop offset="0.0216" stop-color="#ceaa98"/><stop offset="0.0263" stop-color="#cfae9c"/><stop offset="0.0309" stop-color="#cfb4a4"/><stop offset="0.0356" stop-color="#ceb9ac"/><stop offset="0.0403" stop-color="#cdbfb6"/><stop offset="0.0450" stop-color="#ccc5c1"/><stop offset="0.0497" stop-color="#c9caca"/><stop offset="0.0544" stop-color="#c0c5c9"/><stop offset="0.0591" stop-color="#b7c1c7"/><stop offset="0.0638" stop-color="#afbdc5"/><stop offset="0.0685" stop-color="#a6b9c3"/><stop offset="0.0731" stop-color="#9db5c1"/><stop offset="0.0778" stop-color="#98b2bf"/><stop offset="0.0825" stop-color="#95b0be"/><stop offset="0.0872" stop-color="#94b0be"/><stop offset="0.0919" stop-color="#95b0be"/><stop offset="0.0966" stop-color="#99b2bf"/><stop offset="0.1013" stop-color="#9eb5c1"/><stop offset="0.1060" stop-color="#a6b9c3"/><stop offset="0.1107" stop-color="#aebdc5"/><stop offset="0.1153" stop-color="#b5c0c7"/><stop offset="0.1200" stop-color="#bdc4c8"/><stop offset="0.1247" stop-color="#c5c8c9"/><stop offset="0.1294" stop-color="#cbc8c7"/><stop offset="0.1341" stop-color="#ccc2bb"/><stop offset="0.1388" stop-color="#cebbaf"/><stop offset="0.1435" stop-color="#cfb4a5"/><stop offset="0.1482" stop-color="#ceac99"/><stop offset="0.1529" stop-color="#cda691"/><stop offset="0.1575" stop-color="#cda28d"/><stop offset="0.1622" stop-color="#cca18c"/><stop offset="0.1669" stop-color="#cda28d"/><stop offset="0.1716" stop-color="#cda590"/><stop offset="0.1763" stop-color="#ceaa97"/><stop offset="0.1810" stop-color="#cfb19f"/><stop offset="0.1857" stop-color="#cfb6a8"/><stop offset="0.1904" stop-color="#cebbb0"/><stop offset="0.1951" stop-color="#cdc1ba"/><stop offset="0.1997" stop-color="#cbc7c4"/><stop offset="0.2044" stop-color="#c7c9ca"/><stop offset="0.2091" stop-color="#bdc4c8"/><stop offset="0.2138" stop-color="#b3c0c6"/><stop offset="0.2185" stop-color="#aabbc4"/><stop offset="0.2232" stop-color="#9eb5c1"/><stop offset="0.2279" stop-color="#96b1bf"/><stop offset="0.2326" stop-color="#92afbd"/><stop offset="0.2373" stop-color="#90aebd"/><stop offset="0.2419" stop-color="#92afbd"/><stop offset="0.2466" stop-color="#95b1be"/><stop offset="0.2513" stop-color="#9bb4c0"/><stop offset="0.2560" stop-color="#a4b8c3"/><stop offset="0.2607" stop-color="#adbdc5"/><stop offset="0.2654" stop-color="#b4c0c6"/><stop offset="0.2701" stop-color="#bdc4c8"/><stop offset="0.2748" stop-color="#c6c8ca"/><stop offset="0.2795" stop-color="#cbc6c3"/><stop offset="0.2841" stop-color="#cdbeb4"/><stop offset="0.2888" stop-color="#cfb5a5"/><stop offset="0.2935" stop-color="#cda692"/><stop offset="0.2982" stop-color="#cb9b83"/><stop offset="0.3029" stop-color="#ca9379"/><stop offset="0.3076" stop-color="#c98f74"/><stop offset="0.3123" stop-color="#c98e73"/><stop offset="0.3170" stop-color="#c99075"/><stop offset="0.3217" stop-color="#ca947a"/><stop offset="0.3264" stop-color="#cb9a83"/><stop offset="0.3310" stop-color="#cda38f"/><stop offset="0.3357" stop-color="#cfae9c"/><stop offset="0.3404" stop-color="#cfb7a9"/><stop offset="0.3451" stop-color="#cdbeb4"/><stop offset="0.3498" stop-color="#ccc4c0"/><stop offset="0.3545" stop-color="#c9caca"/><stop offset="0.3592" stop-color="#bfc5c8"/><stop offset="0.3639" stop-color="#b5c0c7"/><stop offset="0.3686" stop-color="#abbcc5"/><stop offset="0.3732" stop-color="#9eb5c1"/><stop offset="0.3779" stop-color="#94b0be"/><stop offset="0.3826" stop-color="#8eadbc"/><stop offset="0.3873" stop-color="#8aabbb"/><stop offset="0.3920" stop-color="#89aabb"/><stop offset="0.3967" stop-color="#8aabbb"/><stop offset="0.4014" stop-color="#8cacbc"/><stop offset="0.4061" stop-color="#91aebd"/><stop offset="0.4108" stop-color="#98b2bf"/><stop offset="0.4154" stop-color="#a0b6c2"/><stop offset="0.4201" stop-color="#aabbc4"/><stop offset="0.4248" stop-color="#b1bfc6"/><stop offset="0.4295" stop-color="#b8c2c7"/><stop offset="0.4342" stop-color="#bfc5c8"/><stop offset="0.4389" stop-color="#c6c9ca"/><stop offset="0.4436" stop-color="#cbc8c6"/><stop offset="0.4483" stop-color="#ccc2bd"/><stop offset="0.4530" stop-color="#cebdb3"/><stop offset="0.4576" stop-color="#cfb7a9"/><stop offset="0.4623" stop-color="#cfb1a0"/><stop offset="0.4670" stop-color="#ceaa97"/><stop offset="0.4717" stop-color="#cda590"/><stop offset="0.4764" stop-color="#cca28c"/><stop offset="0.4811" stop-color="#cca08b"/><stop offset="0.4858" stop-color="#cca08b"/><stop offset="0.4905" stop-color="#cca28c"/><stop offset="0.4952" stop-color="#cda590"/><stop offset="0.4998" stop-color="#cea996"/><stop offset="0.5045" stop-color="#cfb09e"/><stop offset="0.5092" stop-color="#cfb6a7"/><stop offset="0.5139" stop-color="#cebaaf"/><stop offset="0.5186" stop-color="#cdbfb7"/><stop offset="0.5233" stop-color="#ccc4c0"/><stop offset="0.5280" stop-color="#cbcac9"/><stop offset="0.5327" stop-color="#c3c7c9"/><stop offset="0.5374" stop-color="#bbc3c8"/><stop offset="0.5420" stop-color="#b3c0c6"/><stop offset="0.5467" stop-color="#acbcc5"/><stop offset="0.5514" stop-color="#a4b8c3"/><stop offset="0.5561" stop-color="#9eb5c1"/><stop offset="0.5608" stop-color="#9bb3c0"/><stop offset="0.5655" stop-color="#99b3c0"/><stop offset="0.5702" stop-color="#99b3c0"/><stop offset="0.5749" stop-color="#9bb3c0"/><stop offset="0.5796" stop-color="#9eb5c1"/><stop offset="0.5842" stop-color="#a3b7c2"/><stop offset="0.5889" stop-color="#a9bbc4"/><stop offset="0.5936" stop-color="#afbdc5"/><stop offset="0.5983" stop-color="#b4c0c6"/><stop offset="0.6030" stop-color="#bac3c7"/><stop offset="0.6077" stop-color="#bfc5c8"/><stop offset="0.6124" stop-color="#c5c8ca"/><stop offset="0.6171" stop-color="#cbcaca"/><stop offset="0.6218" stop-color="#cbc6c3"/><stop offset="0.6264" stop-color="#ccc3bd"/><stop offset="0.6311" stop-color="#cdc0b8"/><stop offset="0.6358" stop-color="#cdbeb4"/><stop offset="0.6405" stop-color="#cebcb2"/><stop offset="0.6452" stop-color="#cebbb1"/><stop offset="0.6499" stop-color="#cebbb0"/><stop offset="0.6546" stop-color="#cebbb0"/><stop offset="0.6593" stop-color="#cebbaf"/><stop offset="0.6640" stop-color="#cebbaf"/><stop offset="0.6686" stop-color="#cebbaf"/><stop offset="0.6733" stop-color="#cebbaf"/><stop offset="0.6780" stop-color="#cebbaf"/><stop offset="0.6827" stop-color="#cebbb0"/><stop offset="0.6874" stop-color="#cebbb0"/><stop offset="0.6921" stop-color="#cebbb0"/><stop offset="0.6968" stop-color="#cebbb1"/><stop offset="0.7015" stop-color="#cebcb1"/><stop offset="0.7062" stop-color="#cebcb2"/><stop offset="0.7108" stop-color="#cdbdb4"/><stop offset="0.7155" stop-color="#cdbfb7"/><stop offset="0.7202" stop-color="#ccc2bc"/><stop offset="0.7249" stop-color="#cbc6c3"/><stop offset="0.7296" stop-color="#cacaca"/><stop offset="0.7343" stop-color="#c2c6c9"/><stop offset="0.7390" stop-color="#b9c2c7"/><stop offset="0.7437" stop-color="#b1bfc6"/><stop offset="0.7484" stop-color="#a9bbc4"/><stop offset="0.7530" stop-color="#a0b6c1"/><stop offset="0.7577" stop-color="#99b2c0"/><stop offset="0.7624" stop-color="#95b0be"/><stop offset="0.7671" stop-color="#93b0be"/><stop offset="0.7718" stop-color="#93b0be"/><stop offset="0.7765" stop-color="#95b0be"/><stop offset="0.7812" stop-color="#98b2bf"/><stop offset="0.7859" stop-color="#9eb5c1"/><stop offset="0.7906" stop-color="#a6b9c3"/><stop offset="0.7952" stop-color="#aebdc5"/><stop offset="0.7999" stop-color="#b5c0c7"/><stop offset="0.8046" stop-color="#bdc4c8"/><stop offset="0.8093" stop-color="#c5c8ca"/><stop offset="0.8140" stop-color="#cbc8c6"/><stop offset="0.8187" stop-color="#cdc1ba"/><stop offset="0.8234" stop-color="#cebaae"/><stop offset="0.8281" stop-color="#cfb3a3"/><stop offset="0.8328" stop-color="#ceaa97"/><stop offset="0.8374" stop-color="#cda590"/><stop offset="0.8421" stop-color="#cca28c"/><stop offset="0.8468" stop-color="#cca18c"/><stop offset="0.8515" stop-color="#cda38e"/><stop offset="0.8562" stop-color="#cda793"/><stop offset="0.8609" stop-color="#cead9a"/><stop offset="0.8656" stop-color="#cfb4a4"/><stop offset="0.8703" stop-color="#ceb9ac"/><stop offset="0.8750" stop-color="#cdbeb5"/><stop offset="0.8797" stop-color="#ccc4bf"/><stop offset="0.8843" stop-color="#cbcaca"/><stop offset="0.8890" stop-color="#c3c7c9"/><stop offset="0.8937" stop-color="#bac3c7"/><stop offset="0.8984" stop-color="#b2bfc6"/><stop offset="0.9031" stop-color="#aabbc4"/><stop offset="0.9078" stop-color="#a2b7c2"/><stop offset="0.9125" stop-color="#9db4c1"/><stop offset="0.9172" stop-color="#9ab3c0"/><stop offset="0.9219" stop-color="#9bb3c0"/><stop offset="0.9265" stop-color="#9db4c1"/><stop offset="0.9312" stop-color="#a2b7c2"/><stop offset="0.9359" stop-color="#a9bbc4"/><stop offset="0.9406" stop-color="#b0bec6"/><stop offset="0.9453" stop-color="#b6c1c7"/><stop offset="0.9500" stop-color="#bdc4c8"/><stop offset="0.9547" stop-color="#c3c7c9"/><stop offset="0.9594" stop-color="#c9caca"/><stop offset="0.9641" stop-color="#cbc8c7"/><stop offset="0.9687" stop-color="#ccc6c2"/><stop offset="0.9734" stop-color="#ccc3be"/><stop offset="0.9781" stop-color="#ccc2bc"/><stop offset="0.9828" stop-color="#cdc1ba"/><stop offset="0.9875" stop-color="#cdc0b8"/><stop offset="0.9922" stop-color="#cdc0b8"/><stop offset="0.9969" stop-color="#cdc0b8"/><stop offset="0.9984" stop-color="#cdbfb8"/></linearGradient><linearGradient id="R13" gradientUnits="userSpaceOnUse" x1="433.5" y1="0" x2="753.5" y2="0"><stop offset="0.0003" stop-color="#ccc2bb"/><stop offset="0.0050" stop-color="#ccc2bb"/><stop offset="0.0097" stop-color="#ccc2bb"/><stop offset="0.0144" stop-color="#ccc2bb"/><stop offset="0.0191" stop-color="#ccc2bc"/><stop offset="0.0238" stop-color="#ccc2bc"/><stop offset="0.0285" stop-color="#ccc3be"/><stop offset="0.0332" stop-color="#ccc5c1"/><stop offset="0.0379" stop-color="#cbc7c5"/><stop offset="0.0426" stop-color="#cacaca"/><stop offset="0.0473" stop-color="#c4c7c9"/><stop offset="0.0520" stop-color="#bcc4c8"/><stop offset="0.0567" stop-color="#b5c0c7"/><stop offset="0.0614" stop-color="#afbdc5"/><stop offset="0.0661" stop-color="#a8bac4"/><stop offset="0.0708" stop-color="#a3b8c2"/><stop offset="0.0755" stop-color="#a0b6c2"/><stop offset="0.0802" stop-color="#9fb6c1"/><stop offset="0.0849" stop-color="#a0b6c2"/><stop offset="0.0896" stop-color="#a2b7c2"/><stop offset="0.0943" stop-color="#a6b9c3"/><stop offset="0.0990" stop-color="#abbcc5"/><stop offset="0.1037" stop-color="#b0bec6"/><stop offset="0.1084" stop-color="#b5c0c7"/><stop offset="0.1131" stop-color="#bac3c8"/><stop offset="0.1178" stop-color="#c0c6c9"/><stop offset="0.1225" stop-color="#c6c8ca"/><stop offset="0.1272" stop-color="#cbcac9"/><stop offset="0.1319" stop-color="#ccc5c2"/><stop offset="0.1366" stop-color="#ccc2bc"/><stop offset="0.1413" stop-color="#cdbfb7"/><stop offset="0.1460" stop-color="#cdbdb3"/><stop offset="0.1507" stop-color="#cebcb1"/><stop offset="0.1554" stop-color="#cebbb0"/><stop offset="0.1601" stop-color="#cebbb0"/><stop offset="0.1648" stop-color="#cebbb0"/><stop offset="0.1695" stop-color="#cebcb1"/><stop offset="0.1742" stop-color="#cdbdb3"/><stop offset="0.1789" stop-color="#cdbfb7"/><stop offset="0.1836" stop-color="#ccc1bb"/><stop offset="0.1883" stop-color="#ccc4c0"/><stop offset="0.1930" stop-color="#cbc7c4"/><stop offset="0.1977" stop-color="#cbc8c7"/><stop offset="0.2024" stop-color="#cbcac9"/><stop offset="0.2071" stop-color="#cbcaca"/><stop offset="0.2118" stop-color="#cbcaca"/><stop offset="0.2165" stop-color="#cbcbca"/><stop offset="0.2166" stop-color="#9dcae1"/><stop offset="0.2213" stop-color="#9bc9e0"/><stop offset="0.2259" stop-color="#98c8e0"/><stop offset="0.2306" stop-color="#95c7df"/><stop offset="0.2353" stop-color="#93c6de"/><stop offset="0.2400" stop-color="#94c6de"/><stop offset="0.2446" stop-color="#98c8e0"/><stop offset="0.2493" stop-color="#a0cce2"/><stop offset="0.2540" stop-color="#aad1e5"/><stop offset="0.2587" stop-color="#b6d7e8"/><stop offset="0.2633" stop-color="#c5dfed"/><stop offset="0.2680" stop-color="#d7e8f1"/><stop offset="0.2727" stop-color="#e8f0f4"/><stop offset="0.2774" stop-color="#f7f6f6"/><stop offset="0.2820" stop-color="#f9ece4"/><stop offset="0.2867" stop-color="#fbe2d3"/><stop offset="0.2914" stop-color="#fcd7c2"/><stop offset="0.2961" stop-color="#fac8ae"/><stop offset="0.3007" stop-color="#f7ba9d"/><stop offset="0.3054" stop-color="#f6af8f"/><stop offset="0.3101" stop-color="#f5ac8b"/><stop offset="0.3147" stop-color="#f6b292"/><stop offset="0.3194" stop-color="#f8bea2"/><stop offset="0.3241" stop-color="#faccb4"/><stop offset="0.3288" stop-color="#fddbc7"/><stop offset="0.3334" stop-color="#fbe4d6"/><stop offset="0.3381" stop-color="#f9ede5"/><stop offset="0.3428" stop-color="#f7f6f6"/><stop offset="0.3475" stop-color="#e9f0f4"/><stop offset="0.3521" stop-color="#d9e9f2"/><stop offset="0.3568" stop-color="#c8e0ed"/><stop offset="0.3615" stop-color="#b8d9e9"/><stop offset="0.3662" stop-color="#afd4e6"/><stop offset="0.3708" stop-color="#a7d0e4"/><stop offset="0.3755" stop-color="#a0cce2"/><stop offset="0.3802" stop-color="#9ac9e0"/><stop offset="0.3849" stop-color="#95c6df"/><stop offset="0.3895" stop-color="#93c5de"/><stop offset="0.3942" stop-color="#93c5de"/><stop offset="0.3989" stop-color="#96c7df"/><stop offset="0.4036" stop-color="#9bc9e0"/><stop offset="0.4082" stop-color="#a1cde2"/><stop offset="0.4129" stop-color="#a8d0e4"/><stop offset="0.4176" stop-color="#afd4e6"/><stop offset="0.4222" stop-color="#b7d8e8"/><stop offset="0.4269" stop-color="#c2ddec"/><stop offset="0.4316" stop-color="#d1e5f0"/><stop offset="0.4363" stop-color="#dceaf2"/><stop offset="0.4409" stop-color="#e7eff4"/><stop offset="0.4456" stop-color="#eff3f6"/><stop offset="0.4503" stop-color="#f4f6f6"/><stop offset="0.4534" stop-color="#f6f6f7"/><stop offset="0.4535" stop-color="#ceb8ab"/><stop offset="0.4582" stop-color="#cfb8ab"/><stop offset="0.4628" stop-color="#cfb8aa"/><stop offset="0.4675" stop-color="#cfb7aa"/><stop offset="0.4722" stop-color="#cfb7a9"/><stop offset="0.4769" stop-color="#cfb7a9"/><stop offset="0.4816" stop-color="#cfb7a8"/><stop offset="0.4863" stop-color="#cfb6a8"/><stop offset="0.4909" stop-color="#cfb6a8"/><stop offset="0.4956" stop-color="#cfb6a8"/><stop offset="0.5003" stop-color="#cfb7a9"/><stop offset="0.5050" stop-color="#ceb8ab"/><stop offset="0.5097" stop-color="#cebbb0"/><stop offset="0.5144" stop-color="#cdbfb6"/><stop offset="0.5191" stop-color="#ccc3be"/><stop offset="0.5237" stop-color="#cbc9c7"/><stop offset="0.5284" stop-color="#c7c9ca"/><stop offset="0.5331" stop-color="#c0c6c9"/><stop offset="0.5378" stop-color="#bbc3c8"/><stop offset="0.5425" stop-color="#b5c0c7"/><stop offset="0.5472" stop-color="#b1bec6"/><stop offset="0.5518" stop-color="#adbdc5"/><stop offset="0.5565" stop-color="#aabbc4"/><stop offset="0.5612" stop-color="#a7bac4"/><stop offset="0.5659" stop-color="#a6b9c3"/><stop offset="0.5706" stop-color="#a5b9c3"/><stop offset="0.5753" stop-color="#a5b8c3"/><stop offset="0.5800" stop-color="#a5b9c3"/><stop offset="0.5846" stop-color="#a5b9c3"/><stop offset="0.5893" stop-color="#a6b9c3"/><stop offset="0.5940" stop-color="#a8bac4"/><stop offset="0.5987" stop-color="#abbcc5"/><stop offset="0.6034" stop-color="#afbdc5"/><stop offset="0.6081" stop-color="#b3bfc6"/><stop offset="0.6127" stop-color="#b7c1c7"/><stop offset="0.6174" stop-color="#bdc4c8"/><stop offset="0.6221" stop-color="#c2c6c9"/><stop offset="0.6268" stop-color="#c7c9ca"/><stop offset="0.6315" stop-color="#cbc9c8"/><stop offset="0.6362" stop-color="#ccc5c1"/><stop offset="0.6409" stop-color="#cdc1ba"/><stop offset="0.6455" stop-color="#cdbdb4"/><stop offset="0.6502" stop-color="#ceb9ad"/><stop offset="0.6549" stop-color="#cfb6a7"/><stop offset="0.6596" stop-color="#cfb2a2"/><stop offset="0.6643" stop-color="#ceae9c"/><stop offset="0.6690" stop-color="#ceab98"/><stop offset="0.6736" stop-color="#cea996"/><stop offset="0.6783" stop-color="#cea895"/><stop offset="0.6830" stop-color="#cea894"/><stop offset="0.6877" stop-color="#cea995"/><stop offset="0.6924" stop-color="#ceaa97"/><stop offset="0.6971" stop-color="#cead9b"/><stop offset="0.7017" stop-color="#cfb2a1"/><stop offset="0.7064" stop-color="#cfb6a7"/><stop offset="0.7111" stop-color="#cebaae"/><stop offset="0.7158" stop-color="#cdbeb5"/><stop offset="0.7205" stop-color="#ccc2bd"/><stop offset="0.7252" stop-color="#cbc7c5"/><stop offset="0.7299" stop-color="#c8c9ca"/><stop offset="0.7345" stop-color="#c0c5c9"/><stop offset="0.7392" stop-color="#b8c2c7"/><stop offset="0.7439" stop-color="#afbec6"/><stop offset="0.7486" stop-color="#a6b9c3"/><stop offset="0.7533" stop-color="#9cb4c0"/><stop offset="0.7580" stop-color="#95b1bf"/><stop offset="0.7626" stop-color="#91afbd"/><stop offset="0.7673" stop-color="#90aebd"/><stop offset="0.7720" stop-color="#90aebd"/><stop offset="0.7767" stop-color="#91aebd"/><stop offset="0.7814" stop-color="#95b0be"/><stop offset="0.7861" stop-color="#9bb3c0"/><stop offset="0.7908" stop-color="#a3b8c2"/><stop offset="0.7954" stop-color="#adbcc5"/><stop offset="0.8001" stop-color="#b4c0c6"/><stop offset="0.8048" stop-color="#bcc4c8"/><stop offset="0.8095" stop-color="#c4c8c9"/><stop offset="0.8142" stop-color="#cbc9c7"/><stop offset="0.8189" stop-color="#ccc2bc"/><stop offset="0.8235" stop-color="#cebcb1"/><stop offset="0.8282" stop-color="#cfb6a8"/><stop offset="0.8329" stop-color="#cfb1a0"/><stop offset="0.8376" stop-color="#ceac9a"/><stop offset="0.8423" stop-color="#ceaa97"/><stop offset="0.8470" stop-color="#cea996"/><stop offset="0.8517" stop-color="#ceab98"/><stop offset="0.8563" stop-color="#cfae9c"/><stop offset="0.8610" stop-color="#cfb3a3"/><stop offset="0.8657" stop-color="#cfb7a9"/><stop offset="0.8704" stop-color="#cebbb0"/><stop offset="0.8751" stop-color="#cdc0b8"/><stop offset="0.8798" stop-color="#ccc5c1"/><stop offset="0.8844" stop-color="#cbcaca"/><stop offset="0.8891" stop-color="#c3c7c9"/><stop offset="0.8938" stop-color="#bbc3c8"/><stop offset="0.8985" stop-color="#b4c0c6"/><stop offset="0.9032" stop-color="#adbdc5"/><stop offset="0.9079" stop-color="#a7bac4"/><stop offset="0.9126" stop-color="#a2b7c2"/><stop offset="0.9172" stop-color="#a0b6c2"/><stop offset="0.9219" stop-color="#a1b6c2"/><stop offset="0.9266" stop-color="#a3b7c2"/><stop offset="0.9313" stop-color="#a7bac4"/><stop offset="0.9360" stop-color="#adbdc5"/><stop offset="0.9407" stop-color="#b2bfc6"/><stop offset="0.9453" stop-color="#b8c2c7"/><stop offset="0.9500" stop-color="#bec4c8"/><stop offset="0.9547" stop-color="#c3c7c9"/><stop offset="0.9594" stop-color="#c7c9ca"/><stop offset="0.9641" stop-color="#cacaca"/><stop offset="0.9688" stop-color="#cbcaca"/><stop offset="0.9735" stop-color="#cbc9c8"/><stop offset="0.9781" stop-color="#cbc9c7"/><stop offset="0.9828" stop-color="#cbc8c6"/><stop offset="0.9875" stop-color="#cbc8c6"/><stop offset="0.9922" stop-color="#cbc7c5"/><stop offset="0.9969" stop-color="#cbc7c5"/><stop offset="0.9984" stop-color="#cbc7c4"/></linearGradient><linearGradient id="R14" gradientUnits="userSpaceOnUse" x1="433.5" y1="0" x2="753.5" y2="0"><stop offset="0.0003" stop-color="#ccc2bb"/><stop offset="0.0050" stop-color="#ccc2bb"/><stop offset="0.0097" stop-color="#ccc2bb"/><stop offset="0.0144" stop-color="#ccc2bb"/><stop offset="0.0191" stop-color="#ccc2bc"/><stop offset="0.0238" stop-color="#ccc2bc"/><stop offset="0.0285" stop-color="#ccc3be"/><stop offset="0.0332" stop-color="#ccc5c1"/><stop offset="0.0379" stop-color="#cbc7c5"/><stop offset="0.0426" stop-color="#cacaca"/><stop offset="0.0473" stop-color="#c3c7c9"/><stop offset="0.0520" stop-color="#bcc4c8"/><stop offset="0.0567" stop-color="#b4c0c6"/><stop offset="0.0614" stop-color="#aebdc5"/><stop offset="0.0661" stop-color="#a7b9c3"/><stop offset="0.0708" stop-color="#a1b7c2"/><stop offset="0.0755" stop-color="#9eb5c1"/><stop offset="0.0802" stop-color="#9db5c1"/><stop offset="0.0849" stop-color="#9eb5c1"/><stop offset="0.0896" stop-color="#a0b6c1"/><stop offset="0.0943" stop-color="#a4b8c3"/><stop offset="0.0990" stop-color="#a9bbc4"/><stop offset="0.1037" stop-color="#afbdc5"/><stop offset="0.1084" stop-color="#b4c0c6"/><stop offset="0.1131" stop-color="#bac3c7"/><stop offset="0.1178" stop-color="#c1c6c9"/><stop offset="0.1225" stop-color="#c8c9ca"/><stop offset="0.1272" stop-color="#cbc7c4"/><stop offset="0.1319" stop-color="#cdc0b9"/><stop offset="0.1366" stop-color="#cebaae"/><stop offset="0.1413" stop-color="#cfb4a3"/><stop offset="0.1460" stop-color="#ceab99"/><stop offset="0.1507" stop-color="#cda692"/><stop offset="0.1554" stop-color="#cda590"/><stop offset="0.1601" stop-color="#cda793"/><stop offset="0.1648" stop-color="#ceae9c"/><stop offset="0.1695" stop-color="#cfb6a7"/><stop offset="0.1742" stop-color="#cebcb2"/><stop offset="0.1789" stop-color="#ccc4bf"/><stop offset="0.1836" stop-color="#c9caca"/><stop offset="0.1883" stop-color="#bec5c8"/><stop offset="0.1930" stop-color="#b5c0c7"/><stop offset="0.1977" stop-color="#aebdc5"/><stop offset="0.2024" stop-color="#a7b9c4"/><stop offset="0.2071" stop-color="#a2b7c2"/><stop offset="0.2118" stop-color="#a0b6c2"/><stop offset="0.2165" stop-color="#9fb6c1"/><stop offset="0.2166" stop-color="#9dcae1"/><stop offset="0.2213" stop-color="#9bc9e0"/><stop offset="0.2259" stop-color="#98c8e0"/><stop offset="0.2306" stop-color="#95c7df"/><stop offset="0.2353" stop-color="#93c6de"/><stop offset="0.2400" stop-color="#94c6de"/><stop offset="0.2446" stop-color="#98c8e0"/><stop offset="0.2493" stop-color="#a0cce2"/><stop offset="0.2540" stop-color="#aad1e5"/><stop offset="0.2587" stop-color="#b6d7e8"/><stop offset="0.2633" stop-color="#c5dfed"/><stop offset="0.2680" stop-color="#d7e8f1"/><stop offset="0.2727" stop-color="#e8f0f4"/><stop offset="0.2774" stop-color="#f7f6f6"/><stop offset="0.2820" stop-color="#f9ece4"/><stop offset="0.2867" stop-color="#fbe2d3"/><stop offset="0.2914" stop-color="#fcd7c2"/><stop offset="0.2961" stop-color="#fac8ae"/><stop offset="0.3007" stop-color="#f7ba9d"/><stop offset="0.3054" stop-color="#f6af8f"/><stop offset="0.3101" stop-color="#f5ac8b"/><stop offset="0.3147" stop-color="#f6b292"/><stop offset="0.3194" stop-color="#f8bea2"/><stop offset="0.3241" stop-color="#faccb4"/><stop offset="0.3288" stop-color="#fddbc7"/><stop offset="0.3334" stop-color="#fbe4d6"/><stop offset="0.3381" stop-color="#f9ede5"/><stop offset="0.3428" stop-color="#f7f6f6"/><stop offset="0.3475" stop-color="#e9f0f4"/><stop offset="0.3521" stop-color="#d9e9f2"/><stop offset="0.3568" stop-color="#c7e0ed"/><stop offset="0.3615" stop-color="#b6d7e8"/><stop offset="0.3662" stop-color="#abd2e5"/><stop offset="0.3708" stop-color="#a1cde2"/><stop offset="0.3755" stop-color="#99c9e0"/><stop offset="0.3802" stop-color="#94c6df"/><stop offset="0.3849" stop-color="#93c5de"/><stop offset="0.3895" stop-color="#93c6de"/><stop offset="0.3942" stop-color="#96c7df"/><stop offset="0.3989" stop-color="#9bcae1"/><stop offset="0.4036" stop-color="#a0cce2"/><stop offset="0.4082" stop-color="#a6cfe4"/><stop offset="0.4129" stop-color="#abd2e5"/><stop offset="0.4176" stop-color="#b1d5e7"/><stop offset="0.4222" stop-color="#b8d8e9"/><stop offset="0.4269" stop-color="#c2ddec"/><stop offset="0.4316" stop-color="#d1e5f0"/><stop offset="0.4363" stop-color="#dceaf2"/><stop offset="0.4409" stop-color="#e7eff4"/><stop offset="0.4456" stop-color="#eff3f6"/><stop offset="0.4503" stop-color="#f4f6f6"/><stop offset="0.4534" stop-color="#f6f6f7"/><stop offset="0.4535" stop-color="#cebaaf"/><stop offset="0.4582" stop-color="#cebaae"/><stop offset="0.4628" stop-color="#ceb9ad"/><stop offset="0.4675" stop-color="#ceb9ac"/><stop offset="0.4722" stop-color="#ceb8ab"/><stop offset="0.4769" stop-color="#cfb8aa"/><stop offset="0.4816" stop-color="#cfb7aa"/><stop offset="0.4863" stop-color="#cfb7a9"/><stop offset="0.4909" stop-color="#cfb7aa"/><stop offset="0.4956" stop-color="#cfb8ab"/><stop offset="0.5003" stop-color="#ceb9ad"/><stop offset="0.5050" stop-color="#cebbb0"/><stop offset="0.5097" stop-color="#cdbeb5"/><stop offset="0.5144" stop-color="#ccc2bb"/><stop offset="0.5191" stop-color="#cbc6c3"/><stop offset="0.5237" stop-color="#cacaca"/><stop offset="0.5284" stop-color="#c3c7c9"/><stop offset="0.5331" stop-color="#bdc4c8"/><stop offset="0.5378" stop-color="#b8c2c7"/><stop offset="0.5425" stop-color="#b4c0c6"/><stop offset="0.5472" stop-color="#b1bfc6"/><stop offset="0.5518" stop-color="#afbec6"/><stop offset="0.5565" stop-color="#aebdc5"/><stop offset="0.5612" stop-color="#adbdc5"/><stop offset="0.5659" stop-color="#adbdc5"/><stop offset="0.5706" stop-color="#adbcc5"/><stop offset="0.5753" stop-color="#adbcc5"/><stop offset="0.5800" stop-color="#adbcc5"/><stop offset="0.5846" stop-color="#adbdc5"/><stop offset="0.5893" stop-color="#adbdc5"/><stop offset="0.5940" stop-color="#aebdc5"/><stop offset="0.5987" stop-color="#afbdc5"/><stop offset="0.6034" stop-color="#b0bec6"/><stop offset="0.6081" stop-color="#b2bfc6"/><stop offset="0.6127" stop-color="#b5c1c7"/><stop offset="0.6174" stop-color="#bac2c7"/><stop offset="0.6221" stop-color="#bfc5c8"/><stop offset="0.6268" stop-color="#c5c8c9"/><stop offset="0.6315" stop-color="#cbcaca"/><stop offset="0.6362" stop-color="#cbc6c3"/><stop offset="0.6409" stop-color="#ccc3bd"/><stop offset="0.6455" stop-color="#cdc0b8"/><stop offset="0.6502" stop-color="#cdbeb5"/><stop offset="0.6549" stop-color="#cebdb2"/><stop offset="0.6596" stop-color="#cebcb1"/><stop offset="0.6643" stop-color="#cebbb0"/><stop offset="0.6690" stop-color="#cebbb0"/><stop offset="0.6736" stop-color="#cebbb0"/><stop offset="0.6783" stop-color="#cebbaf"/><stop offset="0.6830" stop-color="#cebbaf"/><stop offset="0.6877" stop-color="#cebbaf"/><stop offset="0.6924" stop-color="#cebbb0"/><stop offset="0.6971" stop-color="#cebbb0"/><stop offset="0.7017" stop-color="#cebbb1"/><stop offset="0.7064" stop-color="#cebcb2"/><stop offset="0.7111" stop-color="#cdbdb4"/><stop offset="0.7158" stop-color="#cdbfb7"/><stop offset="0.7205" stop-color="#ccc2bc"/><stop offset="0.7252" stop-color="#cbc6c3"/><stop offset="0.7299" stop-color="#cacaca"/><stop offset="0.7345" stop-color="#c3c7c9"/><stop offset="0.7392" stop-color="#bdc4c8"/><stop offset="0.7439" stop-color="#b9c2c7"/><stop offset="0.7486" stop-color="#b6c1c7"/><stop offset="0.7533" stop-color="#b4c0c6"/><stop offset="0.7580" stop-color="#b3bfc6"/><stop offset="0.7626" stop-color="#b3bfc6"/><stop offset="0.7673" stop-color="#b2bfc6"/><stop offset="0.7720" stop-color="#b2bfc6"/><stop offset="0.7767" stop-color="#b2bfc6"/><stop offset="0.7814" stop-color="#b3bfc6"/><stop offset="0.7861" stop-color="#b4c0c6"/><stop offset="0.7908" stop-color="#b5c0c7"/><stop offset="0.7954" stop-color="#b7c1c7"/><stop offset="0.8001" stop-color="#bac2c7"/><stop offset="0.8048" stop-color="#bec5c8"/><stop offset="0.8095" stop-color="#c3c7c9"/><stop offset="0.8142" stop-color="#cacaca"/><stop offset="0.8189" stop-color="#cbc7c4"/><stop offset="0.8235" stop-color="#ccc3be"/><stop offset="0.8282" stop-color="#cdc0b9"/><stop offset="0.8329" stop-color="#cdbfb6"/><stop offset="0.8376" stop-color="#cdbeb5"/><stop offset="0.8423" stop-color="#cdbdb4"/><stop offset="0.8470" stop-color="#cdbdb4"/><stop offset="0.8517" stop-color="#cdbdb4"/><stop offset="0.8563" stop-color="#cdbeb4"/><stop offset="0.8610" stop-color="#cdbeb5"/><stop offset="0.8657" stop-color="#cdbfb6"/><stop offset="0.8704" stop-color="#cdc0b9"/><stop offset="0.8751" stop-color="#ccc3bd"/><stop offset="0.8798" stop-color="#ccc6c3"/><stop offset="0.8844" stop-color="#cbcaca"/><stop offset="0.8891" stop-color="#c5c8c9"/><stop offset="0.8938" stop-color="#bfc5c8"/><stop offset="0.8985" stop-color="#bac3c7"/><stop offset="0.9032" stop-color="#b6c1c7"/><stop offset="0.9079" stop-color="#b4c0c6"/><stop offset="0.9126" stop-color="#b3bfc6"/><stop offset="0.9172" stop-color="#b3bfc6"/><stop offset="0.9219" stop-color="#b2bfc6"/><stop offset="0.9266" stop-color="#b3bfc6"/><stop offset="0.9313" stop-color="#b3c0c6"/><stop offset="0.9360" stop-color="#b5c0c7"/><stop offset="0.9407" stop-color="#b7c1c7"/><stop offset="0.9453" stop-color="#bac3c7"/><stop offset="0.9500" stop-color="#bec4c8"/><stop offset="0.9547" stop-color="#c2c6c9"/><stop offset="0.9594" stop-color="#c5c8ca"/><stop offset="0.9641" stop-color="#c8c9ca"/><stop offset="0.9688" stop-color="#cacaca"/><stop offset="0.9735" stop-color="#cacaca"/><stop offset="0.9781" stop-color="#cacbcb"/><stop offset="0.9828" stop-color="#cbcbcb"/><stop offset="0.9875" stop-color="#cbcbcb"/><stop offset="0.9922" stop-color="#cbcbcb"/><stop offset="0.9969" stop-color="#cbcbcb"/><stop offset="0.9984" stop-color="#cbcbcb"/></linearGradient><linearGradient id="cb" x1="0" y1="0" x2="0" y2="1"><stop offset="0.00" stop-color="#67001f"/><stop offset="0.10" stop-color="#b2182b"/><stop offset="0.20" stop-color="#d6604d"/><stop offset="0.30" stop-color="#f4a582"/><stop offset="0.40" stop-color="#fddbc7"/><stop offset="0.50" stop-color="#f7f7f7"/><stop offset="0.60" stop-color="#d1e5f0"/><stop offset="0.70" stop-color="#92c5de"/><stop offset="0.80" stop-color="#4393c3"/><stop offset="0.90" stop-color="#2166ac"/><stop offset="1.00" stop-color="#053061"/></linearGradient></defs><rect width="755" height="295" fill="#fff"/><rect x="104.5" y="20.50" width="321.00" height="16.17" fill="url(#L0)"/><rect x="104.5" y="36.37" width="321.00" height="16.17" fill="url(#L1)"/><rect x="104.5" y="52.23" width="321.00" height="16.17" fill="url(#L2)"/><rect x="104.5" y="68.10" width="321.00" height="16.17" fill="url(#L3)"/><rect x="104.5" y="83.97" width="321.00" height="16.17" fill="url(#L4)"/><rect x="104.5" y="99.83" width="321.00" height="16.17" fill="url(#L5)"/><rect x="104.5" y="115.70" width="321.00" height="16.17" fill="url(#L6)"/><rect x="104.5" y="131.57" width="321.00" height="16.17" fill="url(#L7)"/><rect x="104.5" y="147.43" width="321.00" height="16.17" fill="url(#L8)"/><rect x="104.5" y="163.30" width="321.00" height="16.17" fill="url(#L9)"/><rect x="104.5" y="179.17" width="321.00" height="16.17" fill="url(#L10)"/><rect x="104.5" y="195.03" width="321.00" height="16.17" fill="url(#L11)"/><rect x="104.5" y="210.90" width="321.00" height="16.17" fill="url(#L12)"/><rect x="104.5" y="226.77" width="321.00" height="16.17" fill="url(#L13)"/><rect x="104.5" y="242.63" width="321.00" height="16.17" fill="url(#L14)"/><rect x="433.5" y="20.50" width="320.00" height="16.17" fill="url(#R0)"/><rect x="433.5" y="36.37" width="320.00" height="16.17" fill="url(#R1)"/><rect x="433.5" y="52.23" width="320.00" height="16.17" fill="url(#R2)"/><rect x="433.5" y="68.10" width="320.00" height="16.17" fill="url(#R3)"/><rect x="433.5" y="83.97" width="320.00" height="16.17" fill="url(#R4)"/><rect x="433.5" y="99.83" width="320.00" height="16.17" fill="url(#R5)"/><rect x="433.5" y="115.70" width="320.00" height="16.17" fill="url(#R6)"/><rect x="433.5" y="131.57" width="320.00" height="16.17" fill="url(#R7)"/><rect x="433.5" y="147.43" width="320.00" height="16.17" fill="url(#R8)"/><rect x="433.5" y="163.30" width="320.00" height="16.17" fill="url(#R9)"/><rect x="433.5" y="179.17" width="320.00" height="16.17" fill="url(#R10)"/><rect x="433.5" y="195.03" width="320.00" height="16.17" fill="url(#R11)"/><rect x="433.5" y="210.90" width="320.00" height="16.17" fill="url(#R12)"/><rect x="433.5" y="226.77" width="320.00" height="16.17" fill="url(#R13)"/><rect x="433.5" y="242.63" width="320.00" height="16.17" fill="url(#R14)"/><rect x="104.5" y="20.5" width="321.00" height="238.00" fill="none" stroke="#3a3a3a" stroke-width="1.1"/><line x1="116.07" y1="258.5" x2="116.07" y2="255.7" stroke="#2a2a2a" stroke-width="1.05"/><line x1="116.07" y1="20.5" x2="116.07" y2="23.3" stroke="#2a2a2a" stroke-width="1.05"/><line x1="127.64" y1="258.5" x2="127.64" y2="255.7" stroke="#2a2a2a" stroke-width="1.05"/><line x1="127.64" y1="20.5" x2="127.64" y2="23.3" stroke="#2a2a2a" stroke-width="1.05"/><line x1="139.21" y1="258.5" x2="139.21" y2="255.7" stroke="#2a2a2a" stroke-width="1.05"/><line x1="139.21" y1="20.5" x2="139.21" y2="23.3" stroke="#2a2a2a" stroke-width="1.05"/><line x1="150.78" y1="258.5" x2="150.78" y2="255.7" stroke="#2a2a2a" stroke-width="1.05"/><line x1="150.78" y1="20.5" x2="150.78" y2="23.3" stroke="#2a2a2a" stroke-width="1.05"/><line x1="162.35" y1="258.5" x2="162.35" y2="253.0" stroke="#2a2a2a" stroke-width="1.05"/><line x1="162.35" y1="20.5" x2="162.35" y2="26.0" stroke="#2a2a2a" stroke-width="1.05"/><line x1="173.92" y1="258.5" x2="173.92" y2="255.7" stroke="#2a2a2a" stroke-width="1.05"/><line x1="173.92" y1="20.5" x2="173.92" y2="23.3" stroke="#2a2a2a" stroke-width="1.05"/><line x1="185.49" y1="258.5" x2="185.49" y2="255.7" stroke="#2a2a2a" stroke-width="1.05"/><line x1="185.49" y1="20.5" x2="185.49" y2="23.3" stroke="#2a2a2a" stroke-width="1.05"/><line x1="197.06" y1="258.5" x2="197.06" y2="255.7" stroke="#2a2a2a" stroke-width="1.05"/><line x1="197.06" y1="20.5" x2="197.06" y2="23.3" stroke="#2a2a2a" stroke-width="1.05"/><line x1="208.63" y1="258.5" x2="208.63" y2="255.7" stroke="#2a2a2a" stroke-width="1.05"/><line x1="208.63" y1="20.5" x2="208.63" y2="23.3" stroke="#2a2a2a" stroke-width="1.05"/><line x1="220.20" y1="258.5" x2="220.20" y2="253.0" stroke="#2a2a2a" stroke-width="1.05"/><line x1="220.20" y1="20.5" x2="220.20" y2="26.0" stroke="#2a2a2a" stroke-width="1.05"/><line x1="231.77" y1="258.5" x2="231.77" y2="255.7" stroke="#2a2a2a" stroke-width="1.05"/><line x1="231.77" y1="20.5" x2="231.77" y2="23.3" stroke="#2a2a2a" stroke-width="1.05"/><line x1="243.34" y1="258.5" x2="243.34" y2="255.7" stroke="#2a2a2a" stroke-width="1.05"/><line x1="243.34" y1="20.5" x2="243.34" y2="23.3" stroke="#2a2a2a" stroke-width="1.05"/><line x1="254.91" y1="258.5" x2="254.91" y2="255.7" stroke="#2a2a2a" stroke-width="1.05"/><line x1="254.91" y1="20.5" x2="254.91" y2="23.3" stroke="#2a2a2a" stroke-width="1.05"/><line x1="266.48" y1="258.5" x2="266.48" y2="255.7" stroke="#2a2a2a" stroke-width="1.05"/><line x1="266.48" y1="20.5" x2="266.48" y2="23.3" stroke="#2a2a2a" stroke-width="1.05"/><line x1="278.05" y1="258.5" x2="278.05" y2="253.0" stroke="#2a2a2a" stroke-width="1.05"/><line x1="278.05" y1="20.5" x2="278.05" y2="26.0" stroke="#2a2a2a" stroke-width="1.05"/><line x1="289.62" y1="258.5" x2="289.62" y2="255.7" stroke="#2a2a2a" stroke-width="1.05"/><line x1="289.62" y1="20.5" x2="289.62" y2="23.3" stroke="#2a2a2a" stroke-width="1.05"/><line x1="301.19" y1="258.5" x2="301.19" y2="255.7" stroke="#2a2a2a" stroke-width="1.05"/><line x1="301.19" y1="20.5" x2="301.19" y2="23.3" stroke="#2a2a2a" stroke-width="1.05"/><line x1="312.76" y1="258.5" x2="312.76" y2="255.7" stroke="#2a2a2a" stroke-width="1.05"/><line x1="312.76" y1="20.5" x2="312.76" y2="23.3" stroke="#2a2a2a" stroke-width="1.05"/><line x1="324.33" y1="258.5" x2="324.33" y2="255.7" stroke="#2a2a2a" stroke-width="1.05"/><line x1="324.33" y1="20.5" x2="324.33" y2="23.3" stroke="#2a2a2a" stroke-width="1.05"/><line x1="335.90" y1="258.5" x2="335.90" y2="253.0" stroke="#2a2a2a" stroke-width="1.05"/><line x1="335.90" y1="20.5" x2="335.90" y2="26.0" stroke="#2a2a2a" stroke-width="1.05"/><line x1="347.47" y1="258.5" x2="347.47" y2="255.7" stroke="#2a2a2a" stroke-width="1.05"/><line x1="347.47" y1="20.5" x2="347.47" y2="23.3" stroke="#2a2a2a" stroke-width="1.05"/><line x1="359.04" y1="258.5" x2="359.04" y2="255.7" stroke="#2a2a2a" stroke-width="1.05"/><line x1="359.04" y1="20.5" x2="359.04" y2="23.3" stroke="#2a2a2a" stroke-width="1.05"/><line x1="370.61" y1="258.5" x2="370.61" y2="255.7" stroke="#2a2a2a" stroke-width="1.05"/><line x1="370.61" y1="20.5" x2="370.61" y2="23.3" stroke="#2a2a2a" stroke-width="1.05"/><line x1="382.18" y1="258.5" x2="382.18" y2="255.7" stroke="#2a2a2a" stroke-width="1.05"/><line x1="382.18" y1="20.5" x2="382.18" y2="23.3" stroke="#2a2a2a" stroke-width="1.05"/><line x1="393.75" y1="258.5" x2="393.75" y2="253.0" stroke="#2a2a2a" stroke-width="1.05"/><line x1="393.75" y1="20.5" x2="393.75" y2="26.0" stroke="#2a2a2a" stroke-width="1.05"/><line x1="405.32" y1="258.5" x2="405.32" y2="255.7" stroke="#2a2a2a" stroke-width="1.05"/><line x1="405.32" y1="20.5" x2="405.32" y2="23.3" stroke="#2a2a2a" stroke-width="1.05"/><line x1="416.89" y1="258.5" x2="416.89" y2="255.7" stroke="#2a2a2a" stroke-width="1.05"/><line x1="416.89" y1="20.5" x2="416.89" y2="23.3" stroke="#2a2a2a" stroke-width="1.05"/><line x1="104.5" y1="249.13" x2="107.3" y2="249.13" stroke="#2a2a2a" stroke-width="1.05"/><line x1="425.5" y1="249.13" x2="422.7" y2="249.13" stroke="#2a2a2a" stroke-width="1.05"/><line x1="104.5" y1="234.80" x2="110.0" y2="234.80" stroke="#2a2a2a" stroke-width="1.05"/><line x1="425.5" y1="234.80" x2="420.0" y2="234.80" stroke="#2a2a2a" stroke-width="1.05"/><line x1="104.5" y1="220.47" x2="107.3" y2="220.47" stroke="#2a2a2a" stroke-width="1.05"/><line x1="425.5" y1="220.47" x2="422.7" y2="220.47" stroke="#2a2a2a" stroke-width="1.05"/><line x1="104.5" y1="206.14" x2="107.3" y2="206.14" stroke="#2a2a2a" stroke-width="1.05"/><line x1="425.5" y1="206.14" x2="422.7" y2="206.14" stroke="#2a2a2a" stroke-width="1.05"/><line x1="104.5" y1="191.81" x2="107.3" y2="191.81" stroke="#2a2a2a" stroke-width="1.05"/><line x1="425.5" y1="191.81" x2="422.7" y2="191.81" stroke="#2a2a2a" stroke-width="1.05"/><line x1="104.5" y1="177.48" x2="107.3" y2="177.48" stroke="#2a2a2a" stroke-width="1.05"/><line x1="425.5" y1="177.48" x2="422.7" y2="177.48" stroke="#2a2a2a" stroke-width="1.05"/><line x1="104.5" y1="163.15" x2="110.0" y2="163.15" stroke="#2a2a2a" stroke-width="1.05"/><line x1="425.5" y1="163.15" x2="420.0" y2="163.15" stroke="#2a2a2a" stroke-width="1.05"/><line x1="104.5" y1="148.82" x2="107.3" y2="148.82" stroke="#2a2a2a" stroke-width="1.05"/><line x1="425.5" y1="148.82" x2="422.7" y2="148.82" stroke="#2a2a2a" stroke-width="1.05"/><line x1="104.5" y1="134.49" x2="107.3" y2="134.49" stroke="#2a2a2a" stroke-width="1.05"/><line x1="425.5" y1="134.49" x2="422.7" y2="134.49" stroke="#2a2a2a" stroke-width="1.05"/><line x1="104.5" y1="120.16" x2="107.3" y2="120.16" stroke="#2a2a2a" stroke-width="1.05"/><line x1="425.5" y1="120.16" x2="422.7" y2="120.16" stroke="#2a2a2a" stroke-width="1.05"/><line x1="104.5" y1="105.83" x2="107.3" y2="105.83" stroke="#2a2a2a" stroke-width="1.05"/><line x1="425.5" y1="105.83" x2="422.7" y2="105.83" stroke="#2a2a2a" stroke-width="1.05"/><line x1="104.5" y1="91.50" x2="110.0" y2="91.50" stroke="#2a2a2a" stroke-width="1.05"/><line x1="425.5" y1="91.50" x2="420.0" y2="91.50" stroke="#2a2a2a" stroke-width="1.05"/><line x1="104.5" y1="77.17" x2="107.3" y2="77.17" stroke="#2a2a2a" stroke-width="1.05"/><line x1="425.5" y1="77.17" x2="422.7" y2="77.17" stroke="#2a2a2a" stroke-width="1.05"/><line x1="104.5" y1="62.84" x2="107.3" y2="62.84" stroke="#2a2a2a" stroke-width="1.05"/><line x1="425.5" y1="62.84" x2="422.7" y2="62.84" stroke="#2a2a2a" stroke-width="1.05"/><line x1="104.5" y1="48.51" x2="107.3" y2="48.51" stroke="#2a2a2a" stroke-width="1.05"/><line x1="425.5" y1="48.51" x2="422.7" y2="48.51" stroke="#2a2a2a" stroke-width="1.05"/><line x1="104.5" y1="34.18" x2="107.3" y2="34.18" stroke="#2a2a2a" stroke-width="1.05"/><line x1="425.5" y1="34.18" x2="422.7" y2="34.18" stroke="#2a2a2a" stroke-width="1.05"/><text x="104.50" y="276.6" text-anchor="middle" font-size="14" font-family="&quot;Liberation Sans&quot;, sans-serif">0</text><text x="162.35" y="276.6" text-anchor="middle" font-size="14" font-family="&quot;Liberation Sans&quot;, sans-serif">50</text><text x="220.20" y="276.6" text-anchor="middle" font-size="14" font-family="&quot;Liberation Sans&quot;, sans-serif">100</text><text x="278.05" y="276.6" text-anchor="middle" font-size="14" font-family="&quot;Liberation Sans&quot;, sans-serif">150</text><text x="335.90" y="276.6" text-anchor="middle" font-size="14" font-family="&quot;Liberation Sans&quot;, sans-serif">200</text><text x="393.75" y="276.6" text-anchor="middle" font-size="14" font-family="&quot;Liberation Sans&quot;, sans-serif">250</text><text x="265.00" y="291.4" text-anchor="middle" font-size="14" font-family="&quot;Liberation Sans&quot;, sans-serif">Time [sec] (Start from 17:03:41.18)</text><text x="100.4" y="96.50" text-anchor="end" font-size="14" font-family="&quot;Liberation Sans&quot;, sans-serif">20</text><text x="100.4" y="168.15" text-anchor="end" font-size="14" font-family="&quot;Liberation Sans&quot;, sans-serif">15</text><text x="100.4" y="239.80" text-anchor="end" font-size="14" font-family="&quot;Liberation Sans&quot;, sans-serif">10</text><rect x="433.5" y="20.5" width="320.00" height="238.00" fill="none" stroke="#3a3a3a" stroke-width="1.1"/><line x1="445.07" y1="258.5" x2="445.07" y2="255.7" stroke="#2a2a2a" stroke-width="1.05"/><line x1="445.07" y1="20.5" x2="445.07" y2="23.3" stroke="#2a2a2a" stroke-width="1.05"/><line x1="456.64" y1="258.5" x2="456.64" y2="255.7" stroke="#2a2a2a" stroke-width="1.05"/><line x1="456.64" y1="20.5" x2="456.64" y2="23.3" stroke="#2a2a2a" stroke-width="1.05"/><line x1="468.21" y1="258.5" x2="468.21" y2="255.7" stroke="#2a2a2a" stroke-width="1.05"/><line x1="468.21" y1="20.5" x2="468.21" y2="23.3" stroke="#2a2a2a" stroke-width="1.05"/><line x1="479.78" y1="258.5" x2="479.78" y2="255.7" stroke="#2a2a2a" stroke-width="1.05"/><line x1="479.78" y1="20.5" x2="479.78" y2="23.3" stroke="#2a2a2a" stroke-width="1.05"/><line x1="491.35" y1="258.5" x2="491.35" y2="253.0" stroke="#2a2a2a" stroke-width="1.05"/><line x1="491.35" y1="20.5" x2="491.35" y2="26.0" stroke="#2a2a2a" stroke-width="1.05"/><line x1="502.92" y1="258.5" x2="502.92" y2="255.7" stroke="#2a2a2a" stroke-width="1.05"/><line x1="502.92" y1="20.5" x2="502.92" y2="23.3" stroke="#2a2a2a" stroke-width="1.05"/><line x1="514.49" y1="258.5" x2="514.49" y2="255.7" stroke="#2a2a2a" stroke-width="1.05"/><line x1="514.49" y1="20.5" x2="514.49" y2="23.3" stroke="#2a2a2a" stroke-width="1.05"/><line x1="526.06" y1="258.5" x2="526.06" y2="255.7" stroke="#2a2a2a" stroke-width="1.05"/><line x1="526.06" y1="20.5" x2="526.06" y2="23.3" stroke="#2a2a2a" stroke-width="1.05"/><line x1="537.63" y1="258.5" x2="537.63" y2="255.7" stroke="#2a2a2a" stroke-width="1.05"/><line x1="537.63" y1="20.5" x2="537.63" y2="23.3" stroke="#2a2a2a" stroke-width="1.05"/><line x1="549.20" y1="258.5" x2="549.20" y2="253.0" stroke="#2a2a2a" stroke-width="1.05"/><line x1="549.20" y1="20.5" x2="549.20" y2="26.0" stroke="#2a2a2a" stroke-width="1.05"/><line x1="560.77" y1="258.5" x2="560.77" y2="255.7" stroke="#2a2a2a" stroke-width="1.05"/><line x1="560.77" y1="20.5" x2="560.77" y2="23.3" stroke="#2a2a2a" stroke-width="1.05"/><line x1="572.34" y1="258.5" x2="572.34" y2="255.7" stroke="#2a2a2a" stroke-width="1.05"/><line x1="572.34" y1="20.5" x2="572.34" y2="23.3" stroke="#2a2a2a" stroke-width="1.05"/><line x1="583.91" y1="258.5" x2="583.91" y2="255.7" stroke="#2a2a2a" stroke-width="1.05"/><line x1="583.91" y1="20.5" x2="583.91" y2="23.3" stroke="#2a2a2a" stroke-width="1.05"/><line x1="595.48" y1="258.5" x2="595.48" y2="255.7" stroke="#2a2a2a" stroke-width="1.05"/><line x1="595.48" y1="20.5" x2="595.48" y2="23.3" stroke="#2a2a2a" stroke-width="1.05"/><line x1="607.05" y1="258.5" x2="607.05" y2="253.0" stroke="#2a2a2a" stroke-width="1.05"/><line x1="607.05" y1="20.5" x2="607.05" y2="26.0" stroke="#2a2a2a" stroke-width="1.05"/><line x1="618.62" y1="258.5" x2="618.62" y2="255.7" stroke="#2a2a2a" stroke-width="1.05"/><line x1="618.62" y1="20.5" x2="618.62" y2="23.3" stroke="#2a2a2a" stroke-width="1.05"/><line x1="630.19" y1="258.5" x2="630.19" y2="255.7" stroke="#2a2a2a" stroke-width="1.05"/><line x1="630.19" y1="20.5" x2="630.19" y2="23.3" stroke="#2a2a2a" stroke-width="1.05"/><line x1="641.76" y1="258.5" x2="641.76" y2="255.7" stroke="#2a2a2a" stroke-width="1.05"/><line x1="641.76" y1="20.5" x2="641.76" y2="23.3" stroke="#2a2a2a" stroke-width="1.05"/><line x1="653.33" y1="258.5" x2="653.33" y2="255.7" stroke="#2a2a2a" stroke-width="1.05"/><line x1="653.33" y1="20.5" x2="653.33" y2="23.3" stroke="#2a2a2a" stroke-width="1.05"/><line x1="664.90" y1="258.5" x2="664.90" y2="253.0" stroke="#2a2a2a" stroke-width="1.05"/><line x1="664.90" y1="20.5" x2="664.90" y2="26.0" stroke="#2a2a2a" stroke-width="1.05"/><line x1="676.47" y1="258.5" x2="676.47" y2="255.7" stroke="#2a2a2a" stroke-width="1.05"/><line x1="676.47" y1="20.5" x2="676.47" y2="23.3" stroke="#2a2a2a" stroke-width="1.05"/><line x1="688.04" y1="258.5" x2="688.04" y2="255.7" stroke="#2a2a2a" stroke-width="1.05"/><line x1="688.04" y1="20.5" x2="688.04" y2="23.3" stroke="#2a2a2a" stroke-width="1.05"/><line x1="699.61" y1="258.5" x2="699.61" y2="255.7" stroke="#2a2a2a" stroke-width="1.05"/><line x1="699.61" y1="20.5" x2="699.61" y2="23.3" stroke="#2a2a2a" stroke-width="1.05"/><line x1="711.18" y1="258.5" x2="711.18" y2="255.7" stroke="#2a2a2a" stroke-width="1.05"/><line x1="711.18" y1="20.5" x2="711.18" y2="23.3" stroke="#2a2a2a" stroke-width="1.05"/><line x1="722.75" y1="258.5" x2="722.75" y2="253.0" stroke="#2a2a2a" stroke-width="1.05"/><line x1="722.75" y1="20.5" x2="722.75" y2="26.0" stroke="#2a2a2a" stroke-width="1.05"/><line x1="734.32" y1="258.5" x2="734.32" y2="255.7" stroke="#2a2a2a" stroke-width="1.05"/><line x1="734.32" y1="20.5" x2="734.32" y2="23.3" stroke="#2a2a2a" stroke-width="1.05"/><line x1="745.89" y1="258.5" x2="745.89" y2="255.7" stroke="#2a2a2a" stroke-width="1.05"/><line x1="745.89" y1="20.5" x2="745.89" y2="23.3" stroke="#2a2a2a" stroke-width="1.05"/><line x1="433.5" y1="249.13" x2="436.3" y2="249.13" stroke="#2a2a2a" stroke-width="1.05"/><line x1="753.5" y1="249.13" x2="750.7" y2="249.13" stroke="#2a2a2a" stroke-width="1.05"/><line x1="433.5" y1="234.80" x2="439.0" y2="234.80" stroke="#2a2a2a" stroke-width="1.05"/><line x1="753.5" y1="234.80" x2="748.0" y2="234.80" stroke="#2a2a2a" stroke-width="1.05"/><line x1="433.5" y1="220.47" x2="436.3" y2="220.47" stroke="#2a2a2a" stroke-width="1.05"/><line x1="753.5" y1="220.47" x2="750.7" y2="220.47" stroke="#2a2a2a" stroke-width="1.05"/><line x1="433.5" y1="206.14" x2="436.3" y2="206.14" stroke="#2a2a2a" stroke-width="1.05"/><line x1="753.5" y1="206.14" x2="750.7" y2="206.14" stroke="#2a2a2a" stroke-width="1.05"/><line x1="433.5" y1="191.81" x2="436.3" y2="191.81" stroke="#2a2a2a" stroke-width="1.05"/><line x1="753.5" y1="191.81" x2="750.7" y2="191.81" stroke="#2a2a2a" stroke-width="1.05"/><line x1="433.5" y1="177.48" x2="436.3" y2="177.48" stroke="#2a2a2a" stroke-width="1.05"/><line x1="753.5" y1="177.48" x2="750.7" y2="177.48" stroke="#2a2a2a" stroke-width="1.05"/><line x1="433.5" y1="163.15" x2="439.0" y2="163.15" stroke="#2a2a2a" stroke-width="1.05"/><line x1="753.5" y1="163.15" x2="748.0" y2="163.15" stroke="#2a2a2a" stroke-width="1.05"/><line x1="433.5" y1="148.82" x2="436.3" y2="148.82" stroke="#2a2a2a" stroke-width="1.05"/><line x1="753.5" y1="148.82" x2="750.7" y2="148.82" stroke="#2a2a2a" stroke-width="1.05"/><line x1="433.5" y1="134.49" x2="436.3" y2="134.49" stroke="#2a2a2a" stroke-width="1.05"/><line x1="753.5" y1="134.49" x2="750.7" y2="134.49" stroke="#2a2a2a" stroke-width="1.05"/><line x1="433.5" y1="120.16" x2="436.3" y2="120.16" stroke="#2a2a2a" stroke-width="1.05"/><line x1="753.5" y1="120.16" x2="750.7" y2="120.16" stroke="#2a2a2a" stroke-width="1.05"/><line x1="433.5" y1="105.83" x2="436.3" y2="105.83" stroke="#2a2a2a" stroke-width="1.05"/><line x1="753.5" y1="105.83" x2="750.7" y2="105.83" stroke="#2a2a2a" stroke-width="1.05"/><line x1="433.5" y1="91.50" x2="439.0" y2="91.50" stroke="#2a2a2a" stroke-width="1.05"/><line x1="753.5" y1="91.50" x2="748.0" y2="91.50" stroke="#2a2a2a" stroke-width="1.05"/><line x1="433.5" y1="77.17" x2="436.3" y2="77.17" stroke="#2a2a2a" stroke-width="1.05"/><line x1="753.5" y1="77.17" x2="750.7" y2="77.17" stroke="#2a2a2a" stroke-width="1.05"/><line x1="433.5" y1="62.84" x2="436.3" y2="62.84" stroke="#2a2a2a" stroke-width="1.05"/><line x1="753.5" y1="62.84" x2="750.7" y2="62.84" stroke="#2a2a2a" stroke-width="1.05"/><line x1="433.5" y1="48.51" x2="436.3" y2="48.51" stroke="#2a2a2a" stroke-width="1.05"/><line x1="753.5" y1="48.51" x2="750.7" y2="48.51" stroke="#2a2a2a" stroke-width="1.05"/><line x1="433.5" y1="34.18" x2="436.3" y2="34.18" stroke="#2a2a2a" stroke-width="1.05"/><line x1="753.5" y1="34.18" x2="750.7" y2="34.18" stroke="#2a2a2a" stroke-width="1.05"/><text x="433.50" y="276.6" text-anchor="middle" font-size="14" font-family="&quot;Liberation Sans&quot;, sans-serif">0</text><text x="491.35" y="276.6" text-anchor="middle" font-size="14" font-family="&quot;Liberation Sans&quot;, sans-serif">50</text><text x="549.20" y="276.6" text-anchor="middle" font-size="14" font-family="&quot;Liberation Sans&quot;, sans-serif">100</text><text x="607.05" y="276.6" text-anchor="middle" font-size="14" font-family="&quot;Liberation Sans&quot;, sans-serif">150</text><text x="664.90" y="276.6" text-anchor="middle" font-size="14" font-family="&quot;Liberation Sans&quot;, sans-serif">200</text><text x="722.75" y="276.6" text-anchor="middle" font-size="14" font-family="&quot;Liberation Sans&quot;, sans-serif">250</text><text x="593.50" y="291.4" text-anchor="middle" font-size="14" font-family="&quot;Liberation Sans&quot;, sans-serif">Time [sec] (Start from 17:03:41.18)</text><text x="194.8" y="13.9" font-size="16.2" font-family="&quot;Liberation Sans&quot;, sans-serif" textLength="140.5" lengthAdjust="spacingAndGlyphs">33 -- 50 mHz filter</text><text x="524.6" y="13.9" font-size="16.2" font-family="&quot;Liberation Sans&quot;, sans-serif" textLength="138.6" lengthAdjust="spacingAndGlyphs">19 -- 27 mHz filter</text><text x="107.7" y="37.6" font-size="17.2" font-weight="normal" font-family="&quot;Liberation Sans&quot;, sans-serif" textLength="229.0" lengthAdjust="spacingAndGlyphs" fill="#fff" stroke="#fff" stroke-width="2.6" stroke-linejoin="round">Height and Time range of</text><text x="107.7" y="37.6" font-size="17.2" font-weight="normal" font-family="&quot;Liberation Sans&quot;, sans-serif" textLength="229.0" lengthAdjust="spacingAndGlyphs" fill="#000" stroke="#000" stroke-width="0.35" stroke-linejoin="round">Height and Time range of</text><text x="107.7" y="60.7" font-size="17.2" font-weight="normal" font-family="&quot;Liberation Sans&quot;, sans-serif" textLength="220.6" lengthAdjust="spacingAndGlyphs" fill="#fff" stroke="#fff" stroke-width="2.6" stroke-linejoin="round">no significant oscillation</text><text x="107.7" y="60.7" font-size="17.2" font-weight="normal" font-family="&quot;Liberation Sans&quot;, sans-serif" textLength="220.6" lengthAdjust="spacingAndGlyphs" fill="#000" stroke="#000" stroke-width="0.35" stroke-linejoin="round">no significant oscillation</text><text x="436.09999999999997" y="37.6" font-size="17.2" font-weight="normal" font-family="&quot;Liberation Sans&quot;, sans-serif" textLength="229.0" lengthAdjust="spacingAndGlyphs" fill="#fff" stroke="#fff" stroke-width="2.6" stroke-linejoin="round">Height and Time range of</text><text x="436.09999999999997" y="37.6" font-size="17.2" font-weight="normal" font-family="&quot;Liberation Sans&quot;, sans-serif" textLength="229.0" lengthAdjust="spacingAndGlyphs" fill="#000" stroke="#000" stroke-width="0.35" stroke-linejoin="round">Height and Time range of</text><text x="436.09999999999997" y="60.7" font-size="17.2" font-weight="normal" font-family="&quot;Liberation Sans&quot;, sans-serif" textLength="220.6" lengthAdjust="spacingAndGlyphs" fill="#fff" stroke="#fff" stroke-width="2.6" stroke-linejoin="round">no significant oscillation</text><text x="436.09999999999997" y="60.7" font-size="17.2" font-weight="normal" font-family="&quot;Liberation Sans&quot;, sans-serif" textLength="220.6" lengthAdjust="spacingAndGlyphs" fill="#000" stroke="#000" stroke-width="0.35" stroke-linejoin="round">no significant oscillation</text><rect x="41" y="18.5" width="10.2" height="241" fill="url(#cb)" stroke="#555" stroke-width="0.8"/><text x="37.2" y="27.0" text-anchor="end" font-size="14" font-family="&quot;Liberation Sans&quot;, sans-serif">4</text><text x="37.2" y="84.1" text-anchor="end" font-size="14" font-family="&quot;Liberation Sans&quot;, sans-serif">2</text><text x="37.2" y="144.7" text-anchor="end" font-size="14" font-family="&quot;Liberation Sans&quot;, sans-serif">0</text><text x="37.2" y="205.2" text-anchor="end" font-size="14" font-family="&quot;Liberation Sans&quot;, sans-serif">-2</text><text x="37.2" y="260.4" text-anchor="end" font-size="14" font-family="&quot;Liberation Sans&quot;, sans-serif">-4</text><text transform="translate(74.8,139.7) rotate(-90)" text-anchor="middle" font-size="14" font-family="&quot;Liberation Sans&quot;, sans-serif">Height from photospheric limb [arcsec]</text><text transform="translate(14.3,139.4) rotate(-90)" text-anchor="middle" font-size="14" font-family="&quot;Liberation Sans&quot;, sans-serif">Velocity amplitude [km s<tspan dy="-5" font-size="9">-1</tspan><tspan dy="5">]</tspan></text><line x1="169.2" y1="107.5" x2="165.6" y2="139.4" stroke="#f010f0" stroke-width="1.6"/><path d="M167.00 107.50H171.40M169.20 105.30V109.70" stroke="#1a1a1a" stroke-width="1"/><path d="M165.80 123.45H170.20M168.00 121.25V125.65" stroke="#1a1a1a" stroke-width="1"/><path d="M163.40 139.40H167.80M165.60 137.20V141.60" stroke="#1a1a1a" stroke-width="1"/><line x1="186.9" y1="107.5" x2="182.5" y2="139.4" stroke="#f010f0" stroke-width="1.6"/><path d="M184.70 107.50H189.10M186.90 105.30V109.70" stroke="#1a1a1a" stroke-width="1"/><path d="M182.40 123.45H186.80M184.60 121.25V125.65" stroke="#1a1a1a" stroke-width="1"/><path d="M180.30 139.40H184.70M182.50 137.20V141.60" stroke="#1a1a1a" stroke-width="1"/><line x1="244.7" y1="107.5" x2="249.3" y2="139.4" stroke="#f010f0" stroke-width="1.6"/><path d="M242.50 107.50H246.90M244.70 105.30V109.70" stroke="#1a1a1a" stroke-width="1"/><path d="M247.10 123.45H251.50M249.30 121.25V125.65" stroke="#1a1a1a" stroke-width="1"/><path d="M246.70 139.40H251.10M248.90 137.20V141.60" stroke="#1a1a1a" stroke-width="1"/><line x1="282.5" y1="107.5" x2="280.0" y2="139.4" stroke="#f010f0" stroke-width="1.6"/><path d="M280.30 107.50H284.70M282.50 105.30V109.70" stroke="#1a1a1a" stroke-width="1"/><path d="M279.50 123.45H283.90M281.70 121.25V125.65" stroke="#1a1a1a" stroke-width="1"/><path d="M278.10 139.40H282.50M280.30 137.20V141.60" stroke="#1a1a1a" stroke-width="1"/><line x1="310.3" y1="107.5" x2="309.6" y2="139.4" stroke="#f010f0" stroke-width="1.6"/><path d="M308.10 107.50H312.50M310.30 105.30V109.70" stroke="#1a1a1a" stroke-width="1"/><path d="M307.50 123.45H311.90M309.70 121.25V125.65" stroke="#1a1a1a" stroke-width="1"/><path d="M307.50 139.40H311.90M309.70 137.20V141.60" stroke="#1a1a1a" stroke-width="1"/><line x1="337.6" y1="107.5" x2="334.7" y2="139.4" stroke="#f010f0" stroke-width="1.6"/><path d="M335.40 107.50H339.80M337.60 105.30V109.70" stroke="#1a1a1a" stroke-width="1"/><path d="M332.70 123.45H337.10M334.90 121.25V125.65" stroke="#1a1a1a" stroke-width="1"/><path d="M333.30 139.40H337.70M335.50 137.20V141.60" stroke="#1a1a1a" stroke-width="1"/><line x1="355.9" y1="107.5" x2="359.7" y2="139.4" stroke="#f010f0" stroke-width="1.6"/><path d="M353.70 107.50H358.10M355.90 105.30V109.70" stroke="#1a1a1a" stroke-width="1"/><path d="M355.40 123.45H359.80M357.60 121.25V125.65" stroke="#1a1a1a" stroke-width="1"/><path d="M357.50 139.40H361.90M359.70 137.20V141.60" stroke="#1a1a1a" stroke-width="1"/><line x1="521.8" y1="234.4" x2="521.8" y2="250.6" stroke="#f010f0" stroke-width="1.6"/><path d="M519.60 234.40H524.00M521.80 232.20V236.60" stroke="#1a1a1a" stroke-width="1"/><path d="M519.60 250.60H524.00M521.80 248.40V252.80" stroke="#1a1a1a" stroke-width="1"/><line x1="547.8" y1="234.4" x2="547.8" y2="250.6" stroke="#f010f0" stroke-width="1.6"/><path d="M545.60 234.40H550.00M547.80 232.20V236.60" stroke="#1a1a1a" stroke-width="1"/><path d="M545.60 250.60H550.00M547.80 248.40V252.80" stroke="#1a1a1a" stroke-width="1"/><text x="146.2" y="147.0" font-size="10.8" font-family="&quot;Liberation Sans&quot;, sans-serif">489</text><text x="146.6" y="155.7" font-size="10.8" font-family="&quot;Liberation Sans&quot;, sans-serif">km s<tspan dx="0.6" dy="-4.6" font-size="6.4">-1</tspan></text><text x="184.2" y="147.0" font-size="10.8" font-family="&quot;Liberation Sans&quot;, sans-serif">450</text><text x="184.5" y="155.7" font-size="10.8" font-family="&quot;Liberation Sans&quot;, sans-serif">km s<tspan dx="0.6" dy="-4.6" font-size="6.4">-1</tspan></text><text x="225.4" y="147.0" font-size="10.8" font-family="&quot;Liberation Sans&quot;, sans-serif">-335</text><text x="225.6" y="155.7" font-size="10.8" font-family="&quot;Liberation Sans&quot;, sans-serif">km s<tspan dx="0.6" dy="-4.6" font-size="6.4">-1</tspan></text><text x="256.8" y="147.0" font-size="10.8" font-family="&quot;Liberation Sans&quot;, sans-serif">868</text><text x="257.3" y="155.7" font-size="10.8" font-family="&quot;Liberation Sans&quot;, sans-serif">km s<tspan dx="0.6" dy="-4.6" font-size="6.4">-1</tspan></text><text x="284.1" y="147.0" font-size="10.8" font-family="&quot;Liberation Sans&quot;, sans-serif">2025</text><text x="284.5" y="155.7" font-size="10.8" font-family="&quot;Liberation Sans&quot;, sans-serif">km s<tspan dx="0.6" dy="-4.6" font-size="6.4">-1</tspan></text><text x="338.4" y="147.0" font-size="10.8" font-family="&quot;Liberation Sans&quot;, sans-serif">578</text><text x="336.3" y="155.7" font-size="10.8" font-family="&quot;Liberation Sans&quot;, sans-serif">km s<tspan dx="0.6" dy="-4.6" font-size="6.4">-1</tspan></text><text x="362.9" y="147.0" font-size="10.8" font-family="&quot;Liberation Sans&quot;, sans-serif">-489</text><text x="362.8" y="155.7" font-size="10.8" font-family="&quot;Liberation Sans&quot;, sans-serif">km s<tspan dx="0.6" dy="-4.6" font-size="6.4">-1</tspan></text><text x="493.2" y="246.3" font-size="10.8" font-family="&quot;Liberation Sans&quot;, sans-serif">1350</text><text x="493.2" y="255" font-size="10.8" font-family="&quot;Liberation Sans&quot;, sans-serif">km s<tspan dx="0.6" dy="-4.6" font-size="6.4">-1</tspan></text><text x="550.6" y="247" font-size="10.8" font-family="&quot;Liberation Sans&quot;, sans-serif">No phase</text><text x="550.6" y="255.7" font-size="10.8" font-family="&quot;Liberation Sans&quot;, sans-serif">shift.</text><rect x="140.2" y="99.6" width="57.5" height="48.5" fill="none" stroke="#fff" stroke-width="1.3"/><rect x="503" y="228" width="75.3" height="30.3" fill="none" stroke="#fff" stroke-width="1.3"/></svg></body></html>
